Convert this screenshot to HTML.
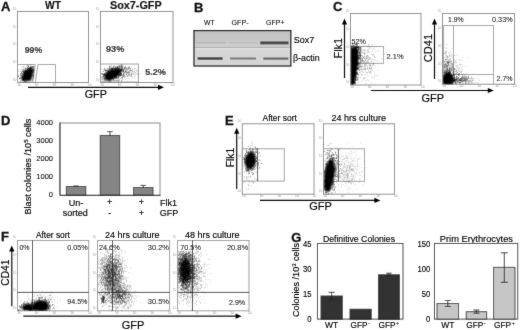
<!DOCTYPE html>
<html><head><meta charset="utf-8"><title>Figure</title>
<style>
html,body{margin:0;padding:0;background:#fff;}
svg{display:block;font-family:"Liberation Sans", sans-serif;}
</style></head><body>
<svg width="520" height="330" viewBox="0 0 520 330">
<defs>
<filter id="gb" x="0" y="0" width="520" height="330" filterUnits="userSpaceOnUse"><feConvolveMatrix order="3" kernelMatrix="0.015 0.06 0.015 0.06 0.70 0.06 0.015 0.06 0.015" divisor="1" edgeMode="duplicate" preserveAlpha="false"/></filter>
<filter id="b0_8" x="-50%" y="-50%" width="200%" height="200%"><feGaussianBlur stdDeviation="0.8"/></filter>
<filter id="b1_0" x="-50%" y="-50%" width="200%" height="200%"><feGaussianBlur stdDeviation="1.0"/></filter>
<filter id="b1_2" x="-50%" y="-50%" width="200%" height="200%"><feGaussianBlur stdDeviation="1.2"/></filter>
<filter id="b2_0" x="-50%" y="-50%" width="200%" height="200%"><feGaussianBlur stdDeviation="2.0"/></filter>
<filter id="b0_6" x="-20%" y="-200%" width="140%" height="500%"><feGaussianBlur stdDeviation="0.6"/></filter>
<linearGradient id="gel" x1="0" y1="0" x2="0" y2="1">
<stop offset="0" stop-color="#c2c2c2"/><stop offset="0.6" stop-color="#c8c8c8"/><stop offset="0.78" stop-color="#cecece"/><stop offset="1" stop-color="#cbcbcb"/>
</linearGradient>
</defs>
<rect width="520" height="330" fill="#fff"/>
<g filter="url(#gb)">
<text x="1" y="10.6" font-size="13" font-weight="bold" text-anchor="start" fill="#111"  stroke="#111" stroke-width="0.3">A</text>
<text x="45" y="8.75" font-size="10" font-weight="bold" text-anchor="start" fill="#111"  stroke="#111" stroke-width="0.12" textLength="15.9" lengthAdjust="spacingAndGlyphs">WT</text>
<text x="110" y="8.75" font-size="10" font-weight="bold" text-anchor="start" fill="#111"  stroke="#111" stroke-width="0.12" textLength="51.7" lengthAdjust="spacingAndGlyphs">Sox7-GFP</text>
<rect x="17.5" y="11.5" width="71.0" height="71.0" fill="#fff" stroke="#858585" stroke-width="0.9"/>
<text x="18.9" y="85.6" font-size="3.2" fill="#888" text-anchor="middle">10</text>
<text x="36.6" y="85.6" font-size="3.2" fill="#888" text-anchor="middle">10</text>
<text x="54.3" y="85.6" font-size="3.2" fill="#888" text-anchor="middle">10</text>
<text x="72.0" y="85.6" font-size="3.2" fill="#888" text-anchor="middle">10</text>
<text x="89.7" y="85.6" font-size="3.2" fill="#888" text-anchor="middle">10</text>
<text x="16.3" y="80.7" font-size="3.2" fill="#a2a2a2" text-anchor="end">10</text>
<text x="16.3" y="63.0" font-size="3.2" fill="#a2a2a2" text-anchor="end">10</text>
<text x="16.3" y="45.3" font-size="3.2" fill="#a2a2a2" text-anchor="end">10</text>
<text x="16.3" y="27.6" font-size="3.2" fill="#a2a2a2" text-anchor="end">10</text>
<text x="16.3" y="9.9" font-size="3.2" fill="#a2a2a2" text-anchor="end">10</text>
<polygon points="17.5,64.5 35.2,64.5 32.7,82.5 17.5,82.5" fill="none" stroke="#989898" stroke-width="0.9"/>
<polygon points="38.0,64.5 55.5,64.5 55.5,82.5 35.3,82.5" fill="none" stroke="#989898" stroke-width="0.9"/>
<path d="M21.6 80.2L22.8 75L27 69.2L33 67.2L33.4 71L31 80.8L24.5 81.2Z" fill="#000" filter="url(#b0_8)"/>
<path d="M28.3 74.5h0.7M24.8 73.4h0.7M24.0 73.9h0.7M30.8 76.2h0.7M24.8 74.7h0.7M29.8 72.9h0.7M25.8 72.0h0.7M29.1 75.3h0.7M22.7 78.1h0.7M19.3 78.6h0.7M21.8 80.3h0.7M24.6 79.1h0.7M27.6 73.1h0.7M27.7 74.4h0.7M22.2 78.7h0.7M23.0 76.1h0.7M28.8 68.7h0.7M29.5 75.7h0.7M25.7 75.9h0.7M28.1 73.7h0.7M24.3 78.6h0.7M27.9 66.3h0.7M30.3 71.1h0.7M30.4 79.9h0.7M27.0 69.1h0.7M29.1 74.8h0.7M28.6 75.9h0.7M28.9 75.4h0.7M30.1 67.6h0.7M27.1 72.4h0.7M25.2 71.4h0.7M25.5 75.7h0.7M32.8 72.8h0.7M22.0 77.4h0.7M24.9 68.1h0.7M26.1 75.5h0.7M32.7 70.7h0.7M25.8 74.5h0.7M30.4 77.6h0.7M25.7 75.0h0.7M28.3 72.5h0.7M24.5 72.7h0.7M26.6 73.2h0.7M32.4 70.9h0.7M29.1 75.3h0.7M29.0 77.1h0.7M28.9 75.1h0.7M24.7 79.3h0.7M18.2 76.5h0.7M24.7 73.5h0.7M33.2 77.4h0.7M23.8 75.9h0.7M29.3 74.1h0.7M26.6 74.3h0.7M30.8 72.4h0.7M24.5 77.6h0.7M25.3 72.0h0.7M26.4 71.5h0.7M30.8 70.8h0.7M26.5 72.6h0.7M22.7 70.9h0.7M25.2 78.7h0.7M27.0 78.5h0.7M24.5 70.8h0.7M26.8 73.7h0.7M24.9 72.8h0.7M29.5 69.0h0.7M25.6 72.8h0.7M22.9 74.0h0.7M30.8 69.2h0.7M30.4 70.5h0.7M24.9 75.9h0.7M26.0 76.0h0.7M25.9 74.8h0.7M21.9 77.6h0.7M30.8 66.8h0.7M25.4 78.4h0.7M28.3 66.3h0.7M25.6 73.6h0.7M27.7 74.2h0.7M26.5 77.5h0.7M25.7 75.7h0.7M21.7 75.8h0.7M30.2 68.3h0.7M28.3 72.9h0.7M25.2 74.7h0.7M28.7 71.2h0.7M27.2 74.6h0.7M32.5 71.0h0.7M27.4 71.6h0.7M25.9 80.7h0.7M30.0 70.2h0.7M30.9 73.4h0.7M32.1 72.6h0.7M29.8 78.4h0.7M26.0 80.1h0.7M31.0 73.8h0.7M20.5 75.1h0.7M27.6 69.2h0.7M29.5 75.5h0.7M18.1 76.2h0.7M28.4 73.1h0.7M27.0 75.0h0.7M21.7 74.4h0.7M24.9 72.9h0.7M24.1 80.9h0.7M28.4 74.9h0.7M23.3 76.4h0.7M22.7 76.0h0.7M26.4 71.9h0.7M29.4 73.3h0.7M29.9 70.6h0.7M24.2 71.5h0.7M28.0 77.0h0.7M27.6 74.4h0.7M29.4 77.1h0.7M22.5 70.1h0.7M21.1 73.0h0.7M31.5 69.3h0.7M22.1 76.6h0.7M31.2 70.2h0.7M27.6 73.7h0.7M29.5 75.3h0.7M29.7 72.4h0.7M25.8 78.7h0.7M28.2 78.4h0.7M23.7 78.4h0.7M24.6 71.7h0.7M28.1 77.1h0.7M22.7 68.0h0.7M28.2 73.0h0.7M25.4 71.8h0.7M26.4 74.7h0.7M31.7 70.3h0.7M31.1 76.7h0.7M25.1 75.3h0.7M32.4 72.1h0.7M29.7 71.8h0.7M27.6 72.8h0.7M27.1 74.8h0.7M33.2 69.5h0.7M26.1 73.2h0.7M29.5 79.2h0.7M29.2 72.3h0.7M24.1 73.3h0.7M29.4 75.8h0.7M26.0 75.0h0.7M27.2 75.0h0.7M22.6 79.4h0.7M27.2 78.7h0.7M26.7 77.8h0.7M31.2 67.9h0.7M26.3 76.5h0.7M25.3 72.2h0.7M33.5 75.9h0.7M26.4 74.6h0.7M25.4 78.4h0.7M21.5 76.5h0.7M29.2 67.7h0.7M29.6 74.0h0.7M32.7 66.6h0.7M22.8 73.7h0.7M31.1 76.5h0.7M28.2 68.8h0.7M24.0 76.2h0.7M28.0 72.6h0.7M28.9 73.8h0.7M26.7 75.0h0.7M28.0 73.1h0.7M33.3 75.5h0.7M29.4 72.0h0.7M23.7 80.8h0.7M18.9 78.5h0.7M31.6 72.2h0.7M23.3 71.5h0.7M25.0 74.1h0.7M26.4 71.8h0.7M24.2 78.1h0.7M24.5 72.6h0.7M25.3 71.5h0.7M33.2 71.9h0.7M29.6 69.2h0.7M28.8 71.9h0.7M25.7 74.8h0.7M20.6 76.1h0.7M29.4 70.8h0.7M30.5 75.0h0.7M20.9 78.9h0.7M29.0 74.1h0.7M28.9 77.2h0.7M25.4 71.1h0.7M26.8 78.8h0.7M24.6 68.9h0.7M32.8 70.2h0.7M30.5 68.4h0.7M24.2 73.1h0.7M30.6 67.1h0.7M24.2 70.4h0.7M28.8 77.1h0.7M26.5 80.5h0.7M26.2 70.9h0.7M25.1 75.0h0.7M26.2 73.2h0.7M24.6 76.5h0.7M21.7 75.4h0.7M29.5 75.8h0.7M23.3 79.6h0.7M23.5 74.6h0.7M28.8 70.0h0.7M30.1 67.2h0.7M28.2 72.2h0.7M26.8 77.8h0.7M28.5 75.6h0.7M25.0 72.2h0.7M27.4 74.5h0.7M28.2 68.9h0.7M23.6 71.1h0.7M27.0 69.7h0.7M22.3 80.4h0.7M27.2 67.3h0.7M22.8 76.6h0.7M25.3 78.8h0.7M23.7 75.6h0.7M27.5 70.5h0.7M26.6 70.7h0.7M20.0 75.1h0.7M32.1 66.7h0.7M28.2 73.1h0.7M28.2 73.5h0.7M30.6 65.2h0.7M20.9 77.8h0.7M25.5 80.2h0.7M27.7 69.3h0.7M22.9 78.4h0.7M26.6 70.2h0.7M28.1 68.3h0.7M23.3 72.3h0.7M28.0 80.0h0.7M29.0 70.3h0.7M20.8 73.8h0.7M26.4 75.4h0.7M27.1 74.1h0.7M24.3 77.9h0.7M30.4 76.4h0.7M32.6 67.0h0.7M25.3 76.7h0.7M24.2 74.9h0.7M25.0 72.3h0.7M29.1 71.6h0.7M27.9 72.8h0.7M23.4 74.9h0.7M25.7 73.9h0.7M28.3 73.1h0.7M23.9 79.1h0.7M22.4 77.8h0.7M22.0 71.4h0.7M28.2 73.9h0.7M26.2 73.8h0.7M24.3 73.6h0.7M25.6 74.0h0.7M25.1 71.5h0.7M28.6 73.4h0.7M26.2 73.7h0.7M25.4 69.0h0.7M29.5 72.8h0.7M29.3 73.7h0.7M25.2 75.9h0.7M30.4 72.5h0.7M24.7 70.5h0.7M31.8 74.1h0.7M31.0 70.8h0.7M25.3 81.3h0.7M21.4 70.0h0.7M25.3 70.0h0.7M22.5 77.6h0.7M30.4 68.7h0.7M32.4 76.1h0.7M31.9 68.0h0.7M24.0 72.6h0.7M26.6 77.3h0.7M29.0 72.8h0.7M28.7 69.0h0.7M29.1 75.5h0.7M31.7 73.8h0.7M28.0 72.0h0.7M26.3 70.9h0.7M24.3 81.0h0.7M28.1 74.8h0.7M22.0 79.5h0.7M23.9 74.6h0.7M20.4 81.6h0.7M31.0 71.4h0.7M25.9 76.2h0.7M23.4 66.3h0.7M28.5 75.4h0.7M33.4 74.6h0.7M31.5 70.4h0.7M30.3 74.3h0.7M26.0 75.9h0.7M27.0 74.5h0.7M31.2 75.7h0.7M30.9 76.7h0.7M24.4 77.2h0.7M28.8 76.1h0.7M27.1 67.5h0.7M25.8 77.9h0.7M22.3 73.7h0.7M31.7 71.1h0.7M27.9 71.4h0.7M30.0 69.8h0.7M28.6 68.4h0.7M25.6 77.5h0.7M27.2 77.8h0.7M26.2 71.4h0.7M27.0 73.1h0.7M28.7 69.6h0.7M29.1 77.8h0.7M28.3 74.2h0.7M31.7 68.2h0.7M25.1 77.7h0.7M27.0 70.9h0.7M19.7 77.4h0.7M27.8 70.2h0.7M27.7 74.9h0.7M28.6 71.2h0.7M27.0 70.6h0.7M24.2 73.5h0.7M30.7 69.8h0.7M24.7 76.1h0.7M28.6 76.1h0.7M20.7 77.9h0.7M32.3 79.9h0.7M30.1 70.3h0.7M26.1 74.2h0.7M32.2 70.5h0.7M28.3 70.7h0.7M30.8 73.2h0.7M28.0 75.5h0.7M28.8 70.9h0.7M23.7 80.8h0.7M24.7 76.1h0.7M25.1 75.6h0.7M30.9 75.1h0.7M33.3 66.9h0.7M20.5 78.9h0.7M23.0 77.5h0.7M23.3 70.1h0.7M25.1 70.1h0.7M28.2 72.7h0.7M26.5 75.0h0.7M24.7 74.9h0.7M22.8 80.0h0.7M33.0 70.5h0.7M29.0 79.0h0.7M27.3 74.1h0.7M27.0 75.2h0.7M26.2 75.4h0.7M23.7 77.3h0.7M28.1 75.8h0.7M27.1 69.4h0.7M29.1 76.4h0.7M28.6 73.2h0.7M30.5 67.2h0.7M26.6 72.8h0.7M27.4 65.1h0.7M24.5 75.5h0.7M30.9 72.7h0.7M28.0 66.1h0.7M29.1 70.8h0.7M26.9 77.4h0.7M20.2 73.6h0.7M23.1 72.7h0.7M26.6 77.0h0.7M32.1 75.7h0.7M23.5 72.0h0.7M23.4 75.1h0.7M25.1 79.2h0.7M21.3 72.8h0.7M29.3 71.3h0.7M28.9 72.9h0.7M29.5 71.8h0.7M32.1 70.3h0.7M29.6 73.3h0.7M23.1 79.0h0.7M27.3 75.3h0.7M25.1 71.5h0.7M22.1 79.7h0.7M25.7 73.0h0.7M26.4 72.5h0.7M27.5 70.7h0.7M29.7 75.9h0.7M24.4 74.2h0.7M27.2 69.1h0.7M26.2 75.7h0.7M22.6 75.8h0.7M21.5 72.0h0.7" stroke="#000" stroke-width="0.7" fill="none" opacity="0.8"/>
<path d="M20.3 80.3h0.6M26.9 73.3h0.6M31.8 72.2h0.6M23.8 72.6h0.6M27.4 70.0h0.6M20.0 78.0h0.6M33.1 68.2h0.6M29.7 67.8h0.6M28.5 68.5h0.6M28.2 69.6h0.6M27.8 75.7h0.6M29.9 67.5h0.6M27.4 74.7h0.6M32.9 69.1h0.6M26.4 67.8h0.6M30.7 71.5h0.6M33.5 78.4h0.6M23.2 78.6h0.6M31.2 74.2h0.6M26.4 77.4h0.6M26.4 76.1h0.6M22.7 72.2h0.6M29.8 76.9h0.6M22.6 78.4h0.6M25.9 68.6h0.6M24.2 70.9h0.6M30.1 71.3h0.6M32.5 78.0h0.6M31.5 78.4h0.6M25.5 71.9h0.6M30.5 75.1h0.6M28.7 75.6h0.6M18.0 71.4h0.6M32.6 72.1h0.6M27.8 74.0h0.6M29.3 68.4h0.6M23.8 77.4h0.6M26.8 65.3h0.6M29.3 67.2h0.6M22.3 71.6h0.6M28.8 78.6h0.6M30.0 67.8h0.6M30.9 74.4h0.6M25.8 78.5h0.6M25.1 73.3h0.6M25.4 77.0h0.6M25.2 72.9h0.6M29.1 79.4h0.6M30.7 75.8h0.6M33.4 70.3h0.6M28.9 69.9h0.6M32.1 73.4h0.6M29.5 70.8h0.6M30.8 74.0h0.6M30.1 77.5h0.6M23.2 73.3h0.6M25.4 70.4h0.6M18.4 74.8h0.6M28.5 75.9h0.6M30.3 69.3h0.6M30.9 69.6h0.6M28.6 76.4h0.6M29.8 68.6h0.6M25.6 75.2h0.6M24.3 71.8h0.6M29.5 68.6h0.6M26.0 70.2h0.6M29.6 73.8h0.6M28.4 68.3h0.6M27.0 77.4h0.6M27.4 74.3h0.6M20.0 71.2h0.6M18.8 69.8h0.6M26.0 70.9h0.6M23.6 77.3h0.6M23.3 69.5h0.6M24.9 67.9h0.6M27.0 72.3h0.6M28.7 76.3h0.6M24.2 71.4h0.6M28.3 71.1h0.6M29.9 70.5h0.6M28.8 78.2h0.6M23.1 74.1h0.6M21.5 72.2h0.6M27.6 66.2h0.6M22.4 77.6h0.6M28.0 67.6h0.6M27.4 80.1h0.6" stroke="#000" stroke-width="0.6" fill="none" opacity="0.5"/>
<text x="24.75" y="53.1" font-size="9.6" font-weight="bold" text-anchor="start" fill="#111"  stroke="#111" stroke-width="0.12" textLength="17.5" lengthAdjust="spacingAndGlyphs">99%</text>
<rect x="100.5" y="11.5" width="72.5" height="71.0" fill="#fff" stroke="#858585" stroke-width="0.9"/>
<text x="101.9" y="85.6" font-size="3.2" fill="#888" text-anchor="middle">10</text>
<text x="119.6" y="85.6" font-size="3.2" fill="#888" text-anchor="middle">10</text>
<text x="137.3" y="85.6" font-size="3.2" fill="#888" text-anchor="middle">10</text>
<text x="155.0" y="85.6" font-size="3.2" fill="#888" text-anchor="middle">10</text>
<text x="172.7" y="85.6" font-size="3.2" fill="#888" text-anchor="middle">10</text>
<text x="99.3" y="80.7" font-size="3.2" fill="#a2a2a2" text-anchor="end">10</text>
<text x="99.3" y="63.0" font-size="3.2" fill="#a2a2a2" text-anchor="end">10</text>
<text x="99.3" y="45.3" font-size="3.2" fill="#a2a2a2" text-anchor="end">10</text>
<text x="99.3" y="27.6" font-size="3.2" fill="#a2a2a2" text-anchor="end">10</text>
<text x="99.3" y="9.9" font-size="3.2" fill="#a2a2a2" text-anchor="end">10</text>
<rect x="100.5" y="64" width="38" height="18" fill="none" stroke="#989898" stroke-width="0.9"/>
<ellipse cx="112.5" cy="74.2" rx="9.00" ry="4.65" transform="rotate(-30 112.5 74.2)" fill="#000" opacity="1.0" filter="url(#b1_0)"/>
<path d="M116.6 70.4h0.7M103.9 73.4h0.7M105.1 70.1h0.7M115.6 70.1h0.7M118.2 78.0h0.7M117.0 67.3h0.7M119.1 74.7h0.7M106.9 73.9h0.7M109.3 70.0h0.7M106.0 76.9h0.7M111.5 75.4h0.7M113.6 72.7h0.7M111.3 72.2h0.7M113.6 74.4h0.7M106.5 75.3h0.7M117.4 72.7h0.7M118.2 80.3h0.7M117.1 72.4h0.7M110.5 73.3h0.7M110.4 73.3h0.7M115.9 70.7h0.7M108.1 72.2h0.7M110.8 71.8h0.7M113.2 77.7h0.7M115.3 74.5h0.7M114.5 73.2h0.7M111.3 73.7h0.7M114.9 68.8h0.7M119.9 70.1h0.7M107.6 75.2h0.7M109.1 76.8h0.7M110.4 79.7h0.7M104.5 70.3h0.7M105.2 70.8h0.7M114.0 77.3h0.7M113.9 68.4h0.7M114.2 73.2h0.7M122.3 77.8h0.7M119.8 70.5h0.7M115.4 74.8h0.7M107.4 73.1h0.7M111.2 71.4h0.7M112.3 74.7h0.7M111.6 74.1h0.7M116.6 75.8h0.7M108.5 73.4h0.7M102.0 76.8h0.7M115.5 72.6h0.7M106.4 76.3h0.7M113.5 75.5h0.7M108.9 75.4h0.7M111.0 75.9h0.7M109.1 73.1h0.7M112.2 74.4h0.7M109.0 69.2h0.7M110.3 72.3h0.7M109.9 76.6h0.7M117.5 74.7h0.7M111.3 78.4h0.7M120.8 73.7h0.7M119.8 69.4h0.7M112.9 77.1h0.7M105.4 79.1h0.7M109.0 74.8h0.7M101.5 77.2h0.7M113.8 76.8h0.7M117.8 70.9h0.7M110.1 72.5h0.7M114.3 72.2h0.7M118.7 77.2h0.7M109.9 70.1h0.7M105.4 72.8h0.7M111.3 69.2h0.7M118.1 75.7h0.7M109.4 73.4h0.7M111.1 76.1h0.7M117.9 75.5h0.7M121.0 73.7h0.7M121.0 71.8h0.7M103.9 78.7h0.7M113.6 72.1h0.7M116.9 70.3h0.7M109.8 81.2h0.7M116.5 72.7h0.7M119.3 74.3h0.7M110.4 66.2h0.7M108.1 75.0h0.7M107.5 77.9h0.7M118.2 69.1h0.7M108.0 72.1h0.7M114.5 74.7h0.7M109.9 78.6h0.7M108.3 73.1h0.7M114.7 75.8h0.7M109.6 77.1h0.7M110.9 80.3h0.7M112.0 74.0h0.7M117.9 74.4h0.7M119.9 71.1h0.7M108.3 74.6h0.7M116.2 74.2h0.7M120.8 71.0h0.7M120.8 75.1h0.7M111.0 69.5h0.7M103.7 73.9h0.7M119.8 66.8h0.7M120.2 72.0h0.7M123.5 71.6h0.7M111.6 74.0h0.7M113.2 74.4h0.7M109.6 75.8h0.7M112.4 70.8h0.7M114.9 76.0h0.7M113.4 76.6h0.7M110.2 77.9h0.7M109.3 66.3h0.7M108.7 77.2h0.7M121.4 70.1h0.7M111.6 69.4h0.7M123.2 74.8h0.7M112.3 73.5h0.7M128.4 67.7h0.7M120.3 71.7h0.7M109.3 81.1h0.7M105.4 77.5h0.7M115.5 75.8h0.7M115.4 74.0h0.7M106.2 73.0h0.7M111.7 72.0h0.7M103.3 74.8h0.7M106.8 70.5h0.7M102.5 73.8h0.7M114.2 74.8h0.7M110.3 78.9h0.7M110.8 74.0h0.7M121.3 67.9h0.7M104.0 74.1h0.7M114.8 74.0h0.7M103.4 75.7h0.7M116.4 74.1h0.7M110.0 78.0h0.7M112.7 67.4h0.7M111.5 76.4h0.7M105.9 70.0h0.7M112.2 77.2h0.7M119.7 74.7h0.7M118.1 71.5h0.7M107.2 79.6h0.7M104.5 69.3h0.7M129.1 67.3h0.7M120.9 65.9h0.7M123.1 74.1h0.7M120.9 69.2h0.7M105.7 77.5h0.7M111.4 71.1h0.7M111.4 74.4h0.7M125.1 71.8h0.7M114.2 77.7h0.7M107.7 75.7h0.7M115.4 67.8h0.7M108.8 71.4h0.7M115.8 78.4h0.7M108.8 77.2h0.7M105.7 73.8h0.7M126.2 68.1h0.7M109.7 78.4h0.7M112.0 77.5h0.7M114.5 74.1h0.7M114.9 70.7h0.7M107.5 70.6h0.7M107.8 71.6h0.7M110.2 72.0h0.7M113.8 75.2h0.7M103.4 76.4h0.7M108.6 79.3h0.7M123.2 71.2h0.7M113.0 79.4h0.7M104.4 68.4h0.7M129.5 70.3h0.7M107.1 77.9h0.7M111.5 75.2h0.7M103.3 77.0h0.7M115.4 73.4h0.7M119.2 70.6h0.7M110.8 68.0h0.7M108.2 78.7h0.7M110.5 71.5h0.7M109.8 73.8h0.7M111.1 77.9h0.7M115.1 70.5h0.7M108.0 77.9h0.7M113.6 77.4h0.7M128.4 68.2h0.7M112.0 73.8h0.7M106.4 74.3h0.7M106.4 76.2h0.7M111.4 77.6h0.7M110.0 74.9h0.7M118.2 77.6h0.7M119.3 75.9h0.7M112.3 77.0h0.7M121.7 75.3h0.7M116.0 75.0h0.7M118.4 68.3h0.7M113.3 70.4h0.7M107.7 74.6h0.7M111.9 75.1h0.7M112.7 68.7h0.7M125.5 71.2h0.7M116.0 70.8h0.7M112.9 76.1h0.7M112.0 68.0h0.7M121.5 80.2h0.7M114.4 72.7h0.7M118.2 66.3h0.7M115.9 77.9h0.7M110.7 73.6h0.7M112.4 72.5h0.7M119.7 66.6h0.7M115.3 67.7h0.7M116.1 71.7h0.7M105.8 76.4h0.7M119.3 66.0h0.7M115.7 78.3h0.7M112.8 70.6h0.7M114.2 78.0h0.7M117.8 71.2h0.7M112.6 73.7h0.7M110.6 70.9h0.7M111.0 77.9h0.7M115.9 71.7h0.7M108.8 76.4h0.7M116.2 70.2h0.7M116.6 76.5h0.7M116.2 72.2h0.7M125.6 69.2h0.7M111.7 77.5h0.7M113.4 70.4h0.7M112.6 73.5h0.7M110.2 73.8h0.7M102.7 78.5h0.7M112.4 74.6h0.7M107.2 79.7h0.7M105.3 77.5h0.7M118.7 68.0h0.7M111.4 79.0h0.7M109.8 74.6h0.7M115.5 76.5h0.7M105.0 74.3h0.7M106.3 74.5h0.7M112.7 70.7h0.7M113.9 75.0h0.7M108.6 76.9h0.7M122.2 69.8h0.7M108.8 76.1h0.7M107.8 77.9h0.7M116.0 69.1h0.7M113.2 78.1h0.7M110.0 76.3h0.7M105.4 75.1h0.7M109.4 74.0h0.7M109.2 75.5h0.7M116.4 72.7h0.7M124.1 68.3h0.7M120.8 70.4h0.7M113.5 68.2h0.7M111.7 74.4h0.7M107.7 68.9h0.7M116.7 70.3h0.7M109.7 74.9h0.7M111.9 76.1h0.7M104.1 75.6h0.7M114.3 73.7h0.7M109.5 73.8h0.7M107.9 76.7h0.7M117.2 67.5h0.7M122.2 71.8h0.7M111.3 77.8h0.7M101.7 73.9h0.7M104.8 77.1h0.7M109.9 73.8h0.7M109.6 67.9h0.7M112.9 68.6h0.7M108.2 75.1h0.7M104.0 74.0h0.7M107.0 77.3h0.7M116.6 73.9h0.7M105.8 75.1h0.7M108.2 78.4h0.7M108.6 73.5h0.7M116.0 76.0h0.7M116.1 76.1h0.7M115.2 77.2h0.7M119.1 70.0h0.7M120.6 70.1h0.7M111.5 71.3h0.7M112.2 77.3h0.7M106.4 80.2h0.7M114.9 73.9h0.7M114.8 70.0h0.7M109.1 67.2h0.7M115.1 70.2h0.7M114.3 66.3h0.7M115.9 71.4h0.7M115.4 69.0h0.7M106.8 74.8h0.7M109.3 72.2h0.7M121.8 75.3h0.7M105.8 71.6h0.7M120.7 73.6h0.7M118.9 74.9h0.7M107.5 76.5h0.7M102.6 74.6h0.7M116.8 69.2h0.7M125.1 67.2h0.7M110.3 78.5h0.7M123.1 69.9h0.7M106.5 79.1h0.7M119.2 68.5h0.7M109.9 79.5h0.7M111.5 70.7h0.7M109.2 73.3h0.7M114.3 73.6h0.7M119.9 72.6h0.7M104.6 80.3h0.7M118.1 72.7h0.7M117.2 69.4h0.7M108.8 79.8h0.7M103.2 71.5h0.7M116.9 68.9h0.7M108.6 71.2h0.7M103.4 75.1h0.7M111.1 76.4h0.7M104.3 74.9h0.7M116.1 71.9h0.7M108.2 77.6h0.7M115.9 77.5h0.7M111.7 78.5h0.7M110.3 79.7h0.7M107.7 75.6h0.7M123.4 69.1h0.7M116.7 80.2h0.7M113.1 70.8h0.7M114.6 68.6h0.7M120.6 74.0h0.7M108.4 74.2h0.7M113.5 73.7h0.7M108.1 78.9h0.7M109.9 74.7h0.7M112.2 69.8h0.7M115.4 71.8h0.7M106.7 72.4h0.7M106.6 78.9h0.7M107.3 77.4h0.7M120.0 73.8h0.7M120.5 68.4h0.7M108.2 80.5h0.7M116.0 76.4h0.7M114.5 77.5h0.7M118.3 73.6h0.7M115.9 73.7h0.7M114.1 74.1h0.7M117.1 69.6h0.7M121.8 68.4h0.7M117.7 70.8h0.7M114.5 80.7h0.7M108.7 71.6h0.7M108.1 75.6h0.7M124.6 68.0h0.7M116.0 68.4h0.7M115.5 75.0h0.7M121.2 66.6h0.7M116.3 73.2h0.7M106.9 77.4h0.7M107.3 68.5h0.7M116.6 73.8h0.7M107.9 71.8h0.7M121.0 70.3h0.7M120.3 75.0h0.7M111.0 78.1h0.7M111.1 74.8h0.7M112.0 74.5h0.7M118.8 71.0h0.7M111.2 73.9h0.7M112.9 70.6h0.7M109.7 75.6h0.7M109.2 75.6h0.7M120.5 71.3h0.7M115.8 80.5h0.7M114.1 72.9h0.7M114.7 74.1h0.7M120.2 69.7h0.7M122.5 65.1h0.7M114.7 69.2h0.7M121.9 67.5h0.7M113.7 77.0h0.7M117.5 67.1h0.7M108.3 71.4h0.7M113.1 73.5h0.7M109.5 73.4h0.7M109.2 73.3h0.7M117.9 76.8h0.7M101.8 80.0h0.7M111.0 76.9h0.7M107.1 76.8h0.7M108.0 79.4h0.7M112.8 73.4h0.7M114.1 72.3h0.7M105.0 80.8h0.7M113.8 72.9h0.7M119.9 74.5h0.7M105.3 75.4h0.7M123.3 73.3h0.7M106.5 73.2h0.7M108.2 74.8h0.7M103.9 79.3h0.7M103.5 74.8h0.7M116.4 69.4h0.7M113.1 76.2h0.7M116.4 70.7h0.7M111.4 71.7h0.7M123.1 70.5h0.7M106.5 77.7h0.7M117.2 73.3h0.7M124.7 72.3h0.7M109.4 75.6h0.7M105.9 78.9h0.7M117.7 81.3h0.7M109.6 68.0h0.7M109.0 76.6h0.7M104.2 75.7h0.7M111.1 76.3h0.7M110.2 72.2h0.7M115.9 70.2h0.7M107.5 71.9h0.7M109.3 78.5h0.7M103.6 79.1h0.7M115.8 70.9h0.7M112.0 70.3h0.7M121.4 73.2h0.7M110.9 68.5h0.7M108.4 80.2h0.7M122.3 69.6h0.7M118.3 68.6h0.7M111.5 74.8h0.7M112.3 68.6h0.7M119.8 75.0h0.7M104.0 74.0h0.7M113.3 71.3h0.7M112.6 72.4h0.7M124.3 67.9h0.7M108.6 76.9h0.7M105.6 75.3h0.7M113.7 71.4h0.7M112.8 80.3h0.7M118.5 73.8h0.7M116.2 73.9h0.7M120.4 69.6h0.7M121.1 65.7h0.7M108.9 71.1h0.7M111.5 76.7h0.7M119.3 67.8h0.7M111.9 73.2h0.7M106.5 73.2h0.7M110.0 69.1h0.7M113.1 73.9h0.7M107.3 73.4h0.7M115.2 71.3h0.7M107.9 80.8h0.7M120.4 66.1h0.7M112.6 78.1h0.7M117.6 78.8h0.7M110.3 77.5h0.7M104.9 70.3h0.7M111.6 74.2h0.7M122.4 67.2h0.7M113.4 75.9h0.7M121.1 69.0h0.7M119.0 72.4h0.7M111.0 75.4h0.7M111.2 71.5h0.7M116.9 66.5h0.7M120.4 73.2h0.7M110.7 72.3h0.7M112.0 76.2h0.7M117.0 72.7h0.7M117.0 69.5h0.7M111.2 69.0h0.7M116.9 72.2h0.7M112.1 78.8h0.7M110.3 70.0h0.7M122.4 77.9h0.7M109.8 76.0h0.7M111.7 76.0h0.7M118.1 75.8h0.7M107.9 77.9h0.7M120.0 72.6h0.7M106.2 75.2h0.7M109.9 75.5h0.7M116.7 66.9h0.7M116.0 74.4h0.7M116.3 73.8h0.7M121.6 70.8h0.7M118.1 73.1h0.7M119.1 69.4h0.7M109.4 72.4h0.7M101.7 79.0h0.7M109.6 77.8h0.7M113.6 72.6h0.7M107.3 74.2h0.7M105.4 76.2h0.7M112.2 73.7h0.7M104.3 77.9h0.7M107.9 77.5h0.7M123.7 70.1h0.7M108.1 70.6h0.7M102.0 73.9h0.7M115.2 69.8h0.7M111.8 72.2h0.7M115.3 77.9h0.7M108.2 75.4h0.7M109.5 79.2h0.7M105.1 74.2h0.7M102.6 74.6h0.7M119.3 80.0h0.7M108.6 80.0h0.7M112.1 70.3h0.7M110.6 74.4h0.7M102.7 81.3h0.7M113.4 71.5h0.7M114.7 76.2h0.7M114.0 74.9h0.7M113.0 66.3h0.7M124.3 76.0h0.7M119.5 74.0h0.7M104.6 78.3h0.7M107.1 75.1h0.7M116.5 68.9h0.7M108.7 69.2h0.7M111.8 75.0h0.7M107.5 74.4h0.7M120.8 64.8h0.7M105.5 75.2h0.7M122.5 76.3h0.7M113.1 71.1h0.7M111.9 78.5h0.7M109.9 81.2h0.7M120.3 69.9h0.7M117.2 74.3h0.7M119.3 66.3h0.7M118.3 69.4h0.7M108.5 76.9h0.7" stroke="#000" stroke-width="0.7" fill="none" opacity="0.85"/>
<path d="M108.9 71.5h0.6M126.8 75.4h0.6M119.5 75.9h0.6M108.7 76.0h0.6M112.2 69.1h0.6M105.8 78.6h0.6M108.0 71.6h0.6M114.7 71.7h0.6M119.7 70.0h0.6M110.7 75.9h0.6M109.9 72.5h0.6M111.2 78.5h0.6M119.7 76.2h0.6M110.0 76.5h0.6M108.3 74.2h0.6M118.4 71.7h0.6M118.3 68.1h0.6M116.8 68.2h0.6M119.9 68.9h0.6M106.1 76.1h0.6M107.5 78.0h0.6M113.8 73.6h0.6M109.2 67.0h0.6M116.6 77.3h0.6M113.6 71.7h0.6M111.0 74.4h0.6M107.4 74.3h0.6M114.4 77.7h0.6M110.9 75.5h0.6M112.3 76.6h0.6M118.8 71.7h0.6M106.1 74.1h0.6M123.6 66.5h0.6M113.5 80.7h0.6M121.2 71.7h0.6M116.4 74.6h0.6M108.3 69.8h0.6M104.0 81.1h0.6M114.7 71.7h0.6M101.3 73.7h0.6M107.2 70.3h0.6M121.2 74.7h0.6M134.2 65.9h0.6M106.5 73.4h0.6M113.3 78.4h0.6M118.0 73.9h0.6M115.4 75.7h0.6M106.4 71.0h0.6M126.6 72.3h0.6M115.3 66.8h0.6M113.2 72.6h0.6M112.7 73.2h0.6M115.3 70.7h0.6M119.0 71.6h0.6M110.2 75.0h0.6M111.1 78.9h0.6M111.2 76.4h0.6M106.6 70.4h0.6M116.6 66.7h0.6M118.1 73.0h0.6M107.2 73.3h0.6M111.6 76.6h0.6M110.1 77.1h0.6M107.2 77.1h0.6M116.7 72.0h0.6M107.0 72.1h0.6M114.4 74.8h0.6M109.1 72.5h0.6M121.5 81.0h0.6M111.1 76.6h0.6M111.9 71.1h0.6M121.7 67.7h0.6M106.6 76.6h0.6M112.5 71.5h0.6M109.3 69.5h0.6M112.5 77.9h0.6M127.8 68.8h0.6M116.9 77.4h0.6M123.1 76.1h0.6M119.8 69.4h0.6M114.7 73.8h0.6M115.0 73.7h0.6M102.6 69.7h0.6M103.5 69.6h0.6M113.0 73.9h0.6M118.8 71.0h0.6M128.1 74.2h0.6M116.5 73.9h0.6M117.6 67.8h0.6M106.6 73.6h0.6M107.0 76.9h0.6M116.4 71.6h0.6M111.2 65.8h0.6M105.8 75.4h0.6M111.5 71.9h0.6M118.9 70.2h0.6M112.6 74.2h0.6M116.5 69.6h0.6M121.3 71.3h0.6M113.7 73.7h0.6M118.3 75.8h0.6M119.9 71.7h0.6M118.9 71.1h0.6M121.2 69.0h0.6M110.8 69.5h0.6" stroke="#000" stroke-width="0.6" fill="none" opacity="0.55"/>
<path d="M123.8 69.8h0.6M137.6 74.5h0.6M115.6 74.7h0.6M122.6 79.3h0.6M118.7 65.2h0.6M125.4 71.6h0.6M122.5 65.5h0.6M127.6 78.5h0.6M113.5 76.8h0.6M121.6 80.8h0.6M127.6 72.2h0.6M131.6 74.6h0.6M121.4 75.2h0.6M121.9 66.7h0.6M137.2 71.6h0.6M121.3 74.0h0.6M115.6 68.2h0.6M122.0 71.0h0.6M125.4 76.6h0.6M122.2 74.5h0.6M128.6 69.1h0.6M126.4 69.6h0.6M131.4 74.3h0.6M125.1 68.2h0.6M125.7 70.2h0.6M129.2 72.4h0.6M120.1 75.9h0.6M129.3 70.8h0.6M132.0 71.8h0.6M123.1 73.2h0.6M120.5 71.3h0.6M124.0 78.0h0.6M134.0 71.9h0.6M134.7 72.7h0.6M127.3 75.8h0.6M126.8 81.0h0.6M126.5 68.7h0.6M132.8 71.4h0.6M131.0 75.6h0.6M129.8 76.1h0.6M135.1 72.6h0.6M130.6 70.3h0.6M122.9 76.4h0.6M127.3 68.3h0.6M127.2 72.2h0.6M120.1 74.3h0.6M122.6 67.5h0.6M118.3 78.8h0.6M115.9 73.6h0.6M128.7 75.0h0.6M117.6 71.7h0.6M125.8 75.5h0.6M121.1 68.8h0.6M131.0 76.6h0.6M127.2 70.7h0.6M127.4 73.2h0.6M130.0 68.6h0.6M125.7 72.3h0.6M118.3 73.5h0.6M125.2 71.4h0.6M127.4 68.0h0.6M124.7 74.3h0.6M126.7 76.5h0.6M117.8 67.7h0.6M126.4 74.3h0.6M137.7 74.9h0.6M119.8 75.5h0.6M119.9 67.7h0.6M140.7 73.9h0.6M129.3 74.7h0.6M135.9 73.8h0.6M132.3 69.3h0.6M116.6 77.7h0.6M133.8 74.5h0.6M126.4 73.4h0.6M120.9 78.0h0.6M129.0 74.5h0.6M127.3 76.4h0.6M128.0 75.3h0.6M118.0 74.5h0.6M138.1 71.0h0.6M124.2 75.8h0.6M130.7 74.9h0.6M115.3 74.5h0.6M117.9 70.0h0.6M128.3 71.8h0.6M129.7 75.3h0.6M119.6 70.6h0.6M118.6 71.0h0.6M118.4 70.6h0.6M123.7 69.4h0.6M116.5 68.2h0.6M127.7 73.0h0.6M131.2 76.4h0.6M123.0 75.1h0.6M116.4 80.6h0.6M132.2 72.1h0.6M118.0 74.1h0.6M113.8 70.2h0.6M129.5 73.1h0.6M122.1 76.0h0.6M118.8 73.8h0.6M122.0 69.9h0.6M127.8 69.4h0.6M136.4 70.8h0.6M136.9 69.1h0.6M128.6 68.7h0.6M117.0 73.3h0.6M129.1 68.5h0.6M132.1 70.1h0.6M125.8 74.1h0.6M128.6 66.7h0.6M134.7 74.7h0.6M122.4 69.3h0.6M114.8 68.2h0.6M128.3 71.6h0.6M118.2 71.0h0.6M134.4 71.7h0.6M121.5 77.4h0.6M127.8 73.0h0.6M121.4 67.5h0.6M118.0 71.2h0.6M123.7 74.0h0.6M128.3 73.6h0.6M126.3 69.4h0.6M112.1 71.0h0.6M119.3 70.6h0.6M123.4 68.6h0.6M118.3 72.5h0.6M125.7 70.6h0.6M128.0 72.1h0.6M118.9 72.9h0.6M136.3 70.5h0.6M132.0 77.5h0.6M134.0 70.0h0.6M137.1 73.2h0.6M123.5 72.0h0.6M128.6 73.0h0.6M123.9 77.2h0.6M120.7 69.3h0.6M129.8 75.2h0.6M131.6 69.2h0.6M131.5 74.4h0.6M135.6 68.6h0.6M126.3 71.9h0.6M115.5 70.4h0.6M131.8 71.2h0.6M120.7 75.8h0.6M130.9 76.2h0.6M120.3 72.6h0.6M131.2 70.6h0.6M120.5 75.6h0.6M134.4 68.9h0.6M109.4 67.9h0.6M118.9 72.3h0.6M128.7 72.3h0.6M120.8 73.3h0.6M119.2 72.6h0.6M121.2 81.9h0.6M129.9 70.0h0.6M119.0 71.3h0.6M115.1 70.3h0.6M120.6 75.8h0.6M122.4 70.1h0.6M117.0 68.8h0.6M124.6 72.1h0.6M131.8 70.7h0.6M131.4 73.7h0.6M125.0 66.0h0.6M117.3 75.3h0.6M133.4 73.5h0.6M129.6 71.4h0.6M122.8 70.5h0.6M130.8 74.0h0.6M123.6 71.7h0.6M128.3 73.9h0.6M120.0 78.6h0.6M126.5 72.8h0.6M133.9 76.3h0.6M124.5 74.6h0.6M118.6 70.6h0.6M111.4 76.9h0.6M113.6 75.1h0.6M120.0 69.5h0.6M123.8 73.7h0.6M128.7 78.8h0.6M127.2 75.8h0.6M121.4 75.2h0.6M125.9 71.2h0.6M124.4 72.6h0.6M126.1 74.2h0.6M121.9 70.3h0.6M129.5 67.0h0.6M121.3 78.1h0.6M108.8 70.4h0.6M129.1 67.2h0.6M133.6 78.1h0.6M130.5 72.0h0.6M127.1 69.7h0.6M129.9 69.0h0.6M123.4 76.2h0.6M118.3 71.6h0.6M126.0 68.2h0.6M132.0 74.0h0.6M115.9 72.6h0.6M120.3 70.6h0.6M125.5 70.4h0.6M130.8 70.4h0.6M130.9 72.7h0.6M130.1 71.0h0.6M122.0 68.9h0.6M128.5 76.0h0.6M137.7 77.2h0.6M126.5 72.1h0.6M127.3 72.7h0.6M133.8 76.0h0.6M120.0 70.5h0.6M133.2 73.8h0.6M123.6 76.8h0.6M122.7 71.8h0.6M122.2 66.1h0.6M130.2 68.7h0.6M121.6 70.3h0.6M129.4 72.6h0.6M125.1 67.1h0.6M124.5 67.8h0.6M126.8 74.0h0.6" stroke="#000" stroke-width="0.6" fill="none" opacity="0.5"/>
<text x="106" y="52.3" font-size="9.6" font-weight="bold" text-anchor="start" fill="#111"  stroke="#111" stroke-width="0.12" textLength="18.3" lengthAdjust="spacingAndGlyphs">93%</text>
<text x="145.2" y="75.2" font-size="9.6" font-weight="bold" text-anchor="start" fill="#111"  stroke="#111" stroke-width="0.12" textLength="20.8" lengthAdjust="spacingAndGlyphs">5.2%</text>
<line x1="28" y1="87.3" x2="160" y2="87.3" stroke="#111" stroke-width="1.2"/>
<polygon points="164.0,87.3 158.0,84.7 158.0,89.9" fill="#000" stroke="#000" stroke-width="0"/>
<text x="84.7" y="98.4" font-size="10.8" font-weight="normal" text-anchor="start" fill="#000"  stroke="#000" stroke-width="0.15" textLength="22.3" lengthAdjust="spacingAndGlyphs">GFP</text>
<text x="194" y="11.5" font-size="13" font-weight="bold" text-anchor="start" fill="#111"  stroke="#111" stroke-width="0.3">B</text>
<text x="204" y="24.6" font-size="7" font-weight="normal" text-anchor="start" fill="#000"  stroke="#000" stroke-width="0.07" textLength="10.6" lengthAdjust="spacingAndGlyphs">WT</text>
<text x="231.6" y="24.6" font-size="7" font-weight="normal" text-anchor="start" fill="#000"  stroke="#000" stroke-width="0.07" textLength="17" lengthAdjust="spacingAndGlyphs">GFP-</text>
<text x="266.1" y="24.6" font-size="7" font-weight="normal" text-anchor="start" fill="#000"  stroke="#000" stroke-width="0.07" textLength="18.4" lengthAdjust="spacingAndGlyphs">GFP+</text>
<rect x="194" y="30.6" width="96.8" height="35.4" fill="#d5d5d5"/>
<rect x="194" y="30.6" width="96.8" height="17.6" fill="url(#gel)"/>
<rect x="194.6" y="47.3" width="95.6" height="0.9" fill="#a6a6a6"/>
<rect x="194.6" y="48.3" width="95.6" height="1.1" fill="#e9e9e9"/>
<rect x="194" y="30.6" width="96.8" height="35.4" fill="none" stroke="#111" stroke-width="1.2"/>
<rect x="196" y="42.099999999999994" width="30" height="1.4" fill="#b4b4b4" opacity="1" filter="url(#b0_6)"/>
<rect x="229" y="42.199999999999996" width="29" height="1.2" fill="#bcbcbc" opacity="1" filter="url(#b0_6)"/>
<rect x="260.2" y="41.4" width="28.30000000000001" height="3.0" fill="#4a4a4a" opacity="1" filter="url(#b0_6)"/>
<rect x="197.6" y="57.3" width="25.0" height="2.4" fill="#3a3a3a" opacity="1" filter="url(#b0_6)"/>
<rect x="230" y="57.5" width="26" height="2.0" fill="#777" opacity="1" filter="url(#b0_6)"/>
<rect x="263.3" y="57.5" width="25.099999999999966" height="2.2" fill="#666" opacity="1" filter="url(#b0_6)"/>
<text x="293.8" y="43.3" font-size="9.2" font-weight="normal" text-anchor="start" fill="#000"  stroke="#000" stroke-width="0.15" textLength="20.4" lengthAdjust="spacingAndGlyphs">Sox7</text>
<text x="293" y="61.3" font-size="9.2" font-weight="normal" text-anchor="start" fill="#000"  stroke="#000" stroke-width="0.15" textLength="26.7" lengthAdjust="spacingAndGlyphs">&#946;-actin</text>
<text x="333" y="11" font-size="13" font-weight="bold" text-anchor="start" fill="#111"  stroke="#111" stroke-width="0.3">C</text>
<rect x="350.5" y="13.5" width="70.5" height="71.5" fill="#fff" stroke="#858585" stroke-width="0.9"/>
<text x="351.9" y="88.1" font-size="3.2" fill="#888" text-anchor="middle">10</text>
<text x="369.6" y="88.1" font-size="3.2" fill="#888" text-anchor="middle">10</text>
<text x="387.3" y="88.1" font-size="3.2" fill="#888" text-anchor="middle">10</text>
<text x="405.0" y="88.1" font-size="3.2" fill="#888" text-anchor="middle">10</text>
<text x="422.7" y="88.1" font-size="3.2" fill="#888" text-anchor="middle">10</text>
<text x="349.3" y="83.2" font-size="3.2" fill="#a2a2a2" text-anchor="end">10</text>
<text x="349.3" y="65.5" font-size="3.2" fill="#a2a2a2" text-anchor="end">10</text>
<text x="349.3" y="47.8" font-size="3.2" fill="#a2a2a2" text-anchor="end">10</text>
<text x="349.3" y="30.1" font-size="3.2" fill="#a2a2a2" text-anchor="end">10</text>
<text x="349.3" y="12.4" font-size="3.2" fill="#a2a2a2" text-anchor="end">10</text>
<rect x="351.2" y="46.5" width="32.4" height="16.8" fill="none" stroke="#989898" stroke-width="0.9"/>
<line x1="360.5" y1="46.5" x2="360.5" y2="63.3" stroke="#8c8c8c" stroke-width="0.9"/>
<clipPath id="cC1"><rect x="350.9" y="14" width="69.6" height="70.5"/></clipPath>
<g clip-path="url(#cC1)"><path d="M350 47.4H357.2L358.2 57L356.6 70L354.4 86H350Z" fill="#000" filter="url(#b0_8)"/></g>
<path d="M355.3 62.8h0.7M357.7 68.8h0.7M356.5 69.6h0.7M356.4 64.6h0.7M352.5 60.9h0.7M353.6 73.6h0.7M353.3 75.1h0.7M354.5 48.7h0.7M352.4 74.6h0.7M355.4 68.7h0.7M354.7 73.6h0.7M355.3 68.1h0.7M354.3 49.3h0.7M358.6 50.1h0.7M354.1 83.1h0.7M354.0 47.4h0.7M354.5 66.8h0.7M357.1 59.0h0.7M356.0 66.0h0.7M353.9 62.5h0.7M353.7 60.3h0.7M353.2 66.1h0.7M355.5 69.6h0.7M351.4 59.7h0.7M356.7 53.9h0.7M353.8 49.4h0.7M355.9 57.0h0.7M355.7 61.6h0.7M357.5 60.1h0.7M358.2 47.0h0.7M353.8 57.7h0.7M352.3 51.4h0.7M355.5 66.0h0.7M357.1 69.6h0.7M354.0 68.1h0.7M356.9 74.0h0.7M355.5 54.4h0.7M355.7 50.5h0.7M355.3 56.3h0.7M356.2 61.8h0.7M355.4 70.9h0.7M351.6 69.9h0.7M357.0 62.8h0.7M353.4 73.3h0.7M353.8 63.9h0.7M357.3 72.9h0.7M357.9 47.6h0.7M351.1 71.5h0.7M356.0 47.7h0.7M356.1 59.7h0.7M354.7 61.9h0.7M352.4 57.6h0.7M353.3 58.0h0.7M352.1 78.3h0.7M355.8 72.7h0.7M353.3 63.3h0.7M355.3 62.8h0.7M355.4 71.0h0.7M353.1 83.1h0.7M355.1 49.9h0.7M359.0 64.0h0.7M355.3 61.0h0.7M356.1 69.2h0.7M353.9 64.8h0.7M354.5 70.3h0.7M351.3 58.4h0.7M354.7 63.5h0.7M357.9 55.6h0.7M359.9 55.7h0.7M357.4 61.4h0.7M356.3 61.4h0.7M355.6 50.1h0.7M353.1 80.3h0.7M354.6 61.5h0.7M357.1 47.8h0.7M352.9 75.1h0.7M357.3 54.8h0.7M352.7 68.6h0.7M351.2 62.8h0.7M352.7 65.8h0.7M351.5 64.9h0.7M352.1 56.7h0.7M357.1 63.5h0.7M357.1 63.7h0.7M357.0 67.8h0.7M354.2 51.4h0.7M358.8 47.9h0.7M355.0 58.9h0.7M351.9 68.9h0.7M353.2 63.8h0.7M354.4 68.2h0.7M355.6 70.0h0.7M353.6 76.0h0.7M354.3 67.8h0.7M356.7 64.6h0.7M357.5 64.9h0.7M355.3 77.9h0.7M356.6 72.0h0.7M354.4 52.0h0.7M354.5 56.0h0.7M355.3 66.6h0.7M354.5 56.1h0.7M353.9 58.9h0.7M359.2 52.5h0.7M354.5 60.1h0.7M352.8 67.7h0.7M355.1 73.9h0.7M358.5 63.1h0.7M357.4 62.2h0.7M353.5 74.0h0.7M353.3 68.5h0.7M354.8 57.5h0.7M352.5 61.3h0.7M357.9 65.0h0.7M352.4 84.1h0.7M355.0 47.8h0.7M355.0 84.0h0.7M356.3 60.2h0.7M354.9 71.0h0.7M355.5 64.5h0.7M352.8 59.2h0.7M359.1 70.5h0.7M354.3 64.0h0.7M355.9 50.4h0.7M352.3 73.4h0.7M353.6 70.6h0.7M352.1 69.6h0.7M355.9 74.1h0.7M353.8 75.1h0.7M356.0 62.8h0.7M353.9 48.1h0.7M354.3 47.8h0.7M356.1 77.8h0.7M352.7 70.8h0.7M351.2 64.1h0.7M355.9 58.2h0.7M352.5 63.3h0.7M353.9 63.3h0.7M356.9 59.3h0.7M353.4 55.3h0.7M353.4 65.5h0.7M358.5 56.3h0.7M358.8 48.7h0.7M354.1 55.0h0.7M354.1 70.9h0.7M352.9 71.3h0.7M355.4 60.6h0.7M357.1 63.6h0.7M351.9 59.6h0.7M357.6 50.8h0.7M352.0 77.3h0.7M353.0 67.1h0.7M360.0 54.7h0.7M355.0 61.5h0.7M354.8 72.7h0.7M353.5 60.3h0.7M358.2 47.7h0.7M354.8 64.1h0.7M358.9 66.8h0.7M354.1 62.0h0.7M354.3 74.0h0.7M355.4 73.9h0.7M353.1 66.6h0.7M354.9 63.3h0.7M357.0 60.2h0.7M354.9 69.1h0.7M355.0 73.1h0.7M354.1 63.7h0.7M355.2 67.9h0.7M355.1 59.4h0.7M359.2 47.5h0.7M357.1 52.0h0.7M354.0 71.4h0.7M355.0 80.5h0.7M356.3 63.6h0.7M352.8 72.5h0.7M352.3 73.9h0.7M357.2 56.3h0.7M352.7 61.0h0.7M353.8 64.4h0.7M355.9 52.2h0.7M356.9 68.2h0.7M354.2 74.3h0.7M354.9 57.7h0.7M358.4 59.8h0.7M357.2 60.8h0.7M354.7 60.4h0.7M352.1 55.2h0.7M353.1 67.6h0.7M356.0 63.2h0.7M352.9 81.3h0.7M356.1 69.7h0.7M355.2 68.9h0.7M355.6 60.6h0.7M357.2 47.4h0.7M355.9 62.0h0.7M353.3 53.6h0.7M353.8 73.5h0.7M359.6 62.7h0.7M352.1 81.3h0.7M353.6 71.1h0.7M356.2 72.2h0.7M354.4 65.5h0.7M353.1 65.3h0.7M352.1 70.2h0.7M355.3 73.1h0.7M357.5 55.2h0.7M357.2 68.4h0.7M357.0 62.0h0.7M352.8 60.2h0.7M355.6 55.4h0.7M353.9 47.1h0.7M354.5 76.1h0.7M356.3 63.7h0.7M356.7 66.3h0.7M352.4 83.3h0.7M354.2 53.2h0.7M352.5 74.6h0.7M354.2 69.9h0.7M351.8 67.4h0.7M354.6 68.3h0.7M355.4 62.8h0.7M353.7 80.5h0.7M355.5 69.8h0.7M354.0 66.8h0.7M354.2 76.7h0.7M351.8 72.9h0.7M354.7 68.1h0.7M353.0 66.6h0.7M353.2 82.3h0.7M354.4 68.6h0.7M355.3 62.0h0.7M351.5 53.6h0.7M351.7 59.2h0.7M354.7 51.5h0.7M355.7 64.2h0.7M355.4 65.9h0.7M357.4 63.2h0.7M355.4 70.2h0.7M354.7 64.9h0.7M352.9 52.5h0.7M352.6 77.0h0.7M354.1 55.4h0.7M356.1 49.5h0.7M355.9 51.1h0.7M354.8 62.9h0.7M354.0 73.8h0.7M355.2 75.8h0.7M355.1 65.3h0.7M356.2 49.9h0.7M355.9 55.8h0.7M354.0 53.1h0.7M352.8 61.1h0.7M355.6 64.2h0.7M354.1 70.1h0.7M354.0 61.4h0.7M358.8 68.1h0.7M353.6 52.7h0.7M355.1 47.0h0.7M355.8 56.0h0.7M352.3 75.7h0.7M354.5 74.3h0.7M359.0 58.0h0.7M355.7 76.3h0.7M356.3 59.4h0.7M354.9 79.6h0.7M354.8 68.3h0.7M357.1 58.0h0.7M354.1 71.8h0.7M354.3 54.5h0.7M355.6 52.7h0.7M357.9 47.0h0.7M355.3 65.8h0.7M356.2 62.4h0.7M357.6 58.5h0.7M357.7 78.8h0.7M357.9 58.3h0.7M354.5 55.0h0.7M352.8 76.7h0.7M354.5 78.6h0.7M352.8 66.7h0.7M354.0 56.4h0.7M356.2 69.7h0.7M357.6 63.2h0.7M356.3 48.0h0.7M353.2 70.5h0.7M352.0 56.1h0.7M353.1 77.6h0.7M354.4 62.2h0.7M356.0 74.3h0.7M351.8 55.9h0.7M358.2 47.5h0.7M360.2 50.8h0.7M356.5 56.3h0.7M356.7 51.7h0.7M354.2 76.2h0.7M352.2 77.7h0.7M355.7 66.0h0.7M356.3 51.6h0.7M356.4 61.7h0.7M361.0 55.5h0.7M355.2 79.0h0.7M355.5 66.5h0.7M357.5 68.4h0.7M352.1 58.6h0.7M354.4 54.5h0.7M353.9 50.7h0.7M355.9 67.1h0.7M354.1 64.1h0.7M359.2 54.2h0.7M358.3 58.7h0.7M355.1 80.2h0.7M354.4 52.4h0.7M356.7 52.9h0.7M356.6 60.5h0.7M352.8 55.3h0.7M355.8 58.3h0.7M355.8 68.8h0.7M354.2 82.1h0.7M357.3 62.8h0.7M353.1 63.5h0.7M355.1 62.1h0.7M353.2 60.9h0.7M356.2 59.3h0.7M352.8 74.0h0.7M357.1 57.9h0.7M355.7 61.6h0.7M356.8 63.0h0.7M354.5 64.2h0.7M351.9 61.1h0.7M357.3 74.0h0.7M354.5 62.9h0.7M357.4 64.9h0.7M355.7 62.4h0.7M356.9 52.0h0.7M359.5 53.9h0.7M356.2 51.4h0.7M357.5 65.1h0.7M351.9 55.2h0.7M357.5 51.3h0.7M354.2 65.6h0.7M354.3 68.8h0.7M354.4 81.6h0.7M358.1 63.4h0.7M351.1 61.8h0.7M354.3 74.7h0.7M353.4 63.8h0.7M357.7 56.4h0.7M356.5 51.2h0.7M354.1 61.9h0.7M355.5 72.3h0.7M357.8 51.2h0.7M354.1 61.9h0.7M354.7 67.3h0.7M356.0 53.2h0.7M356.6 62.5h0.7M353.5 70.2h0.7M357.0 63.9h0.7M351.1 67.5h0.7M352.0 64.2h0.7M353.7 67.9h0.7M354.2 75.4h0.7M354.1 74.1h0.7M354.5 67.5h0.7M356.0 66.4h0.7M354.3 50.9h0.7M352.3 61.5h0.7M352.3 65.4h0.7M359.6 58.6h0.7M354.9 53.9h0.7M356.2 79.9h0.7M353.2 58.7h0.7M354.6 67.4h0.7M356.8 60.4h0.7M356.1 76.9h0.7M352.9 67.8h0.7M356.3 63.9h0.7M355.5 60.5h0.7M356.9 64.4h0.7M358.6 52.0h0.7M353.8 70.4h0.7M351.9 55.1h0.7M355.3 68.9h0.7M358.3 64.4h0.7M355.4 75.0h0.7M355.3 62.8h0.7M358.3 74.3h0.7M352.9 52.9h0.7M356.1 69.7h0.7M353.7 60.5h0.7M354.8 65.1h0.7M355.0 63.8h0.7M356.9 73.3h0.7M353.6 66.6h0.7M351.6 46.6h0.7M355.0 76.3h0.7M356.4 52.0h0.7M353.4 81.0h0.7M358.1 48.8h0.7M354.4 64.3h0.7M356.5 57.1h0.7M354.2 59.3h0.7M351.6 70.3h0.7M357.0 61.0h0.7M354.6 73.4h0.7M357.1 59.0h0.7M351.5 58.8h0.7M352.6 83.9h0.7M356.6 67.0h0.7M355.8 65.1h0.7M355.1 56.2h0.7M355.5 54.7h0.7M355.2 79.1h0.7M354.7 50.8h0.7M356.2 53.0h0.7M355.2 61.9h0.7M353.9 67.0h0.7M354.2 70.8h0.7M354.0 50.7h0.7M354.1 55.9h0.7M356.7 67.8h0.7M353.5 80.9h0.7M352.9 52.9h0.7M353.3 73.7h0.7M351.0 79.8h0.7M351.1 59.3h0.7M355.1 79.0h0.7M355.6 75.4h0.7M355.8 62.5h0.7M353.3 58.9h0.7M356.7 58.0h0.7M351.5 79.2h0.7M352.2 78.8h0.7M352.7 52.7h0.7M355.1 82.5h0.7M352.2 59.0h0.7M352.7 48.0h0.7M352.9 63.0h0.7M355.3 61.8h0.7M354.2 61.9h0.7M357.0 57.7h0.7M353.5 59.6h0.7M352.3 58.0h0.7M353.7 66.7h0.7M355.3 54.1h0.7M353.0 59.8h0.7M355.5 61.4h0.7M357.0 77.4h0.7M353.5 67.1h0.7M355.0 61.8h0.7M357.0 68.9h0.7M353.4 67.5h0.7M352.8 75.0h0.7M352.5 68.6h0.7M354.4 82.7h0.7M354.9 77.8h0.7M354.5 62.5h0.7M355.1 58.4h0.7M356.5 72.7h0.7M356.1 68.7h0.7M352.0 62.0h0.7M355.5 46.8h0.7M356.0 66.8h0.7M354.0 71.5h0.7M353.2 71.8h0.7M354.3 48.8h0.7M351.2 74.4h0.7M355.0 57.1h0.7M353.4 67.3h0.7M355.4 67.6h0.7M352.8 54.2h0.7M354.1 56.5h0.7M352.8 52.9h0.7M353.7 67.8h0.7M355.6 63.7h0.7M352.3 73.1h0.7M354.7 66.9h0.7M351.3 56.0h0.7M353.7 66.8h0.7M353.9 58.7h0.7M355.5 69.7h0.7M354.9 66.5h0.7M354.8 52.1h0.7M356.4 63.0h0.7M355.1 63.6h0.7M356.0 59.6h0.7M355.6 72.8h0.7M353.7 81.8h0.7M354.3 59.0h0.7M355.6 59.1h0.7M355.6 61.6h0.7M357.4 58.2h0.7M353.8 66.2h0.7M352.1 69.5h0.7M355.0 54.9h0.7M354.7 58.9h0.7M357.8 52.4h0.7M353.7 71.4h0.7M356.5 59.6h0.7M354.4 63.6h0.7M357.7 68.1h0.7M357.9 61.4h0.7M356.9 50.1h0.7M355.3 62.6h0.7M352.7 67.5h0.7M356.6 51.8h0.7M354.7 66.8h0.7M354.4 76.7h0.7M353.3 74.8h0.7M354.8 52.3h0.7M356.6 74.8h0.7M355.1 69.7h0.7M351.4 70.7h0.7M352.9 53.3h0.7M351.5 50.2h0.7M353.1 63.8h0.7M355.8 64.1h0.7M356.1 53.6h0.7M353.5 64.6h0.7M354.9 70.1h0.7M353.1 65.5h0.7M351.9 51.6h0.7M353.1 60.2h0.7M357.4 64.8h0.7M352.0 60.1h0.7M357.6 58.3h0.7M358.1 55.4h0.7M354.0 70.9h0.7M354.6 62.4h0.7M353.4 64.4h0.7M355.2 52.3h0.7M356.5 56.2h0.7M354.7 64.8h0.7M357.6 51.9h0.7M358.3 49.1h0.7M355.6 59.4h0.7M354.6 76.2h0.7M354.5 65.1h0.7M354.5 79.1h0.7M352.5 61.6h0.7M355.7 59.6h0.7M355.9 47.7h0.7M353.1 56.7h0.7M357.3 78.8h0.7M352.7 66.6h0.7M352.8 71.1h0.7M354.8 70.8h0.7M353.2 60.7h0.7M351.6 64.3h0.7M352.6 70.4h0.7M354.2 68.0h0.7M355.1 68.4h0.7M356.8 64.7h0.7M356.9 54.5h0.7M357.3 60.1h0.7M356.6 52.6h0.7M353.4 74.1h0.7M353.8 60.6h0.7M358.1 59.2h0.7M357.2 50.5h0.7M355.2 62.8h0.7M355.2 77.2h0.7M356.6 61.2h0.7M351.9 69.7h0.7M354.5 64.1h0.7M352.4 58.9h0.7M353.3 63.8h0.7M358.0 57.1h0.7M356.1 57.6h0.7M353.0 67.2h0.7M354.5 67.5h0.7M352.2 71.5h0.7M354.7 64.6h0.7M356.8 47.3h0.7M354.9 68.9h0.7M354.1 59.9h0.7M356.7 46.7h0.7M355.7 56.7h0.7M357.7 55.0h0.7M352.1 62.6h0.7M356.8 47.0h0.7M353.4 63.6h0.7M355.0 64.4h0.7M356.3 50.7h0.7M356.6 56.1h0.7M353.8 53.6h0.7M354.6 73.0h0.7M351.9 59.2h0.7M354.8 58.3h0.7M351.4 72.3h0.7M353.1 56.1h0.7M354.7 64.5h0.7M358.7 53.7h0.7M355.6 73.0h0.7M351.2 75.4h0.7M355.2 48.4h0.7M356.4 50.9h0.7M354.8 74.9h0.7M355.7 60.9h0.7M354.3 60.2h0.7M357.9 66.7h0.7M358.9 49.2h0.7M354.1 71.5h0.7M352.7 63.2h0.7M358.3 68.3h0.7M353.8 55.6h0.7M356.7 68.6h0.7M359.4 55.2h0.7M352.6 73.5h0.7M354.6 75.4h0.7M353.6 73.0h0.7M355.4 68.7h0.7M355.0 70.0h0.7M355.3 72.2h0.7M354.8 60.0h0.7M356.9 64.0h0.7M354.3 59.9h0.7M354.5 47.7h0.7M359.9 57.1h0.7M352.9 70.2h0.7M353.2 78.6h0.7M355.1 56.1h0.7M352.7 53.1h0.7M357.6 53.3h0.7M353.6 63.6h0.7M354.3 53.3h0.7M352.5 73.8h0.7M352.2 81.6h0.7M355.8 47.2h0.7M357.5 80.1h0.7M356.4 59.9h0.7M355.1 79.3h0.7M351.7 58.8h0.7M352.2 68.5h0.7M355.6 73.2h0.7M353.9 82.0h0.7M354.2 70.6h0.7M353.6 60.4h0.7M351.6 57.3h0.7M356.1 59.8h0.7M352.0 53.9h0.7M352.3 60.0h0.7M353.2 65.0h0.7M355.2 62.7h0.7M354.8 71.3h0.7M355.4 57.7h0.7M354.5 69.2h0.7M357.4 49.5h0.7M352.5 78.8h0.7M352.1 69.5h0.7M355.3 50.1h0.7M353.9 62.3h0.7M355.2 73.4h0.7M356.5 68.4h0.7M355.0 53.6h0.7M359.4 56.0h0.7M356.4 64.0h0.7M356.7 73.1h0.7M355.4 53.9h0.7M351.8 50.7h0.7M352.3 75.6h0.7M356.8 52.8h0.7M355.7 74.8h0.7M353.2 65.7h0.7M353.8 72.7h0.7M354.2 82.2h0.7M351.2 70.6h0.7M353.7 71.5h0.7M358.9 52.9h0.7M360.0 55.4h0.7M354.2 70.1h0.7M356.7 79.9h0.7M353.2 78.3h0.7M356.5 65.2h0.7M353.5 74.1h0.7M359.4 63.2h0.7M355.4 62.3h0.7M355.7 51.5h0.7M351.1 73.9h0.7M358.8 51.2h0.7M353.8 68.6h0.7M355.0 47.4h0.7M357.4 51.7h0.7M356.0 72.3h0.7M355.1 58.2h0.7M354.7 76.0h0.7M357.3 54.1h0.7M354.9 63.7h0.7M358.7 57.7h0.7M353.4 66.4h0.7M353.6 67.8h0.7M352.9 69.3h0.7M357.4 54.2h0.7M355.8 52.0h0.7M353.0 63.1h0.7M355.8 55.5h0.7M355.3 71.1h0.7M355.4 73.9h0.7M357.9 69.2h0.7M354.0 57.7h0.7M355.9 67.2h0.7M351.5 75.5h0.7M356.7 51.3h0.7M355.0 65.3h0.7M353.8 52.8h0.7M354.0 66.4h0.7" stroke="#000" stroke-width="0.7" fill="none" opacity="0.85"/>
<path d="M356.8 50.3h0.6M353.7 43.6h0.6M358.2 48.1h0.6M356.4 47.3h0.6M361.3 47.0h0.6M355.9 43.2h0.6M352.6 45.5h0.6M354.3 47.6h0.6M352.1 50.4h0.6M351.1 46.0h0.6M355.1 44.4h0.6M356.1 48.2h0.6M353.5 50.7h0.6M354.6 47.5h0.6M351.5 43.5h0.6M352.5 46.3h0.6M353.0 48.4h0.6M352.7 45.9h0.6M351.0 48.7h0.6M353.1 47.3h0.6M355.5 48.0h0.6M358.1 46.5h0.6M353.8 48.3h0.6M355.6 46.4h0.6M354.5 45.9h0.6M356.5 48.8h0.6M354.4 50.7h0.6M359.5 46.1h0.6M356.0 44.5h0.6M356.7 44.9h0.6M352.9 44.7h0.6M353.3 44.9h0.6M354.5 46.9h0.6M356.6 46.0h0.6M353.6 50.0h0.6M356.9 45.6h0.6M357.2 44.6h0.6M357.4 46.1h0.6M356.7 48.2h0.6M353.5 47.6h0.6M351.1 46.8h0.6M357.6 55.1h0.6M356.5 47.1h0.6M351.3 49.0h0.6M355.4 44.5h0.6M359.0 49.1h0.6M352.7 45.8h0.6M355.7 48.2h0.6M355.4 47.4h0.6M352.7 47.6h0.6M358.8 49.6h0.6M353.0 46.2h0.6M358.5 50.5h0.6M355.1 49.4h0.6M351.8 48.2h0.6M353.5 51.7h0.6M355.7 46.6h0.6M353.4 49.0h0.6M356.4 44.7h0.6M355.0 44.2h0.6M352.1 44.3h0.6M351.4 48.0h0.6M356.8 46.4h0.6M356.6 48.2h0.6M357.3 46.5h0.6M356.1 45.4h0.6M352.3 44.1h0.6M355.7 44.6h0.6M351.1 45.8h0.6M356.0 44.6h0.6M353.9 42.6h0.6M357.1 44.6h0.6M352.0 48.5h0.6M353.2 45.8h0.6M355.9 47.3h0.6M357.7 48.5h0.6M352.6 46.7h0.6M354.2 44.2h0.6M351.4 48.9h0.6M355.2 46.6h0.6M356.0 47.9h0.6M358.0 46.1h0.6M353.7 46.4h0.6M360.0 48.8h0.6M351.6 46.2h0.6M352.2 46.9h0.6M355.0 51.5h0.6M355.7 45.5h0.6M353.9 45.9h0.6M354.5 48.9h0.6M353.3 49.9h0.6M355.6 49.4h0.6M356.1 49.1h0.6M354.6 45.3h0.6M356.4 48.4h0.6M360.7 42.9h0.6M353.8 49.1h0.6M360.8 49.8h0.6M351.8 49.8h0.6" stroke="#000" stroke-width="0.6" fill="none" opacity="0.6"/>
<path d="M370.9 68.1h0.6M366.1 63.0h0.6M358.6 55.8h0.6M368.2 62.0h0.6M374.9 57.5h0.6M365.5 64.4h0.6M364.2 52.9h0.6M372.8 54.4h0.6M368.1 58.0h0.6M366.4 57.4h0.6M368.4 59.8h0.6M361.1 81.3h0.6M362.5 59.3h0.6M357.4 53.7h0.6M367.8 66.1h0.6M363.9 54.1h0.6M368.0 44.6h0.6M361.8 58.4h0.6M358.8 62.3h0.6M359.9 53.2h0.6M374.7 67.9h0.6M371.1 61.3h0.6M369.7 68.3h0.6M371.2 83.4h0.6M362.6 63.4h0.6M367.7 55.4h0.6M370.8 73.1h0.6M361.5 74.5h0.6M374.5 65.4h0.6M358.1 74.9h0.6M363.0 57.4h0.6M364.7 55.9h0.6M370.4 68.4h0.6M371.3 66.5h0.6M359.2 59.5h0.6M369.3 57.1h0.6M381.5 58.7h0.6M360.5 71.9h0.6M368.5 60.7h0.6M362.6 65.1h0.6M369.0 68.2h0.6M362.2 65.1h0.6M369.1 68.3h0.6M359.3 58.8h0.6M365.1 69.8h0.6M367.7 59.8h0.6M364.1 77.7h0.6M360.3 63.9h0.6M373.4 64.3h0.6M361.7 59.9h0.6M370.3 65.5h0.6M362.4 69.5h0.6M366.6 62.0h0.6M365.8 63.4h0.6M362.0 56.6h0.6M364.2 51.9h0.6M362.6 60.8h0.6M363.2 61.2h0.6M364.1 61.6h0.6M359.2 69.9h0.6M359.8 70.8h0.6M370.0 59.6h0.6M360.0 64.6h0.6M357.7 61.7h0.6M360.1 66.1h0.6M369.3 52.9h0.6M373.7 55.4h0.6M373.2 60.2h0.6M360.1 53.9h0.6M357.4 73.8h0.6M363.5 78.0h0.6M369.1 57.5h0.6M362.6 75.9h0.6M362.4 72.0h0.6M364.0 53.9h0.6M367.0 55.3h0.6M371.4 70.1h0.6M364.4 66.8h0.6M367.4 58.4h0.6M369.4 58.8h0.6M367.7 52.0h0.6M364.6 65.0h0.6M359.3 57.1h0.6M360.8 67.9h0.6M359.7 65.2h0.6M373.2 64.4h0.6M370.3 58.3h0.6M370.7 66.9h0.6M366.6 58.6h0.6M361.0 58.6h0.6M364.4 66.1h0.6M366.6 58.2h0.6M364.5 64.8h0.6M359.3 59.2h0.6M362.4 58.7h0.6M358.8 67.5h0.6M365.7 45.5h0.6M364.2 50.4h0.6M374.3 56.8h0.6M361.7 61.9h0.6M362.9 60.6h0.6M373.4 63.3h0.6M369.1 71.9h0.6M358.3 77.2h0.6M368.2 70.3h0.6M358.9 68.9h0.6M366.6 56.1h0.6M377.8 66.6h0.6M362.7 63.0h0.6M369.6 71.9h0.6M367.6 72.7h0.6M372.9 49.5h0.6M361.2 52.3h0.6M364.7 74.9h0.6M368.0 51.3h0.6M362.4 71.0h0.6M360.9 60.3h0.6M368.8 64.4h0.6M367.5 51.9h0.6M359.5 55.5h0.6M365.6 61.9h0.6M364.9 78.2h0.6M372.0 54.4h0.6M360.2 77.5h0.6M362.2 74.3h0.6M373.7 56.0h0.6M362.5 62.0h0.6M358.9 51.9h0.6M361.7 69.3h0.6M361.4 59.2h0.6M361.3 48.2h0.6M360.2 66.5h0.6M371.6 53.0h0.6M365.4 50.6h0.6M367.2 62.0h0.6M365.4 74.2h0.6M366.9 74.0h0.6M367.9 49.8h0.6M365.7 65.8h0.6M364.5 64.7h0.6M358.7 61.9h0.6M365.9 58.1h0.6M372.3 50.6h0.6M359.1 66.3h0.6M358.6 63.9h0.6M358.4 82.1h0.6M367.4 79.8h0.6M358.0 67.5h0.6M358.4 66.7h0.6M368.2 46.0h0.6M357.3 50.1h0.6M358.3 47.4h0.6M364.7 66.3h0.6M364.1 58.9h0.6M359.9 68.8h0.6M369.2 67.6h0.6M362.8 80.0h0.6M374.5 57.3h0.6M363.3 72.4h0.6M359.3 64.9h0.6M364.3 54.4h0.6M362.7 46.2h0.6M377.7 75.4h0.6M371.4 64.0h0.6M370.0 73.2h0.6M370.1 69.8h0.6M358.6 65.1h0.6M360.8 49.8h0.6M357.2 65.1h0.6M370.4 48.1h0.6M374.5 75.0h0.6M361.7 56.6h0.6M363.6 70.4h0.6M361.7 50.5h0.6M364.9 72.0h0.6M365.8 68.4h0.6M367.0 67.9h0.6M364.9 53.1h0.6M362.7 60.3h0.6M371.6 76.4h0.6M366.5 53.8h0.6M359.6 59.2h0.6M372.3 64.2h0.6M363.7 53.7h0.6M369.3 63.7h0.6M363.7 62.0h0.6M374.1 59.5h0.6M374.1 72.8h0.6M364.3 69.4h0.6M363.3 53.1h0.6M362.4 52.4h0.6M367.1 61.1h0.6M367.4 68.9h0.6M358.7 62.0h0.6M372.2 44.8h0.6M365.1 60.3h0.6M364.2 56.2h0.6M358.4 57.5h0.6M361.7 60.3h0.6M357.7 66.1h0.6M361.1 48.1h0.6M359.1 57.3h0.6M369.1 65.6h0.6M362.0 61.2h0.6M365.3 80.4h0.6M360.3 65.4h0.6M368.4 51.9h0.6M365.1 62.6h0.6M361.2 66.4h0.6M370.2 71.7h0.6M362.8 62.8h0.6M378.1 50.5h0.6M365.3 69.5h0.6M364.9 67.2h0.6M365.0 68.2h0.6M371.7 58.9h0.6M365.2 60.5h0.6M361.6 60.8h0.6M357.2 68.1h0.6M374.2 77.2h0.6M371.7 51.8h0.6M373.1 54.2h0.6M363.7 78.5h0.6M357.6 69.0h0.6M365.7 59.6h0.6M358.7 65.0h0.6M361.2 70.9h0.6M371.3 47.9h0.6M361.0 58.0h0.6M364.5 59.0h0.6M367.1 49.5h0.6M358.5 76.1h0.6M371.9 45.6h0.6M361.3 66.3h0.6M363.1 44.8h0.6M367.0 67.7h0.6M362.5 57.9h0.6M366.6 72.5h0.6M364.9 66.1h0.6M363.7 57.4h0.6M358.5 63.4h0.6M362.2 58.7h0.6M369.6 65.6h0.6M369.2 46.0h0.6M367.4 55.4h0.6M359.2 52.9h0.6M371.3 68.9h0.6M359.7 50.2h0.6M364.1 56.6h0.6M374.0 47.1h0.6M364.1 62.3h0.6M368.5 80.7h0.6M361.9 55.8h0.6M369.1 58.5h0.6M371.1 61.3h0.6M373.1 64.2h0.6M357.7 55.0h0.6M365.6 69.3h0.6M375.7 60.5h0.6M362.6 50.5h0.6M369.9 64.7h0.6M360.4 67.5h0.6M368.5 62.3h0.6M361.7 57.0h0.6M374.5 75.6h0.6M375.0 50.1h0.6M360.1 69.6h0.6M370.4 65.4h0.6M365.3 57.0h0.6M361.6 66.8h0.6M359.7 72.7h0.6M361.0 52.7h0.6M371.8 59.6h0.6M367.3 57.1h0.6M365.8 65.0h0.6M364.6 49.5h0.6M369.3 47.1h0.6M361.2 53.5h0.6M361.7 69.1h0.6M360.2 66.4h0.6M368.2 44.7h0.6M357.0 57.4h0.6M360.4 63.9h0.6M368.5 59.4h0.6M360.8 66.4h0.6M363.5 67.9h0.6M361.4 74.7h0.6M366.9 46.6h0.6M368.4 49.4h0.6M364.6 52.3h0.6M361.4 62.7h0.6M363.4 57.4h0.6M376.9 61.1h0.6M358.2 69.8h0.6M368.9 72.6h0.6M374.7 52.1h0.6M370.4 71.8h0.6M364.0 63.3h0.6M374.7 44.0h0.6M360.8 63.7h0.6M367.5 76.5h0.6M369.2 48.5h0.6M363.8 78.9h0.6M371.9 66.1h0.6M366.3 58.1h0.6M362.7 51.8h0.6M365.5 58.0h0.6M362.1 60.2h0.6M368.6 63.3h0.6M366.8 56.6h0.6M370.9 68.4h0.6M358.1 64.0h0.6M375.9 75.8h0.6M363.7 69.5h0.6M360.0 47.2h0.6M367.3 63.3h0.6M367.1 60.8h0.6M366.0 56.1h0.6M366.8 68.9h0.6M363.6 68.7h0.6M372.7 77.7h0.6M365.5 60.0h0.6M368.7 46.9h0.6M367.4 65.7h0.6M366.6 50.3h0.6M367.3 46.8h0.6M372.9 62.3h0.6M357.0 73.8h0.6M370.9 54.8h0.6M377.2 51.5h0.6M365.9 72.2h0.6M363.6 60.9h0.6M357.5 64.1h0.6M357.3 51.8h0.6M361.3 49.3h0.6M373.4 48.4h0.6M359.5 58.0h0.6M364.0 68.5h0.6M368.9 58.1h0.6M361.7 61.3h0.6M368.9 67.6h0.6M376.9 70.0h0.6M365.6 64.2h0.6M360.9 51.5h0.6M362.0 58.9h0.6M360.2 47.2h0.6M362.1 66.5h0.6M361.0 61.2h0.6M363.3 49.4h0.6M359.1 65.6h0.6M361.5 66.9h0.6M362.0 46.7h0.6M363.5 57.9h0.6M367.9 56.7h0.6M361.6 69.2h0.6M371.0 68.2h0.6M370.2 65.3h0.6M368.6 69.3h0.6M366.4 61.6h0.6M364.9 83.8h0.6M364.1 58.8h0.6M361.8 60.7h0.6" stroke="#000" stroke-width="0.55" fill="none" opacity="0.5"/>
<text x="351.5" y="43.7" font-size="7.4" font-weight="normal" text-anchor="start" fill="#000"  stroke="#000" stroke-width="0.07" textLength="14.2" lengthAdjust="spacingAndGlyphs">52%</text>
<text x="386.6" y="58.9" font-size="7.4" font-weight="normal" text-anchor="start" fill="#000"  stroke="#000" stroke-width="0.07" textLength="17" lengthAdjust="spacingAndGlyphs">2.1%</text>
<line x1="344.5" y1="78" x2="344.5" y2="22.4" stroke="#111" stroke-width="1.2"/>
<polygon points="344.5,18.4 341.9,24.4 347.1,24.4" fill="#000" stroke="#000" stroke-width="0"/>
<text transform="translate(341.8 48.2) rotate(-90)" font-size="10.8" text-anchor="middle" fill="#000" textLength="20.6" lengthAdjust="spacingAndGlyphs" stroke="#000" stroke-width="0.15">Flk1</text>
<rect x="442.5" y="13.5" width="72.0" height="70.7" fill="#fff" stroke="#858585" stroke-width="0.9"/>
<text x="443.9" y="87.3" font-size="3.2" fill="#888" text-anchor="middle">10</text>
<text x="461.6" y="87.3" font-size="3.2" fill="#888" text-anchor="middle">10</text>
<text x="479.3" y="87.3" font-size="3.2" fill="#888" text-anchor="middle">10</text>
<text x="497.0" y="87.3" font-size="3.2" fill="#888" text-anchor="middle">10</text>
<text x="514.7" y="87.3" font-size="3.2" fill="#888" text-anchor="middle">10</text>
<text x="441.3" y="82.4" font-size="3.2" fill="#a2a2a2" text-anchor="end">10</text>
<text x="441.3" y="64.7" font-size="3.2" fill="#a2a2a2" text-anchor="end">10</text>
<text x="441.3" y="47.0" font-size="3.2" fill="#a2a2a2" text-anchor="end">10</text>
<text x="441.3" y="29.3" font-size="3.2" fill="#a2a2a2" text-anchor="end">10</text>
<text x="441.3" y="11.6" font-size="3.2" fill="#a2a2a2" text-anchor="end">10</text>
<path d="M443.6 84.2V25.5H493.5V84.2M453.5 25.5V74.5H493.5" fill="none" stroke="#989898" stroke-width="0.9"/>
<clipPath id="cC2"><rect x="443" y="14" width="71" height="70.2"/></clipPath>
<g clip-path="url(#cC2)"><ellipse cx="447.6" cy="79.6" rx="5.6" ry="6" fill="#000" filter="url(#b1_0)"/></g>
<path d="M449.2 74.3h0.7M448.8 83.4h0.7M454.3 80.3h0.7M446.3 74.1h0.7M445.4 79.0h0.7M448.3 81.4h0.7M447.1 79.2h0.7M445.6 76.9h0.7M453.9 79.5h0.7M449.6 74.9h0.7M453.5 75.7h0.7M451.2 79.2h0.7M444.8 82.9h0.7M448.4 79.5h0.7M449.9 78.7h0.7M446.9 80.7h0.7M446.8 79.1h0.7M445.9 72.8h0.7M445.9 76.8h0.7M448.4 83.5h0.7M446.5 69.8h0.7M448.6 78.3h0.7M447.7 75.4h0.7M454.3 81.3h0.7M447.0 83.6h0.7M448.9 81.4h0.7M449.1 74.7h0.7M451.8 79.4h0.7M444.7 75.7h0.7M451.7 77.3h0.7M448.5 81.4h0.7M448.8 72.7h0.7M450.6 82.6h0.7M449.6 81.9h0.7M454.0 77.6h0.7M451.4 75.3h0.7M452.4 80.1h0.7M449.8 79.4h0.7M453.2 81.0h0.7M445.8 80.7h0.7M450.9 75.9h0.7M446.7 77.3h0.7M446.1 80.2h0.7M452.6 82.9h0.7M446.9 81.6h0.7M449.5 78.3h0.7M446.7 76.8h0.7M447.3 73.9h0.7M450.2 78.7h0.7M448.7 80.2h0.7M450.9 76.4h0.7M447.9 72.4h0.7M453.8 71.5h0.7M455.0 82.6h0.7M456.8 81.3h0.7M445.7 80.9h0.7M446.7 73.6h0.7M446.4 78.7h0.7M445.9 79.4h0.7M447.5 77.2h0.7M444.0 73.2h0.7M445.7 80.0h0.7M455.8 83.1h0.7M454.9 80.8h0.7M448.0 73.6h0.7M448.4 70.3h0.7M449.5 83.4h0.7M447.0 73.4h0.7M446.6 77.3h0.7M445.7 77.5h0.7M447.9 77.5h0.7M443.9 79.3h0.7M449.7 80.4h0.7M444.0 78.4h0.7M444.7 77.8h0.7M446.8 76.6h0.7M444.6 71.8h0.7M454.6 79.9h0.7M448.0 81.1h0.7M448.5 83.7h0.7M450.2 80.2h0.7M447.5 80.0h0.7M452.6 70.6h0.7M447.9 77.3h0.7M447.3 71.0h0.7M451.0 75.5h0.7M447.6 76.9h0.7M447.3 78.9h0.7M448.6 78.4h0.7M456.1 80.7h0.7M444.0 76.5h0.7M446.1 78.2h0.7M446.2 75.5h0.7M454.4 79.1h0.7M447.2 77.9h0.7M450.1 83.4h0.7M448.5 72.1h0.7M450.5 76.5h0.7M452.2 83.7h0.7M451.0 74.8h0.7M457.5 74.3h0.7M448.2 73.2h0.7M453.2 80.7h0.7M451.6 79.3h0.7M448.2 79.7h0.7M451.7 77.4h0.7M448.4 80.2h0.7M454.1 80.7h0.7M448.6 76.9h0.7M448.7 78.0h0.7M448.7 82.0h0.7M450.0 80.1h0.7M450.8 79.7h0.7M448.4 80.9h0.7M443.8 82.3h0.7M448.5 83.4h0.7M448.6 75.2h0.7M452.3 79.7h0.7M448.9 79.3h0.7M452.1 82.3h0.7M449.3 72.8h0.7M447.0 79.4h0.7M454.9 80.5h0.7M448.2 83.8h0.7M448.1 78.9h0.7M449.1 73.0h0.7M451.9 80.7h0.7M447.5 74.4h0.7M446.2 74.8h0.7M450.0 72.6h0.7M446.0 77.9h0.7M446.5 80.4h0.7M447.7 76.6h0.7M446.9 81.6h0.7M452.0 82.6h0.7M451.0 65.8h0.7M444.9 77.8h0.7M449.3 72.6h0.7M453.6 80.2h0.7M446.3 79.7h0.7M447.3 76.0h0.7M450.3 77.2h0.7M448.1 74.7h0.7M453.1 74.7h0.7M454.8 82.6h0.7M445.1 79.6h0.7M452.8 78.3h0.7M444.2 79.5h0.7M455.7 73.1h0.7M450.5 79.1h0.7M448.1 77.5h0.7M447.4 83.2h0.7M450.7 75.1h0.7M454.2 73.9h0.7M450.9 79.8h0.7M452.9 80.5h0.7M452.4 79.0h0.7M452.1 80.5h0.7M456.3 76.3h0.7M452.9 80.9h0.7M449.2 76.8h0.7M450.2 73.2h0.7M443.6 81.9h0.7M447.6 80.1h0.7M448.8 80.8h0.7M447.6 77.6h0.7M448.1 83.3h0.7M449.9 78.3h0.7M451.6 77.5h0.7M448.9 83.3h0.7M449.7 72.2h0.7M446.9 77.5h0.7M450.5 75.7h0.7M447.0 75.3h0.7M448.4 79.4h0.7M452.1 82.3h0.7M449.2 80.1h0.7M449.0 79.6h0.7M454.1 69.2h0.7M447.9 80.4h0.7M452.6 74.7h0.7M449.8 82.6h0.7M447.0 71.5h0.7M447.3 74.3h0.7M450.9 75.7h0.7M455.0 79.7h0.7M445.7 77.1h0.7M444.6 80.7h0.7M453.9 78.2h0.7M451.9 75.3h0.7M452.8 71.6h0.7M452.1 77.4h0.7M448.0 81.9h0.7M449.0 80.0h0.7M447.4 83.6h0.7M447.4 75.9h0.7M450.9 80.9h0.7M443.7 75.8h0.7M451.4 75.6h0.7M449.8 77.6h0.7M455.5 78.7h0.7M444.3 74.7h0.7M445.3 79.6h0.7M448.5 83.0h0.7M449.2 79.6h0.7M449.7 78.6h0.7M449.6 82.2h0.7M451.4 76.9h0.7M449.5 69.1h0.7M446.8 80.9h0.7M446.5 74.6h0.7M453.2 74.5h0.7M458.2 75.3h0.7M447.6 74.7h0.7M448.8 73.8h0.7M448.5 83.4h0.7M449.3 78.0h0.7M454.1 75.4h0.7M452.0 77.8h0.7M449.3 79.1h0.7M448.9 78.8h0.7M445.7 76.7h0.7M450.1 78.6h0.7M444.3 76.2h0.7M446.0 78.8h0.7M449.1 79.3h0.7M446.1 79.0h0.7M448.3 72.3h0.7M445.0 74.1h0.7M450.7 74.1h0.7M449.4 77.0h0.7M444.0 72.6h0.7M450.1 80.5h0.7M449.4 80.0h0.7M447.9 79.3h0.7M447.1 75.3h0.7M455.5 71.4h0.7M449.3 80.6h0.7M448.9 75.0h0.7M447.7 77.0h0.7M444.5 78.7h0.7M446.9 76.6h0.7M450.8 74.6h0.7M449.9 76.4h0.7M449.8 79.1h0.7M449.2 74.9h0.7M445.5 75.4h0.7M448.9 81.8h0.7M452.2 76.8h0.7M448.6 72.3h0.7M445.9 72.6h0.7M445.4 72.0h0.7M456.6 79.4h0.7M447.1 81.4h0.7M447.7 75.7h0.7M453.3 72.3h0.7M445.6 79.7h0.7M450.2 82.7h0.7M446.5 79.4h0.7M451.3 77.4h0.7M447.1 76.8h0.7M445.9 74.2h0.7M446.2 72.5h0.7M449.5 72.3h0.7M452.1 77.8h0.7M446.0 83.5h0.7M448.8 80.9h0.7M445.6 82.9h0.7M445.3 79.0h0.7M449.9 76.8h0.7M446.5 81.8h0.7M447.9 83.6h0.7M449.9 72.4h0.7M444.3 76.1h0.7M450.3 77.3h0.7M449.8 75.1h0.7M449.2 82.9h0.7M449.3 69.8h0.7M450.4 78.8h0.7M447.9 73.3h0.7M448.4 79.9h0.7M450.0 82.8h0.7M444.9 80.5h0.7M450.7 77.5h0.7M444.7 74.8h0.7M450.8 81.8h0.7M445.1 73.2h0.7M452.5 72.4h0.7M448.7 75.4h0.7M456.2 77.8h0.7M451.8 82.7h0.7M446.2 75.1h0.7M453.9 77.1h0.7M448.0 77.4h0.7M447.6 76.2h0.7M450.8 83.6h0.7M446.8 73.1h0.7M448.3 72.7h0.7M445.8 83.5h0.7M456.4 80.1h0.7M444.3 81.7h0.7M453.6 81.5h0.7M451.2 78.4h0.7M446.0 80.2h0.7M446.0 70.9h0.7M451.0 76.0h0.7M444.5 73.3h0.7M449.0 75.4h0.7M450.3 77.5h0.7M452.0 77.0h0.7M445.8 70.7h0.7M444.2 81.4h0.7M459.0 73.6h0.7M444.4 79.9h0.7M449.8 75.9h0.7M448.4 72.2h0.7M447.0 82.2h0.7M454.0 77.9h0.7M447.2 80.4h0.7M452.1 80.5h0.7M445.4 80.0h0.7M451.6 75.7h0.7M449.4 82.4h0.7M448.4 76.0h0.7M446.5 74.5h0.7M444.7 76.4h0.7M446.4 83.0h0.7M443.7 78.4h0.7M449.1 77.1h0.7M451.0 78.9h0.7M452.3 81.7h0.7M448.6 74.3h0.7M450.7 78.9h0.7M450.6 78.6h0.7M445.7 74.6h0.7M450.6 83.8h0.7M447.1 80.4h0.7M453.1 75.3h0.7M446.9 74.2h0.7M452.4 79.7h0.7M446.5 72.0h0.7M447.5 82.6h0.7M447.1 76.9h0.7M450.4 73.7h0.7M448.3 81.0h0.7M445.4 75.3h0.7M449.0 78.2h0.7M447.3 79.5h0.7M449.0 75.0h0.7M445.8 80.4h0.7M445.1 83.0h0.7M450.9 78.5h0.7M449.9 81.9h0.7M454.6 74.5h0.7M450.3 78.1h0.7M447.4 83.2h0.7M451.1 74.6h0.7M447.2 79.6h0.7M447.9 79.3h0.7M448.3 77.3h0.7M454.4 76.7h0.7M446.3 73.2h0.7M452.0 79.8h0.7M449.9 79.3h0.7M447.7 75.6h0.7M445.4 80.4h0.7M445.5 76.8h0.7M443.8 81.7h0.7M453.3 78.1h0.7M450.8 70.3h0.7M446.8 72.1h0.7M448.8 78.7h0.7M445.5 82.4h0.7M449.5 76.6h0.7M446.4 72.9h0.7M445.7 80.4h0.7M446.3 81.9h0.7M449.8 77.8h0.7M452.5 77.7h0.7M450.4 76.8h0.7M449.3 76.4h0.7M446.9 79.8h0.7M446.1 80.1h0.7M447.5 69.4h0.7M447.7 76.3h0.7M445.2 80.3h0.7M446.5 80.8h0.7M452.1 79.3h0.7M451.5 77.7h0.7M445.3 78.4h0.7M450.0 79.7h0.7M450.5 75.5h0.7M447.2 77.7h0.7M448.1 70.4h0.7M447.4 73.4h0.7M454.2 81.9h0.7M446.5 82.5h0.7M447.5 81.1h0.7M445.0 76.4h0.7M458.0 73.7h0.7M448.1 75.0h0.7M447.7 76.6h0.7M448.0 82.5h0.7M451.6 79.8h0.7M448.3 79.2h0.7M448.7 81.0h0.7M448.3 80.7h0.7M454.5 79.5h0.7M447.1 66.9h0.7M447.5 81.1h0.7M449.6 83.7h0.7M450.5 79.2h0.7M448.9 81.4h0.7M444.6 76.3h0.7M449.9 71.2h0.7M449.2 76.9h0.7M447.9 79.8h0.7M450.5 76.7h0.7M451.2 83.7h0.7M446.0 82.4h0.7M449.2 74.8h0.7M448.0 76.7h0.7M446.3 79.1h0.7M452.0 77.5h0.7M448.7 72.9h0.7M448.6 83.3h0.7M451.1 80.6h0.7M446.4 74.9h0.7M447.9 73.5h0.7M443.9 82.5h0.7M444.1 79.4h0.7M444.6 78.9h0.7M447.7 77.0h0.7M446.2 82.3h0.7M448.6 78.6h0.7M456.1 70.2h0.7M445.8 71.6h0.7M447.1 77.8h0.7M461.8 80.1h0.7M446.7 80.7h0.7M454.2 79.4h0.7M449.0 80.7h0.7M449.5 80.9h0.7M445.0 77.5h0.7M447.8 78.2h0.7M450.7 79.2h0.7M448.8 73.1h0.7M444.5 80.0h0.7M445.9 75.5h0.7M450.6 76.1h0.7M445.2 76.1h0.7M447.4 82.5h0.7M446.9 68.9h0.7M453.0 74.4h0.7M448.0 73.3h0.7M444.3 76.7h0.7M451.3 82.1h0.7M446.1 80.7h0.7M446.9 79.2h0.7M448.8 81.2h0.7M446.0 78.2h0.7M449.0 79.1h0.7M446.6 81.7h0.7M448.9 83.5h0.7M447.4 73.8h0.7M450.0 73.8h0.7M445.8 75.5h0.7M451.8 81.2h0.7M450.5 76.2h0.7M449.0 79.7h0.7M446.5 76.4h0.7M445.8 77.6h0.7M447.9 74.6h0.7M452.9 73.2h0.7M452.7 79.5h0.7M448.0 76.3h0.7M450.1 77.0h0.7M445.8 77.0h0.7M444.4 78.7h0.7M446.8 75.7h0.7M449.6 80.9h0.7M452.4 79.9h0.7M450.0 76.7h0.7M446.8 80.5h0.7M446.4 74.3h0.7M448.2 82.3h0.7M444.5 82.9h0.7M450.7 75.2h0.7M448.2 78.5h0.7M450.4 81.3h0.7M451.8 79.1h0.7M449.7 80.0h0.7M453.6 73.9h0.7M452.1 75.4h0.7M447.2 77.5h0.7M448.3 74.5h0.7M444.7 81.3h0.7M451.2 76.4h0.7M452.1 80.1h0.7M444.5 76.4h0.7M449.0 74.9h0.7M453.9 79.2h0.7M449.6 74.6h0.7M445.0 75.5h0.7M449.2 77.6h0.7M447.2 79.9h0.7M447.5 74.7h0.7M446.2 78.9h0.7M446.9 80.3h0.7M449.1 75.5h0.7M447.4 82.4h0.7M452.1 82.3h0.7M451.2 77.4h0.7M446.9 82.3h0.7M444.0 78.4h0.7M445.7 73.9h0.7M450.2 75.8h0.7M446.9 77.7h0.7M446.4 79.4h0.7M447.0 77.5h0.7M446.1 79.2h0.7M453.7 78.1h0.7M447.7 77.1h0.7M450.2 81.4h0.7M445.7 78.1h0.7M448.9 79.1h0.7M445.2 75.6h0.7M450.0 79.9h0.7M452.7 76.1h0.7M449.0 73.0h0.7M451.1 74.3h0.7M443.8 77.4h0.7M456.6 76.3h0.7M443.7 80.5h0.7M443.7 72.4h0.7M447.1 80.2h0.7M449.5 82.9h0.7M447.7 82.0h0.7M449.9 77.0h0.7M444.6 82.1h0.7M443.9 76.5h0.7M445.8 76.9h0.7M445.1 76.6h0.7M448.0 76.9h0.7M450.5 78.4h0.7M449.3 79.3h0.7M448.1 78.9h0.7M450.2 75.5h0.7M452.3 76.8h0.7M448.7 81.9h0.7M447.6 77.5h0.7M453.6 76.1h0.7M452.0 82.2h0.7M446.2 75.0h0.7M449.7 77.2h0.7M449.2 74.5h0.7M447.1 77.6h0.7M449.7 79.3h0.7M444.9 78.3h0.7M445.1 81.1h0.7M455.7 78.9h0.7M453.4 68.5h0.7M453.3 78.6h0.7M451.9 83.4h0.7M452.4 78.6h0.7M445.6 76.9h0.7M448.1 80.3h0.7M446.5 78.9h0.7M451.3 80.0h0.7" stroke="#000" stroke-width="0.7" fill="none" opacity="0.85"/>
<path d="M452.3 78.8h0.6M451.2 77.4h0.6M464.8 77.8h0.6M453.1 79.5h0.6M466.7 79.3h0.6M458.2 82.3h0.6M464.3 81.2h0.6M467.8 77.7h0.6M462.4 78.6h0.6M468.3 82.1h0.6M453.1 83.3h0.6M452.2 82.9h0.6M462.3 78.1h0.6M452.5 79.4h0.6M460.6 78.5h0.6M464.9 76.8h0.6M460.7 80.1h0.6M447.0 80.9h0.6M451.5 74.2h0.6M456.2 79.6h0.6M467.5 79.0h0.6M471.7 83.5h0.6M468.8 83.3h0.6M463.4 78.8h0.6M465.6 82.4h0.6M462.5 79.5h0.6M449.2 81.7h0.6M463.4 77.0h0.6M461.5 81.8h0.6M460.0 82.0h0.6M466.4 76.6h0.6M458.5 81.3h0.6M467.6 83.5h0.6M446.6 80.0h0.6M466.1 83.0h0.6M473.3 77.9h0.6M458.0 77.6h0.6M466.8 77.0h0.6M469.5 82.3h0.6M464.4 75.0h0.6M455.8 81.9h0.6M450.3 79.6h0.6M460.0 82.2h0.6M462.9 80.8h0.6M457.5 80.1h0.6M459.8 81.9h0.6M459.4 82.6h0.6M448.2 83.0h0.6M459.5 82.8h0.6M461.4 82.2h0.6M471.8 78.8h0.6M461.4 79.7h0.6M462.3 76.3h0.6M459.5 79.5h0.6M454.9 79.7h0.6M449.3 83.4h0.6M454.3 77.4h0.6M462.8 76.2h0.6M462.4 78.5h0.6M458.3 80.7h0.6M465.4 77.1h0.6M468.0 76.9h0.6M461.4 77.2h0.6M454.6 83.2h0.6M456.6 78.6h0.6M456.6 79.4h0.6M471.4 77.3h0.6M451.6 81.5h0.6M448.9 79.2h0.6M469.1 80.1h0.6M457.2 78.4h0.6M453.9 78.7h0.6M461.7 83.1h0.6M467.8 78.8h0.6M455.3 81.7h0.6M447.2 79.1h0.6M458.3 77.5h0.6M453.3 80.9h0.6M448.4 77.9h0.6M455.8 80.3h0.6M450.5 82.6h0.6M458.3 79.5h0.6M457.9 78.5h0.6M453.3 82.8h0.6M462.1 79.8h0.6M467.9 78.4h0.6M465.2 80.1h0.6M453.9 81.8h0.6M449.5 81.6h0.6M454.0 81.0h0.6M470.7 81.4h0.6M456.0 80.0h0.6M457.8 77.3h0.6M452.3 80.1h0.6M464.4 75.8h0.6M459.9 81.2h0.6M461.2 77.6h0.6M468.0 77.1h0.6M465.2 83.8h0.6M445.3 80.6h0.6M462.7 80.5h0.6M454.7 79.3h0.6M450.0 80.3h0.6M464.3 78.4h0.6M453.5 78.9h0.6M460.3 80.1h0.6M459.6 80.1h0.6M450.7 73.5h0.6M464.8 83.3h0.6M449.9 78.4h0.6M462.5 82.2h0.6M465.1 83.0h0.6M459.9 80.9h0.6M463.3 79.0h0.6M469.1 81.4h0.6M467.5 79.1h0.6M467.9 77.5h0.6M463.2 73.8h0.6M452.8 81.7h0.6M457.0 80.4h0.6M448.3 83.6h0.6M464.6 79.9h0.6M463.3 80.7h0.6M470.6 80.5h0.6M449.4 79.4h0.6M469.7 81.3h0.6M457.2 81.4h0.6M461.1 81.4h0.6M448.6 77.9h0.6M465.1 79.4h0.6M458.0 80.5h0.6M456.2 78.5h0.6M459.7 76.6h0.6M444.8 83.2h0.6M459.5 82.6h0.6M461.1 80.3h0.6M465.2 81.6h0.6M451.4 82.8h0.6M453.1 80.4h0.6M479.0 80.1h0.6M472.5 79.1h0.6M464.8 80.1h0.6M463.3 78.0h0.6M453.5 80.7h0.6M448.8 78.0h0.6M465.0 78.5h0.6M453.8 77.4h0.6M461.3 79.1h0.6M461.4 79.5h0.6M473.8 78.9h0.6M445.9 80.2h0.6M460.3 80.3h0.6M448.5 82.6h0.6M460.0 79.9h0.6M448.7 81.1h0.6M459.8 83.1h0.6M457.2 77.1h0.6M461.2 77.8h0.6M463.3 77.4h0.6M459.3 79.4h0.6M460.0 78.8h0.6M454.3 79.8h0.6M456.0 80.3h0.6M458.3 74.7h0.6M459.8 83.2h0.6M462.5 81.4h0.6M463.6 78.9h0.6M450.6 81.9h0.6M467.9 81.3h0.6M463.4 80.9h0.6M460.1 80.6h0.6M460.4 80.7h0.6M453.4 78.5h0.6M464.4 79.2h0.6M465.5 81.5h0.6M455.5 77.4h0.6M458.7 80.0h0.6M454.7 80.3h0.6M465.3 81.4h0.6M452.8 75.0h0.6M460.3 78.5h0.6M463.5 83.8h0.6M472.1 80.6h0.6M468.3 83.8h0.6M460.7 80.6h0.6M466.5 79.9h0.6M456.8 78.3h0.6M460.4 78.6h0.6M466.1 79.2h0.6M470.9 82.8h0.6M451.5 82.5h0.6M457.5 83.1h0.6M464.1 79.9h0.6M465.2 78.7h0.6M462.8 80.9h0.6M459.4 80.9h0.6M453.3 81.3h0.6M451.8 81.4h0.6M463.8 81.6h0.6M458.9 80.4h0.6M455.1 83.3h0.6M457.1 82.3h0.6M453.8 80.8h0.6M457.9 82.2h0.6M458.5 78.1h0.6M463.8 77.3h0.6M453.8 81.8h0.6M447.3 81.8h0.6M457.7 78.0h0.6M462.3 81.5h0.6M456.5 79.7h0.6M466.3 81.8h0.6M460.3 78.3h0.6M453.9 78.7h0.6M465.5 81.4h0.6M462.8 83.3h0.6M458.6 79.2h0.6M446.1 80.8h0.6M463.9 80.3h0.6M477.3 82.8h0.6M466.2 78.1h0.6M464.3 79.3h0.6M461.1 80.6h0.6M457.4 81.6h0.6M472.3 82.5h0.6M462.3 75.8h0.6M468.5 82.6h0.6M459.5 79.1h0.6M465.5 78.3h0.6M466.5 77.7h0.6M454.4 80.2h0.6M450.6 80.2h0.6M464.6 77.2h0.6M467.4 78.9h0.6M464.8 80.7h0.6M457.7 79.0h0.6M448.9 78.6h0.6M468.1 77.1h0.6M466.6 80.7h0.6M458.3 81.2h0.6M466.5 78.9h0.6M459.0 80.6h0.6M454.0 80.6h0.6M460.4 78.7h0.6M455.0 80.9h0.6M467.1 80.9h0.6M455.0 81.9h0.6M462.2 81.5h0.6M469.1 78.2h0.6M460.0 78.8h0.6M467.6 76.2h0.6M464.0 78.9h0.6M469.0 80.4h0.6M459.8 80.5h0.6M463.7 80.3h0.6M459.4 79.9h0.6M464.6 77.7h0.6M461.0 79.9h0.6M457.6 81.8h0.6M451.9 79.4h0.6M455.0 81.4h0.6M457.7 80.3h0.6M463.7 76.6h0.6M464.2 78.5h0.6M459.2 79.9h0.6M466.7 81.9h0.6M473.4 80.6h0.6M457.7 79.1h0.6M465.6 83.8h0.6M463.4 78.9h0.6M462.9 80.8h0.6M461.2 78.5h0.6M468.4 80.7h0.6M445.5 80.2h0.6M462.3 77.5h0.6M466.6 78.4h0.6M464.9 80.2h0.6M452.7 81.7h0.6M451.6 83.2h0.6M461.4 77.9h0.6M471.2 77.4h0.6M472.5 80.6h0.6M459.5 80.0h0.6M459.1 83.4h0.6M462.1 76.1h0.6M475.7 82.2h0.6M453.4 79.4h0.6M454.7 80.3h0.6M463.8 80.7h0.6M456.8 78.4h0.6M466.9 80.0h0.6M476.8 78.4h0.6M466.5 80.3h0.6M455.7 83.3h0.6M461.9 78.2h0.6M458.8 82.5h0.6M452.4 83.3h0.6M465.8 79.6h0.6M465.2 80.6h0.6M473.9 83.6h0.6M454.5 79.7h0.6M459.5 79.3h0.6M450.5 82.2h0.6M461.6 80.4h0.6M470.9 78.9h0.6M460.6 80.8h0.6M458.0 80.0h0.6M466.4 80.2h0.6M470.4 78.5h0.6M462.4 77.0h0.6M460.2 78.6h0.6M470.6 81.9h0.6M471.2 81.8h0.6M456.1 76.9h0.6M460.8 79.4h0.6" stroke="#000" stroke-width="0.6" fill="none" opacity="0.6"/>
<path d="M445.3 64.5h0.6M444.0 61.3h0.6M448.5 53.2h0.6M449.4 75.0h0.6M446.2 57.9h0.6M445.7 51.3h0.6M450.7 67.5h0.6M445.1 59.3h0.6M448.5 79.8h0.6M443.6 62.1h0.6M446.7 63.3h0.6M445.1 74.3h0.6M447.7 62.7h0.6M444.6 76.0h0.6M451.9 63.2h0.6M448.4 81.9h0.6M445.4 64.9h0.6M443.8 65.7h0.6M446.8 63.4h0.6M445.0 53.5h0.6M448.7 62.6h0.6M444.7 72.6h0.6M448.5 60.5h0.6M445.3 72.7h0.6M448.0 59.8h0.6M447.6 66.7h0.6M450.0 59.6h0.6M449.4 70.7h0.6M444.3 76.0h0.6M449.4 55.7h0.6M452.3 57.2h0.6M444.5 64.2h0.6M449.1 72.0h0.6M446.7 78.7h0.6M448.1 79.0h0.6M454.5 68.7h0.6M444.1 67.8h0.6M447.3 56.4h0.6M443.9 64.7h0.6M446.5 44.5h0.6M449.6 67.3h0.6M447.0 69.6h0.6M444.2 66.6h0.6M449.8 76.3h0.6M448.2 64.6h0.6M444.8 78.5h0.6M448.4 63.3h0.6M447.5 60.5h0.6M450.3 55.2h0.6M446.6 56.2h0.6M453.6 80.7h0.6M447.1 63.7h0.6M447.6 76.1h0.6M452.2 69.5h0.6M451.4 69.1h0.6M451.1 61.6h0.6M448.4 80.7h0.6M449.8 62.9h0.6M449.5 61.1h0.6M450.9 74.5h0.6M448.9 62.9h0.6M449.5 71.4h0.6M449.8 74.2h0.6M448.4 64.8h0.6M448.1 62.2h0.6M446.1 59.3h0.6M447.7 63.3h0.6M449.6 73.4h0.6M444.7 83.4h0.6M443.9 71.0h0.6M450.0 78.5h0.6M450.4 79.9h0.6M446.7 63.0h0.6M450.7 60.9h0.6M450.4 72.0h0.6M445.7 67.9h0.6M449.8 65.4h0.6M449.5 52.8h0.6M448.3 63.7h0.6M444.2 70.8h0.6M452.4 66.1h0.6M445.0 59.4h0.6M452.5 66.6h0.6M448.7 78.0h0.6M450.0 58.7h0.6M449.7 74.6h0.6M448.4 76.1h0.6M445.4 66.3h0.6M445.5 73.8h0.6M445.2 70.5h0.6M443.9 65.9h0.6M446.0 66.0h0.6M447.4 65.3h0.6M446.4 48.4h0.6M450.1 61.4h0.6M446.3 59.6h0.6M449.8 58.9h0.6M448.4 77.6h0.6M451.6 77.7h0.6M448.7 56.2h0.6M450.6 77.7h0.6M449.3 74.2h0.6M447.2 62.4h0.6M450.0 78.5h0.6M444.1 75.3h0.6M447.7 75.0h0.6M447.8 77.1h0.6M449.9 75.1h0.6M447.2 57.0h0.6M449.0 54.9h0.6M449.5 82.3h0.6M445.6 75.4h0.6M448.3 73.0h0.6M447.4 73.8h0.6M447.1 77.0h0.6M447.8 73.3h0.6M450.9 68.8h0.6M449.8 69.3h0.6M448.5 62.5h0.6M449.2 78.2h0.6M446.9 74.3h0.6M448.3 57.4h0.6M448.1 79.0h0.6M445.7 51.4h0.6M447.7 61.6h0.6M452.3 66.9h0.6M447.1 61.7h0.6M447.8 62.3h0.6M444.6 66.8h0.6M444.9 79.0h0.6M443.9 66.7h0.6M445.2 55.1h0.6M451.7 48.7h0.6M451.1 54.8h0.6M450.7 68.8h0.6M445.6 67.0h0.6M444.4 68.4h0.6M451.2 63.9h0.6M447.5 77.9h0.6M452.6 62.1h0.6M447.9 62.4h0.6M445.3 63.8h0.6M445.4 52.1h0.6M447.5 78.0h0.6M445.6 65.8h0.6M448.9 73.8h0.6M446.8 66.8h0.6M452.2 64.4h0.6M445.8 53.0h0.6M448.3 65.0h0.6M452.3 64.4h0.6M449.3 75.5h0.6M451.6 55.8h0.6M451.4 67.4h0.6M446.8 64.6h0.6M446.0 64.3h0.6M447.3 58.9h0.6M448.1 63.9h0.6M451.8 60.3h0.6M446.7 62.4h0.6M446.4 73.7h0.6M448.7 60.9h0.6M446.7 68.1h0.6M446.0 67.0h0.6M445.1 60.8h0.6M447.2 58.2h0.6M448.2 65.6h0.6M444.6 61.9h0.6M445.8 65.9h0.6M447.4 65.5h0.6M444.7 79.8h0.6M449.6 68.2h0.6M449.7 70.1h0.6M446.4 68.0h0.6M454.3 76.0h0.6M449.9 63.8h0.6M448.2 76.6h0.6M450.5 72.9h0.6M451.4 69.3h0.6M448.4 61.8h0.6M454.3 69.9h0.6M447.4 79.4h0.6M445.8 67.2h0.6M445.0 67.5h0.6M446.0 72.0h0.6M446.7 62.0h0.6M446.3 66.2h0.6M445.7 75.4h0.6M448.9 68.5h0.6M443.9 71.8h0.6M443.6 68.9h0.6M447.2 62.1h0.6M444.8 61.2h0.6M452.6 64.9h0.6M446.5 75.6h0.6M448.2 76.4h0.6M443.8 57.8h0.6M456.1 66.9h0.6M446.3 68.6h0.6M449.8 56.9h0.6M447.8 67.0h0.6M448.9 68.7h0.6M445.6 59.7h0.6M451.6 63.6h0.6M448.7 65.4h0.6M449.0 67.5h0.6M445.7 78.9h0.6M446.4 55.6h0.6M446.2 71.9h0.6M444.1 74.0h0.6M445.3 73.0h0.6M447.4 70.8h0.6M446.9 66.4h0.6M445.4 63.4h0.6M447.9 72.1h0.6M448.8 75.8h0.6M450.3 51.7h0.6M445.7 65.8h0.6M445.3 76.3h0.6M449.1 66.3h0.6M447.4 78.1h0.6M446.1 64.5h0.6M449.5 71.3h0.6M450.9 70.4h0.6M449.1 62.5h0.6M444.5 67.2h0.6M449.7 67.9h0.6M446.5 76.6h0.6M447.0 75.7h0.6M453.0 73.5h0.6M449.6 71.5h0.6M447.7 69.6h0.6M447.3 76.6h0.6M448.8 60.0h0.6M446.8 61.3h0.6M448.3 74.7h0.6M451.0 71.6h0.6M445.1 69.4h0.6M448.6 79.4h0.6M448.3 71.5h0.6M449.4 70.6h0.6M445.3 70.3h0.6M450.3 66.2h0.6M447.1 56.8h0.6M450.2 62.9h0.6M445.1 63.4h0.6M444.8 65.1h0.6M450.5 74.1h0.6M450.9 80.0h0.6M444.7 71.4h0.6M448.3 64.4h0.6M444.4 70.5h0.6M445.0 47.7h0.6M447.0 68.3h0.6M448.8 75.3h0.6M447.6 65.2h0.6M445.3 53.1h0.6M445.9 75.8h0.6M446.7 51.9h0.6M449.3 76.1h0.6M443.9 53.3h0.6M447.5 73.3h0.6M444.1 64.3h0.6M445.0 57.0h0.6M446.1 61.4h0.6M444.5 66.0h0.6M444.0 70.4h0.6M446.5 75.0h0.6M444.1 61.6h0.6M445.3 69.8h0.6M448.8 68.3h0.6M447.7 69.5h0.6M445.5 65.2h0.6M445.0 64.9h0.6M449.0 70.4h0.6M448.3 76.6h0.6M447.0 66.2h0.6M450.1 75.9h0.6M446.8 72.5h0.6M449.5 82.7h0.6M450.3 68.3h0.6M447.3 68.5h0.6M447.6 62.8h0.6M449.1 61.1h0.6" stroke="#000" stroke-width="0.6" fill="none" opacity="0.55"/>
<path d="M450.4 72.1h0.6M451.7 68.6h0.6M455.0 69.3h0.6M457.7 71.2h0.6M451.0 81.5h0.6M452.4 75.6h0.6M465.5 66.5h0.6M455.6 65.3h0.6M461.0 68.1h0.6M448.7 77.6h0.6M460.3 64.9h0.6M461.8 71.1h0.6M470.6 79.8h0.6M451.8 68.5h0.6M450.0 70.8h0.6M455.3 74.2h0.6M455.5 61.6h0.6M450.4 78.1h0.6M461.6 69.1h0.6M454.2 69.0h0.6M455.1 60.4h0.6M460.1 66.2h0.6M455.8 55.5h0.6M456.3 77.7h0.6M457.7 65.8h0.6M445.9 76.7h0.6M456.5 73.4h0.6M453.4 65.4h0.6M460.0 64.5h0.6M460.2 60.4h0.6M449.7 61.7h0.6M462.5 60.0h0.6M448.5 73.8h0.6M456.3 82.6h0.6M465.6 73.5h0.6M459.0 59.5h0.6M449.9 68.1h0.6M454.0 62.1h0.6M449.7 65.1h0.6M461.1 72.4h0.6M453.1 68.4h0.6M456.7 66.0h0.6M453.5 60.1h0.6M458.8 75.5h0.6M457.1 72.7h0.6M457.1 81.7h0.6M456.2 62.4h0.6M449.0 74.1h0.6M461.1 74.4h0.6M459.8 71.1h0.6M446.4 65.9h0.6M444.6 67.8h0.6M447.2 70.5h0.6M454.0 58.8h0.6M459.2 74.4h0.6M447.0 70.8h0.6M459.1 68.3h0.6M459.9 71.1h0.6M461.1 71.0h0.6M454.0 72.9h0.6M459.5 71.4h0.6M452.4 65.4h0.6M452.8 66.6h0.6M456.1 70.9h0.6M454.4 69.9h0.6M455.9 79.0h0.6M461.9 66.6h0.6M457.4 68.0h0.6M454.4 68.5h0.6M451.3 62.1h0.6M461.7 64.7h0.6M457.8 67.7h0.6M456.5 65.2h0.6M453.6 69.3h0.6M454.1 55.5h0.6M458.6 69.7h0.6M456.1 72.0h0.6M452.5 63.6h0.6M452.3 67.4h0.6M467.7 80.6h0.6M452.0 67.5h0.6M456.7 73.1h0.6M450.8 64.0h0.6M466.1 76.0h0.6M445.8 59.6h0.6M450.0 71.1h0.6M458.0 67.9h0.6M445.4 71.1h0.6M458.3 69.8h0.6M452.0 73.2h0.6M454.5 63.3h0.6M455.4 62.3h0.6M460.4 72.6h0.6M449.0 71.1h0.6M462.1 57.3h0.6M454.0 79.4h0.6M445.8 68.8h0.6M446.5 69.4h0.6M451.7 70.6h0.6M457.0 72.3h0.6M461.5 73.9h0.6M459.1 64.1h0.6M468.1 74.7h0.6M459.2 75.6h0.6M452.5 81.3h0.6M452.6 69.3h0.6M467.6 57.6h0.6M456.9 59.7h0.6M451.0 69.3h0.6M452.7 70.8h0.6M450.3 69.2h0.6M447.8 67.5h0.6M446.6 73.7h0.6M447.2 73.9h0.6" stroke="#000" stroke-width="0.6" fill="none" opacity="0.5"/>
<text x="448.1" y="22" font-size="7.4" font-weight="normal" text-anchor="start" fill="#000"  stroke="#000" stroke-width="0.07" textLength="15.6" lengthAdjust="spacingAndGlyphs">1.9%</text>
<text x="492.1" y="22" font-size="7.4" font-weight="normal" text-anchor="start" fill="#000"  stroke="#000" stroke-width="0.07" textLength="20.5" lengthAdjust="spacingAndGlyphs">0.33%</text>
<text x="496.6" y="81.2" font-size="7.4" font-weight="normal" text-anchor="start" fill="#000"  stroke="#000" stroke-width="0.07" textLength="16" lengthAdjust="spacingAndGlyphs">2.7%</text>
<line x1="434.5" y1="79" x2="434.5" y2="22.4" stroke="#111" stroke-width="1.2"/>
<polygon points="434.5,18.4 431.9,24.4 437.1,24.4" fill="#000" stroke="#000" stroke-width="0"/>
<text transform="translate(431.9 48) rotate(-90)" font-size="10.6" text-anchor="middle" fill="#000" textLength="28.3" lengthAdjust="spacingAndGlyphs" stroke="#000" stroke-width="0.15">CD41</text>
<line x1="371" y1="90.5" x2="489.8" y2="90.5" stroke="#111" stroke-width="1.2"/>
<polygon points="493.8,90.5 487.8,87.9 487.8,93.1" fill="#000" stroke="#000" stroke-width="0"/>
<text x="421.5" y="101.7" font-size="11" font-weight="normal" text-anchor="start" fill="#000"  stroke="#000" stroke-width="0.15">GFP</text>
<text x="1" y="125.3" font-size="13" font-weight="bold" text-anchor="start" fill="#111"  stroke="#111" stroke-width="0.3">D</text>
<rect x="60" y="123" width="100" height="72.3" fill="#fff" stroke="#8a8a8a" stroke-width="1"/>
<path d="M60 122.5V195.3H160.5" fill="none" stroke="#333" stroke-width="1"/>
<text x="53" y="197.2" font-size="7.5" font-weight="normal" text-anchor="end" fill="#000"  stroke="#000" stroke-width="0.07">0</text>
<text x="53" y="179.14999999999998" font-size="7.5" font-weight="normal" text-anchor="end" fill="#000"  stroke="#000" stroke-width="0.07">1000</text>
<text x="53" y="161.1" font-size="7.5" font-weight="normal" text-anchor="end" fill="#000"  stroke="#000" stroke-width="0.07">2000</text>
<text x="53" y="143.04999999999998" font-size="7.5" font-weight="normal" text-anchor="end" fill="#000"  stroke="#000" stroke-width="0.07">3000</text>
<text x="53" y="125.0" font-size="7.5" font-weight="normal" text-anchor="end" fill="#000"  stroke="#000" stroke-width="0.07">4000</text>
<rect x="66.3" y="186.5" width="19.5" height="8.5" fill="#858585" stroke="#333" stroke-width="0.9"/>
<line x1="76.05" y1="186.0" x2="76.05" y2="186.5" stroke="#222" stroke-width="0.9"/>
<line x1="73.3" y1="186.0" x2="78.8" y2="186.0" stroke="#222" stroke-width="0.9"/>
<rect x="100.2" y="135.4" width="19.5" height="59.599999999999994" fill="#858585" stroke="#333" stroke-width="0.9"/>
<line x1="109.95" y1="131.6" x2="109.95" y2="135.4" stroke="#222" stroke-width="0.9"/>
<line x1="107.2" y1="131.6" x2="112.7" y2="131.6" stroke="#222" stroke-width="0.9"/>
<rect x="133.5" y="187.5" width="19.5" height="7.5" fill="#858585" stroke="#333" stroke-width="0.9"/>
<line x1="143.25" y1="185.4" x2="143.25" y2="187.5" stroke="#222" stroke-width="0.9"/>
<line x1="140.5" y1="185.4" x2="146.0" y2="185.4" stroke="#222" stroke-width="0.9"/>
<text transform="translate(31.2 166.6) rotate(-90)" font-size="9" text-anchor="middle" fill="#000" textLength="96" lengthAdjust="spacingAndGlyphs" stroke="#000" stroke-width="0.15">Blast colonies /10<tspan font-size="6" dy="-3">5</tspan><tspan dy="3"> cells</tspan></text>
<text x="75.9" y="205.5" font-size="9" font-weight="normal" text-anchor="middle" fill="#000"  stroke="#000" stroke-width="0.15">Un-</text>
<text x="75.2" y="216" font-size="9" font-weight="normal" text-anchor="middle" fill="#000"  stroke="#000" stroke-width="0.15">sorted</text>
<text x="109.7" y="205" font-size="9" font-weight="normal" text-anchor="middle" fill="#000"  stroke="#000" stroke-width="0.15">+</text>
<text x="109.7" y="215.6" font-size="9" font-weight="normal" text-anchor="middle" fill="#000"  stroke="#000" stroke-width="0.15">-</text>
<text x="141.5" y="205" font-size="9" font-weight="normal" text-anchor="middle" fill="#000"  stroke="#000" stroke-width="0.15">+</text>
<text x="141.5" y="216" font-size="9" font-weight="normal" text-anchor="middle" fill="#000"  stroke="#000" stroke-width="0.15">+</text>
<text x="159.9" y="205.5" font-size="9" font-weight="normal" text-anchor="start" fill="#000"  stroke="#000" stroke-width="0.15">Flk1</text>
<text x="159.7" y="216.1" font-size="9" font-weight="normal" text-anchor="start" fill="#000"  stroke="#000" stroke-width="0.15">GFP</text>
<text x="225" y="124.9" font-size="13" font-weight="bold" text-anchor="start" fill="#111"  stroke="#111" stroke-width="0.3">E</text>
<text x="262.5" y="121.2" font-size="8.8" font-weight="normal" text-anchor="start" fill="#000"  stroke="#000" stroke-width="0.15" textLength="34.3" lengthAdjust="spacingAndGlyphs">After sort</text>
<text x="331.4" y="121.2" font-size="8.9" font-weight="normal" text-anchor="start" fill="#000"  stroke="#000" stroke-width="0.15" textLength="54.5" lengthAdjust="spacingAndGlyphs">24 hrs culture</text>
<rect x="242.3" y="123.8" width="71.69999999999999" height="70.39999999999999" fill="#fff" stroke="#858585" stroke-width="0.9"/>
<text x="243.7" y="197.3" font-size="3.2" fill="#888" text-anchor="middle">10</text>
<text x="261.4" y="197.3" font-size="3.2" fill="#888" text-anchor="middle">10</text>
<text x="279.1" y="197.3" font-size="3.2" fill="#888" text-anchor="middle">10</text>
<text x="296.8" y="197.3" font-size="3.2" fill="#888" text-anchor="middle">10</text>
<text x="314.5" y="197.3" font-size="3.2" fill="#888" text-anchor="middle">10</text>
<text x="241.1" y="192.4" font-size="3.2" fill="#a2a2a2" text-anchor="end">10</text>
<text x="241.1" y="174.7" font-size="3.2" fill="#a2a2a2" text-anchor="end">10</text>
<text x="241.1" y="157.0" font-size="3.2" fill="#a2a2a2" text-anchor="end">10</text>
<text x="241.1" y="139.3" font-size="3.2" fill="#a2a2a2" text-anchor="end">10</text>
<text x="241.1" y="121.6" font-size="3.2" fill="#a2a2a2" text-anchor="end">10</text>
<rect x="242.3" y="148.8" width="42" height="32.3" fill="none" stroke="#989898" stroke-width="0.9"/>
<line x1="257.6" y1="148.8" x2="257.6" y2="181.1" stroke="#444" stroke-width="0.9"/>
<ellipse cx="250.2" cy="160.6" rx="5.0" ry="8.4" transform="rotate(6 250.2 160.6)" fill="#000" opacity="1.0" filter="url(#b1_0)"/>
<path d="M249.0 158.7h0.7M253.8 161.4h0.7M243.9 162.4h0.7M249.6 153.0h0.7M250.5 158.9h0.7M256.7 158.8h0.7M255.5 168.3h0.7M248.6 156.0h0.7M254.4 160.1h0.7M250.8 159.2h0.7M246.5 158.1h0.7M247.9 152.1h0.7M248.3 169.7h0.7M255.3 160.6h0.7M250.3 163.2h0.7M254.3 162.5h0.7M248.8 158.2h0.7M252.3 174.4h0.7M249.2 149.5h0.7M252.7 160.3h0.7M249.9 167.0h0.7M251.0 153.5h0.7M243.9 159.6h0.7M246.3 161.6h0.7M246.3 158.2h0.7M245.7 158.1h0.7M248.4 163.4h0.7M254.5 159.9h0.7M246.4 170.4h0.7M251.0 163.8h0.7M251.3 168.3h0.7M253.0 164.3h0.7M253.0 156.2h0.7M248.3 159.7h0.7M250.4 160.6h0.7M251.1 160.7h0.7M249.6 151.8h0.7M252.5 163.8h0.7M247.1 162.8h0.7M251.3 161.0h0.7M244.9 153.5h0.7M247.4 168.8h0.7M247.6 158.4h0.7M246.9 157.5h0.7M252.3 149.7h0.7M250.6 157.3h0.7M252.7 165.9h0.7M243.6 158.9h0.7M254.0 157.3h0.7M248.6 165.4h0.7M249.9 154.1h0.7M248.6 153.3h0.7M252.8 151.5h0.7M254.2 152.1h0.7M251.0 152.7h0.7M248.6 165.7h0.7M253.0 167.7h0.7M249.8 161.0h0.7M250.5 163.8h0.7M248.3 166.1h0.7M250.6 166.6h0.7M251.3 164.2h0.7M248.0 158.0h0.7M246.2 158.5h0.7M249.1 164.8h0.7M244.4 177.1h0.7M249.1 167.0h0.7M254.8 147.5h0.7M248.5 168.1h0.7M247.5 157.7h0.7M251.8 150.7h0.7M251.1 157.1h0.7M247.4 163.9h0.7M261.1 163.4h0.7M251.9 160.4h0.7M247.7 161.6h0.7M254.9 161.9h0.7M253.1 159.5h0.7M259.0 152.5h0.7M251.7 163.5h0.7M251.6 154.6h0.7M246.6 158.8h0.7M251.1 154.1h0.7M246.4 163.0h0.7M253.7 157.8h0.7M248.3 156.4h0.7M257.7 163.8h0.7M249.4 165.7h0.7M256.8 167.3h0.7M245.6 159.5h0.7M249.0 158.5h0.7M246.4 157.9h0.7M246.5 161.8h0.7M251.0 152.9h0.7M244.9 157.3h0.7M251.9 163.2h0.7M251.6 142.9h0.7M248.9 156.3h0.7M249.7 153.8h0.7M249.1 156.7h0.7M258.4 165.0h0.7M249.5 160.1h0.7M249.6 161.3h0.7M248.8 160.2h0.7M252.9 165.1h0.7M250.4 167.5h0.7M251.3 155.3h0.7M244.9 156.1h0.7M249.7 162.5h0.7M253.8 157.7h0.7M247.1 164.2h0.7M254.1 158.2h0.7M250.4 167.8h0.7M251.1 160.2h0.7M252.1 161.2h0.7M249.3 153.6h0.7M249.8 159.8h0.7M254.2 154.3h0.7M254.7 161.0h0.7M254.4 155.6h0.7M250.6 166.9h0.7M251.2 152.6h0.7M248.8 163.1h0.7M246.4 152.3h0.7M251.3 155.4h0.7M252.9 154.4h0.7M244.6 155.7h0.7M255.3 156.3h0.7M249.9 161.7h0.7M246.5 165.8h0.7M250.4 162.8h0.7M245.7 150.6h0.7M249.0 164.1h0.7M255.0 159.5h0.7M249.0 162.7h0.7M255.4 156.5h0.7M252.2 159.3h0.7M248.6 164.6h0.7M248.1 154.5h0.7M252.2 160.5h0.7M249.3 159.6h0.7M251.9 158.6h0.7M252.3 162.8h0.7M254.2 167.6h0.7M252.9 159.6h0.7M250.8 157.3h0.7M259.3 160.1h0.7M251.2 167.8h0.7M246.2 155.6h0.7M249.4 155.0h0.7M246.3 157.3h0.7M253.8 164.6h0.7M250.2 160.6h0.7M244.5 163.6h0.7M252.0 154.8h0.7M250.9 159.5h0.7M249.0 155.0h0.7M248.5 155.2h0.7M251.4 162.5h0.7M251.2 159.6h0.7M247.7 171.1h0.7M243.6 166.1h0.7M251.2 160.9h0.7M248.6 159.1h0.7M247.1 152.7h0.7M250.6 151.7h0.7M252.2 166.6h0.7M250.9 161.6h0.7M250.3 162.7h0.7M252.0 165.2h0.7M255.8 161.2h0.7M253.7 152.2h0.7M250.4 154.0h0.7M253.3 173.2h0.7M252.5 153.8h0.7M249.8 160.6h0.7M250.2 166.3h0.7M254.6 146.8h0.7M254.7 158.3h0.7M247.6 167.8h0.7M250.0 153.2h0.7M245.9 160.3h0.7M252.2 168.7h0.7M249.8 157.9h0.7M255.5 158.6h0.7M254.7 162.2h0.7M251.0 159.3h0.7M251.3 158.1h0.7M248.0 159.5h0.7M247.9 161.9h0.7M250.5 159.1h0.7M249.6 159.2h0.7M255.7 161.0h0.7M248.4 158.7h0.7M252.4 159.6h0.7M249.8 159.1h0.7M250.5 162.6h0.7M252.4 152.0h0.7M248.1 146.3h0.7M252.1 166.6h0.7M254.2 161.6h0.7M253.8 160.6h0.7M250.6 152.3h0.7M248.0 157.1h0.7M252.2 169.5h0.7M248.4 162.3h0.7M251.4 156.5h0.7M245.1 155.9h0.7M245.7 158.3h0.7M249.8 159.5h0.7M249.3 163.0h0.7M246.7 164.8h0.7M244.8 160.3h0.7M251.8 156.4h0.7M244.7 163.3h0.7M247.6 164.4h0.7M252.6 160.7h0.7M249.6 165.6h0.7M251.8 155.7h0.7M250.4 163.4h0.7M250.7 161.5h0.7M249.7 159.8h0.7M247.9 152.6h0.7M254.0 157.5h0.7M251.6 152.6h0.7M251.1 156.2h0.7M260.1 156.0h0.7M246.6 165.1h0.7M254.8 149.7h0.7M250.5 165.1h0.7M245.9 163.6h0.7M249.0 155.0h0.7M249.3 157.9h0.7M244.5 171.7h0.7M249.1 156.4h0.7M252.9 160.3h0.7M254.5 159.5h0.7M251.2 161.0h0.7M250.8 159.4h0.7M248.9 169.2h0.7M248.3 157.4h0.7M248.7 163.3h0.7M250.9 165.5h0.7M245.8 161.4h0.7M249.7 158.9h0.7M251.7 150.2h0.7M250.9 161.3h0.7M245.7 159.5h0.7M255.2 158.9h0.7M252.1 159.4h0.7M248.0 155.4h0.7M248.2 167.1h0.7M253.1 157.0h0.7M253.3 160.1h0.7M247.7 162.5h0.7M248.1 152.0h0.7M255.2 151.3h0.7M252.6 152.7h0.7M250.1 159.4h0.7M249.9 148.9h0.7M249.8 160.2h0.7M247.3 159.8h0.7M253.6 157.0h0.7M251.5 154.5h0.7M251.0 163.9h0.7M257.5 166.0h0.7M250.8 167.9h0.7M246.4 165.7h0.7M248.7 157.1h0.7M253.5 162.0h0.7M255.1 153.3h0.7M251.3 157.8h0.7M250.3 150.5h0.7M253.0 161.9h0.7M247.7 153.2h0.7M246.7 167.5h0.7M250.0 158.7h0.7M251.7 160.7h0.7M250.5 164.4h0.7M250.7 165.2h0.7M246.4 160.5h0.7M249.0 161.0h0.7M250.4 157.2h0.7M248.6 165.3h0.7M249.1 153.9h0.7M251.5 165.8h0.7M249.3 161.1h0.7M247.7 159.2h0.7M253.2 165.1h0.7M250.8 159.2h0.7M244.9 161.7h0.7M251.1 166.2h0.7M256.3 163.2h0.7M253.8 155.1h0.7M253.5 165.4h0.7M254.1 164.5h0.7M250.8 168.4h0.7M247.8 163.7h0.7M254.0 156.9h0.7M246.4 162.5h0.7M250.3 163.8h0.7M252.6 156.9h0.7M250.7 166.5h0.7M249.3 159.1h0.7M246.3 164.5h0.7M257.0 154.2h0.7M252.1 165.5h0.7M248.7 158.6h0.7M247.4 156.3h0.7M250.4 164.1h0.7M250.2 165.1h0.7M251.5 154.7h0.7M254.1 167.2h0.7M247.1 169.6h0.7M251.6 161.5h0.7M257.5 148.5h0.7M244.9 163.9h0.7M250.0 155.8h0.7M254.7 163.7h0.7M246.6 156.9h0.7M252.0 170.2h0.7M243.9 161.4h0.7M250.0 151.6h0.7M250.6 152.5h0.7M247.8 168.9h0.7M251.5 164.9h0.7M252.0 162.8h0.7M253.9 155.1h0.7M248.7 165.0h0.7M248.2 158.3h0.7M253.2 169.1h0.7M248.8 156.4h0.7M252.0 162.4h0.7M247.9 163.7h0.7M252.0 161.4h0.7M258.7 168.7h0.7M252.3 166.3h0.7M258.9 167.4h0.7M247.9 162.2h0.7M250.8 157.9h0.7M251.0 162.2h0.7M250.4 158.3h0.7M253.7 152.9h0.7M252.9 161.1h0.7M252.4 148.7h0.7M256.4 152.4h0.7M247.3 163.9h0.7M248.6 158.5h0.7M243.6 157.9h0.7M250.6 164.4h0.7M249.3 161.9h0.7M252.0 157.5h0.7M247.0 170.7h0.7M247.0 166.9h0.7M249.8 168.5h0.7M248.1 163.3h0.7M251.5 159.8h0.7M251.7 157.0h0.7M250.3 158.8h0.7M252.7 160.6h0.7M246.2 158.5h0.7M250.5 156.2h0.7M254.3 163.4h0.7M253.3 157.2h0.7M248.6 165.9h0.7M245.7 162.3h0.7M250.9 158.3h0.7M251.2 155.3h0.7M251.7 154.6h0.7M245.6 167.7h0.7M249.2 149.7h0.7M253.8 157.2h0.7M253.0 163.0h0.7M255.8 160.7h0.7M252.7 155.8h0.7M250.0 168.8h0.7M251.8 161.9h0.7M244.3 158.3h0.7M245.9 164.5h0.7M247.8 162.5h0.7M246.2 170.3h0.7M246.6 161.2h0.7M258.4 162.8h0.7M247.3 163.8h0.7M253.0 165.7h0.7M244.0 161.4h0.7M250.8 158.5h0.7M252.2 163.6h0.7M245.8 168.9h0.7M250.5 151.6h0.7M253.9 169.3h0.7M254.0 164.1h0.7M247.0 165.5h0.7M255.7 165.7h0.7M255.8 157.3h0.7M253.0 166.1h0.7M246.5 151.9h0.7M248.0 161.1h0.7M251.9 159.9h0.7M250.2 160.3h0.7M250.3 164.0h0.7M251.9 160.8h0.7M251.4 158.6h0.7M253.1 158.5h0.7M255.5 161.3h0.7M251.6 157.0h0.7M249.2 161.6h0.7M250.7 157.7h0.7M246.7 160.7h0.7M250.5 163.8h0.7M254.4 159.7h0.7M244.1 159.5h0.7M245.2 153.6h0.7M253.3 164.2h0.7M248.6 157.4h0.7M251.0 151.7h0.7M252.0 159.2h0.7M256.7 155.9h0.7M253.9 157.7h0.7M254.1 156.1h0.7M252.9 158.8h0.7M247.8 159.9h0.7M251.6 163.2h0.7M254.9 165.7h0.7M244.2 158.3h0.7M253.0 154.1h0.7M246.5 161.3h0.7M248.6 169.1h0.7M251.1 163.8h0.7M256.2 158.8h0.7M250.9 155.7h0.7M250.6 166.4h0.7M254.7 161.2h0.7M248.5 156.7h0.7M245.9 161.1h0.7M255.9 148.9h0.7M245.1 162.2h0.7M245.9 164.7h0.7M252.8 162.1h0.7M253.0 161.5h0.7M251.2 170.7h0.7M254.2 157.8h0.7M247.9 159.4h0.7M249.6 161.3h0.7M248.1 164.2h0.7M250.3 162.9h0.7M250.1 164.2h0.7M245.7 168.9h0.7M251.2 163.5h0.7M251.8 166.9h0.7M252.6 162.5h0.7M250.7 152.3h0.7M251.2 159.4h0.7M248.1 173.6h0.7M244.4 160.7h0.7M253.7 166.5h0.7M255.0 154.7h0.7M247.0 164.0h0.7M248.6 170.0h0.7M251.0 162.1h0.7M252.0 159.7h0.7M251.1 157.5h0.7M250.6 158.5h0.7M252.0 153.7h0.7M245.4 163.0h0.7M251.7 156.1h0.7M250.3 155.5h0.7M257.7 153.5h0.7M256.3 157.3h0.7M251.9 159.8h0.7M248.7 165.9h0.7M253.2 159.8h0.7M246.4 171.7h0.7M254.8 162.3h0.7M249.3 162.5h0.7M250.1 167.4h0.7M247.4 160.9h0.7M247.2 167.7h0.7M256.2 161.2h0.7M251.4 168.7h0.7M250.0 156.1h0.7M253.5 164.1h0.7M249.0 168.7h0.7M252.1 151.8h0.7M251.6 160.9h0.7M256.4 161.6h0.7M249.6 163.3h0.7M252.0 153.8h0.7M251.0 159.4h0.7M253.6 174.2h0.7M247.4 155.7h0.7M248.1 157.4h0.7M248.2 161.2h0.7M254.6 154.6h0.7M246.5 150.9h0.7M253.3 168.5h0.7M246.4 152.0h0.7M250.3 166.9h0.7M253.6 162.5h0.7M252.4 163.1h0.7M247.7 171.0h0.7M251.0 155.3h0.7M249.8 152.8h0.7M249.9 166.9h0.7M245.8 166.7h0.7M256.9 163.8h0.7M247.2 156.3h0.7M250.1 154.3h0.7M246.6 159.4h0.7M249.6 164.3h0.7M245.6 170.6h0.7M253.4 166.2h0.7M247.5 170.1h0.7M248.4 170.6h0.7M254.3 156.7h0.7M248.0 170.9h0.7M253.7 160.6h0.7M251.0 162.2h0.7M248.1 159.8h0.7M248.6 158.7h0.7M252.4 156.2h0.7M252.7 161.9h0.7M252.4 166.1h0.7M254.1 164.8h0.7M252.8 160.4h0.7M252.7 156.6h0.7M249.3 165.0h0.7M250.1 163.5h0.7M246.4 168.0h0.7M248.4 163.0h0.7M249.9 166.1h0.7M249.8 155.7h0.7M244.6 158.9h0.7M246.4 163.6h0.7M256.2 149.8h0.7M246.2 162.4h0.7M254.2 163.1h0.7M251.2 163.9h0.7M251.4 170.0h0.7M253.1 154.8h0.7M248.8 162.1h0.7M248.0 159.5h0.7M249.1 157.3h0.7M252.9 159.3h0.7M247.3 157.0h0.7M249.4 172.3h0.7M250.5 169.1h0.7M253.2 149.9h0.7M252.1 156.7h0.7M246.7 155.0h0.7M257.0 153.3h0.7M247.8 167.1h0.7M253.5 152.3h0.7M250.4 158.3h0.7M249.4 165.0h0.7M248.8 159.2h0.7M256.1 151.8h0.7M249.0 163.5h0.7M246.8 157.4h0.7M246.1 161.5h0.7M248.0 165.1h0.7M253.7 161.7h0.7M249.1 162.4h0.7M251.3 154.7h0.7M253.8 162.7h0.7M253.7 154.1h0.7M252.1 172.6h0.7M253.2 153.6h0.7M250.6 160.8h0.7M251.3 159.9h0.7M252.3 158.8h0.7M251.5 157.5h0.7M250.2 166.4h0.7M248.5 164.5h0.7M247.8 158.8h0.7M249.0 167.6h0.7M247.3 167.3h0.7M245.8 159.8h0.7M253.0 165.1h0.7M247.8 154.2h0.7M253.9 154.6h0.7M252.6 158.5h0.7M249.2 173.4h0.7M255.0 166.1h0.7M245.8 162.3h0.7M250.7 160.6h0.7M255.6 152.3h0.7M251.4 161.8h0.7M247.1 170.0h0.7M246.3 160.8h0.7" stroke="#000" stroke-width="0.7" fill="none" opacity="0.8"/>
<path d="M250.7 146.0h0.6M244.3 155.3h0.6M253.7 169.8h0.6M252.9 164.4h0.6M248.2 171.5h0.6M256.1 179.6h0.6M253.4 168.8h0.6M246.0 163.2h0.6M245.1 169.4h0.6M245.3 161.0h0.6M246.8 159.0h0.6M252.3 158.3h0.6M251.3 155.0h0.6M256.3 157.7h0.6M254.6 178.8h0.6M249.4 171.5h0.6M248.3 165.5h0.6M247.2 166.8h0.6M245.1 168.9h0.6M258.1 163.9h0.6M246.5 179.3h0.6M254.8 171.2h0.6M248.5 167.3h0.6M252.5 149.9h0.6M252.8 161.1h0.6M255.8 172.5h0.6M247.6 157.9h0.6M251.1 167.5h0.6M248.5 161.7h0.6M252.9 165.8h0.6M255.3 164.4h0.6M246.5 149.0h0.6M253.8 160.0h0.6M248.8 160.3h0.6M243.5 159.5h0.6M246.4 176.6h0.6M252.2 160.9h0.6M251.0 168.1h0.6M247.0 160.7h0.6M248.8 181.6h0.6M250.6 147.4h0.6M253.7 182.4h0.6M246.2 189.2h0.6M250.0 170.2h0.6M247.8 160.4h0.6M245.0 154.4h0.6M245.3 165.3h0.6M251.7 157.5h0.6M250.5 161.7h0.6M248.1 162.9h0.6M250.5 154.6h0.6M244.7 155.9h0.6M250.8 173.1h0.6M256.6 164.9h0.6M254.4 163.4h0.6M255.0 163.4h0.6M252.0 160.3h0.6M250.2 177.1h0.6M245.1 162.5h0.6M247.7 169.9h0.6M258.1 160.0h0.6M252.9 149.4h0.6M249.2 161.9h0.6M252.1 164.3h0.6M245.6 156.9h0.6M247.5 166.1h0.6M246.0 173.8h0.6M251.9 145.5h0.6M257.6 163.6h0.6M247.8 163.2h0.6M256.1 172.2h0.6M248.7 154.8h0.6M254.3 162.0h0.6M251.1 167.2h0.6M245.5 168.5h0.6M243.3 157.5h0.6M247.3 168.0h0.6M253.4 165.1h0.6M252.6 166.0h0.6M249.9 147.4h0.6M250.0 160.5h0.6M249.6 164.1h0.6M249.1 154.5h0.6M243.6 147.5h0.6M255.5 169.4h0.6M244.2 160.1h0.6M252.1 174.8h0.6M247.5 163.6h0.6M255.2 148.7h0.6M246.9 162.0h0.6M247.0 178.8h0.6M253.9 163.8h0.6M245.9 169.0h0.6M252.9 158.2h0.6M248.2 150.8h0.6M249.8 169.0h0.6M254.5 166.8h0.6M253.7 157.6h0.6M248.1 171.7h0.6M252.1 156.0h0.6M252.3 168.7h0.6M253.2 163.1h0.6M247.9 165.3h0.6M257.5 163.4h0.6M247.2 164.9h0.6M244.7 164.0h0.6M248.8 169.7h0.6M250.6 170.4h0.6M260.2 160.5h0.6M246.5 165.8h0.6M249.7 163.3h0.6M247.5 166.5h0.6M250.4 145.3h0.6M249.1 164.8h0.6M255.3 157.7h0.6M246.6 171.1h0.6M247.4 163.0h0.6M252.2 167.9h0.6M250.1 153.5h0.6" stroke="#000" stroke-width="0.6" fill="none" opacity="0.5"/>
<path d="M253.8 176.9h0.6M248.2 189.5h0.6M253.3 173.6h0.6M248.3 177.8h0.6M247.3 169.1h0.6M253.0 183.1h0.6M251.0 177.0h0.6M250.8 182.4h0.6M246.3 177.4h0.6M248.0 182.7h0.6M251.0 172.4h0.6M247.8 188.3h0.6M246.5 179.9h0.6M247.8 185.6h0.6M249.8 176.8h0.6M245.8 177.8h0.6M253.1 182.6h0.6M245.3 187.2h0.6M249.2 173.6h0.6M250.5 175.9h0.6M248.0 175.8h0.6M249.7 176.5h0.6M243.9 181.8h0.6M248.2 185.3h0.6M252.0 182.3h0.6M250.7 185.8h0.6M248.9 173.9h0.6M251.3 165.0h0.6M248.7 180.2h0.6M248.5 185.6h0.6M252.6 179.6h0.6M248.6 184.7h0.6M247.6 176.9h0.6M252.7 182.1h0.6M257.4 177.9h0.6M243.2 182.5h0.6M254.6 178.2h0.6M255.7 188.2h0.6M247.6 176.6h0.6M245.5 181.8h0.6" stroke="#000" stroke-width="0.6" fill="none" opacity="0.4"/>
<line x1="236.7" y1="189" x2="236.7" y2="131.8" stroke="#111" stroke-width="1.2"/>
<polygon points="236.7,127.8 234.1,133.8 239.3,133.8" fill="#000" stroke="#000" stroke-width="0"/>
<text transform="translate(233.7 157.6) rotate(-90)" font-size="10.4" text-anchor="middle" fill="#000" textLength="19.4" lengthAdjust="spacingAndGlyphs" stroke="#000" stroke-width="0.15">Flk1</text>
<rect x="323.5" y="123.8" width="71.0" height="70.39999999999999" fill="#fff" stroke="#858585" stroke-width="0.9"/>
<text x="324.9" y="197.3" font-size="3.2" fill="#888" text-anchor="middle">10</text>
<text x="342.6" y="197.3" font-size="3.2" fill="#888" text-anchor="middle">10</text>
<text x="360.3" y="197.3" font-size="3.2" fill="#888" text-anchor="middle">10</text>
<text x="378.0" y="197.3" font-size="3.2" fill="#888" text-anchor="middle">10</text>
<text x="395.7" y="197.3" font-size="3.2" fill="#888" text-anchor="middle">10</text>
<text x="322.3" y="192.4" font-size="3.2" fill="#a2a2a2" text-anchor="end">10</text>
<text x="322.3" y="174.7" font-size="3.2" fill="#a2a2a2" text-anchor="end">10</text>
<text x="322.3" y="157.0" font-size="3.2" fill="#a2a2a2" text-anchor="end">10</text>
<text x="322.3" y="139.3" font-size="3.2" fill="#a2a2a2" text-anchor="end">10</text>
<text x="322.3" y="121.6" font-size="3.2" fill="#a2a2a2" text-anchor="end">10</text>
<rect x="323.5" y="148.8" width="41" height="32.5" fill="none" stroke="#989898" stroke-width="0.9"/>
<line x1="338.4" y1="148.8" x2="338.4" y2="181.3" stroke="#444" stroke-width="0.9"/>
<clipPath id="cE2"><rect x="324" y="124.3" width="70" height="69.5"/></clipPath>
<g clip-path="url(#cE2)"><ellipse cx="329.2" cy="175.5" rx="4.9" ry="16.5" transform="rotate(8 329.2 175.5)" fill="#000" filter="url(#b1_0)"/></g>
<path d="M330.5 181.9h0.7M326.6 166.3h0.7M327.3 157.1h0.7M327.5 157.5h0.7M328.0 179.5h0.7M331.2 175.1h0.7M327.2 174.6h0.7M331.4 172.1h0.7M329.8 171.8h0.7M327.5 175.2h0.7M324.2 185.8h0.7M333.1 166.7h0.7M329.5 162.7h0.7M328.4 179.4h0.7M339.1 161.5h0.7M333.9 169.3h0.7M328.7 184.5h0.7M330.2 179.8h0.7M328.6 174.8h0.7M327.9 187.9h0.7M325.5 169.1h0.7M326.8 164.2h0.7M325.1 186.4h0.7M333.7 190.4h0.7M325.5 175.3h0.7M325.1 179.3h0.7M332.2 181.8h0.7M332.1 173.8h0.7M326.2 153.0h0.7M328.0 181.1h0.7M333.6 171.8h0.7M329.0 177.8h0.7M332.6 174.7h0.7M324.2 186.1h0.7M329.9 179.3h0.7M325.3 174.4h0.7M327.0 152.8h0.7M329.1 170.2h0.7M328.8 190.6h0.7M326.3 182.9h0.7M325.1 175.8h0.7M328.5 172.6h0.7M333.8 155.1h0.7M330.8 166.4h0.7M329.0 179.2h0.7M328.6 170.9h0.7M324.9 180.4h0.7M326.5 179.4h0.7M324.3 186.9h0.7M327.0 180.6h0.7M327.7 182.2h0.7M327.3 188.5h0.7M330.2 182.6h0.7M335.3 168.3h0.7M333.1 176.3h0.7M326.0 192.9h0.7M327.6 175.3h0.7M332.8 154.8h0.7M332.2 164.6h0.7M331.0 193.4h0.7M331.6 158.1h0.7M329.5 177.0h0.7M331.8 172.1h0.7M325.8 173.0h0.7M328.0 167.7h0.7M330.9 161.8h0.7M328.0 173.4h0.7M328.1 172.1h0.7M332.3 180.2h0.7M325.8 169.8h0.7M332.4 168.4h0.7M329.5 174.7h0.7M331.1 173.3h0.7M330.1 165.8h0.7M331.7 165.3h0.7M334.5 175.5h0.7M327.3 183.3h0.7M328.8 175.9h0.7M330.1 167.2h0.7M327.4 167.2h0.7M333.6 168.8h0.7M328.6 170.0h0.7M325.6 180.4h0.7M330.0 171.8h0.7M332.6 161.7h0.7M331.4 177.7h0.7M330.0 187.7h0.7M325.2 171.5h0.7M326.7 181.4h0.7M336.2 155.3h0.7M329.5 173.7h0.7M332.3 175.0h0.7M325.6 172.4h0.7M327.2 166.3h0.7M330.0 169.9h0.7M332.3 159.0h0.7M334.4 189.4h0.7M333.3 161.6h0.7M334.0 170.0h0.7M331.0 188.5h0.7M327.4 187.9h0.7M331.2 168.2h0.7M325.8 173.2h0.7M334.3 161.0h0.7M326.8 182.6h0.7M337.0 160.4h0.7M328.5 173.5h0.7M328.3 186.3h0.7M333.1 176.7h0.7M328.2 174.5h0.7M328.2 189.1h0.7M325.8 180.3h0.7M332.6 189.4h0.7M331.5 165.8h0.7M327.3 173.0h0.7M330.5 172.5h0.7M325.9 166.5h0.7M329.5 184.1h0.7M325.5 170.5h0.7M325.0 168.3h0.7M339.9 177.2h0.7M329.0 168.6h0.7M328.3 154.7h0.7M329.5 172.0h0.7M336.1 158.2h0.7M328.5 189.4h0.7M333.7 175.6h0.7M331.1 167.7h0.7M328.4 187.2h0.7M328.9 173.4h0.7M329.2 183.9h0.7M326.4 180.0h0.7M331.9 178.8h0.7M334.6 165.0h0.7M329.4 164.3h0.7M329.2 176.1h0.7M330.4 162.0h0.7M329.6 170.3h0.7M331.4 172.4h0.7M332.4 178.0h0.7M333.6 175.3h0.7M332.7 159.8h0.7M330.7 158.8h0.7M329.0 178.4h0.7M328.8 191.8h0.7M332.2 171.5h0.7M328.6 181.5h0.7M332.3 173.0h0.7M330.4 185.4h0.7M333.2 186.2h0.7M328.8 182.6h0.7M325.4 182.3h0.7M333.2 158.7h0.7M336.8 163.6h0.7M333.2 169.9h0.7M331.1 168.2h0.7M335.2 187.1h0.7M333.5 184.2h0.7M331.1 177.0h0.7M327.6 181.5h0.7M329.9 173.6h0.7M325.5 171.3h0.7M331.8 170.4h0.7M330.5 173.9h0.7M327.4 165.2h0.7M327.4 171.8h0.7M326.8 187.0h0.7M329.0 153.0h0.7M332.0 170.7h0.7M332.8 182.2h0.7M331.9 177.0h0.7M333.1 169.2h0.7M327.8 170.0h0.7M331.7 192.6h0.7M325.7 187.4h0.7M327.1 186.7h0.7M326.8 185.4h0.7M329.3 172.2h0.7M328.9 177.0h0.7M329.5 160.5h0.7M335.0 171.9h0.7M327.1 150.4h0.7M335.8 158.5h0.7M331.0 155.6h0.7M332.1 179.8h0.7M328.2 190.0h0.7M332.7 187.1h0.7M329.5 161.0h0.7M328.7 156.2h0.7M335.1 174.2h0.7M329.4 177.6h0.7M336.3 170.3h0.7M332.4 179.2h0.7M331.7 154.9h0.7M333.2 167.9h0.7M327.5 177.7h0.7M327.9 187.5h0.7M327.0 176.9h0.7M330.1 175.9h0.7M331.7 173.0h0.7M334.0 168.4h0.7M324.9 174.4h0.7M333.7 170.4h0.7M327.9 171.5h0.7M330.0 173.7h0.7M332.8 157.2h0.7M333.0 182.3h0.7M324.6 189.8h0.7M328.4 191.4h0.7M332.5 153.5h0.7M332.0 172.6h0.7M326.5 172.7h0.7M329.0 172.5h0.7M333.5 176.4h0.7M328.7 165.0h0.7M327.5 186.8h0.7M329.0 164.1h0.7M332.0 176.5h0.7M325.3 177.1h0.7M324.3 171.5h0.7M329.4 187.8h0.7M331.8 174.5h0.7M336.8 176.5h0.7M325.9 179.6h0.7M332.9 171.6h0.7M330.3 181.5h0.7M336.1 169.7h0.7M328.4 153.1h0.7M330.7 158.5h0.7M328.1 179.8h0.7M329.3 165.1h0.7M333.2 173.8h0.7M328.5 185.7h0.7M326.7 165.0h0.7M337.1 174.8h0.7M326.5 172.3h0.7M329.4 162.0h0.7M328.0 175.1h0.7M328.4 181.2h0.7M326.2 158.7h0.7M332.3 171.0h0.7M332.5 179.2h0.7M325.8 177.8h0.7M328.0 182.9h0.7M329.0 184.0h0.7M329.4 180.6h0.7M325.7 183.9h0.7M332.5 176.7h0.7M329.1 171.5h0.7M327.9 188.1h0.7M334.5 171.1h0.7M327.6 166.6h0.7M331.9 178.2h0.7M329.5 180.7h0.7M330.6 174.3h0.7M327.0 168.4h0.7M329.0 179.7h0.7M328.8 170.9h0.7M334.1 171.1h0.7M330.4 172.2h0.7M328.9 158.9h0.7M328.9 166.5h0.7M333.6 163.6h0.7M327.0 182.3h0.7M328.2 180.7h0.7M334.3 158.1h0.7M329.4 165.0h0.7M333.5 174.8h0.7M328.2 193.7h0.7M328.1 176.1h0.7M330.9 172.8h0.7M331.9 184.7h0.7M332.2 176.4h0.7M328.8 171.5h0.7M330.6 157.9h0.7M329.1 184.2h0.7M330.0 170.2h0.7M329.0 177.8h0.7M326.1 178.9h0.7M331.2 176.6h0.7M330.1 164.5h0.7M326.4 182.6h0.7M334.6 169.1h0.7M329.9 181.1h0.7M331.9 178.4h0.7M329.3 185.0h0.7M325.7 175.4h0.7M326.9 153.9h0.7M329.1 158.8h0.7M329.3 186.1h0.7M328.5 173.8h0.7M328.9 172.6h0.7M329.1 179.2h0.7M329.0 166.9h0.7M326.5 183.6h0.7M325.9 190.5h0.7M326.5 189.6h0.7M326.7 167.6h0.7M330.0 180.7h0.7M329.0 178.4h0.7M325.1 192.5h0.7M331.2 180.1h0.7M327.3 179.3h0.7M333.1 167.9h0.7M328.6 184.7h0.7M330.2 172.0h0.7M327.1 167.9h0.7M331.3 162.7h0.7M331.1 161.9h0.7M334.9 160.4h0.7M326.8 177.2h0.7M329.4 166.3h0.7M328.1 172.6h0.7M327.3 177.3h0.7M329.7 167.3h0.7M331.8 158.0h0.7M336.1 157.8h0.7M328.5 178.8h0.7M330.1 178.2h0.7M334.7 164.1h0.7M328.8 176.8h0.7M328.6 168.9h0.7M334.1 168.4h0.7M328.2 172.2h0.7M328.4 176.9h0.7M328.1 179.1h0.7M328.9 180.3h0.7M334.5 167.1h0.7M334.8 171.3h0.7M331.0 177.2h0.7M331.2 154.8h0.7M335.1 168.1h0.7M325.3 186.0h0.7M333.2 183.3h0.7M328.9 183.3h0.7M325.1 176.5h0.7M330.4 170.4h0.7M332.1 160.2h0.7M330.0 189.0h0.7M325.2 176.2h0.7M333.2 180.2h0.7M327.6 164.6h0.7M326.0 175.2h0.7M327.4 172.0h0.7M330.2 174.9h0.7M329.0 173.3h0.7M332.5 175.8h0.7M327.3 184.9h0.7M325.1 182.5h0.7M331.3 182.5h0.7M328.7 175.1h0.7M324.4 173.2h0.7M328.8 184.3h0.7M330.2 171.3h0.7M326.8 174.4h0.7M327.9 187.7h0.7M330.0 170.1h0.7M329.6 170.2h0.7M331.7 152.4h0.7M326.3 162.2h0.7M330.7 174.6h0.7M328.0 187.2h0.7M324.5 186.5h0.7M331.4 168.0h0.7M335.7 161.1h0.7M326.2 172.6h0.7M330.7 173.4h0.7M333.1 177.0h0.7M325.5 178.2h0.7M325.5 176.8h0.7M330.9 171.2h0.7M330.4 171.9h0.7M325.3 190.7h0.7M331.4 172.3h0.7M326.7 176.7h0.7M329.7 184.2h0.7M332.9 180.5h0.7M331.4 184.2h0.7M335.3 160.4h0.7M328.9 169.8h0.7M334.4 163.5h0.7M326.1 190.6h0.7M331.7 171.5h0.7M336.7 162.3h0.7M330.9 173.0h0.7M331.1 172.5h0.7M326.5 177.0h0.7M324.6 180.0h0.7M327.0 184.5h0.7M328.9 168.1h0.7M328.6 188.0h0.7M333.1 160.8h0.7M325.7 181.4h0.7M327.7 168.2h0.7M335.6 166.2h0.7M330.0 151.0h0.7M327.8 162.1h0.7M332.5 188.3h0.7M331.7 173.6h0.7M331.0 179.3h0.7M329.5 156.8h0.7M326.6 174.7h0.7M329.2 167.4h0.7M333.6 164.6h0.7M332.5 170.5h0.7M331.1 163.7h0.7M330.3 167.1h0.7M327.9 183.6h0.7M331.5 164.8h0.7M331.0 149.4h0.7M332.5 183.5h0.7M329.3 181.2h0.7M333.1 157.5h0.7M324.9 186.9h0.7M332.3 178.0h0.7M328.9 171.0h0.7M329.0 165.3h0.7M328.2 172.7h0.7M333.4 181.8h0.7M326.3 180.7h0.7M330.3 173.2h0.7M328.8 190.2h0.7M329.3 164.7h0.7M335.4 176.1h0.7M334.6 168.7h0.7M331.2 168.6h0.7M331.5 172.5h0.7M325.0 190.7h0.7M333.1 154.3h0.7M329.8 165.5h0.7M326.5 168.5h0.7M327.8 175.2h0.7M329.6 155.5h0.7M326.4 183.9h0.7M324.3 180.8h0.7M331.2 170.6h0.7M331.2 167.4h0.7M329.5 164.3h0.7M328.6 189.4h0.7M325.5 187.1h0.7M326.3 182.8h0.7M330.9 174.9h0.7M329.7 189.0h0.7M332.8 157.7h0.7M327.3 184.3h0.7M326.0 180.5h0.7M327.7 175.8h0.7M332.5 168.0h0.7M337.5 177.8h0.7M331.3 167.5h0.7M329.8 172.3h0.7M327.1 158.5h0.7M330.2 174.2h0.7M324.5 151.6h0.7M328.4 174.2h0.7M332.8 162.4h0.7M331.4 172.1h0.7M327.9 173.3h0.7M331.3 181.2h0.7M332.8 168.2h0.7M330.1 162.8h0.7M328.1 170.6h0.7M326.8 182.2h0.7M329.4 183.1h0.7M328.0 186.2h0.7M328.1 185.1h0.7M329.6 182.9h0.7M330.8 162.1h0.7M329.7 179.8h0.7M329.4 170.2h0.7M339.4 164.6h0.7M329.1 174.4h0.7M327.7 161.3h0.7M327.6 171.1h0.7M326.6 183.3h0.7M325.1 178.7h0.7M332.3 184.9h0.7M330.1 143.8h0.7M331.0 180.5h0.7M325.6 188.1h0.7M327.8 176.0h0.7M325.6 177.9h0.7M328.7 169.6h0.7M332.1 177.7h0.7M332.9 166.7h0.7M328.0 175.4h0.7M328.3 176.2h0.7M331.8 170.2h0.7M336.4 168.5h0.7M336.2 176.4h0.7M330.2 163.8h0.7M332.3 177.3h0.7M326.1 178.9h0.7M332.3 182.7h0.7M334.1 188.0h0.7M330.6 174.8h0.7M329.1 187.9h0.7M330.2 186.3h0.7M328.7 183.1h0.7M333.1 173.8h0.7M331.6 170.7h0.7M330.3 172.5h0.7M324.4 172.4h0.7M324.7 176.5h0.7M327.2 186.7h0.7M328.3 178.8h0.7M328.9 170.9h0.7M330.6 169.0h0.7M330.4 170.8h0.7M326.7 177.3h0.7M333.2 172.7h0.7M325.9 168.0h0.7M335.7 167.3h0.7M333.1 173.0h0.7M331.6 174.2h0.7M325.1 170.1h0.7M335.7 174.5h0.7M331.4 171.7h0.7M328.3 178.3h0.7M329.4 173.1h0.7M329.2 161.1h0.7M332.2 172.3h0.7M325.7 174.8h0.7M327.6 186.8h0.7M327.6 170.8h0.7M329.5 172.1h0.7M329.9 156.9h0.7M325.3 167.3h0.7M327.1 185.3h0.7M329.6 169.5h0.7M337.6 164.9h0.7M328.4 172.1h0.7M334.4 169.5h0.7M332.1 171.1h0.7M325.2 177.0h0.7M331.4 163.1h0.7M327.8 166.4h0.7M331.4 180.2h0.7M329.2 180.2h0.7M327.1 179.8h0.7M329.4 161.0h0.7M326.8 177.0h0.7M327.9 186.1h0.7M324.5 172.1h0.7M331.8 165.2h0.7M330.5 170.9h0.7M324.2 186.3h0.7M329.4 165.1h0.7M327.7 167.0h0.7M326.3 177.5h0.7M329.7 189.9h0.7M329.7 150.6h0.7M327.6 173.1h0.7M330.9 169.8h0.7M328.7 176.6h0.7M325.5 177.4h0.7M333.6 167.4h0.7M326.8 192.1h0.7M326.9 185.9h0.7M329.7 177.6h0.7M331.7 173.0h0.7M327.2 185.0h0.7M329.3 180.4h0.7M325.6 174.8h0.7M331.5 185.0h0.7M331.0 169.9h0.7M326.8 179.5h0.7M333.4 176.2h0.7M333.5 172.6h0.7M334.2 165.3h0.7M331.3 164.2h0.7M330.3 181.4h0.7M327.5 167.0h0.7M330.1 159.5h0.7M327.7 165.8h0.7M329.5 189.9h0.7M328.3 172.0h0.7M330.6 169.8h0.7M327.2 183.7h0.7M330.0 174.4h0.7M325.4 190.2h0.7M327.2 176.2h0.7M327.0 168.6h0.7M330.1 171.1h0.7M330.7 176.1h0.7M328.5 150.6h0.7M333.0 169.5h0.7M333.6 175.9h0.7M326.1 180.6h0.7M328.4 175.2h0.7M325.5 181.4h0.7M333.2 170.2h0.7M335.3 170.0h0.7M332.3 158.3h0.7M331.8 187.7h0.7M330.3 176.1h0.7M331.4 165.7h0.7M330.4 163.2h0.7M327.6 178.9h0.7M327.3 171.9h0.7M327.9 175.1h0.7M331.6 178.0h0.7M332.5 160.3h0.7M326.9 183.5h0.7M327.3 170.3h0.7M324.4 188.6h0.7M328.9 167.4h0.7M329.4 186.8h0.7M329.2 185.5h0.7M330.0 173.9h0.7M328.6 169.6h0.7M326.9 178.7h0.7M328.8 176.0h0.7M331.1 174.8h0.7M326.3 166.3h0.7M328.7 154.8h0.7M331.3 162.7h0.7M327.0 163.4h0.7M332.3 172.2h0.7M332.3 174.6h0.7M327.1 180.8h0.7M330.8 176.5h0.7M326.8 169.9h0.7M326.1 171.9h0.7M327.3 190.5h0.7M332.4 182.7h0.7M331.7 177.8h0.7M335.2 192.1h0.7M336.5 180.1h0.7M328.9 186.1h0.7M329.3 178.3h0.7M324.9 184.4h0.7M328.4 183.5h0.7M331.1 156.5h0.7M329.0 187.3h0.7M326.8 164.4h0.7M328.7 172.3h0.7M333.1 169.0h0.7M333.9 184.4h0.7M334.0 165.7h0.7M332.1 159.5h0.7M334.2 181.7h0.7M325.6 154.9h0.7M330.4 176.6h0.7M327.4 181.3h0.7M334.6 179.6h0.7M326.5 166.1h0.7M330.4 173.3h0.7M326.1 174.2h0.7M326.0 180.1h0.7M327.9 178.9h0.7M327.3 182.6h0.7M328.8 174.7h0.7M327.3 176.2h0.7M327.0 175.6h0.7M328.5 169.6h0.7M331.1 169.7h0.7M329.9 160.4h0.7M328.1 162.3h0.7M336.5 161.7h0.7M325.7 176.4h0.7M335.9 157.8h0.7M324.4 175.5h0.7M332.2 160.3h0.7M325.2 164.1h0.7M331.5 174.7h0.7M331.5 174.0h0.7M328.2 181.2h0.7M328.5 177.2h0.7M327.3 168.2h0.7M330.9 172.5h0.7M326.0 181.3h0.7M330.8 174.9h0.7M325.6 183.8h0.7M337.8 167.3h0.7M325.7 166.0h0.7M328.2 161.2h0.7M324.4 183.1h0.7M329.6 190.5h0.7M332.1 170.1h0.7M333.3 168.8h0.7M329.8 162.4h0.7M331.3 185.8h0.7M328.2 171.3h0.7M329.0 176.8h0.7M331.6 175.8h0.7M332.5 159.3h0.7M330.9 155.9h0.7M332.4 190.0h0.7M329.7 186.6h0.7M333.7 185.3h0.7M324.7 171.9h0.7M325.5 174.1h0.7M331.7 165.2h0.7M327.9 177.4h0.7M328.9 172.7h0.7M331.1 177.7h0.7M325.1 171.2h0.7M331.4 164.6h0.7M332.3 166.6h0.7M328.3 173.3h0.7M336.2 172.2h0.7M326.4 181.8h0.7M327.5 176.4h0.7M331.0 161.2h0.7M333.5 172.7h0.7M330.5 160.9h0.7M325.1 168.0h0.7M332.7 168.4h0.7M324.9 169.8h0.7M325.7 175.9h0.7M330.3 170.2h0.7M327.8 185.4h0.7M335.0 169.9h0.7M331.6 172.4h0.7M330.1 176.2h0.7M330.4 173.0h0.7M331.4 177.7h0.7M330.1 188.3h0.7M327.7 180.6h0.7M327.2 181.1h0.7M327.3 179.8h0.7M331.0 171.3h0.7M332.0 174.1h0.7M327.9 174.4h0.7M325.2 186.7h0.7M329.6 185.0h0.7M324.7 176.8h0.7M326.7 175.1h0.7M332.5 177.8h0.7M327.0 186.1h0.7M329.2 165.3h0.7M331.2 162.5h0.7M328.7 162.1h0.7M328.2 176.0h0.7M326.0 166.0h0.7M328.5 145.3h0.7M331.8 180.3h0.7M329.7 178.3h0.7M324.5 185.3h0.7M332.5 155.5h0.7M326.8 185.5h0.7M329.4 167.9h0.7M327.3 178.3h0.7M327.1 164.6h0.7M333.0 171.0h0.7M329.8 161.3h0.7M328.6 182.8h0.7M328.0 172.4h0.7M327.5 172.7h0.7M334.5 172.9h0.7M325.9 164.3h0.7M325.5 193.0h0.7M330.1 172.4h0.7M329.7 188.6h0.7M324.8 189.3h0.7M331.0 179.7h0.7M333.7 172.4h0.7M335.9 176.4h0.7M325.2 180.4h0.7M328.8 183.5h0.7M326.6 188.2h0.7M327.3 175.8h0.7M326.6 165.8h0.7M330.7 167.9h0.7M328.1 172.4h0.7M328.8 182.9h0.7M330.0 185.8h0.7M330.6 169.1h0.7M324.9 170.4h0.7M329.5 155.4h0.7M336.8 156.1h0.7M329.4 180.7h0.7M330.4 166.7h0.7M335.6 167.1h0.7M326.3 163.6h0.7M327.2 175.0h0.7M332.4 158.9h0.7M327.2 173.1h0.7M329.5 187.7h0.7M328.6 164.3h0.7M324.5 185.9h0.7M335.1 152.3h0.7M324.6 160.8h0.7M331.4 176.4h0.7M334.0 165.8h0.7M324.9 174.5h0.7M334.4 158.1h0.7M330.6 184.2h0.7M327.4 176.3h0.7M328.2 175.5h0.7M332.8 166.6h0.7M331.0 184.4h0.7M334.8 154.3h0.7M328.4 167.2h0.7M328.9 160.3h0.7M329.4 167.0h0.7M326.5 179.5h0.7M331.9 175.1h0.7M331.6 173.9h0.7" stroke="#000" stroke-width="0.7" fill="none" opacity="0.8"/>
<path d="M335.7 165.7h0.6M330.8 175.6h0.6M333.7 179.1h0.6M335.5 147.8h0.6M339.3 173.6h0.6M334.2 168.0h0.6M329.2 172.4h0.6M334.0 191.0h0.6M327.4 177.8h0.6M325.8 187.2h0.6M328.4 183.6h0.6M340.8 147.7h0.6M338.6 177.0h0.6M331.9 148.4h0.6M332.6 143.7h0.6M330.6 169.8h0.6M338.3 168.9h0.6M332.5 186.6h0.6M339.2 170.1h0.6M335.8 153.8h0.6M325.7 167.9h0.6M331.9 157.1h0.6M327.0 180.1h0.6M328.3 169.7h0.6M337.2 175.5h0.6M326.6 192.1h0.6M333.2 164.0h0.6M325.2 163.9h0.6M340.4 166.0h0.6M342.3 173.6h0.6M326.8 187.9h0.6M328.3 176.4h0.6M327.7 156.1h0.6M326.5 174.2h0.6M330.5 147.6h0.6M332.3 170.2h0.6M329.8 164.3h0.6M327.0 178.1h0.6M334.0 186.6h0.6M330.8 172.2h0.6M329.7 183.2h0.6M333.2 166.9h0.6M331.3 176.8h0.6M332.6 174.9h0.6M335.5 175.3h0.6M333.7 173.0h0.6M329.2 160.1h0.6M328.4 178.4h0.6M335.6 171.6h0.6M328.6 165.5h0.6M335.3 174.1h0.6M326.6 180.7h0.6M330.0 170.3h0.6M339.4 156.9h0.6M329.4 179.9h0.6M340.3 168.3h0.6M326.0 171.4h0.6M338.5 174.0h0.6M328.1 193.8h0.6M324.6 144.3h0.6M332.5 182.0h0.6M329.8 174.7h0.6M327.3 166.0h0.6M326.2 172.1h0.6M326.1 192.4h0.6M335.4 153.2h0.6M329.3 189.7h0.6M329.3 185.4h0.6M328.6 180.6h0.6M324.7 181.0h0.6M327.2 145.3h0.6M332.6 170.2h0.6M329.8 177.3h0.6M331.4 161.2h0.6M330.3 176.4h0.6M326.8 172.4h0.6M333.2 166.9h0.6M325.9 164.4h0.6M335.0 169.4h0.6M333.9 163.4h0.6M333.1 164.0h0.6M326.2 172.9h0.6M327.7 190.0h0.6M334.5 189.6h0.6M329.5 163.5h0.6M327.4 175.4h0.6M330.2 176.4h0.6M334.4 159.3h0.6M327.3 156.4h0.6M324.4 170.0h0.6M332.2 172.5h0.6M337.3 163.9h0.6M329.8 184.1h0.6M332.7 177.4h0.6M330.6 156.7h0.6M330.4 164.7h0.6M333.2 170.8h0.6M335.2 152.7h0.6M335.6 162.2h0.6M325.7 154.3h0.6M325.4 185.3h0.6M335.1 158.1h0.6M330.5 170.8h0.6M325.0 159.0h0.6M327.4 161.7h0.6M324.5 185.6h0.6M328.1 174.7h0.6M331.7 183.4h0.6M333.8 165.7h0.6M326.7 161.9h0.6M328.0 171.8h0.6M327.8 185.3h0.6M326.5 193.8h0.6M335.2 166.8h0.6M335.2 177.8h0.6M334.6 151.8h0.6M341.2 170.4h0.6M327.5 185.6h0.6M330.6 161.5h0.6M334.5 160.1h0.6M332.9 174.1h0.6M336.9 157.9h0.6M334.8 176.3h0.6M339.5 165.3h0.6M336.7 181.7h0.6M334.6 163.6h0.6M331.2 180.5h0.6M328.4 157.4h0.6M324.2 189.3h0.6M329.1 183.5h0.6M331.0 173.6h0.6M331.6 167.1h0.6M334.9 174.8h0.6M333.3 155.3h0.6M332.5 164.0h0.6M326.1 184.3h0.6M325.7 168.9h0.6M330.7 186.4h0.6M327.2 175.6h0.6M333.1 158.5h0.6M332.4 173.6h0.6M325.4 163.4h0.6M328.9 167.4h0.6M326.4 173.3h0.6M327.8 163.9h0.6M326.6 168.7h0.6M327.1 175.9h0.6M332.4 161.3h0.6M340.1 158.9h0.6M324.7 187.7h0.6M335.5 176.9h0.6M331.3 165.4h0.6M336.7 164.0h0.6M335.5 166.0h0.6M334.1 159.2h0.6M329.9 160.6h0.6M326.7 173.8h0.6M329.0 174.2h0.6M335.6 171.4h0.6M328.6 184.4h0.6M332.8 184.1h0.6M327.9 179.7h0.6M331.0 178.4h0.6M328.3 172.4h0.6M326.2 178.5h0.6M330.0 170.8h0.6M330.8 172.6h0.6M331.4 158.5h0.6M326.3 164.5h0.6M330.8 157.4h0.6M325.6 167.9h0.6M333.5 170.1h0.6M331.2 184.2h0.6M334.0 167.3h0.6M331.5 149.1h0.6M326.3 177.3h0.6M336.7 168.4h0.6M336.3 155.3h0.6M326.2 166.9h0.6M330.4 169.7h0.6M330.7 175.6h0.6M332.6 174.5h0.6M330.0 165.1h0.6M328.9 151.3h0.6M329.3 152.1h0.6M337.8 177.6h0.6M333.5 190.5h0.6M331.4 179.3h0.6M327.1 170.5h0.6M327.4 172.2h0.6M324.9 186.9h0.6M333.4 171.2h0.6M333.9 171.7h0.6" stroke="#000" stroke-width="0.6" fill="none" opacity="0.5"/>
<path d="M354.5 152.4h0.6M351.0 153.4h0.6M347.6 187.9h0.6M347.7 175.7h0.6M344.7 170.9h0.6M363.8 183.9h0.6M344.8 167.3h0.6M347.1 192.3h0.6M348.5 181.8h0.6M344.4 158.7h0.6M356.4 170.3h0.6M341.4 164.3h0.6M342.2 165.1h0.6M336.0 182.6h0.6M349.7 180.4h0.6M344.5 174.4h0.6M348.2 182.4h0.6M352.8 174.5h0.6M342.4 159.4h0.6M341.3 164.9h0.6M343.2 159.0h0.6M358.8 173.6h0.6M337.5 173.3h0.6M354.6 161.5h0.6M351.4 168.3h0.6M355.2 184.2h0.6M349.2 177.9h0.6M347.0 167.4h0.6M338.7 174.2h0.6M346.5 167.3h0.6M346.5 169.2h0.6M339.6 165.9h0.6M355.1 168.8h0.6M356.9 159.9h0.6M337.4 172.2h0.6M352.5 164.7h0.6M351.4 180.0h0.6M354.6 169.9h0.6M346.6 155.1h0.6M347.2 173.7h0.6M357.0 158.8h0.6M341.0 161.4h0.6M353.4 146.7h0.6M339.3 190.8h0.6M351.7 158.2h0.6M346.6 179.1h0.6M350.9 168.9h0.6M341.4 179.0h0.6M347.0 178.8h0.6M349.8 166.5h0.6M357.2 166.2h0.6M350.0 164.9h0.6M345.4 168.6h0.6M342.3 173.3h0.6M356.3 188.8h0.6M357.2 169.3h0.6M357.3 175.0h0.6M359.7 158.9h0.6M357.5 165.3h0.6M355.2 166.5h0.6M353.4 168.3h0.6M345.3 171.2h0.6M341.8 169.0h0.6M348.6 163.1h0.6M336.3 173.9h0.6M344.7 179.5h0.6M343.3 177.2h0.6M340.7 173.6h0.6M347.6 175.3h0.6M340.4 169.8h0.6M341.0 169.5h0.6M347.2 177.8h0.6M347.8 181.9h0.6M350.3 181.0h0.6M356.7 154.7h0.6M349.1 171.8h0.6M343.8 164.0h0.6M347.9 153.9h0.6M352.3 178.4h0.6M349.5 167.9h0.6M347.1 166.6h0.6M355.1 175.9h0.6M361.1 167.5h0.6M357.2 165.5h0.6M345.8 161.1h0.6M350.7 170.5h0.6M351.4 185.3h0.6M346.6 174.7h0.6M353.4 170.5h0.6M343.2 174.5h0.6M350.6 178.5h0.6M352.9 164.7h0.6M350.2 182.8h0.6M343.8 174.5h0.6M342.7 172.7h0.6M359.2 172.7h0.6M340.3 174.4h0.6M348.6 181.7h0.6M337.4 162.3h0.6M346.5 156.3h0.6M355.0 151.8h0.6M341.2 157.0h0.6M342.4 178.7h0.6M351.3 179.9h0.6M351.3 151.7h0.6M349.2 153.5h0.6M343.5 167.3h0.6M343.2 175.8h0.6M341.4 187.6h0.6M351.3 182.3h0.6M352.4 179.6h0.6M346.8 189.8h0.6M339.7 175.5h0.6M347.1 168.9h0.6M349.3 163.9h0.6M353.2 178.6h0.6M347.7 178.1h0.6M339.8 153.9h0.6M343.0 168.8h0.6M364.5 168.9h0.6M354.3 179.1h0.6M361.9 172.2h0.6M351.6 169.2h0.6M341.0 161.5h0.6M341.6 184.7h0.6M349.1 169.6h0.6M347.2 165.7h0.6M346.8 170.7h0.6M351.6 179.8h0.6M335.6 173.3h0.6M356.7 161.4h0.6M345.3 172.7h0.6M354.8 176.8h0.6M345.5 175.9h0.6M354.3 174.8h0.6M360.1 175.1h0.6M339.7 163.6h0.6M346.1 169.1h0.6M351.4 174.5h0.6M359.1 178.8h0.6M357.5 163.9h0.6M344.1 177.6h0.6M347.7 177.1h0.6M348.8 165.2h0.6M359.0 182.0h0.6M336.2 165.3h0.6M347.3 177.6h0.6M346.6 158.2h0.6M352.9 169.2h0.6M355.5 174.0h0.6M354.1 179.1h0.6M353.3 166.3h0.6M354.3 173.1h0.6M338.4 167.4h0.6M344.8 175.6h0.6M351.9 160.6h0.6M352.2 170.6h0.6M339.8 179.1h0.6M341.8 159.9h0.6M352.4 179.7h0.6M342.5 181.2h0.6M354.2 166.3h0.6M361.1 170.7h0.6M348.7 148.6h0.6M351.6 165.4h0.6M350.3 155.0h0.6M355.3 185.1h0.6M360.4 143.2h0.6M351.3 174.5h0.6M346.6 184.8h0.6M341.4 173.3h0.6M346.8 174.8h0.6M344.5 179.8h0.6M354.0 158.4h0.6M355.1 164.3h0.6M345.3 182.0h0.6M348.0 176.8h0.6M352.8 177.1h0.6M343.5 162.4h0.6M352.1 178.6h0.6M349.8 169.6h0.6M353.3 171.2h0.6M337.8 174.1h0.6M350.9 178.8h0.6M341.1 164.4h0.6M349.7 167.2h0.6M346.9 180.4h0.6M350.1 188.8h0.6M349.4 187.7h0.6M347.5 170.8h0.6M356.6 166.8h0.6M344.2 174.0h0.6M350.1 158.4h0.6M349.3 168.8h0.6M347.3 173.4h0.6M346.2 181.9h0.6M351.0 170.0h0.6M348.1 181.6h0.6M353.1 183.8h0.6M346.7 173.2h0.6M361.6 171.5h0.6M359.4 179.9h0.6M344.7 158.7h0.6M352.1 165.3h0.6M342.8 155.6h0.6M356.0 172.9h0.6M347.9 175.7h0.6M349.4 172.9h0.6M351.3 169.4h0.6M350.7 172.2h0.6M358.8 158.8h0.6M350.6 156.5h0.6M344.9 177.8h0.6M339.3 177.2h0.6M362.5 185.1h0.6M347.5 175.0h0.6M341.1 173.2h0.6M345.4 162.6h0.6M338.4 190.2h0.6M348.3 162.4h0.6M344.8 186.0h0.6M359.0 166.2h0.6M349.1 180.4h0.6M345.3 160.9h0.6M341.0 172.1h0.6M342.4 159.8h0.6M346.1 180.8h0.6M352.5 169.8h0.6M361.0 164.6h0.6M347.2 159.1h0.6M353.1 170.8h0.6M336.0 164.2h0.6M360.2 178.8h0.6M348.5 180.1h0.6M336.6 164.1h0.6M338.5 164.1h0.6M345.0 176.9h0.6M354.7 181.2h0.6M366.3 167.3h0.6M347.5 176.7h0.6M341.9 169.2h0.6M350.5 163.6h0.6M350.9 183.5h0.6M339.9 150.4h0.6M348.2 162.1h0.6M348.9 167.6h0.6M349.8 182.5h0.6M353.3 168.5h0.6M339.5 148.4h0.6M348.3 165.4h0.6M343.4 156.7h0.6M336.1 155.4h0.6M351.8 153.0h0.6M352.1 163.0h0.6M351.1 173.8h0.6M352.6 182.6h0.6M341.9 162.2h0.6M344.2 164.0h0.6M351.8 170.2h0.6M347.2 175.1h0.6M343.8 181.5h0.6M350.6 163.9h0.6M342.3 179.6h0.6M344.8 152.9h0.6M337.7 180.6h0.6M340.9 183.4h0.6M356.6 169.1h0.6M350.8 163.2h0.6M344.2 164.4h0.6M351.1 158.9h0.6M346.1 171.5h0.6M350.6 150.9h0.6M345.4 172.3h0.6M348.3 190.0h0.6M351.5 176.5h0.6M343.5 178.3h0.6M351.7 177.2h0.6M346.1 176.8h0.6M357.5 163.4h0.6M352.0 168.7h0.6M343.7 159.4h0.6M343.6 175.6h0.6M342.7 167.2h0.6M349.0 166.8h0.6M347.8 170.5h0.6M339.5 171.5h0.6M338.8 179.6h0.6M340.4 168.6h0.6M338.2 184.9h0.6M346.0 175.7h0.6M345.7 158.0h0.6M354.8 167.0h0.6M347.9 173.7h0.6M345.8 178.1h0.6M342.2 174.2h0.6M355.1 172.8h0.6M347.7 167.7h0.6M347.2 177.1h0.6M345.1 155.0h0.6M348.0 169.4h0.6M350.1 171.1h0.6M357.7 159.5h0.6M340.1 176.9h0.6M339.7 173.8h0.6M346.7 152.4h0.6M351.4 183.6h0.6M348.2 157.6h0.6M352.2 161.0h0.6M346.0 174.6h0.6M341.4 154.9h0.6M345.8 170.3h0.6M340.9 163.4h0.6M351.9 169.9h0.6M343.6 165.2h0.6M347.9 171.6h0.6M345.6 157.8h0.6M344.2 164.9h0.6M347.2 181.4h0.6M353.3 176.7h0.6M347.5 167.7h0.6M349.1 166.3h0.6M344.4 162.9h0.6M346.4 170.0h0.6M359.3 175.8h0.6M344.2 177.8h0.6M343.5 180.0h0.6M339.4 170.0h0.6M346.0 173.4h0.6M351.6 161.7h0.6M341.8 173.5h0.6M353.3 160.3h0.6M336.2 181.2h0.6M352.5 180.7h0.6M340.2 168.8h0.6M348.3 174.7h0.6M346.0 170.2h0.6M353.6 166.7h0.6M343.1 166.7h0.6M343.3 171.9h0.6M345.3 166.7h0.6M356.4 173.4h0.6M344.5 182.2h0.6M343.0 170.7h0.6M346.1 165.4h0.6M344.2 171.4h0.6M337.1 167.1h0.6M348.4 173.2h0.6M348.8 192.0h0.6M351.2 169.4h0.6M345.9 170.7h0.6M349.7 168.0h0.6M356.9 160.6h0.6M351.0 175.2h0.6M339.1 176.4h0.6M350.5 164.9h0.6M362.2 177.1h0.6M344.6 166.3h0.6M341.8 173.0h0.6M347.2 157.9h0.6M339.8 164.2h0.6M344.1 167.4h0.6M342.3 176.4h0.6M353.1 171.3h0.6M350.5 169.9h0.6M348.6 171.6h0.6M336.8 147.8h0.6M350.9 165.9h0.6M349.5 167.9h0.6M345.6 183.0h0.6M338.8 170.5h0.6M339.5 171.3h0.6M349.9 176.5h0.6M347.7 158.2h0.6M348.4 178.7h0.6M353.3 190.0h0.6M350.5 161.4h0.6M343.3 171.4h0.6M353.7 160.3h0.6M352.8 176.5h0.6M341.0 176.1h0.6M341.7 170.6h0.6M344.7 172.8h0.6M338.9 175.4h0.6M343.0 184.8h0.6M350.3 166.2h0.6M340.8 170.9h0.6M342.5 190.8h0.6M341.4 185.1h0.6M343.1 180.4h0.6M348.1 181.3h0.6M346.9 143.8h0.6M341.9 156.6h0.6M353.0 175.5h0.6M346.8 174.7h0.6M348.0 165.5h0.6M359.7 172.8h0.6M345.5 157.4h0.6M342.6 170.8h0.6M345.6 166.3h0.6M346.4 160.5h0.6M346.8 156.7h0.6M341.0 164.0h0.6M352.5 175.1h0.6M347.2 160.3h0.6M344.1 177.9h0.6M355.1 157.3h0.6M343.9 171.6h0.6M349.1 170.7h0.6" stroke="#000" stroke-width="0.55" fill="none" opacity="0.4"/>
<line x1="260" y1="200.4" x2="376.4" y2="200.4" stroke="#111" stroke-width="1.2"/>
<polygon points="380.4,200.4 374.4,197.8 374.4,203.0" fill="#000" stroke="#000" stroke-width="0"/>
<text x="309.3" y="210.1" font-size="11" font-weight="normal" text-anchor="start" fill="#000"  stroke="#000" stroke-width="0.15">GFP</text>
<text x="1" y="240.9" font-size="13" font-weight="bold" text-anchor="start" fill="#111"  stroke="#111" stroke-width="0.3">F</text>
<text x="35.9" y="238.2" font-size="8.8" font-weight="normal" text-anchor="start" fill="#000"  stroke="#000" stroke-width="0.15" textLength="34" lengthAdjust="spacingAndGlyphs">After sort</text>
<text x="105" y="238.2" font-size="8.9" font-weight="normal" text-anchor="start" fill="#000"  stroke="#000" stroke-width="0.15" textLength="54.6" lengthAdjust="spacingAndGlyphs">24 hrs culture</text>
<text x="185" y="238.2" font-size="8.9" font-weight="normal" text-anchor="start" fill="#000"  stroke="#000" stroke-width="0.15" textLength="54.6" lengthAdjust="spacingAndGlyphs">48 hrs culture</text>
<rect x="17.5" y="240.5" width="71.2" height="70.30000000000001" fill="#fff" stroke="#959595" stroke-width="0.9"/>
<text x="18.9" y="313.9" font-size="3.2" fill="#888" text-anchor="middle">10</text>
<text x="36.6" y="313.9" font-size="3.2" fill="#888" text-anchor="middle">10</text>
<text x="54.3" y="313.9" font-size="3.2" fill="#888" text-anchor="middle">10</text>
<text x="72.0" y="313.9" font-size="3.2" fill="#888" text-anchor="middle">10</text>
<text x="89.7" y="313.9" font-size="3.2" fill="#888" text-anchor="middle">10</text>
<text x="16.3" y="309.0" font-size="3.2" fill="#a2a2a2" text-anchor="end">10</text>
<text x="16.3" y="291.3" font-size="3.2" fill="#a2a2a2" text-anchor="end">10</text>
<text x="16.3" y="273.6" font-size="3.2" fill="#a2a2a2" text-anchor="end">10</text>
<text x="16.3" y="255.9" font-size="3.2" fill="#a2a2a2" text-anchor="end">10</text>
<text x="16.3" y="238.2" font-size="3.2" fill="#a2a2a2" text-anchor="end">10</text>
<clipPath id="cF1"><rect x="18" y="241" width="70.4" height="69.6"/></clipPath>
<g clip-path="url(#cF1)"><ellipse cx="41" cy="306.3" rx="7.6" ry="5.4" fill="#000" filter="url(#b1_0)"/><ellipse cx="28.5" cy="307.8" rx="6" ry="3.4" fill="#000" filter="url(#b1_0)"/></g>
<path d="M43.8 301.2h0.7M47.6 302.2h0.7M41.1 307.6h0.7M45.9 308.8h0.7M44.7 310.0h0.7M40.2 308.3h0.7M47.6 303.4h0.7M34.7 302.6h0.7M47.0 309.9h0.7M39.3 306.7h0.7M42.9 309.3h0.7M32.6 304.1h0.7M39.7 306.9h0.7M41.2 304.9h0.7M42.2 297.6h0.7M54.4 308.6h0.7M44.8 303.8h0.7M48.9 306.2h0.7M35.5 306.5h0.7M39.6 308.7h0.7M35.3 305.3h0.7M42.1 304.4h0.7M45.6 302.2h0.7M35.5 304.8h0.7M44.6 305.0h0.7M38.3 308.6h0.7M41.9 304.2h0.7M41.5 305.2h0.7M43.6 306.4h0.7M37.4 304.4h0.7M39.1 307.1h0.7M42.6 303.2h0.7M40.1 306.9h0.7M45.8 306.8h0.7M49.5 306.0h0.7M44.2 304.9h0.7M36.5 306.3h0.7M43.0 307.0h0.7M41.6 304.9h0.7M37.3 305.0h0.7M43.0 309.0h0.7M26.4 307.9h0.7M45.7 310.1h0.7M42.6 308.1h0.7M39.0 305.7h0.7M43.2 302.4h0.7M37.4 306.6h0.7M35.0 306.1h0.7M34.4 306.6h0.7M41.0 304.1h0.7M36.8 304.3h0.7M31.0 304.6h0.7M41.4 309.9h0.7M38.7 305.4h0.7M38.8 309.4h0.7M46.1 307.6h0.7M36.6 302.9h0.7M49.3 301.9h0.7M45.2 307.7h0.7M40.9 308.0h0.7M35.8 300.1h0.7M38.7 305.8h0.7M36.4 305.7h0.7M36.4 302.7h0.7M34.4 304.1h0.7M49.1 305.7h0.7M38.1 302.7h0.7M43.2 301.9h0.7M42.4 309.7h0.7M36.1 304.2h0.7M48.4 302.5h0.7M37.9 306.7h0.7M39.5 303.1h0.7M48.0 304.0h0.7M42.4 304.6h0.7M39.9 301.4h0.7M45.0 304.5h0.7M46.6 302.1h0.7M38.8 307.5h0.7M41.4 303.8h0.7M40.3 301.7h0.7M41.2 297.3h0.7M41.7 310.4h0.7M44.9 308.7h0.7M39.1 307.5h0.7M39.1 305.6h0.7M40.5 294.9h0.7M45.0 307.4h0.7M44.6 302.8h0.7M44.0 307.5h0.7M31.0 300.2h0.7M41.1 303.8h0.7M40.8 303.8h0.7M47.5 299.7h0.7M34.9 302.7h0.7M34.9 304.0h0.7M40.8 301.5h0.7M42.5 310.2h0.7M45.9 305.8h0.7M48.8 308.3h0.7M49.2 305.3h0.7M31.6 302.1h0.7M41.7 307.7h0.7M40.0 309.2h0.7M35.8 303.7h0.7M45.3 306.1h0.7M45.8 303.4h0.7M41.9 300.4h0.7M40.9 307.3h0.7M49.8 307.6h0.7M40.2 309.4h0.7M42.7 301.0h0.7M37.0 304.1h0.7M45.7 306.3h0.7M45.4 304.5h0.7M53.1 307.3h0.7M40.1 309.9h0.7M36.1 305.3h0.7M34.7 307.6h0.7M42.1 304.7h0.7M38.1 301.0h0.7M37.3 310.0h0.7M39.4 310.1h0.7M37.2 305.7h0.7M39.0 305.2h0.7M44.4 299.3h0.7M44.3 308.3h0.7M41.0 306.3h0.7M40.0 308.3h0.7M41.3 303.2h0.7M41.7 309.1h0.7M42.7 306.1h0.7M41.9 304.4h0.7M39.0 299.8h0.7M40.2 309.2h0.7M39.3 303.0h0.7M45.0 306.5h0.7M41.6 307.5h0.7M44.1 305.9h0.7M41.3 303.5h0.7M41.8 309.9h0.7M34.8 310.3h0.7M44.0 305.7h0.7M46.5 310.2h0.7M39.5 306.8h0.7M38.7 309.0h0.7M34.8 305.4h0.7M31.6 307.9h0.7M31.2 302.6h0.7M42.2 304.9h0.7M39.1 302.9h0.7M39.0 300.3h0.7M42.4 308.6h0.7M44.4 305.9h0.7M46.4 307.5h0.7M45.2 307.3h0.7M41.2 303.6h0.7M29.5 308.1h0.7M32.3 308.7h0.7M36.9 306.0h0.7M37.1 307.1h0.7M40.9 308.9h0.7M41.7 307.6h0.7M46.6 307.7h0.7M40.4 310.0h0.7M40.5 307.3h0.7M39.6 303.9h0.7M27.9 308.3h0.7M36.0 308.4h0.7M48.9 301.8h0.7M44.9 305.7h0.7M43.0 302.2h0.7M41.2 306.5h0.7M42.4 304.8h0.7M50.7 305.7h0.7M40.8 306.4h0.7M43.1 308.3h0.7M38.5 305.7h0.7M43.0 306.9h0.7M40.0 309.4h0.7M38.8 306.4h0.7M39.1 304.0h0.7M41.2 306.1h0.7M38.5 305.8h0.7M41.4 304.5h0.7M38.2 305.6h0.7M44.1 309.6h0.7M41.9 305.2h0.7M45.1 303.0h0.7M40.8 304.3h0.7M39.5 300.6h0.7M41.2 301.7h0.7M45.4 303.2h0.7M36.6 303.1h0.7M32.8 302.9h0.7M39.9 302.7h0.7M44.4 305.9h0.7M44.2 306.3h0.7M49.2 310.3h0.7M38.0 307.1h0.7M39.2 301.4h0.7M35.5 307.7h0.7M33.9 309.5h0.7M40.9 305.1h0.7M46.6 306.1h0.7M39.9 309.0h0.7M39.8 308.9h0.7M41.1 308.7h0.7M43.8 308.6h0.7M38.5 305.2h0.7M39.9 309.8h0.7M39.2 307.4h0.7M34.2 304.5h0.7M42.1 305.7h0.7M32.8 307.7h0.7M44.0 307.6h0.7M39.0 305.7h0.7M43.1 299.7h0.7M45.5 302.2h0.7M39.9 297.1h0.7M43.1 308.5h0.7M42.3 307.1h0.7M39.4 306.6h0.7M46.4 304.7h0.7M43.3 308.4h0.7M40.0 306.8h0.7M42.1 304.4h0.7M51.9 304.6h0.7M48.7 309.6h0.7M32.0 306.9h0.7M45.7 308.7h0.7M37.1 306.9h0.7M35.8 302.6h0.7M40.0 306.7h0.7M48.2 307.2h0.7M45.8 302.1h0.7M35.9 304.5h0.7M48.9 301.6h0.7M34.0 305.8h0.7M46.4 300.7h0.7M39.9 301.6h0.7M47.5 308.3h0.7M42.3 305.9h0.7M40.0 306.5h0.7M38.2 303.1h0.7M36.1 306.1h0.7M37.5 308.9h0.7M31.7 307.9h0.7M43.4 310.1h0.7M39.9 301.1h0.7M36.9 309.8h0.7M39.7 304.7h0.7M38.4 305.8h0.7M40.0 300.9h0.7M38.4 309.4h0.7M47.5 305.6h0.7M40.3 302.1h0.7M40.5 308.3h0.7M48.0 304.4h0.7M43.5 304.9h0.7M46.2 306.9h0.7M42.2 302.8h0.7M39.6 305.0h0.7M24.9 308.9h0.7M41.0 305.3h0.7M39.4 306.1h0.7M42.1 301.7h0.7M41.6 306.4h0.7M41.2 301.1h0.7M40.4 301.8h0.7M42.6 310.4h0.7M44.9 304.9h0.7M38.6 304.2h0.7M42.6 303.8h0.7M38.6 297.7h0.7M37.2 303.4h0.7M38.6 310.0h0.7M35.0 301.6h0.7M43.7 302.8h0.7M40.3 306.6h0.7M41.1 303.5h0.7M36.5 305.1h0.7M45.2 305.3h0.7M36.6 304.6h0.7M44.7 302.7h0.7M42.2 307.3h0.7M38.1 307.9h0.7M44.0 309.3h0.7M45.2 301.1h0.7M45.0 307.9h0.7M45.4 303.2h0.7M45.1 307.2h0.7M35.9 310.2h0.7M37.5 302.7h0.7M42.8 304.0h0.7M42.6 305.2h0.7M42.3 308.7h0.7M40.9 308.9h0.7M44.8 303.3h0.7M44.9 308.1h0.7M41.6 309.7h0.7M48.4 308.5h0.7M34.5 307.5h0.7M40.5 305.1h0.7M42.6 305.0h0.7M48.3 306.9h0.7M41.1 308.6h0.7M44.6 309.9h0.7M43.9 305.9h0.7M41.7 298.9h0.7M34.5 309.5h0.7M49.1 301.9h0.7M37.6 307.4h0.7M40.0 305.3h0.7M39.8 306.0h0.7M44.5 303.4h0.7M43.3 303.7h0.7M43.4 307.1h0.7M37.6 306.5h0.7M37.8 303.3h0.7M46.3 300.1h0.7M43.6 308.4h0.7M38.4 309.6h0.7M45.1 301.8h0.7M43.4 307.6h0.7M37.8 308.0h0.7M44.4 303.7h0.7M32.2 307.4h0.7M37.8 300.4h0.7M39.4 298.2h0.7M28.4 307.6h0.7M37.0 304.7h0.7M37.0 308.2h0.7M41.0 303.5h0.7M35.2 304.6h0.7M46.2 302.0h0.7M42.9 307.2h0.7M32.1 309.7h0.7M48.9 305.2h0.7M40.4 302.7h0.7M34.9 308.7h0.7M40.0 304.7h0.7M40.3 308.3h0.7M45.3 306.1h0.7M40.2 306.4h0.7M50.4 299.2h0.7M35.9 307.6h0.7M41.7 310.1h0.7M37.5 308.1h0.7M40.0 309.3h0.7M41.9 309.0h0.7M37.8 306.6h0.7M38.8 305.2h0.7M39.1 302.6h0.7M46.1 307.1h0.7M46.0 302.8h0.7M32.3 303.9h0.7M40.4 308.7h0.7M45.9 310.1h0.7M48.0 308.5h0.7M41.6 303.5h0.7M44.2 304.4h0.7M37.5 308.0h0.7M42.1 308.9h0.7M37.9 310.0h0.7M42.7 305.5h0.7M37.7 302.5h0.7M34.7 308.2h0.7M40.0 304.2h0.7M39.0 305.8h0.7M45.2 308.0h0.7M41.1 301.5h0.7M36.6 300.8h0.7M46.2 301.1h0.7M44.5 309.2h0.7M42.2 309.3h0.7M34.8 302.0h0.7M40.2 306.1h0.7M40.7 307.6h0.7M37.8 299.0h0.7M42.9 305.3h0.7M41.5 308.0h0.7M37.1 309.1h0.7M42.6 306.9h0.7M45.2 302.3h0.7M43.6 307.6h0.7M48.3 300.0h0.7M39.3 304.6h0.7M41.6 303.7h0.7M38.4 304.8h0.7M37.3 303.4h0.7M41.9 306.2h0.7M43.3 306.2h0.7M35.6 308.5h0.7M42.2 304.1h0.7M39.9 307.1h0.7M41.4 305.6h0.7M44.5 309.6h0.7M39.7 306.0h0.7M36.1 305.5h0.7M43.2 309.0h0.7M41.8 305.8h0.7M37.9 306.8h0.7M36.2 306.5h0.7M41.2 303.0h0.7M42.6 305.4h0.7M43.8 304.4h0.7M41.9 308.7h0.7M38.2 304.9h0.7M32.6 305.6h0.7M36.0 306.4h0.7M31.8 303.2h0.7M41.5 307.4h0.7M33.6 304.7h0.7M52.6 308.7h0.7M41.8 296.9h0.7M36.9 307.8h0.7M42.1 307.6h0.7M45.4 306.4h0.7M44.9 300.1h0.7M52.3 305.1h0.7M43.8 309.3h0.7M38.3 307.0h0.7M44.3 302.3h0.7M40.1 305.2h0.7M39.7 303.7h0.7M35.4 307.5h0.7M42.2 309.9h0.7M40.7 303.8h0.7M34.5 306.3h0.7M37.0 301.4h0.7M40.0 303.1h0.7M47.4 306.4h0.7M39.2 306.0h0.7M46.7 302.9h0.7M43.2 301.6h0.7M40.1 303.8h0.7M42.5 306.5h0.7M46.4 308.3h0.7M38.3 301.6h0.7M37.4 304.6h0.7M40.0 303.5h0.7M45.9 309.1h0.7M39.8 304.4h0.7M40.0 305.9h0.7M40.9 300.6h0.7M39.1 299.8h0.7M41.2 308.3h0.7M36.2 306.6h0.7M38.3 303.7h0.7M49.9 309.0h0.7M43.2 304.6h0.7M42.9 305.4h0.7M43.1 303.0h0.7M40.7 304.7h0.7M44.7 303.4h0.7M34.4 303.6h0.7M37.2 304.0h0.7M34.2 303.3h0.7M41.3 307.4h0.7M32.1 306.0h0.7M36.6 302.5h0.7M39.6 303.7h0.7M44.2 308.3h0.7M39.6 303.9h0.7M42.8 305.5h0.7M40.3 309.7h0.7M38.7 306.2h0.7M39.0 306.1h0.7M45.6 303.0h0.7M39.7 307.8h0.7M38.0 309.3h0.7M48.3 307.8h0.7M34.6 304.9h0.7M41.3 307.9h0.7M45.5 309.8h0.7M47.7 302.8h0.7M45.5 300.1h0.7M41.7 302.4h0.7M32.9 309.1h0.7M40.9 309.3h0.7M33.8 301.9h0.7M40.6 303.8h0.7M41.3 303.9h0.7M39.5 302.2h0.7M46.9 304.9h0.7M35.6 308.3h0.7M43.2 306.7h0.7M42.0 304.7h0.7M40.4 298.5h0.7M33.9 301.9h0.7M42.3 310.1h0.7M40.3 305.1h0.7M46.2 304.8h0.7M44.0 307.5h0.7M34.9 307.1h0.7M41.9 302.1h0.7M36.3 301.7h0.7M36.7 309.7h0.7M40.5 309.6h0.7M38.1 306.1h0.7M38.4 307.6h0.7M40.5 309.8h0.7M44.8 307.4h0.7M40.8 305.0h0.7M41.0 308.5h0.7M41.6 307.0h0.7M40.8 305.8h0.7M38.0 299.7h0.7M43.6 307.9h0.7M35.7 309.4h0.7M42.2 307.1h0.7M46.2 309.1h0.7M41.1 302.4h0.7M35.4 306.7h0.7M48.3 309.0h0.7M40.9 307.1h0.7M37.5 308.5h0.7M42.3 303.4h0.7M36.4 310.3h0.7M42.5 305.3h0.7M41.5 309.3h0.7M39.8 303.4h0.7M40.5 302.8h0.7M39.4 310.2h0.7M48.9 308.2h0.7M41.9 302.9h0.7M36.4 307.3h0.7M41.8 304.0h0.7M45.6 306.2h0.7M42.1 310.4h0.7M42.7 306.8h0.7M33.8 300.3h0.7M32.3 298.4h0.7M41.0 307.1h0.7M37.0 307.5h0.7M43.1 305.8h0.7M47.3 304.1h0.7M49.9 306.2h0.7M37.4 304.6h0.7M32.5 304.8h0.7M33.7 309.9h0.7M42.5 301.3h0.7M43.7 300.2h0.7M41.7 307.6h0.7M41.3 302.2h0.7M40.5 305.4h0.7M38.1 303.5h0.7M41.1 307.5h0.7M31.6 303.9h0.7M49.3 301.8h0.7M37.6 303.6h0.7M43.3 305.8h0.7M39.5 300.8h0.7M43.8 306.0h0.7M37.9 306.1h0.7M44.6 301.0h0.7M33.9 302.5h0.7M37.0 295.6h0.7M38.2 309.8h0.7M39.5 309.5h0.7M27.8 305.6h0.7M38.7 303.2h0.7M42.8 301.9h0.7M39.3 300.3h0.7M41.4 306.0h0.7M48.5 307.2h0.7M38.0 305.7h0.7M35.1 306.1h0.7M40.0 307.4h0.7M45.3 299.2h0.7M42.5 308.5h0.7M44.6 309.3h0.7M42.2 309.4h0.7M36.2 303.3h0.7M32.0 307.8h0.7M37.7 308.6h0.7M43.8 301.4h0.7M44.2 306.9h0.7M41.9 307.6h0.7M40.9 306.0h0.7M45.9 302.6h0.7M35.5 303.4h0.7M45.8 304.9h0.7M49.8 295.5h0.7M37.7 304.5h0.7M40.1 302.5h0.7M29.2 308.0h0.7M42.4 303.2h0.7M38.8 307.0h0.7M41.1 305.2h0.7M35.6 307.0h0.7M37.9 306.3h0.7M38.3 306.7h0.7M44.4 306.8h0.7M44.0 301.3h0.7M43.1 307.0h0.7M38.1 305.4h0.7M28.1 306.3h0.7M39.1 298.3h0.7M43.3 303.8h0.7M42.3 305.2h0.7M43.2 306.3h0.7M39.7 307.7h0.7M44.8 298.3h0.7M41.1 304.0h0.7M45.4 302.5h0.7M35.8 308.8h0.7M38.1 304.9h0.7M31.9 305.5h0.7M46.2 304.4h0.7M43.9 310.1h0.7M33.3 303.2h0.7M41.8 305.6h0.7M37.5 302.5h0.7M40.6 306.2h0.7M34.5 305.8h0.7M42.7 305.7h0.7M43.8 303.1h0.7M42.5 309.0h0.7M43.5 307.3h0.7M40.5 302.6h0.7M43.5 304.6h0.7M36.6 308.6h0.7M33.6 304.1h0.7M44.5 309.2h0.7M39.2 306.2h0.7M43.5 305.7h0.7M37.4 307.4h0.7M41.7 306.3h0.7M46.1 307.0h0.7" stroke="#000" stroke-width="0.7" fill="none" opacity="0.8"/>
<path d="M26.5 307.8h0.7M36.6 305.9h0.7M27.4 305.7h0.7M30.0 304.7h0.7M30.3 309.2h0.7M25.2 305.6h0.7M22.2 307.6h0.7M23.8 306.1h0.7M26.7 306.0h0.7M19.5 305.7h0.7M29.5 305.2h0.7M26.2 307.9h0.7M34.3 310.1h0.7M27.2 307.8h0.7M26.9 307.1h0.7M23.5 303.6h0.7M26.9 309.6h0.7M31.7 303.4h0.7M27.7 306.1h0.7M29.7 305.1h0.7M32.3 307.0h0.7M30.9 309.4h0.7M20.3 307.0h0.7M34.8 307.5h0.7M32.9 308.4h0.7M26.4 308.1h0.7M32.9 310.3h0.7M34.6 305.1h0.7M32.0 304.5h0.7M27.9 307.0h0.7M31.1 308.2h0.7M33.7 306.1h0.7M32.0 308.3h0.7M28.5 304.9h0.7M30.9 308.2h0.7M31.8 307.4h0.7M27.4 308.3h0.7M30.4 309.0h0.7M36.4 306.1h0.7M36.9 301.0h0.7M32.5 305.7h0.7M36.9 305.5h0.7M32.9 305.3h0.7M23.7 309.3h0.7M32.1 306.0h0.7M38.6 306.8h0.7M35.0 305.3h0.7M24.5 307.7h0.7M24.2 308.5h0.7M19.5 307.9h0.7M26.1 305.4h0.7M29.4 307.0h0.7M26.6 309.3h0.7M29.7 308.3h0.7M34.1 307.3h0.7M32.0 306.6h0.7M31.0 308.7h0.7M26.2 304.2h0.7M23.1 305.4h0.7M30.8 307.2h0.7M27.2 308.5h0.7M26.0 308.7h0.7M31.4 305.4h0.7M29.0 305.5h0.7M27.5 308.4h0.7M21.4 305.6h0.7M25.1 307.7h0.7M25.4 308.3h0.7M24.9 306.4h0.7M31.0 308.2h0.7M29.1 307.4h0.7M26.9 305.9h0.7M24.8 304.6h0.7M29.6 309.8h0.7M23.3 307.2h0.7M22.5 306.0h0.7M35.3 307.9h0.7M27.4 307.7h0.7M29.7 307.3h0.7M23.5 304.9h0.7M36.9 305.8h0.7M33.5 305.9h0.7M33.9 309.0h0.7M24.6 307.0h0.7M24.9 305.8h0.7M27.0 305.4h0.7M21.2 304.8h0.7M24.5 306.5h0.7M32.7 309.1h0.7M30.5 307.9h0.7M38.5 305.0h0.7M23.7 307.4h0.7M29.4 307.0h0.7M25.0 304.6h0.7M27.3 305.9h0.7M26.5 305.1h0.7M34.1 308.5h0.7M36.2 306.4h0.7M28.7 307.0h0.7M28.6 306.9h0.7M27.8 303.2h0.7M27.4 309.0h0.7M20.4 306.7h0.7M30.9 310.3h0.7M28.1 308.5h0.7M35.8 310.3h0.7M26.6 306.2h0.7M32.7 308.0h0.7M26.2 307.0h0.7M29.8 307.1h0.7M27.4 307.0h0.7M27.9 307.8h0.7M30.9 309.3h0.7M20.9 308.3h0.7M24.3 307.3h0.7M30.7 307.4h0.7M34.3 307.3h0.7M25.5 307.1h0.7M27.0 307.6h0.7M32.0 307.2h0.7M28.2 309.7h0.7M29.7 309.6h0.7M29.1 304.7h0.7M23.8 303.9h0.7M33.2 308.4h0.7M26.5 305.3h0.7M30.0 307.2h0.7M29.8 305.7h0.7M24.5 307.4h0.7M34.1 303.5h0.7M31.4 307.6h0.7M27.9 308.1h0.7M23.6 302.7h0.7M36.4 306.9h0.7M32.2 309.9h0.7M29.7 308.5h0.7M30.5 310.2h0.7M27.3 306.6h0.7M28.9 308.4h0.7M32.0 307.6h0.7M36.8 308.2h0.7M30.0 308.6h0.7M27.1 305.1h0.7M29.1 306.8h0.7M24.9 307.8h0.7M27.7 306.2h0.7M21.1 307.1h0.7M35.8 309.4h0.7M33.0 307.5h0.7M32.9 306.0h0.7M26.6 308.6h0.7M22.6 307.6h0.7M25.6 308.4h0.7M25.8 306.3h0.7M33.3 308.6h0.7M30.8 304.8h0.7M27.7 307.4h0.7M35.2 305.6h0.7M30.3 309.6h0.7M25.2 307.7h0.7M20.2 307.7h0.7M19.4 306.7h0.7M35.7 308.4h0.7M28.7 307.8h0.7M37.5 308.7h0.7M32.8 306.6h0.7M26.7 305.2h0.7M27.8 306.0h0.7M32.6 308.9h0.7M28.0 306.3h0.7M29.8 308.9h0.7M29.2 305.3h0.7M27.6 306.5h0.7M31.0 303.5h0.7M26.2 309.6h0.7M29.4 305.7h0.7M30.4 308.1h0.7M24.8 309.0h0.7M31.3 307.2h0.7M32.4 305.0h0.7M31.7 307.1h0.7M24.6 306.2h0.7M33.4 306.3h0.7M27.1 306.1h0.7M25.2 309.6h0.7M30.6 309.2h0.7M27.1 306.4h0.7M27.1 306.0h0.7M25.9 307.9h0.7M26.2 307.6h0.7M23.4 308.2h0.7M25.6 306.6h0.7M35.3 308.9h0.7M26.9 308.6h0.7M28.4 309.9h0.7M26.5 308.6h0.7M27.7 307.5h0.7M27.9 306.2h0.7M29.0 309.6h0.7M26.0 306.7h0.7M30.1 305.9h0.7M32.1 309.1h0.7M19.0 306.1h0.7M24.1 309.3h0.7M32.4 304.9h0.7M25.7 307.3h0.7M27.0 309.1h0.7M32.6 308.8h0.7M33.1 309.6h0.7M28.2 306.6h0.7M25.5 309.3h0.7M32.2 309.7h0.7M27.2 306.7h0.7M29.6 310.2h0.7M30.0 308.0h0.7M25.1 308.5h0.7M30.8 305.5h0.7M35.8 305.5h0.7M32.4 307.1h0.7M29.2 305.8h0.7M26.2 309.0h0.7M27.7 306.8h0.7M32.2 309.1h0.7M29.2 308.0h0.7M35.7 307.2h0.7M30.2 308.5h0.7M22.8 303.3h0.7M29.1 309.4h0.7M29.4 306.4h0.7M25.9 309.3h0.7M27.3 304.0h0.7M31.4 308.0h0.7M30.1 309.8h0.7M34.0 308.7h0.7M27.8 302.9h0.7M29.8 307.2h0.7M34.0 310.3h0.7M28.3 307.4h0.7M25.1 306.9h0.7M29.4 309.8h0.7M25.5 309.3h0.7M38.2 304.6h0.7M27.5 307.6h0.7M33.7 307.5h0.7M25.0 307.4h0.7M28.4 308.1h0.7M25.6 309.0h0.7M29.4 305.2h0.7M28.8 307.6h0.7M27.8 309.3h0.7M33.2 305.5h0.7M18.2 310.2h0.7M29.6 307.7h0.7M24.5 304.4h0.7M35.2 306.3h0.7M36.3 303.5h0.7M31.4 309.1h0.7M25.0 306.5h0.7M24.2 307.6h0.7M34.0 309.7h0.7M30.3 309.9h0.7M28.3 304.6h0.7M26.9 306.1h0.7M28.9 308.2h0.7M18.8 310.3h0.7M35.7 305.3h0.7M34.7 310.3h0.7M22.7 309.1h0.7M24.5 304.8h0.7M33.2 308.9h0.7M28.6 307.8h0.7M25.5 306.3h0.7M26.1 307.3h0.7M28.6 304.7h0.7M29.8 304.7h0.7M27.2 307.0h0.7M35.4 309.9h0.7M35.1 306.9h0.7M34.4 307.4h0.7M29.5 308.1h0.7M22.9 306.2h0.7M27.8 308.3h0.7M28.0 305.6h0.7M23.7 307.5h0.7M23.5 304.9h0.7M28.1 307.9h0.7M25.0 303.6h0.7M29.7 309.3h0.7M26.8 306.7h0.7M18.7 309.5h0.7M23.9 309.1h0.7M26.0 307.2h0.7M27.7 303.5h0.7M40.0 304.1h0.7M29.0 305.7h0.7M20.7 307.2h0.7M30.6 307.8h0.7M30.2 305.9h0.7M21.6 304.6h0.7M26.8 309.1h0.7M28.9 307.9h0.7M29.3 303.7h0.7M30.9 305.1h0.7M23.3 307.8h0.7M29.7 307.8h0.7M28.5 306.3h0.7M36.9 303.1h0.7M30.8 305.8h0.7M24.7 307.0h0.7M39.6 308.6h0.7M24.2 308.0h0.7M29.7 310.3h0.7M30.2 308.1h0.7M24.2 306.6h0.7M30.1 306.4h0.7M38.9 307.5h0.7M25.3 309.7h0.7M26.3 308.4h0.7M28.1 305.9h0.7M34.3 307.7h0.7M33.1 306.8h0.7M22.5 304.8h0.7M26.3 307.1h0.7M28.7 308.6h0.7M23.3 308.0h0.7M23.4 306.0h0.7M39.3 310.3h0.7M34.5 309.5h0.7M34.7 307.0h0.7M28.0 305.6h0.7M31.0 304.7h0.7M26.4 308.5h0.7M26.4 308.3h0.7M36.2 305.3h0.7M34.4 306.0h0.7M24.6 308.0h0.7M32.8 305.9h0.7M25.4 306.5h0.7M25.5 307.9h0.7M25.5 306.9h0.7M30.0 306.6h0.7M33.3 306.0h0.7M34.8 307.7h0.7M32.0 308.2h0.7M26.4 309.0h0.7M29.8 310.3h0.7M20.8 309.3h0.7M29.2 306.0h0.7M26.7 306.6h0.7M22.9 306.2h0.7M31.8 304.2h0.7M26.9 302.3h0.7M26.1 308.4h0.7M28.3 307.6h0.7M23.8 308.8h0.7M24.7 309.5h0.7M29.4 306.7h0.7M34.7 306.6h0.7M32.8 307.7h0.7M28.5 309.7h0.7M30.3 307.5h0.7M28.0 308.0h0.7M28.9 306.8h0.7M24.1 301.8h0.7M28.0 307.0h0.7M33.6 308.5h0.7M28.1 305.7h0.7M31.9 306.2h0.7M30.8 309.9h0.7M22.8 307.6h0.7M33.2 304.7h0.7M29.3 308.4h0.7M25.5 307.2h0.7M35.6 303.6h0.7M30.5 306.5h0.7M28.7 305.7h0.7M34.2 305.0h0.7M30.0 308.7h0.7M28.1 306.9h0.7M27.4 309.8h0.7M30.4 307.3h0.7M23.9 307.9h0.7M30.8 307.4h0.7M34.6 303.3h0.7M39.0 307.1h0.7M23.7 303.7h0.7M32.2 308.8h0.7M27.6 307.4h0.7M29.2 306.6h0.7M33.4 308.9h0.7M28.0 303.9h0.7M34.3 306.5h0.7M24.2 310.3h0.7M30.6 303.1h0.7M21.5 306.6h0.7M23.2 307.2h0.7M28.4 309.3h0.7M32.3 307.3h0.7M22.3 309.9h0.7M27.8 308.5h0.7M31.5 305.7h0.7M35.6 307.7h0.7M29.5 306.6h0.7M31.5 309.7h0.7M26.2 308.8h0.7M26.7 304.8h0.7M27.2 308.9h0.7M30.9 309.9h0.7" stroke="#000" stroke-width="0.7" fill="none" opacity="0.8"/>
<path d="M34.7 300.7h0.6M40.7 304.8h0.6M39.1 297.8h0.6M27.7 307.4h0.6M48.7 299.1h0.6M52.0 301.8h0.6M43.7 307.7h0.6M36.2 298.6h0.6M26.2 303.4h0.6M43.7 306.0h0.6M45.0 302.5h0.6M49.3 297.4h0.6M43.2 304.4h0.6M39.1 309.9h0.6M43.6 308.2h0.6M47.3 301.3h0.6M55.7 307.1h0.6M40.3 301.5h0.6M31.8 301.4h0.6M38.2 303.0h0.6M36.7 304.7h0.6M39.5 294.9h0.6M36.1 298.0h0.6M29.9 300.9h0.6M47.5 297.0h0.6M24.0 301.3h0.6M42.3 300.2h0.6M47.0 308.6h0.6M38.9 307.4h0.6M31.4 303.0h0.6M30.0 302.9h0.6M35.2 303.2h0.6M31.2 303.1h0.6M41.1 299.5h0.6M33.7 296.7h0.6M37.0 303.9h0.6M39.1 302.8h0.6M50.4 300.6h0.6M42.5 305.8h0.6M44.3 303.9h0.6M39.6 300.4h0.6M44.9 309.5h0.6M51.6 302.3h0.6M46.9 304.4h0.6M40.8 305.1h0.6M45.2 302.8h0.6M54.0 300.4h0.6M57.2 303.4h0.6M38.7 294.9h0.6M27.6 295.1h0.6M46.9 304.9h0.6M25.6 301.9h0.6M42.9 295.3h0.6M47.9 296.1h0.6M49.3 303.0h0.6M34.6 294.9h0.6M37.5 301.7h0.6M39.2 299.4h0.6M38.5 306.0h0.6M32.9 301.2h0.6M43.9 302.0h0.6M47.1 309.1h0.6M37.4 303.1h0.6M45.6 297.0h0.6M50.9 293.6h0.6M51.0 299.8h0.6M32.0 299.9h0.6M38.0 297.5h0.6M29.1 299.7h0.6M47.8 303.9h0.6M50.9 299.3h0.6M37.3 300.6h0.6M41.3 304.2h0.6M54.2 305.3h0.6M41.5 308.2h0.6M33.9 296.1h0.6M45.5 302.8h0.6M41.1 306.3h0.6M37.4 301.6h0.6M43.2 305.0h0.6M48.0 302.6h0.6M42.2 291.1h0.6M49.9 295.0h0.6M37.5 294.9h0.6M53.0 299.6h0.6M38.8 301.3h0.6M46.0 305.6h0.6M39.1 307.1h0.6M32.9 305.1h0.6M35.1 305.2h0.6M34.7 300.1h0.6M51.9 297.0h0.6M30.7 304.6h0.6M37.9 300.1h0.6M31.8 300.8h0.6M41.4 297.8h0.6M39.8 304.2h0.6M32.8 307.1h0.6M30.9 301.4h0.6M26.0 303.3h0.6M60.2 299.3h0.6M48.8 303.0h0.6M28.6 303.8h0.6M32.9 302.4h0.6M28.0 305.3h0.6M20.7 301.2h0.6M50.3 304.3h0.6M37.2 301.0h0.6M39.6 301.9h0.6M34.1 299.9h0.6M44.9 299.3h0.6M33.6 299.5h0.6M37.2 302.8h0.6M36.1 301.1h0.6M34.0 307.6h0.6M40.7 300.6h0.6M42.3 301.8h0.6M27.5 301.2h0.6M53.2 304.3h0.6M49.4 299.0h0.6M28.1 298.9h0.6M50.8 297.5h0.6M33.6 307.0h0.6M38.0 301.1h0.6M43.0 302.4h0.6M37.6 303.1h0.6M34.3 301.8h0.6M45.2 297.2h0.6M38.3 296.9h0.6M46.0 304.8h0.6M47.5 306.6h0.6M48.2 305.2h0.6M33.8 306.2h0.6M42.3 304.7h0.6M30.1 306.8h0.6M49.4 294.9h0.6M35.5 299.9h0.6M34.8 308.2h0.6M57.3 297.2h0.6M48.4 300.8h0.6M51.0 291.0h0.6M36.5 307.5h0.6M33.9 307.4h0.6M35.9 307.1h0.6M44.7 300.1h0.6M33.9 301.2h0.6M49.3 302.0h0.6M27.4 301.0h0.6M44.3 297.3h0.6" stroke="#000" stroke-width="0.6" fill="none" opacity="0.5"/>
<line x1="32.5" y1="240.5" x2="32.5" y2="310.8" stroke="#222" stroke-width="0.9"/>
<line x1="17.5" y1="292.4" x2="88.7" y2="292.4" stroke="#222" stroke-width="0.9"/>
<text x="19.4" y="250.3" font-size="7.4" font-weight="normal" text-anchor="start" fill="#000"  stroke="#000" stroke-width="0.07" textLength="10.1" lengthAdjust="spacingAndGlyphs">0%</text>
<text x="67.2" y="250.3" font-size="7.4" font-weight="normal" text-anchor="start" fill="#000"  stroke="#000" stroke-width="0.07" textLength="20.4" lengthAdjust="spacingAndGlyphs">0.05%</text>
<text x="67.2" y="304" font-size="7.4" font-weight="normal" text-anchor="start" fill="#000"  stroke="#000" stroke-width="0.07" textLength="20.3" lengthAdjust="spacingAndGlyphs">94.5%</text>
<rect x="97.6" y="240.5" width="72.0" height="70.30000000000001" fill="#fff" stroke="#959595" stroke-width="0.9"/>
<text x="99.0" y="313.9" font-size="3.2" fill="#888" text-anchor="middle">10</text>
<text x="116.7" y="313.9" font-size="3.2" fill="#888" text-anchor="middle">10</text>
<text x="134.4" y="313.9" font-size="3.2" fill="#888" text-anchor="middle">10</text>
<text x="152.1" y="313.9" font-size="3.2" fill="#888" text-anchor="middle">10</text>
<text x="169.8" y="313.9" font-size="3.2" fill="#888" text-anchor="middle">10</text>
<text x="96.4" y="309.0" font-size="3.2" fill="#a2a2a2" text-anchor="end">10</text>
<text x="96.4" y="291.3" font-size="3.2" fill="#a2a2a2" text-anchor="end">10</text>
<text x="96.4" y="273.6" font-size="3.2" fill="#a2a2a2" text-anchor="end">10</text>
<text x="96.4" y="255.9" font-size="3.2" fill="#a2a2a2" text-anchor="end">10</text>
<text x="96.4" y="238.2" font-size="3.2" fill="#a2a2a2" text-anchor="end">10</text>
<path d="M111.2 270.1h0.6M102.4 280.2h0.6M104.4 266.3h0.6M118.7 262.1h0.6M114.9 288.6h0.6M117.2 280.3h0.6M109.9 258.8h0.6M112.1 280.1h0.6M108.2 263.6h0.6M116.5 262.8h0.6M113.9 269.4h0.6M101.1 293.5h0.6M114.9 281.1h0.6M102.7 273.4h0.6M112.9 266.3h0.6M121.1 251.6h0.6M115.4 253.0h0.6M101.8 260.0h0.6M114.6 266.5h0.6M107.1 264.2h0.6M102.2 264.3h0.6M105.2 270.9h0.6M107.2 288.5h0.6M108.2 273.6h0.6M106.6 266.4h0.6M110.5 258.7h0.6M109.9 255.0h0.6M112.9 256.0h0.6M114.8 285.8h0.6M101.1 281.8h0.6M108.4 287.4h0.6M107.6 270.7h0.6M109.0 288.4h0.6M99.1 282.7h0.6M111.3 268.3h0.6M109.3 284.6h0.6M115.7 293.4h0.6M106.9 252.1h0.6M107.4 271.6h0.6M108.1 287.9h0.6M124.4 278.2h0.6M100.0 285.8h0.6M106.8 274.3h0.6M115.7 278.0h0.6M110.3 277.1h0.6M115.2 281.0h0.6M106.0 267.0h0.6M115.6 276.3h0.6M115.8 257.4h0.6M109.3 281.2h0.6M110.3 269.2h0.6M112.3 292.7h0.6M98.0 292.0h0.6M112.3 263.9h0.6M114.6 274.2h0.6M117.9 264.5h0.6M116.5 263.3h0.6M112.6 281.8h0.6M110.2 281.1h0.6M107.1 286.0h0.6M107.6 265.7h0.6M110.0 273.2h0.6M105.6 282.9h0.6M109.9 280.7h0.6M101.7 258.6h0.6M109.1 262.4h0.6M109.9 280.2h0.6M117.3 290.7h0.6M115.4 265.6h0.6M114.0 267.8h0.6M113.9 261.7h0.6M118.7 278.5h0.6M109.0 258.1h0.6M112.4 267.7h0.6M112.2 265.6h0.6M107.4 280.9h0.6M119.5 259.3h0.6M109.5 278.3h0.6M109.8 268.8h0.6M123.7 264.2h0.6M112.8 268.2h0.6M116.0 271.4h0.6M104.9 293.0h0.6M109.0 266.8h0.6M105.6 286.1h0.6M110.9 270.3h0.6M102.7 263.5h0.6M112.8 273.6h0.6M98.6 263.8h0.6M112.1 304.7h0.6M115.3 268.3h0.6M102.8 280.3h0.6M109.3 262.8h0.6M102.8 272.4h0.6M111.2 253.4h0.6M116.6 259.2h0.6M119.1 277.7h0.6M109.6 277.7h0.6M107.1 273.1h0.6M120.6 267.3h0.6M115.6 263.5h0.6M110.6 284.9h0.6M103.5 277.7h0.6M108.2 284.0h0.6M115.0 263.3h0.6M109.9 276.0h0.6M101.3 278.7h0.6M118.8 288.1h0.6M107.1 269.1h0.6M105.1 268.1h0.6M109.2 281.7h0.6M111.2 263.2h0.6M115.6 284.0h0.6M107.0 271.0h0.6M110.1 254.9h0.6M111.5 281.6h0.6M122.4 276.1h0.6M109.0 272.2h0.6M114.4 283.0h0.6M105.6 276.1h0.6M114.6 250.8h0.6M118.9 271.4h0.6M115.9 273.4h0.6M109.2 273.0h0.6M112.4 283.9h0.6M109.1 261.0h0.6M106.5 262.7h0.6M115.3 262.9h0.6M119.9 275.4h0.6M110.2 289.0h0.6M108.5 270.5h0.6M115.4 282.5h0.6M104.8 302.2h0.6M114.2 259.5h0.6M109.7 284.6h0.6M112.1 283.9h0.6M125.0 284.7h0.6M122.8 281.9h0.6M106.8 291.4h0.6M106.6 285.1h0.6M114.8 264.4h0.6M106.6 272.1h0.6M113.3 289.5h0.6M111.3 296.1h0.6M116.2 266.9h0.6M107.2 275.3h0.6M107.8 273.3h0.6M115.6 277.4h0.6M116.9 266.5h0.6M105.8 258.4h0.6M100.3 269.4h0.6M111.5 272.2h0.6M111.1 298.1h0.6M104.5 271.5h0.6M108.2 264.1h0.6M119.2 274.2h0.6M118.6 261.7h0.6M122.4 300.7h0.6M105.9 274.5h0.6M110.3 281.1h0.6M103.3 280.1h0.6M115.5 267.8h0.6M108.8 283.5h0.6M107.4 261.5h0.6M114.9 279.0h0.6M115.6 275.3h0.6M117.5 280.6h0.6M100.5 277.0h0.6M115.8 275.2h0.6M119.9 269.5h0.6M115.4 260.6h0.6M111.2 268.5h0.6M105.2 259.8h0.6M112.5 279.7h0.6M107.4 260.6h0.6M105.9 283.5h0.6M104.0 287.9h0.6M101.2 278.0h0.6M115.2 288.9h0.6M108.6 266.0h0.6M102.7 285.3h0.6M110.4 269.5h0.6M108.7 277.7h0.6M111.4 288.4h0.6M98.3 284.6h0.6M108.0 273.9h0.6M109.3 273.9h0.6M115.8 277.4h0.6M102.6 274.1h0.6M110.6 279.1h0.6M111.5 274.0h0.6M117.4 262.4h0.6M124.3 268.4h0.6M105.0 283.9h0.6M117.7 289.3h0.6M120.0 280.4h0.6M111.6 279.3h0.6M111.2 268.7h0.6M120.9 295.8h0.6M111.3 272.3h0.6M108.3 255.6h0.6M107.2 269.0h0.6M111.2 263.5h0.6M99.9 282.5h0.6M121.6 250.5h0.6M110.5 284.8h0.6M104.3 258.5h0.6M111.5 272.3h0.6M107.5 293.9h0.6M120.3 282.6h0.6M110.9 271.3h0.6M116.7 272.4h0.6M120.3 289.5h0.6M107.8 283.9h0.6M120.8 282.7h0.6M105.7 272.2h0.6M109.4 276.7h0.6M111.6 271.3h0.6M116.6 290.9h0.6M108.1 258.4h0.6M113.8 275.5h0.6M114.1 267.6h0.6M113.3 265.1h0.6M118.1 294.9h0.6M108.7 269.6h0.6M112.8 275.9h0.6M114.6 306.9h0.6M108.3 271.4h0.6M114.3 254.5h0.6M116.4 268.6h0.6M103.1 266.1h0.6M114.7 285.5h0.6M119.2 280.9h0.6M107.4 282.3h0.6M111.3 302.8h0.6M99.4 294.5h0.6M116.4 280.6h0.6M111.2 269.5h0.6M106.0 258.1h0.6M124.1 286.8h0.6M115.9 280.2h0.6M100.3 272.9h0.6M112.6 289.4h0.6M105.9 279.2h0.6M110.5 276.5h0.6M107.2 280.3h0.6M112.4 254.7h0.6M119.2 301.5h0.6M106.7 289.4h0.6M106.1 270.1h0.6M122.5 278.6h0.6M121.1 279.6h0.6M118.0 274.4h0.6M120.6 296.9h0.6M116.1 269.9h0.6M109.8 265.5h0.6M115.7 282.4h0.6M107.8 287.0h0.6M108.6 297.4h0.6M117.0 294.8h0.6M107.8 265.0h0.6M101.1 283.9h0.6M105.3 292.0h0.6M113.0 285.3h0.6M104.4 269.7h0.6M113.2 285.0h0.6M104.4 280.5h0.6M107.2 285.9h0.6M110.8 273.2h0.6M114.8 289.9h0.6M110.7 290.7h0.6M106.2 279.9h0.6M105.4 279.1h0.6M106.7 277.0h0.6M115.9 265.5h0.6M101.6 274.6h0.6M115.3 279.2h0.6M106.7 286.2h0.6M110.4 285.3h0.6M106.8 281.6h0.6M119.1 269.0h0.6M110.4 283.7h0.6M115.2 280.6h0.6M111.4 258.6h0.6M112.1 261.7h0.6M112.6 249.7h0.6M120.6 298.2h0.6M114.7 266.8h0.6M110.2 286.6h0.6M116.0 268.5h0.6M119.2 284.7h0.6M115.2 272.4h0.6M112.0 268.3h0.6M113.2 268.9h0.6M119.0 276.9h0.6M113.3 280.2h0.6M113.9 260.1h0.6M119.6 277.5h0.6M108.8 265.3h0.6M108.0 269.4h0.6M112.1 266.6h0.6M112.7 278.0h0.6M107.9 301.5h0.6M111.3 280.2h0.6M112.6 274.5h0.6M116.0 292.0h0.6M111.5 266.5h0.6M115.2 251.7h0.6M112.9 274.1h0.6M113.9 259.0h0.6M109.3 264.5h0.6M108.7 282.8h0.6M110.7 269.3h0.6M118.9 276.2h0.6M99.8 264.1h0.6M114.2 280.9h0.6M113.1 278.9h0.6M106.4 274.8h0.6M104.7 266.3h0.6M106.3 266.2h0.6M109.6 273.1h0.6M106.9 287.9h0.6M108.9 293.0h0.6M117.5 261.8h0.6M116.8 259.6h0.6M120.1 279.1h0.6M105.6 250.5h0.6M109.1 260.0h0.6M117.9 261.1h0.6M110.1 280.8h0.6M111.5 278.1h0.6M109.9 283.3h0.6M105.8 281.5h0.6M104.2 277.1h0.6M104.6 272.7h0.6M114.8 289.0h0.6M100.7 266.3h0.6M105.5 288.7h0.6M106.2 282.9h0.6M108.2 258.6h0.6M111.9 262.0h0.6M115.6 284.3h0.6M119.1 263.4h0.6M120.6 285.9h0.6M100.6 300.0h0.6M121.2 263.1h0.6M113.2 259.7h0.6M110.4 277.0h0.6M114.9 265.5h0.6M111.1 264.3h0.6M113.5 282.4h0.6M111.7 287.9h0.6M115.7 279.1h0.6M118.1 260.8h0.6M111.0 254.7h0.6M111.1 269.5h0.6M116.1 269.8h0.6M107.4 273.8h0.6M110.4 280.7h0.6M106.0 257.8h0.6M101.8 287.9h0.6M103.7 269.6h0.6M104.7 284.9h0.6M107.9 288.8h0.6M107.1 278.2h0.6M115.7 285.9h0.6M104.2 270.7h0.6M110.8 254.1h0.6M115.5 279.3h0.6M114.3 259.0h0.6M112.3 279.9h0.6M117.4 269.0h0.6M115.3 297.3h0.6M108.7 270.2h0.6M109.3 258.0h0.6M109.1 293.4h0.6M105.8 272.7h0.6M118.4 281.4h0.6M112.6 271.1h0.6M110.6 275.1h0.6M115.4 275.9h0.6M116.9 253.8h0.6M116.1 269.0h0.6M111.4 270.2h0.6M115.1 273.6h0.6M115.0 265.8h0.6M112.4 288.9h0.6M117.9 270.9h0.6M112.1 270.8h0.6M110.6 275.2h0.6M118.5 281.6h0.6M120.0 292.5h0.6M103.8 278.5h0.6M108.7 256.7h0.6M104.9 269.3h0.6M121.2 276.0h0.6M110.2 274.7h0.6M106.9 277.0h0.6M110.8 256.6h0.6M115.1 274.0h0.6M115.3 264.0h0.6M111.9 285.0h0.6M101.9 266.8h0.6M109.0 271.9h0.6M108.3 278.1h0.6M117.3 279.0h0.6M117.4 286.9h0.6M107.8 278.1h0.6M109.1 282.5h0.6M109.3 273.0h0.6M121.3 273.1h0.6M102.2 276.4h0.6M113.1 269.4h0.6M111.8 286.6h0.6M108.3 273.0h0.6M107.2 278.8h0.6M110.6 264.7h0.6M110.5 295.7h0.6M101.4 259.6h0.6M113.3 259.5h0.6M122.8 258.4h0.6M103.7 269.4h0.6M117.7 284.2h0.6M114.7 278.5h0.6M119.0 254.7h0.6M113.0 291.2h0.6M105.1 278.7h0.6M118.5 289.2h0.6M110.6 296.1h0.6M114.3 287.2h0.6M105.1 266.7h0.6M106.9 295.0h0.6M116.1 276.8h0.6M109.6 288.7h0.6M100.2 269.2h0.6M117.6 283.7h0.6M106.0 272.0h0.6M102.8 290.5h0.6M108.9 289.4h0.6M116.1 265.3h0.6M110.6 282.5h0.6M114.0 292.3h0.6M117.9 278.9h0.6M115.4 267.3h0.6M108.0 282.0h0.6M113.4 262.9h0.6M111.0 266.3h0.6M108.2 289.7h0.6M105.9 268.0h0.6M114.7 276.1h0.6M112.4 259.2h0.6M111.3 271.2h0.6M106.8 269.1h0.6M109.8 284.7h0.6M122.4 276.6h0.6M120.1 276.6h0.6M102.9 276.0h0.6M118.9 291.0h0.6M106.4 300.3h0.6M107.2 267.3h0.6M108.5 291.5h0.6M113.8 285.5h0.6M98.6 274.8h0.6M110.9 283.2h0.6M108.8 288.7h0.6M107.5 259.9h0.6M102.0 289.5h0.6M115.9 266.8h0.6M118.0 273.6h0.6M110.8 259.2h0.6M108.4 276.7h0.6M112.7 269.2h0.6M117.3 291.5h0.6M106.9 280.0h0.6M102.7 280.1h0.6M106.0 273.8h0.6M112.6 272.8h0.6M117.6 266.9h0.6M108.9 279.2h0.6M111.4 278.4h0.6M110.4 266.6h0.6M115.4 276.4h0.6M116.8 290.4h0.6M109.6 267.4h0.6M109.0 268.4h0.6M100.1 293.8h0.6M114.0 301.5h0.6M108.4 282.2h0.6M113.2 274.8h0.6M117.3 275.7h0.6M111.2 277.4h0.6M98.7 267.7h0.6M107.4 293.9h0.6M115.0 284.3h0.6M115.3 273.5h0.6M121.2 273.4h0.6M103.5 282.6h0.6M118.5 276.8h0.6M113.8 286.3h0.6M120.5 282.1h0.6M121.4 278.9h0.6M123.8 260.4h0.6M117.1 278.9h0.6M112.4 261.5h0.6M117.9 273.5h0.6M105.9 268.7h0.6M110.3 276.8h0.6M106.4 265.5h0.6M114.1 274.9h0.6M123.0 271.0h0.6M116.0 295.0h0.6M110.5 286.6h0.6M113.4 276.3h0.6M120.9 264.7h0.6M108.2 256.1h0.6M111.0 286.6h0.6M110.2 284.8h0.6M107.3 288.3h0.6M111.0 270.4h0.6M121.1 275.6h0.6M115.0 277.0h0.6M115.7 277.0h0.6M104.7 278.8h0.6M114.4 280.0h0.6M110.3 295.7h0.6M107.5 277.0h0.6M112.9 263.7h0.6M104.8 283.0h0.6M115.5 277.2h0.6M102.4 272.5h0.6M113.0 282.5h0.6M118.5 280.7h0.6M117.2 294.0h0.6M98.2 286.6h0.6M109.1 281.0h0.6M112.9 264.4h0.6M106.4 280.5h0.6M110.6 283.7h0.6M109.4 299.3h0.6M110.2 298.5h0.6M107.3 281.8h0.6M118.1 261.2h0.6M106.1 280.1h0.6M118.2 290.7h0.6M114.8 287.2h0.6M104.9 271.0h0.6M119.9 269.5h0.6M110.2 256.5h0.6M110.5 258.1h0.6M113.7 291.8h0.6M113.4 277.4h0.6M109.3 281.7h0.6M105.2 270.5h0.6M124.0 261.2h0.6M108.3 260.2h0.6M118.7 273.0h0.6M104.3 261.7h0.6M117.9 282.9h0.6M116.2 274.8h0.6M116.7 290.0h0.6M115.4 257.8h0.6M100.2 259.3h0.6M113.1 258.9h0.6M105.3 275.8h0.6M106.5 261.3h0.6M117.0 280.8h0.6M116.0 285.5h0.6M119.8 274.8h0.6M110.4 255.9h0.6M110.0 268.6h0.6M117.4 282.6h0.6M119.9 287.2h0.6M118.2 281.0h0.6M112.2 270.9h0.6M111.3 264.6h0.6M113.6 274.2h0.6M107.1 269.9h0.6M109.6 289.3h0.6M107.7 261.0h0.6M113.5 286.1h0.6M120.8 263.8h0.6M109.8 270.3h0.6M120.0 282.7h0.6M111.4 283.0h0.6M109.2 272.7h0.6M111.1 269.4h0.6M109.8 278.8h0.6M112.7 291.3h0.6M116.2 274.1h0.6M98.6 258.6h0.6M108.4 270.6h0.6M103.7 270.7h0.6M111.9 267.9h0.6M110.4 273.8h0.6M107.2 265.3h0.6M110.4 277.7h0.6M105.2 252.3h0.6M105.7 280.3h0.6M101.9 284.9h0.6M107.8 276.1h0.6M106.7 281.1h0.6M111.4 278.7h0.6M100.0 282.6h0.6M101.5 271.0h0.6M114.1 272.5h0.6M114.0 276.5h0.6M111.6 265.8h0.6M116.8 286.9h0.6M108.0 264.8h0.6M112.3 266.4h0.6M111.9 283.5h0.6M114.9 290.8h0.6M113.7 263.2h0.6M106.2 280.4h0.6M122.0 270.7h0.6M105.9 289.8h0.6M110.4 282.2h0.6M117.2 263.9h0.6M109.1 268.5h0.6M114.1 281.7h0.6M108.3 280.7h0.6M101.0 278.4h0.6M113.0 274.6h0.6M102.9 273.5h0.6M105.0 290.3h0.6M109.4 272.3h0.6M110.4 280.4h0.6M111.5 280.4h0.6M105.8 286.5h0.6M108.3 282.8h0.6M112.4 286.2h0.6M110.7 258.6h0.6M104.6 272.1h0.6M118.9 270.0h0.6M111.4 288.1h0.6M107.9 277.9h0.6M112.7 268.1h0.6M112.4 285.9h0.6M117.0 270.9h0.6M127.5 278.3h0.6M109.5 266.8h0.6M105.5 283.4h0.6M103.3 272.7h0.6M110.9 260.4h0.6M105.5 288.3h0.6M108.0 274.5h0.6M109.3 283.5h0.6M117.9 284.5h0.6M114.2 280.6h0.6M104.4 288.7h0.6M107.9 265.0h0.6M109.0 266.0h0.6M113.4 282.4h0.6M118.3 273.5h0.6M107.7 271.5h0.6M104.5 266.6h0.6M122.3 266.2h0.6M108.5 281.4h0.6M112.5 282.8h0.6M106.2 263.0h0.6M118.5 267.2h0.6M110.5 276.9h0.6M100.7 272.5h0.6M107.4 280.2h0.6M109.3 250.3h0.6M108.8 267.1h0.6M107.6 274.4h0.6M116.4 265.1h0.6M107.6 282.6h0.6M113.9 282.3h0.6M112.9 271.9h0.6M108.3 269.4h0.6M116.2 290.7h0.6M122.2 263.3h0.6M109.7 274.6h0.6M110.1 262.4h0.6M123.4 290.9h0.6M110.1 269.7h0.6M111.0 261.5h0.6M109.2 282.9h0.6M120.4 284.2h0.6M118.4 263.1h0.6M112.1 273.7h0.6M120.5 264.1h0.6M105.7 266.5h0.6M120.2 284.9h0.6M101.0 292.6h0.6M111.2 279.2h0.6M106.7 295.0h0.6M113.6 288.9h0.6M105.4 282.2h0.6M111.6 272.1h0.6M106.5 267.0h0.6M104.4 267.3h0.6M110.9 280.9h0.6M102.2 263.3h0.6M107.6 256.7h0.6M109.4 271.7h0.6M110.0 279.1h0.6M116.4 283.3h0.6M112.7 281.0h0.6M106.5 264.3h0.6M114.8 280.7h0.6M123.6 272.1h0.6M105.4 277.8h0.6M108.5 264.8h0.6M118.9 295.6h0.6M113.2 267.4h0.6M112.5 274.0h0.6M103.1 283.7h0.6M113.1 288.3h0.6M107.9 274.4h0.6M110.4 255.7h0.6M125.4 251.7h0.6M104.6 270.7h0.6M102.2 279.2h0.6M108.5 275.5h0.6M112.5 275.5h0.6M111.7 273.0h0.6M113.6 283.6h0.6M109.7 269.8h0.6M108.9 278.1h0.6M109.0 270.5h0.6M102.5 295.9h0.6M104.1 293.2h0.6M115.8 286.1h0.6M112.7 280.2h0.6M112.9 281.3h0.6M116.0 291.6h0.6M105.5 280.3h0.6M120.5 290.3h0.6M105.4 278.4h0.6M112.9 277.7h0.6M98.3 284.5h0.6M102.0 299.2h0.6M115.1 273.9h0.6M115.0 276.6h0.6M108.2 274.0h0.6M113.3 266.2h0.6M115.5 287.5h0.6M117.6 288.2h0.6M118.9 282.9h0.6M118.9 275.8h0.6M113.7 290.9h0.6M122.6 271.3h0.6M103.0 299.0h0.6M118.1 295.5h0.6M116.6 277.9h0.6M107.7 264.5h0.6M119.8 286.2h0.6M113.3 262.8h0.6M108.4 268.3h0.6M112.7 292.7h0.6M108.2 275.5h0.6M113.0 264.1h0.6M113.9 266.1h0.6M108.9 278.1h0.6M111.1 276.3h0.6M106.1 283.4h0.6M105.1 284.7h0.6M108.6 262.0h0.6M110.9 263.4h0.6M108.3 273.6h0.6M116.0 284.2h0.6M114.2 272.1h0.6M102.5 272.7h0.6M109.5 273.8h0.6M108.3 269.4h0.6M116.1 260.3h0.6M111.5 289.4h0.6M106.9 264.2h0.6M110.1 271.4h0.6M113.0 290.4h0.6M110.7 281.5h0.6M108.0 269.8h0.6M113.1 267.7h0.6M118.5 270.7h0.6M110.5 263.5h0.6M108.9 264.0h0.6M108.6 255.3h0.6M111.4 294.8h0.6M100.4 294.8h0.6M110.7 285.2h0.6M105.5 298.0h0.6M105.1 274.3h0.6M120.6 260.8h0.6M106.9 264.2h0.6M106.0 258.6h0.6M119.7 289.0h0.6M103.3 274.0h0.6M108.7 287.6h0.6M106.4 293.5h0.6M111.4 266.2h0.6M110.9 268.5h0.6M124.7 276.8h0.6M108.5 276.2h0.6M120.1 264.2h0.6M101.4 290.0h0.6M115.0 270.0h0.6M110.9 287.7h0.6M110.3 282.8h0.6M111.0 310.4h0.6M107.7 287.7h0.6M116.0 257.4h0.6M99.2 276.2h0.6M117.4 288.6h0.6M107.3 279.0h0.6M102.9 295.1h0.6M107.9 289.7h0.6M109.7 271.3h0.6M121.0 265.1h0.6M119.1 271.0h0.6M106.1 265.4h0.6M118.1 274.1h0.6M109.2 257.7h0.6M118.3 287.1h0.6M113.2 284.0h0.6M112.3 276.2h0.6M107.9 277.7h0.6M106.9 267.5h0.6M103.8 276.6h0.6M107.0 269.2h0.6M119.6 274.5h0.6M111.1 257.3h0.6M108.2 286.3h0.6M114.6 275.6h0.6M110.2 275.8h0.6M113.7 271.3h0.6M118.1 273.2h0.6M119.8 260.0h0.6M119.0 277.2h0.6M116.6 271.0h0.6M112.2 281.7h0.6M117.6 280.9h0.6M114.0 268.2h0.6M121.6 277.4h0.6M109.9 271.3h0.6M104.1 266.5h0.6M102.2 277.3h0.6M110.8 277.5h0.6M103.8 270.1h0.6M107.4 286.4h0.6M102.3 257.5h0.6M119.0 279.1h0.6M101.9 290.5h0.6M120.2 288.1h0.6M98.9 276.4h0.6M106.1 271.9h0.6M101.8 294.9h0.6M107.1 278.2h0.6M116.1 282.0h0.6M113.8 270.5h0.6M112.6 272.4h0.6M107.5 269.0h0.6M108.8 259.0h0.6M104.0 254.2h0.6M114.1 288.6h0.6M111.7 261.8h0.6M119.1 271.3h0.6M101.7 253.3h0.6M112.4 291.6h0.6M109.0 267.6h0.6M109.6 265.2h0.6M108.0 277.8h0.6M106.9 285.7h0.6M105.4 283.1h0.6M113.3 270.5h0.6M109.5 271.2h0.6M121.3 265.6h0.6M118.4 286.5h0.6M109.2 293.5h0.6M112.0 275.2h0.6M116.3 270.3h0.6M110.1 288.2h0.6M110.6 263.0h0.6M114.7 274.0h0.6M107.9 281.3h0.6M106.6 263.6h0.6M109.7 272.7h0.6M111.6 261.1h0.6M121.6 282.7h0.6M112.1 277.6h0.6M105.1 280.7h0.6M104.1 286.3h0.6M108.0 272.5h0.6M120.4 286.3h0.6M103.0 266.9h0.6M112.4 272.2h0.6M116.1 267.0h0.6M100.0 264.4h0.6M110.1 281.2h0.6M115.7 289.3h0.6M112.7 272.6h0.6M115.6 273.8h0.6M108.4 269.5h0.6M116.8 292.0h0.6M119.2 256.5h0.6M117.8 262.0h0.6M109.2 281.7h0.6M103.3 260.8h0.6M106.8 294.3h0.6M117.7 264.6h0.6M112.1 276.5h0.6M113.1 266.8h0.6M119.9 270.6h0.6M116.2 255.6h0.6M113.6 276.6h0.6M114.6 284.3h0.6M109.7 290.1h0.6M123.9 285.1h0.6M116.1 290.5h0.6M113.9 289.1h0.6M114.9 267.1h0.6M105.0 288.5h0.6M114.9 267.2h0.6M111.4 291.8h0.6M101.0 264.6h0.6M115.5 284.4h0.6M104.2 263.5h0.6M112.3 291.1h0.6M117.5 274.7h0.6M108.5 261.6h0.6M118.4 278.0h0.6M113.7 279.0h0.6M113.9 284.6h0.6M121.6 262.7h0.6M110.8 269.7h0.6M121.4 271.6h0.6M101.6 274.6h0.6M106.9 266.4h0.6M108.6 259.9h0.6M99.7 297.4h0.6M110.5 264.2h0.6M115.0 290.3h0.6M100.8 269.8h0.6M113.0 265.2h0.6M114.0 260.7h0.6M107.3 273.5h0.6M113.8 275.4h0.6M107.2 270.7h0.6M98.6 299.5h0.6M108.8 271.5h0.6M112.9 281.5h0.6M113.3 267.1h0.6M101.3 272.9h0.6M106.5 268.6h0.6M111.2 277.7h0.6M119.0 273.2h0.6M100.9 281.6h0.6M116.8 256.0h0.6M114.9 277.1h0.6M108.0 276.9h0.6M113.6 281.7h0.6M118.1 274.8h0.6M111.2 302.7h0.6M104.8 271.7h0.6M109.1 283.7h0.6M117.9 259.7h0.6M118.6 261.2h0.6M126.9 267.2h0.6M117.9 271.8h0.6M115.5 266.3h0.6M112.0 275.2h0.6M111.8 284.1h0.6M108.6 271.2h0.6M103.3 273.3h0.6M108.3 285.1h0.6M115.3 266.6h0.6M113.9 290.1h0.6M110.0 261.4h0.6M126.0 281.3h0.6M115.5 303.8h0.6M106.5 278.4h0.6M99.9 280.6h0.6M113.6 265.9h0.6M106.1 272.9h0.6M109.9 293.2h0.6M109.8 273.1h0.6M110.2 256.5h0.6M108.3 259.4h0.6M112.0 249.7h0.6M104.5 277.8h0.6M98.6 257.0h0.6M117.2 259.6h0.6M111.2 278.4h0.6M104.9 255.5h0.6M120.4 268.5h0.6M114.4 266.2h0.6M113.4 259.8h0.6M103.0 262.9h0.6M107.5 267.7h0.6M109.3 279.9h0.6M108.0 285.7h0.6M107.3 282.5h0.6M119.1 294.9h0.6M99.3 294.8h0.6M100.6 291.2h0.6M111.2 279.0h0.6M105.6 285.7h0.6M115.4 268.5h0.6M107.5 284.8h0.6M117.5 283.8h0.6M109.0 275.0h0.6M116.9 284.6h0.6M118.0 276.6h0.6M107.0 278.3h0.6M114.0 268.8h0.6M114.0 265.3h0.6M112.8 268.0h0.6M124.0 288.6h0.6M112.8 259.8h0.6M103.9 283.0h0.6M110.4 278.5h0.6M101.8 257.6h0.6M112.0 272.5h0.6M103.3 265.7h0.6M116.0 269.9h0.6M114.7 293.9h0.6M113.3 276.4h0.6M107.7 288.9h0.6M102.6 262.3h0.6M111.2 258.0h0.6M117.1 267.7h0.6M114.4 271.4h0.6M109.7 275.1h0.6M99.5 262.4h0.6M108.4 300.5h0.6M116.1 283.2h0.6M105.0 285.2h0.6M118.7 283.6h0.6M127.0 259.4h0.6M104.8 271.9h0.6M105.4 275.5h0.6M114.4 274.8h0.6M111.9 279.6h0.6M115.9 267.3h0.6M107.2 288.6h0.6M109.2 265.3h0.6M112.9 270.8h0.6M112.0 274.2h0.6M115.0 285.4h0.6M106.3 260.9h0.6M120.8 267.0h0.6M101.9 253.1h0.6M111.0 267.5h0.6M100.2 264.0h0.6M104.9 286.3h0.6M112.6 274.7h0.6M103.6 272.8h0.6M115.2 276.7h0.6M117.6 275.7h0.6M115.4 280.1h0.6M107.8 290.2h0.6M113.4 284.3h0.6M104.8 262.3h0.6M110.1 265.6h0.6M114.9 279.5h0.6M118.6 281.6h0.6M104.4 285.7h0.6M107.3 266.4h0.6M111.6 274.7h0.6M117.4 307.3h0.6M113.7 291.5h0.6M109.9 278.7h0.6M108.1 270.0h0.6M119.3 280.0h0.6M113.9 265.6h0.6M121.5 272.8h0.6M107.3 274.6h0.6M115.2 283.4h0.6M120.0 262.6h0.6M108.6 292.7h0.6M124.8 267.6h0.6M110.6 257.1h0.6M106.3 264.7h0.6M110.6 261.2h0.6M116.8 274.2h0.6M109.7 285.4h0.6M109.6 260.6h0.6M111.4 299.8h0.6M111.8 280.9h0.6M110.0 272.3h0.6M103.8 268.0h0.6M109.6 291.5h0.6M125.9 282.1h0.6M113.6 282.7h0.6M120.2 263.6h0.6M108.3 276.6h0.6M113.0 253.1h0.6M113.8 256.6h0.6M115.8 284.6h0.6M112.4 267.8h0.6M116.9 297.8h0.6M114.2 262.3h0.6M102.6 261.4h0.6M105.1 287.7h0.6M112.9 274.5h0.6M116.4 275.0h0.6M111.4 265.2h0.6M107.5 275.2h0.6M104.2 293.9h0.6M111.9 268.5h0.6M117.0 262.7h0.6M117.5 275.8h0.6M122.5 268.5h0.6M108.8 265.1h0.6M103.7 277.7h0.6M104.9 278.5h0.6M107.4 286.9h0.6M111.5 274.8h0.6M107.4 294.8h0.6M108.7 279.7h0.6M109.6 270.7h0.6M111.7 282.5h0.6M104.5 269.4h0.6M102.8 279.4h0.6M106.1 266.2h0.6M115.1 274.6h0.6M113.6 273.2h0.6M113.6 275.8h0.6M104.5 277.2h0.6M109.1 272.0h0.6M112.9 268.5h0.6M104.8 288.3h0.6M122.2 270.8h0.6M118.0 279.2h0.6M107.3 265.2h0.6M109.5 269.8h0.6M109.2 273.3h0.6M104.4 284.7h0.6M104.4 262.5h0.6M116.7 283.5h0.6M119.9 276.3h0.6M107.3 287.9h0.6M110.6 273.3h0.6M106.1 279.4h0.6M99.2 284.8h0.6M101.9 282.6h0.6M126.0 271.6h0.6M104.2 297.1h0.6M108.5 262.0h0.6M102.3 259.7h0.6M107.0 251.5h0.6M116.1 286.5h0.6M110.8 270.0h0.6M101.8 280.1h0.6M107.0 281.8h0.6M117.3 275.3h0.6M98.5 264.0h0.6M119.4 277.9h0.6M119.7 249.1h0.6M110.5 272.8h0.6M101.4 267.4h0.6M117.1 281.0h0.6M108.0 278.5h0.6M118.3 262.4h0.6M112.9 286.8h0.6M107.1 289.8h0.6M110.7 287.6h0.6M116.7 277.8h0.6M109.4 267.3h0.6M112.2 277.2h0.6M119.6 273.8h0.6M113.3 294.2h0.6M113.1 280.1h0.6M120.9 275.9h0.6M113.6 283.5h0.6M110.5 262.0h0.6M102.4 272.5h0.6M118.0 286.3h0.6M121.0 285.3h0.6M107.3 258.1h0.6M108.1 271.8h0.6M106.8 285.4h0.6M106.5 281.5h0.6M115.9 254.8h0.6M108.7 289.3h0.6M116.3 276.2h0.6M104.6 266.7h0.6M111.7 289.3h0.6M114.2 273.8h0.6M112.6 283.8h0.6M100.7 263.4h0.6M111.4 288.7h0.6M117.7 265.8h0.6M111.3 266.3h0.6M108.9 276.5h0.6M109.0 268.4h0.6M104.2 256.6h0.6M110.0 277.0h0.6M114.9 265.4h0.6M106.9 289.3h0.6M113.7 284.9h0.6M107.8 266.6h0.6M104.3 286.2h0.6M104.4 254.9h0.6M106.7 289.3h0.6M111.3 277.5h0.6M111.9 274.2h0.6M110.2 258.7h0.6M121.1 273.0h0.6M118.4 256.8h0.6M114.4 261.2h0.6M103.4 277.8h0.6M117.3 290.5h0.6M119.1 271.7h0.6M115.9 267.9h0.6M107.9 277.6h0.6M110.5 284.5h0.6M100.2 287.8h0.6M107.7 291.7h0.6M118.0 261.6h0.6M110.9 282.6h0.6M106.4 266.3h0.6M109.4 283.3h0.6M116.6 270.0h0.6M116.1 291.7h0.6M116.7 266.4h0.6M106.2 278.1h0.6M116.1 279.7h0.6M108.9 264.2h0.6M118.8 273.1h0.6M122.4 261.7h0.6M109.2 267.5h0.6M122.2 289.0h0.6M108.3 252.8h0.6M118.1 276.4h0.6M104.5 257.7h0.6M113.6 272.5h0.6M112.1 279.4h0.6M109.0 271.8h0.6M115.2 273.6h0.6M109.6 282.2h0.6M99.5 289.1h0.6M113.9 266.2h0.6M110.2 289.0h0.6M114.6 254.6h0.6M105.2 277.0h0.6M121.9 283.7h0.6M110.1 281.6h0.6M111.4 271.5h0.6M113.6 250.6h0.6M117.3 281.1h0.6M108.7 265.2h0.6M104.1 278.1h0.6M112.2 277.0h0.6M121.5 249.9h0.6M107.0 266.2h0.6M116.9 272.1h0.6M105.7 277.4h0.6M113.7 293.4h0.6M112.8 270.0h0.6M108.3 265.7h0.6M114.2 284.3h0.6M110.0 273.5h0.6M119.5 276.2h0.6M114.3 262.6h0.6M107.7 250.6h0.6M103.2 279.2h0.6M118.7 272.0h0.6M104.2 276.1h0.6M118.1 273.1h0.6M116.8 274.3h0.6M104.0 264.7h0.6M109.8 301.0h0.6M114.8 272.3h0.6M113.0 277.4h0.6M108.7 273.8h0.6M109.8 283.5h0.6M120.6 290.2h0.6M109.4 281.3h0.6M107.0 262.6h0.6M111.8 282.0h0.6M110.9 284.5h0.6M116.2 283.7h0.6M110.4 259.5h0.6M122.0 269.6h0.6M115.7 280.6h0.6M109.3 295.9h0.6M115.3 274.9h0.6M108.8 264.0h0.6M103.8 281.5h0.6M108.7 269.9h0.6M114.3 271.1h0.6M115.2 267.7h0.6M108.2 285.5h0.6M107.3 282.0h0.6M114.3 275.1h0.6M101.5 260.1h0.6M104.8 260.4h0.6M116.4 265.1h0.6M103.9 269.3h0.6M110.7 256.0h0.6M114.9 283.2h0.6M107.8 284.2h0.6M102.1 268.7h0.6M110.3 275.8h0.6M118.1 271.3h0.6M105.3 277.4h0.6M112.2 280.1h0.6M109.3 277.0h0.6M107.9 281.4h0.6M107.4 268.0h0.6M118.2 266.4h0.6M111.3 281.4h0.6M109.4 285.2h0.6M107.9 286.5h0.6M102.1 259.7h0.6M111.7 291.2h0.6M120.8 265.3h0.6M111.1 269.4h0.6M98.6 283.2h0.6M109.1 290.5h0.6M112.9 269.0h0.6M107.2 272.8h0.6M114.0 269.4h0.6M127.8 277.3h0.6M104.6 275.9h0.6M118.0 279.8h0.6M109.3 267.5h0.6M106.6 261.6h0.6M108.2 277.9h0.6M107.9 293.4h0.6M113.5 270.0h0.6M111.1 291.6h0.6M101.2 277.7h0.6M127.1 286.3h0.6M105.9 276.4h0.6M109.9 306.5h0.6M107.3 271.9h0.6M109.3 258.9h0.6M114.3 270.1h0.6M114.2 283.5h0.6M115.4 255.8h0.6M120.2 284.7h0.6M116.0 275.1h0.6M111.3 268.8h0.6M113.8 285.4h0.6M107.9 284.2h0.6M108.5 281.7h0.6M110.4 284.7h0.6M122.7 277.5h0.6M108.4 270.1h0.6M115.0 269.4h0.6M117.1 278.4h0.6M116.6 268.7h0.6M105.6 266.6h0.6M113.6 266.1h0.6M115.4 251.7h0.6M107.4 273.1h0.6M100.5 268.1h0.6M102.5 274.2h0.6M109.9 283.4h0.6M106.3 256.6h0.6M108.1 276.5h0.6M111.9 276.9h0.6M118.5 271.0h0.6M110.1 265.5h0.6M107.8 286.9h0.6M118.5 252.5h0.6M108.9 286.1h0.6M112.1 281.4h0.6M116.5 278.4h0.6M103.9 279.2h0.6M109.6 281.3h0.6M112.0 275.2h0.6M121.6 278.2h0.6M116.7 278.8h0.6M121.1 270.9h0.6M118.3 295.7h0.6M109.1 287.0h0.6M103.3 278.7h0.6M115.7 265.7h0.6M100.8 275.7h0.6M109.4 277.3h0.6M113.1 284.6h0.6M120.6 280.1h0.6M102.3 282.8h0.6M113.7 276.9h0.6M120.8 278.2h0.6M109.3 280.5h0.6M102.0 286.1h0.6M111.8 294.4h0.6M115.5 279.5h0.6M112.6 261.9h0.6M111.0 278.7h0.6M117.3 280.2h0.6M115.6 283.1h0.6M108.4 278.8h0.6M110.2 261.2h0.6M102.6 284.7h0.6M120.0 291.5h0.6M106.5 292.4h0.6M120.7 266.8h0.6M114.4 294.8h0.6M112.1 288.8h0.6M107.9 271.6h0.6M116.7 273.6h0.6M112.3 276.5h0.6M105.5 292.3h0.6M110.7 271.7h0.6M108.9 276.2h0.6M106.0 285.3h0.6M109.5 284.4h0.6M106.4 263.9h0.6M106.1 278.0h0.6M103.7 284.9h0.6M109.6 285.6h0.6M109.3 284.6h0.6M105.4 263.0h0.6M115.0 269.1h0.6M117.8 267.5h0.6M114.5 266.1h0.6M101.2 291.6h0.6M110.3 286.4h0.6M112.5 255.9h0.6M113.8 287.6h0.6M119.1 293.9h0.6M113.8 274.2h0.6M111.9 262.1h0.6M115.8 283.5h0.6M113.5 266.5h0.6M115.3 269.1h0.6M118.8 268.4h0.6M108.3 271.7h0.6M105.3 265.1h0.6M123.3 279.5h0.6M113.2 265.2h0.6M112.6 275.1h0.6M112.0 258.4h0.6M110.7 253.8h0.6M110.2 265.1h0.6M107.8 271.5h0.6M116.4 289.1h0.6M111.6 262.9h0.6M120.2 259.2h0.6M108.1 272.7h0.6M107.0 290.3h0.6M113.8 287.4h0.6M109.6 285.0h0.6M110.5 273.5h0.6M113.1 279.6h0.6M114.8 272.7h0.6M102.4 271.5h0.6M106.5 284.4h0.6M109.3 256.9h0.6M113.8 280.6h0.6M113.8 299.9h0.6M106.4 278.4h0.6M112.2 267.3h0.6M113.0 289.4h0.6M106.2 280.1h0.6M117.3 282.5h0.6M101.8 278.2h0.6M109.0 289.0h0.6M110.6 297.4h0.6M104.0 280.7h0.6M106.1 295.2h0.6M120.7 264.5h0.6M115.8 274.5h0.6M101.6 263.1h0.6M111.9 280.9h0.6M109.1 278.4h0.6M113.2 278.3h0.6M104.3 276.6h0.6M114.5 258.0h0.6M120.5 291.6h0.6M112.3 298.8h0.6M106.5 264.2h0.6M107.6 266.9h0.6M122.3 275.6h0.6M111.0 279.2h0.6M120.8 276.9h0.6M109.1 278.1h0.6M118.8 272.7h0.6M119.7 278.5h0.6M110.3 280.7h0.6M123.1 272.3h0.6M119.5 281.5h0.6M112.3 275.6h0.6M116.2 282.1h0.6M113.5 282.6h0.6M106.2 267.6h0.6M105.4 271.1h0.6M110.1 270.9h0.6M114.5 264.3h0.6M109.9 284.9h0.6M121.3 275.7h0.6M118.4 290.6h0.6M105.3 277.8h0.6M105.1 270.7h0.6M113.7 260.7h0.6M114.5 273.5h0.6M109.9 281.1h0.6M106.5 255.8h0.6M111.5 266.9h0.6M110.1 262.6h0.6M105.8 263.4h0.6M103.7 265.8h0.6M106.7 275.3h0.6M130.0 268.0h0.6M101.9 281.5h0.6M104.0 264.9h0.6M109.2 275.4h0.6M111.7 277.7h0.6M110.6 287.4h0.6M116.2 268.8h0.6M110.0 259.6h0.6M115.1 272.5h0.6M122.5 267.2h0.6M120.2 264.5h0.6M101.3 265.2h0.6M113.2 286.3h0.6M106.1 285.8h0.6M108.1 269.1h0.6M109.4 293.4h0.6M112.3 278.3h0.6M102.3 276.7h0.6M112.8 293.2h0.6M106.1 266.9h0.6M105.8 267.5h0.6M115.1 265.8h0.6M118.7 275.2h0.6M105.8 267.4h0.6M103.1 258.4h0.6M117.9 284.7h0.6M105.4 269.7h0.6M120.6 266.6h0.6M112.5 280.4h0.6M110.0 272.6h0.6M109.2 276.0h0.6M102.0 275.2h0.6M112.2 259.7h0.6M113.8 264.2h0.6M111.7 280.9h0.6M108.6 258.2h0.6M110.1 284.9h0.6M110.8 258.0h0.6M113.8 272.3h0.6M110.1 275.3h0.6M114.4 273.3h0.6M105.4 273.3h0.6M111.9 287.8h0.6M103.9 273.0h0.6M105.9 277.6h0.6M116.7 267.1h0.6M104.6 257.6h0.6M104.8 259.9h0.6M110.2 276.1h0.6M110.6 278.5h0.6M106.2 281.3h0.6M110.4 279.5h0.6M114.7 270.4h0.6M118.3 283.5h0.6M108.6 294.3h0.6M120.8 257.3h0.6M97.9 267.6h0.6M113.8 285.1h0.6M115.0 274.4h0.6M116.8 282.6h0.6M108.5 276.7h0.6M117.3 267.4h0.6M107.4 265.2h0.6M119.7 282.2h0.6M116.1 270.5h0.6M111.0 288.3h0.6M109.5 287.9h0.6M111.0 274.4h0.6M114.4 284.3h0.6M121.4 270.8h0.6M121.0 266.2h0.6M106.1 249.6h0.6M116.1 291.3h0.6M104.1 271.1h0.6M109.7 257.3h0.6M111.6 278.1h0.6M108.2 263.3h0.6M112.0 281.4h0.6M102.9 273.6h0.6M113.1 294.0h0.6M103.7 289.4h0.6M109.5 281.6h0.6M110.3 262.0h0.6M101.2 301.6h0.6M103.4 271.8h0.6M119.5 278.2h0.6M112.2 252.2h0.6M107.6 259.9h0.6M100.7 278.9h0.6M116.1 266.2h0.6M107.4 279.7h0.6M116.4 263.0h0.6M118.1 285.4h0.6M111.2 262.3h0.6M114.5 282.6h0.6M121.5 268.1h0.6M120.5 270.9h0.6M114.3 273.6h0.6M111.7 291.4h0.6M107.2 284.2h0.6M109.6 274.4h0.6M107.0 277.1h0.6M99.5 271.9h0.6M117.2 284.3h0.6M101.7 262.2h0.6M108.8 296.0h0.6M108.7 274.8h0.6M109.8 278.3h0.6M105.9 277.8h0.6M114.0 286.7h0.6M106.0 285.1h0.6M122.6 283.8h0.6M119.1 296.6h0.6M118.5 280.6h0.6M116.2 308.9h0.6M107.1 270.4h0.6M117.8 277.8h0.6M98.5 277.5h0.6M113.3 264.3h0.6M113.5 277.7h0.6M100.6 280.8h0.6M124.0 294.8h0.6M104.6 259.9h0.6M111.6 278.1h0.6M103.3 266.5h0.6M119.3 277.7h0.6M117.4 274.6h0.6M117.4 268.9h0.6M108.2 264.1h0.6M99.9 270.4h0.6M103.2 269.6h0.6M112.1 276.9h0.6M113.6 270.4h0.6M110.9 288.1h0.6M110.3 275.2h0.6M117.8 265.0h0.6M104.8 285.9h0.6M103.9 286.2h0.6M110.6 267.7h0.6M99.0 290.0h0.6M100.4 260.7h0.6M115.9 260.6h0.6M114.2 274.4h0.6M109.6 262.7h0.6M107.2 277.9h0.6M105.3 282.0h0.6M112.6 281.0h0.6M112.6 281.2h0.6M113.4 284.2h0.6M113.4 278.5h0.6M105.7 255.0h0.6M111.5 285.7h0.6M105.6 256.6h0.6M107.9 278.9h0.6M116.3 271.1h0.6M104.1 274.0h0.6M115.2 274.1h0.6M117.2 269.0h0.6M116.4 293.5h0.6M105.2 264.8h0.6M115.0 310.4h0.6M114.2 274.4h0.6M119.0 273.5h0.6M101.5 263.8h0.6M119.2 255.5h0.6M102.7 284.1h0.6M112.1 288.6h0.6M104.8 266.3h0.6M109.1 260.6h0.6M109.8 272.8h0.6M116.3 273.8h0.6M108.8 280.4h0.6M117.8 286.7h0.6M112.8 270.4h0.6M108.3 259.8h0.6M111.6 274.5h0.6M121.0 277.2h0.6M115.6 289.7h0.6M100.0 267.4h0.6M109.8 276.1h0.6M104.4 284.6h0.6M116.6 280.5h0.6M115.2 262.2h0.6M118.0 267.8h0.6M99.9 276.2h0.6M113.7 266.9h0.6M101.3 261.6h0.6M117.3 286.2h0.6M110.1 286.9h0.6M110.2 261.7h0.6M115.0 281.2h0.6M105.6 258.6h0.6M105.3 288.1h0.6M109.3 307.0h0.6M107.2 281.7h0.6M113.1 272.2h0.6M116.2 264.9h0.6M110.8 261.3h0.6M98.1 275.5h0.6M104.3 259.8h0.6M114.6 272.9h0.6M113.5 294.6h0.6M112.2 279.9h0.6M104.0 284.4h0.6M116.3 262.7h0.6M115.1 278.4h0.6M109.9 275.7h0.6M125.7 267.4h0.6M109.2 275.9h0.6M110.1 253.8h0.6M115.1 285.4h0.6M121.6 268.3h0.6M103.6 282.3h0.6M105.0 274.8h0.6M108.8 277.0h0.6M108.5 282.8h0.6M105.7 302.2h0.6M115.9 267.6h0.6M105.4 272.6h0.6M108.4 265.3h0.6M119.6 286.0h0.6M104.7 281.2h0.6M111.3 283.7h0.6M107.2 299.3h0.6M111.7 297.8h0.6M108.4 290.3h0.6M110.6 294.0h0.6M110.1 262.6h0.6M104.8 267.6h0.6M114.9 279.2h0.6M111.9 287.1h0.6M121.1 263.3h0.6M117.3 301.5h0.6M107.5 268.4h0.6M113.7 277.5h0.6M108.0 274.1h0.6M120.9 285.4h0.6M106.4 255.3h0.6M104.6 277.0h0.6M106.5 265.2h0.6M115.6 271.7h0.6M109.0 277.4h0.6M120.0 278.5h0.6M115.4 275.9h0.6M120.6 260.8h0.6M104.5 269.1h0.6M123.4 292.7h0.6M104.7 269.7h0.6M114.6 275.8h0.6M116.6 269.3h0.6M101.3 282.1h0.6M118.8 257.3h0.6M100.0 269.8h0.6M100.1 279.9h0.6M104.3 283.5h0.6M109.2 276.5h0.6M115.3 272.7h0.6M105.2 285.5h0.6M102.5 291.2h0.6M107.6 268.9h0.6M113.7 279.8h0.6M114.3 258.1h0.6M106.0 278.9h0.6M113.5 273.9h0.6M119.1 273.0h0.6M116.9 287.5h0.6M113.4 272.8h0.6M115.7 280.2h0.6M115.0 265.1h0.6M114.1 293.3h0.6M109.6 276.6h0.6M109.9 285.2h0.6M99.0 293.4h0.6M114.4 272.5h0.6M113.0 288.0h0.6M113.6 282.8h0.6M118.5 277.0h0.6M115.8 292.0h0.6M114.7 268.0h0.6M116.0 298.5h0.6M109.5 280.3h0.6M113.9 285.3h0.6M108.9 274.9h0.6M123.1 283.1h0.6M107.7 284.2h0.6M111.8 292.8h0.6M101.8 276.3h0.6M117.3 260.7h0.6M107.0 280.6h0.6M111.6 271.7h0.6M113.2 259.3h0.6M106.4 295.0h0.6M107.6 280.2h0.6M111.1 285.0h0.6M113.4 279.8h0.6M118.3 278.9h0.6M101.3 267.7h0.6M119.9 287.3h0.6M110.0 257.1h0.6M107.2 298.9h0.6M118.5 289.1h0.6M101.8 259.8h0.6M107.9 259.8h0.6M112.1 262.8h0.6M114.2 272.7h0.6M108.1 282.6h0.6M114.1 276.7h0.6M109.2 274.6h0.6M100.0 252.9h0.6M107.4 276.7h0.6M121.8 279.7h0.6M105.5 269.6h0.6M103.9 274.7h0.6M110.8 274.7h0.6M113.0 287.0h0.6M115.4 262.0h0.6M116.4 263.7h0.6M113.6 276.2h0.6M121.3 274.0h0.6M110.8 272.1h0.6M116.5 278.7h0.6M109.8 284.6h0.6M123.9 293.6h0.6M120.3 269.1h0.6M110.9 277.1h0.6M101.3 294.7h0.6M102.9 279.8h0.6M104.1 276.7h0.6M116.3 281.2h0.6M106.4 267.9h0.6M116.9 274.5h0.6M112.1 285.9h0.6M118.9 295.5h0.6M115.5 267.0h0.6M117.2 296.5h0.6M107.7 267.1h0.6M110.6 270.6h0.6M103.7 268.2h0.6M114.0 269.3h0.6M112.5 290.7h0.6M129.1 285.2h0.6M105.7 286.5h0.6M111.4 279.2h0.6M117.1 284.0h0.6M103.7 262.4h0.6M113.0 283.2h0.6M123.9 282.1h0.6M109.3 269.8h0.6M107.2 260.6h0.6M103.7 269.0h0.6M112.0 266.5h0.6M111.5 272.0h0.6M110.1 270.3h0.6M113.1 275.4h0.6M112.0 268.3h0.6M112.4 267.4h0.6M112.1 265.3h0.6M115.4 279.1h0.6M102.9 267.3h0.6M115.5 279.8h0.6M112.2 262.4h0.6M107.4 277.0h0.6M113.1 275.0h0.6M106.5 272.6h0.6M108.5 262.1h0.6M104.9 266.0h0.6M102.5 280.4h0.6M115.9 285.1h0.6M106.8 266.6h0.6M112.8 269.8h0.6M109.5 271.6h0.6M101.9 289.4h0.6M102.9 257.4h0.6M116.1 262.7h0.6M117.6 278.9h0.6M113.4 270.8h0.6M103.0 261.7h0.6M111.9 273.8h0.6M104.2 262.2h0.6M106.2 274.3h0.6M113.9 285.1h0.6M109.1 291.1h0.6M115.5 291.6h0.6M106.2 281.5h0.6M117.7 255.2h0.6M116.7 279.6h0.6M116.7 276.9h0.6M118.0 270.3h0.6M108.3 283.1h0.6M115.5 260.0h0.6M118.3 288.1h0.6M117.3 266.9h0.6M118.7 280.8h0.6M116.7 274.4h0.6M108.8 267.2h0.6M107.7 285.0h0.6M106.8 268.1h0.6M113.2 272.1h0.6M99.4 267.7h0.6M109.2 293.0h0.6M115.2 263.9h0.6M104.9 269.9h0.6M112.6 266.3h0.6M113.8 259.4h0.6M113.2 288.3h0.6M112.8 280.0h0.6M111.9 274.3h0.6M112.9 276.2h0.6M111.8 292.5h0.6M117.3 285.3h0.6M107.6 269.6h0.6M117.4 263.3h0.6M117.2 260.0h0.6M123.6 288.8h0.6M108.1 269.9h0.6M99.5 274.5h0.6M118.2 281.8h0.6M109.8 297.8h0.6M114.5 279.6h0.6M109.6 281.5h0.6M126.5 280.0h0.6M101.6 277.4h0.6M122.4 288.2h0.6M108.3 278.9h0.6M102.7 282.1h0.6M106.2 269.1h0.6M108.0 267.0h0.6M121.1 291.4h0.6M109.6 276.1h0.6M121.1 271.8h0.6M108.7 265.6h0.6M120.4 276.8h0.6M111.4 270.3h0.6M106.0 285.6h0.6M106.8 269.2h0.6M101.5 262.7h0.6M108.3 269.5h0.6M102.5 268.1h0.6M114.6 271.8h0.6M103.5 271.9h0.6M113.8 274.8h0.6M111.5 275.0h0.6M115.0 259.7h0.6M107.8 279.1h0.6M111.4 263.0h0.6M109.6 267.1h0.6M111.3 256.4h0.6M101.8 258.8h0.6M110.4 302.3h0.6M116.9 288.4h0.6M111.3 292.5h0.6M113.3 275.5h0.6M117.5 261.3h0.6M98.5 261.5h0.6M119.4 284.8h0.6M112.3 272.1h0.6M110.2 279.1h0.6M106.2 283.4h0.6M105.5 289.7h0.6M109.2 264.5h0.6M109.5 264.4h0.6M110.4 254.6h0.6M108.3 275.6h0.6M113.4 270.4h0.6M118.2 255.9h0.6M109.9 269.3h0.6M111.1 271.8h0.6M119.2 274.7h0.6M105.8 302.5h0.6M111.4 272.9h0.6M116.3 268.0h0.6M109.8 284.3h0.6M104.2 269.6h0.6M116.6 294.8h0.6M110.7 273.5h0.6M117.5 258.2h0.6M107.1 265.8h0.6M108.8 284.9h0.6M115.0 288.8h0.6M118.9 265.0h0.6M103.5 278.6h0.6M111.2 281.8h0.6M111.1 288.6h0.6M115.2 277.6h0.6M108.9 282.6h0.6M107.3 285.5h0.6M117.9 285.3h0.6M103.7 279.7h0.6M113.3 284.5h0.6M102.1 268.0h0.6M110.7 290.4h0.6M107.7 284.8h0.6M112.0 296.5h0.6M113.1 256.7h0.6M109.6 277.7h0.6M118.6 282.2h0.6M109.5 260.6h0.6M111.4 273.4h0.6M119.0 285.2h0.6M108.8 277.9h0.6M105.5 269.0h0.6M118.2 283.1h0.6M101.1 278.7h0.6M112.1 272.5h0.6M114.5 281.4h0.6M125.8 277.4h0.6M106.9 269.2h0.6M115.4 296.6h0.6M114.8 280.9h0.6M112.8 269.8h0.6M111.7 261.2h0.6M115.6 280.2h0.6M112.3 265.2h0.6M109.7 268.4h0.6M113.0 271.7h0.6M113.4 285.4h0.6M118.7 263.4h0.6M109.3 262.6h0.6M118.6 265.3h0.6M119.2 269.3h0.6M117.3 268.8h0.6M109.9 276.3h0.6M111.8 273.3h0.6M115.2 288.4h0.6M116.3 269.5h0.6M100.4 276.2h0.6M114.9 261.3h0.6M114.7 267.5h0.6M118.7 266.3h0.6M106.4 267.6h0.6M112.7 263.3h0.6M124.5 270.8h0.6M121.6 271.8h0.6M109.4 267.0h0.6M106.8 279.9h0.6M118.3 276.2h0.6M106.0 277.4h0.6M112.0 255.3h0.6M107.6 275.6h0.6M108.9 272.0h0.6M120.4 285.7h0.6M120.2 277.4h0.6M112.6 294.9h0.6M107.6 278.7h0.6M112.1 278.3h0.6M114.8 276.3h0.6M116.0 265.5h0.6M114.2 263.2h0.6M117.6 286.0h0.6M110.1 269.2h0.6M111.1 281.1h0.6M102.4 263.6h0.6M116.7 272.5h0.6M103.7 249.9h0.6M108.6 255.2h0.6M112.0 273.9h0.6M121.9 260.8h0.6M114.9 261.3h0.6M105.1 272.4h0.6M106.2 295.1h0.6M110.8 266.3h0.6M124.6 265.8h0.6M108.9 272.3h0.6M106.6 281.4h0.6M118.1 260.2h0.6M108.2 270.4h0.6M102.9 259.8h0.6M108.9 264.4h0.6M112.9 283.6h0.6M112.1 277.7h0.6M105.7 267.7h0.6M113.3 280.8h0.6M110.5 280.5h0.6M109.5 261.4h0.6M112.8 269.7h0.6M101.1 283.8h0.6M113.2 282.5h0.6M108.2 290.9h0.6M113.8 285.3h0.6M107.2 270.9h0.6M118.4 274.1h0.6M111.1 290.9h0.6M117.7 277.0h0.6M122.0 257.9h0.6M110.6 268.3h0.6M119.5 291.9h0.6M108.2 276.1h0.6M116.4 280.3h0.6M112.6 285.5h0.6M122.3 275.9h0.6M104.7 273.3h0.6M110.8 270.4h0.6M115.1 282.6h0.6M116.3 279.8h0.6M112.6 263.3h0.6M109.1 265.1h0.6M112.9 273.3h0.6M110.9 280.4h0.6M109.4 286.3h0.6M117.1 264.2h0.6M118.6 270.9h0.6M106.9 271.1h0.6M103.8 278.3h0.6M118.0 258.0h0.6M113.5 281.0h0.6M114.9 281.6h0.6M113.6 269.5h0.6M116.2 278.2h0.6M115.6 278.0h0.6M109.6 274.1h0.6M114.6 286.0h0.6M100.2 260.6h0.6M101.8 268.8h0.6M107.3 276.7h0.6M109.3 289.1h0.6M107.6 266.8h0.6M106.4 271.3h0.6M112.0 269.2h0.6M105.8 259.6h0.6M112.1 268.5h0.6M105.4 271.6h0.6M112.9 296.9h0.6M120.3 264.8h0.6M108.5 253.1h0.6M99.8 254.3h0.6M116.2 272.8h0.6M102.6 267.1h0.6M108.1 267.2h0.6M119.4 253.3h0.6M108.4 277.1h0.6M113.7 250.6h0.6M112.1 260.6h0.6M107.7 257.0h0.6M115.4 308.5h0.6M116.8 271.2h0.6M101.0 284.0h0.6M117.8 262.4h0.6M116.4 254.8h0.6M103.7 276.0h0.6M103.1 282.7h0.6M119.2 275.2h0.6M113.9 292.0h0.6M114.0 288.9h0.6M119.3 263.1h0.6M123.6 287.6h0.6M112.0 283.8h0.6M113.0 277.3h0.6M105.5 270.4h0.6M109.3 286.7h0.6M113.9 279.3h0.6M110.6 288.7h0.6M116.7 270.4h0.6M114.9 292.2h0.6M115.8 258.8h0.6M109.9 262.3h0.6M113.9 286.2h0.6M109.9 280.5h0.6M110.1 295.9h0.6M112.0 277.4h0.6M114.5 286.5h0.6M115.2 274.6h0.6M111.6 280.5h0.6M114.6 270.9h0.6M108.0 272.4h0.6M113.9 270.1h0.6M105.1 271.3h0.6M108.5 281.6h0.6M108.4 270.5h0.6M122.0 279.9h0.6M106.0 288.1h0.6M109.2 266.1h0.6M115.0 259.6h0.6M110.9 281.2h0.6M115.6 269.3h0.6M108.5 274.1h0.6M118.2 255.4h0.6M116.0 278.3h0.6M119.1 262.8h0.6M117.9 265.6h0.6M113.0 270.8h0.6M113.6 284.5h0.6M107.7 262.3h0.6M115.4 271.2h0.6M117.3 290.6h0.6M110.0 273.2h0.6M107.2 253.0h0.6M111.3 283.0h0.6M117.4 274.9h0.6M121.9 269.4h0.6M111.2 269.2h0.6M108.8 272.1h0.6M107.4 270.5h0.6M113.0 276.3h0.6M105.4 280.7h0.6M106.7 280.1h0.6M111.8 254.2h0.6M105.5 285.5h0.6M107.7 268.0h0.6M108.9 276.4h0.6M114.7 271.9h0.6M121.0 268.9h0.6M108.7 273.2h0.6M112.3 291.2h0.6M124.8 271.5h0.6M110.4 282.1h0.6M110.7 284.6h0.6M105.3 284.5h0.6M98.9 281.0h0.6M115.2 302.5h0.6M106.2 282.8h0.6M115.1 264.8h0.6M112.9 265.9h0.6M104.7 258.6h0.6M110.1 263.6h0.6M99.5 278.3h0.6M101.5 282.7h0.6M112.8 266.0h0.6M102.2 265.1h0.6M103.6 270.9h0.6M109.2 302.4h0.6M99.3 268.5h0.6M114.5 286.4h0.6M119.1 264.2h0.6M110.0 284.5h0.6M115.4 259.4h0.6M106.5 251.0h0.6M107.0 259.7h0.6M112.9 266.5h0.6M114.8 273.7h0.6M109.3 294.6h0.6M118.1 260.2h0.6M119.3 283.5h0.6M119.0 280.0h0.6M100.8 270.8h0.6M107.2 289.2h0.6M111.5 277.4h0.6M115.6 264.8h0.6M117.7 277.4h0.6M105.7 268.5h0.6M109.8 281.7h0.6M119.6 271.5h0.6M110.0 295.1h0.6M129.9 295.1h0.6M112.4 270.9h0.6M115.3 278.3h0.6M106.6 290.2h0.6M126.1 265.5h0.6M106.6 269.2h0.6M103.9 284.1h0.6M102.8 282.4h0.6M113.6 283.3h0.6M102.6 276.6h0.6M112.9 284.9h0.6M113.5 268.4h0.6M118.0 290.5h0.6M119.2 266.5h0.6M114.4 264.6h0.6M110.3 283.4h0.6M102.8 306.3h0.6M118.5 266.3h0.6M107.9 274.1h0.6M110.4 261.3h0.6M110.5 257.5h0.6M107.6 295.2h0.6M110.9 270.6h0.6M120.6 278.5h0.6M115.0 268.5h0.6M117.8 271.2h0.6M116.5 282.2h0.6M121.5 286.2h0.6M111.2 262.9h0.6M109.5 267.1h0.6M120.3 269.9h0.6M116.1 264.5h0.6M115.5 259.9h0.6M112.7 273.1h0.6M113.1 279.8h0.6M107.3 284.1h0.6M108.3 276.3h0.6M119.7 264.5h0.6M111.7 293.2h0.6M118.8 267.2h0.6M107.6 281.2h0.6M107.4 275.8h0.6M103.1 282.2h0.6M101.7 276.5h0.6M115.4 267.3h0.6M101.9 260.4h0.6M99.9 295.4h0.6M99.8 260.2h0.6M113.2 275.5h0.6M117.4 290.0h0.6M113.9 274.2h0.6M107.9 272.8h0.6M116.9 281.9h0.6M115.0 255.7h0.6M106.7 267.1h0.6M108.0 262.8h0.6M115.3 287.1h0.6M122.1 268.9h0.6M110.7 276.0h0.6M111.2 265.3h0.6M116.0 251.7h0.6M108.4 253.1h0.6M115.0 259.0h0.6M104.3 274.8h0.6M105.0 277.8h0.6M108.9 297.5h0.6M104.0 265.6h0.6M114.7 276.3h0.6M114.0 271.6h0.6M117.0 278.9h0.6M119.2 259.4h0.6M112.8 272.4h0.6M113.7 264.1h0.6M116.1 259.6h0.6M116.6 281.3h0.6M100.5 279.6h0.6M99.6 281.5h0.6M101.7 274.2h0.6M109.7 256.3h0.6M100.1 280.7h0.6M108.4 287.5h0.6M111.0 306.7h0.6M112.4 295.3h0.6M113.4 276.0h0.6M114.6 266.3h0.6M107.4 294.1h0.6M110.2 261.8h0.6M114.4 265.5h0.6M111.8 288.2h0.6M119.2 296.2h0.6M118.5 282.8h0.6M114.7 278.7h0.6M111.2 301.5h0.6M111.0 294.6h0.6M110.8 289.4h0.6M107.8 293.6h0.6M120.6 268.2h0.6M111.1 286.2h0.6M113.4 276.7h0.6M117.5 260.5h0.6M121.4 280.9h0.6M111.2 302.0h0.6M111.7 258.5h0.6M120.0 280.5h0.6M111.8 288.1h0.6M109.5 274.7h0.6M117.9 281.2h0.6M117.7 271.9h0.6M122.1 259.8h0.6M103.7 282.1h0.6M110.1 278.6h0.6M112.2 274.5h0.6M105.6 279.9h0.6M119.9 266.7h0.6M123.4 294.5h0.6M107.0 285.7h0.6M105.5 275.0h0.6M105.5 270.3h0.6M100.9 274.6h0.6M105.8 266.1h0.6M100.2 276.9h0.6M123.5 272.2h0.6M111.1 263.3h0.6M109.2 266.6h0.6M102.7 266.1h0.6M108.9 280.0h0.6M110.0 279.6h0.6M119.8 287.0h0.6M109.5 255.9h0.6M110.8 277.2h0.6M117.9 277.9h0.6M128.7 272.5h0.6M115.9 265.7h0.6M105.9 272.8h0.6M113.1 284.1h0.6M120.9 291.7h0.6M117.0 274.7h0.6M115.2 290.9h0.6M106.0 283.8h0.6M114.9 274.4h0.6M122.6 268.0h0.6M105.9 275.5h0.6M108.0 291.4h0.6M101.8 260.9h0.6M113.7 284.5h0.6M104.7 290.9h0.6M100.3 287.7h0.6M106.4 270.4h0.6M122.5 275.1h0.6M107.9 278.6h0.6M123.0 276.6h0.6M107.1 278.1h0.6M104.3 267.8h0.6M108.3 283.1h0.6M108.7 281.2h0.6M118.6 293.8h0.6M101.5 275.0h0.6M104.7 283.0h0.6M113.1 275.5h0.6M108.4 264.5h0.6M101.5 286.7h0.6M110.4 276.0h0.6M113.5 284.7h0.6M122.9 273.6h0.6M115.5 256.8h0.6M109.3 267.5h0.6M107.9 288.9h0.6M112.3 276.3h0.6M112.1 273.0h0.6M110.3 268.2h0.6M108.4 270.7h0.6M110.5 254.1h0.6M112.0 275.2h0.6M114.1 262.8h0.6M106.0 284.7h0.6M107.3 281.0h0.6M107.6 261.8h0.6M102.9 268.6h0.6M108.8 261.6h0.6M120.0 275.8h0.6M106.3 292.6h0.6M116.5 266.9h0.6M105.5 273.4h0.6M115.9 259.6h0.6M118.4 271.2h0.6M116.6 274.0h0.6M114.5 282.9h0.6M119.3 267.5h0.6M122.9 261.1h0.6M113.5 283.3h0.6M111.8 285.7h0.6M102.0 275.1h0.6M117.6 275.8h0.6M105.1 277.5h0.6M112.8 264.4h0.6M119.5 269.6h0.6M105.6 276.9h0.6M107.8 273.5h0.6M113.1 271.0h0.6M115.2 279.1h0.6M118.9 264.4h0.6M112.1 278.7h0.6M113.4 251.9h0.6M105.4 279.5h0.6M115.1 276.1h0.6M112.8 289.7h0.6M109.6 267.1h0.6M120.6 282.7h0.6M110.7 267.7h0.6M121.2 272.7h0.6M106.9 290.2h0.6M103.0 274.1h0.6M115.4 272.6h0.6M108.7 280.8h0.6M104.5 273.4h0.6M116.0 263.4h0.6M119.9 273.4h0.6M111.3 270.4h0.6M115.1 270.4h0.6M113.1 290.1h0.6M119.1 258.6h0.6M119.7 270.2h0.6M113.5 277.0h0.6M113.4 269.0h0.6M115.2 287.3h0.6M108.3 275.6h0.6M116.5 288.0h0.6M113.7 278.8h0.6M114.6 272.0h0.6M113.7 272.7h0.6M109.7 249.2h0.6M101.1 279.9h0.6M116.1 280.8h0.6M112.3 272.3h0.6M115.0 271.2h0.6M111.6 292.7h0.6M103.5 268.9h0.6M110.2 254.0h0.6M104.6 287.7h0.6M114.7 274.1h0.6M119.3 264.5h0.6M122.9 274.9h0.6M108.1 287.9h0.6M114.7 277.9h0.6M110.9 255.1h0.6M99.3 275.5h0.6M117.3 266.6h0.6M112.1 257.8h0.6M102.7 274.8h0.6M115.7 283.9h0.6M118.6 266.5h0.6M110.6 284.3h0.6M105.5 272.0h0.6M111.5 275.2h0.6M116.7 280.2h0.6M108.9 249.1h0.6M116.2 286.7h0.6M114.5 279.4h0.6M114.1 289.1h0.6M108.5 274.6h0.6M105.6 272.9h0.6M106.6 266.0h0.6M99.7 274.2h0.6M119.0 274.8h0.6M107.4 278.7h0.6M109.9 274.3h0.6M119.8 277.1h0.6M113.6 272.2h0.6M110.4 264.9h0.6M110.7 266.3h0.6M118.1 272.5h0.6M115.7 289.8h0.6M117.4 267.4h0.6M121.2 253.7h0.6M106.0 274.2h0.6M107.1 251.2h0.6M102.5 277.9h0.6M101.2 282.2h0.6M118.1 290.3h0.6M112.8 274.5h0.6M109.0 306.2h0.6M118.4 282.2h0.6M113.3 287.4h0.6M100.0 284.8h0.6M117.8 266.4h0.6M113.9 266.7h0.6M109.0 293.3h0.6M113.3 279.5h0.6M102.0 285.3h0.6M107.5 280.4h0.6M105.3 279.2h0.6M114.6 258.5h0.6M113.2 265.0h0.6M118.7 279.2h0.6M111.6 309.6h0.6" stroke="#000" stroke-width="0.55" fill="none" opacity="0.55"/>
<path d="M125.4 293.8h0.6M125.7 297.7h0.6M128.7 290.1h0.6M132.6 293.1h0.6M117.6 291.7h0.6M118.1 307.4h0.6M121.2 289.7h0.6M119.1 297.5h0.6M126.2 294.2h0.6M119.2 296.8h0.6M112.4 301.7h0.6M117.1 307.0h0.6M127.9 300.9h0.6M116.9 294.1h0.6M117.6 296.6h0.6M117.9 292.9h0.6M120.7 295.9h0.6M117.7 301.5h0.6M126.8 292.8h0.6M133.9 298.3h0.6M128.0 307.2h0.6M111.0 299.1h0.6M126.0 303.2h0.6M125.2 302.1h0.6M110.4 290.4h0.6M123.8 284.0h0.6M116.6 295.0h0.6M122.5 301.5h0.6M121.7 291.2h0.6M113.9 298.5h0.6M123.9 298.3h0.6M121.0 296.8h0.6M111.2 295.9h0.6M125.0 289.4h0.6M122.9 300.2h0.6M135.1 295.7h0.6M118.5 288.9h0.6M113.1 286.5h0.6M108.6 300.3h0.6M120.1 297.9h0.6M109.9 284.1h0.6M108.7 305.7h0.6M127.4 288.1h0.6M120.8 297.1h0.6M113.8 292.3h0.6M126.3 300.4h0.6M125.9 298.1h0.6M120.9 299.1h0.6M119.2 306.2h0.6M121.6 299.4h0.6M119.6 292.2h0.6M119.9 294.2h0.6M115.1 301.0h0.6M133.1 297.9h0.6M119.6 292.0h0.6M110.8 299.8h0.6M123.9 291.5h0.6M120.8 291.2h0.6M129.4 296.9h0.6M123.1 306.4h0.6M106.0 298.7h0.6M122.0 294.6h0.6M120.4 303.7h0.6M116.1 292.5h0.6M131.4 302.4h0.6M123.5 301.1h0.6M121.0 294.6h0.6M119.5 298.2h0.6M117.4 286.9h0.6M119.4 298.1h0.6M119.6 300.4h0.6M122.3 302.1h0.6M121.3 295.4h0.6M124.1 301.6h0.6M117.6 291.4h0.6M129.0 293.3h0.6M122.9 293.7h0.6M121.9 304.6h0.6M131.2 288.7h0.6M111.2 276.7h0.6M124.2 305.6h0.6M122.1 294.7h0.6M125.7 290.9h0.6M124.7 304.4h0.6M128.4 300.6h0.6M117.2 294.5h0.6M114.6 307.4h0.6M128.4 296.1h0.6M120.0 297.8h0.6M116.2 299.5h0.6M123.6 298.9h0.6M120.8 281.6h0.6M119.2 288.1h0.6M109.7 309.6h0.6M117.2 295.2h0.6M118.4 291.3h0.6M130.7 285.5h0.6M123.4 292.9h0.6M128.4 301.3h0.6M120.8 287.5h0.6M125.3 302.0h0.6M124.5 294.6h0.6M124.3 291.7h0.6M121.9 298.4h0.6M118.8 290.4h0.6M118.9 291.1h0.6M112.6 302.4h0.6M119.3 293.2h0.6M116.9 298.8h0.6M118.2 292.1h0.6M122.0 297.1h0.6M114.5 289.9h0.6M128.6 294.6h0.6M127.9 299.7h0.6M119.8 294.8h0.6M130.6 292.4h0.6M117.7 291.3h0.6M119.2 290.7h0.6M121.0 288.8h0.6M123.5 298.2h0.6M121.6 292.6h0.6M128.4 308.0h0.6M119.4 291.6h0.6M124.3 294.9h0.6M121.1 300.0h0.6M111.5 300.5h0.6M113.5 288.8h0.6M117.7 304.8h0.6M116.1 298.9h0.6M114.2 299.9h0.6M122.2 303.0h0.6M121.3 296.2h0.6M108.2 298.0h0.6M125.2 297.3h0.6M121.3 299.5h0.6M125.7 290.9h0.6M119.7 298.7h0.6M121.8 290.5h0.6M107.5 298.0h0.6M124.8 306.0h0.6M122.9 291.0h0.6M123.0 295.5h0.6M115.8 287.6h0.6M108.5 292.0h0.6M117.5 296.5h0.6M120.3 297.5h0.6M132.4 295.7h0.6M128.9 291.5h0.6M115.5 293.0h0.6M108.6 305.9h0.6M121.7 300.4h0.6M131.2 298.8h0.6M130.6 282.1h0.6M128.3 297.9h0.6M116.6 302.5h0.6M120.3 292.0h0.6M107.6 306.7h0.6M103.3 296.5h0.6M130.4 300.0h0.6M116.1 294.5h0.6M116.2 297.6h0.6M119.6 288.4h0.6M110.6 302.9h0.6M111.9 289.3h0.6M135.1 291.1h0.6M111.5 290.3h0.6M125.0 291.6h0.6M119.1 282.2h0.6M116.0 296.2h0.6M120.3 304.7h0.6M123.2 278.7h0.6M109.4 290.6h0.6M118.0 296.2h0.6M124.0 285.8h0.6M105.5 300.6h0.6M113.4 281.8h0.6M113.7 293.2h0.6M112.0 288.8h0.6M126.4 289.2h0.6M121.8 297.1h0.6M117.5 310.0h0.6M113.6 294.2h0.6M121.8 302.5h0.6M124.4 293.7h0.6M117.6 302.9h0.6M129.8 292.7h0.6M127.8 299.3h0.6M121.5 289.3h0.6M111.7 298.5h0.6M101.8 292.9h0.6M122.7 285.9h0.6M130.5 305.9h0.6M113.0 295.2h0.6M119.1 292.7h0.6M116.7 298.8h0.6M130.7 296.4h0.6M120.6 296.7h0.6M115.5 299.7h0.6M116.7 290.0h0.6M124.2 284.8h0.6M116.7 293.6h0.6M119.1 286.7h0.6M113.8 295.1h0.6M123.9 295.3h0.6M118.6 291.0h0.6M120.1 279.3h0.6M124.2 301.8h0.6M119.9 290.2h0.6M128.6 291.9h0.6M128.7 294.4h0.6M115.0 294.7h0.6M115.5 295.0h0.6M123.2 294.4h0.6M117.0 295.9h0.6M122.5 296.0h0.6M123.5 299.5h0.6M121.9 300.3h0.6M120.1 302.8h0.6M122.6 301.0h0.6M118.8 287.6h0.6M117.1 296.2h0.6M122.4 295.8h0.6M129.5 288.3h0.6M108.6 294.9h0.6M115.6 296.2h0.6M111.6 289.7h0.6M119.6 287.3h0.6M115.1 303.6h0.6M119.6 295.8h0.6M127.1 285.9h0.6M120.8 295.7h0.6M121.7 290.1h0.6M117.3 295.4h0.6M124.7 291.7h0.6M123.9 283.5h0.6M122.7 300.6h0.6M114.2 294.3h0.6M120.0 297.7h0.6M127.7 297.1h0.6M118.6 294.8h0.6M121.7 300.6h0.6M121.6 292.8h0.6M117.9 291.4h0.6M114.5 293.1h0.6M116.4 300.5h0.6M112.4 296.4h0.6M112.6 300.6h0.6M121.9 303.4h0.6M123.5 290.0h0.6M120.2 292.3h0.6M116.7 290.0h0.6M118.1 296.5h0.6M121.3 310.5h0.6M119.0 296.5h0.6M119.4 294.5h0.6M118.1 296.3h0.6M118.8 300.3h0.6M122.7 290.9h0.6M120.0 297.8h0.6M118.3 294.7h0.6M119.4 299.6h0.6M121.1 292.9h0.6M119.7 303.2h0.6M114.0 299.8h0.6M124.0 296.3h0.6M119.3 287.3h0.6M116.8 307.6h0.6M122.3 294.4h0.6M120.0 296.3h0.6M114.1 296.6h0.6M123.2 287.5h0.6M118.5 280.3h0.6M109.5 300.8h0.6M127.7 306.7h0.6M112.0 295.5h0.6M117.9 302.1h0.6M122.0 296.5h0.6M123.8 293.4h0.6M126.1 294.1h0.6M126.9 297.1h0.6M121.5 289.5h0.6M110.5 287.1h0.6M123.1 283.7h0.6M128.5 294.2h0.6M111.7 298.0h0.6M112.4 296.3h0.6M118.4 302.9h0.6M125.6 301.4h0.6M117.2 303.2h0.6M119.6 296.7h0.6M122.8 297.6h0.6M111.8 299.7h0.6M110.2 298.7h0.6M119.6 296.5h0.6M113.3 301.7h0.6M119.1 300.9h0.6M115.5 291.9h0.6M120.5 301.9h0.6M111.9 292.7h0.6M116.9 294.5h0.6M117.2 302.2h0.6M124.4 296.2h0.6M125.2 301.9h0.6M116.2 291.9h0.6M124.3 308.1h0.6M105.4 292.5h0.6M124.9 291.4h0.6M125.4 297.3h0.6M112.3 293.4h0.6M122.3 290.9h0.6M123.7 297.8h0.6M118.1 298.3h0.6M117.8 297.3h0.6M113.9 304.1h0.6M118.4 302.7h0.6M133.3 305.0h0.6M119.9 296.9h0.6M119.8 297.8h0.6M114.9 285.7h0.6M122.0 296.3h0.6M129.5 306.4h0.6M111.6 290.7h0.6M124.8 302.8h0.6M120.8 296.4h0.6M108.6 309.1h0.6M115.7 299.3h0.6M122.2 290.9h0.6M125.3 304.4h0.6M119.7 296.9h0.6M124.1 301.7h0.6M125.4 290.9h0.6M114.2 292.9h0.6M103.3 288.5h0.6M118.8 292.2h0.6M114.8 301.1h0.6M122.1 300.7h0.6M119.0 293.6h0.6M114.7 297.4h0.6M108.8 291.0h0.6M123.7 300.9h0.6M119.6 289.4h0.6M123.6 291.8h0.6M119.3 290.5h0.6M131.3 304.6h0.6M114.8 289.3h0.6M119.7 299.6h0.6M127.8 295.7h0.6M112.3 297.7h0.6M121.7 286.9h0.6M118.4 294.3h0.6M113.9 297.3h0.6M126.6 301.8h0.6M114.5 292.7h0.6M124.3 294.1h0.6M117.8 308.6h0.6M104.1 292.3h0.6M114.8 295.7h0.6M130.6 295.2h0.6M118.2 296.9h0.6M118.1 298.2h0.6M135.8 292.1h0.6M118.7 295.6h0.6M107.0 299.5h0.6M119.6 284.8h0.6M118.3 296.9h0.6M114.5 302.2h0.6M116.3 287.4h0.6M125.0 295.2h0.6M120.9 286.8h0.6M111.4 290.2h0.6M119.0 295.2h0.6M128.6 304.8h0.6M120.8 295.5h0.6M131.8 296.3h0.6M126.3 293.2h0.6M119.4 294.4h0.6M115.7 298.1h0.6M114.9 295.4h0.6M122.6 308.1h0.6M108.2 296.4h0.6M124.1 294.0h0.6M125.4 299.0h0.6M123.0 293.6h0.6M118.7 294.7h0.6M113.9 297.0h0.6M113.4 290.7h0.6M111.4 302.3h0.6M116.5 290.9h0.6M124.9 293.6h0.6M122.1 295.0h0.6M122.2 297.1h0.6M106.6 304.4h0.6M126.2 287.7h0.6M125.5 294.7h0.6M120.7 303.3h0.6M126.2 301.6h0.6M132.4 302.2h0.6M116.3 288.7h0.6M125.2 286.2h0.6M117.8 293.9h0.6M115.6 303.7h0.6M122.0 294.7h0.6M125.5 293.7h0.6M127.4 307.7h0.6M119.2 295.1h0.6M127.1 284.8h0.6M112.2 290.1h0.6M110.0 296.0h0.6M121.8 295.8h0.6M119.8 301.2h0.6M126.6 303.1h0.6M119.1 296.1h0.6M129.1 298.3h0.6M128.1 293.3h0.6M119.7 292.3h0.6M119.9 298.4h0.6M117.2 307.2h0.6M110.8 300.9h0.6M113.3 297.7h0.6M115.2 296.4h0.6M120.4 291.4h0.6M112.4 291.9h0.6M120.1 300.6h0.6M129.9 286.2h0.6M122.8 293.3h0.6M120.0 297.8h0.6M124.9 298.3h0.6M119.8 304.9h0.6M121.7 295.9h0.6M127.0 289.5h0.6M114.2 304.3h0.6M118.7 285.8h0.6M124.9 302.8h0.6M115.2 288.5h0.6M119.6 298.0h0.6M116.3 290.7h0.6M123.2 299.0h0.6M110.1 289.6h0.6M117.9 292.3h0.6M121.2 298.8h0.6M131.3 298.0h0.6M125.6 287.1h0.6M115.6 301.9h0.6M110.9 303.5h0.6M123.3 296.7h0.6M119.2 289.3h0.6M113.2 292.9h0.6M117.2 302.9h0.6M113.6 292.3h0.6M109.2 296.8h0.6M119.9 302.1h0.6M131.7 298.9h0.6M114.6 297.2h0.6M121.6 295.5h0.6M113.2 297.8h0.6M112.4 295.4h0.6M118.0 281.2h0.6M123.6 308.0h0.6M117.6 292.4h0.6M125.6 288.4h0.6M120.0 297.2h0.6M116.4 295.5h0.6M114.7 292.6h0.6M123.9 290.9h0.6M116.3 291.9h0.6M123.0 293.7h0.6M114.6 297.7h0.6M107.5 285.1h0.6M121.6 306.4h0.6M116.8 297.8h0.6M111.3 296.6h0.6M121.1 299.1h0.6M115.3 306.8h0.6M114.0 304.5h0.6M113.3 300.4h0.6M128.1 308.2h0.6M119.2 286.5h0.6M125.1 291.9h0.6M113.3 292.6h0.6M114.3 300.2h0.6M121.1 299.8h0.6M125.2 293.7h0.6M124.2 302.8h0.6M131.3 296.9h0.6M118.3 290.6h0.6M117.5 296.0h0.6M121.5 288.3h0.6M117.4 294.8h0.6M116.3 292.5h0.6M122.1 290.4h0.6M122.8 289.8h0.6M121.3 289.6h0.6M127.2 300.1h0.6M128.2 291.2h0.6M111.8 288.4h0.6M118.6 302.0h0.6M124.3 299.8h0.6M112.4 302.1h0.6M124.4 292.8h0.6M104.2 291.4h0.6M119.1 304.9h0.6M121.3 295.6h0.6M129.7 304.8h0.6M122.3 299.5h0.6M127.7 291.8h0.6M122.4 293.5h0.6M114.0 298.8h0.6M126.8 306.6h0.6M124.7 302.5h0.6M118.9 287.4h0.6M116.0 298.3h0.6M116.3 306.9h0.6M127.5 294.9h0.6M130.7 299.7h0.6M130.2 295.0h0.6M124.9 294.7h0.6M120.1 302.6h0.6M131.9 296.7h0.6M121.9 291.0h0.6M118.7 298.9h0.6M112.3 293.5h0.6M113.1 297.2h0.6M125.6 298.0h0.6M118.3 290.3h0.6M110.0 296.1h0.6M129.5 294.5h0.6M119.6 293.5h0.6M113.0 302.1h0.6M124.4 287.6h0.6M112.3 303.7h0.6M114.6 295.8h0.6M113.7 297.9h0.6M115.2 292.6h0.6M113.1 306.9h0.6M136.2 297.3h0.6M124.2 299.3h0.6M120.1 295.5h0.6M117.8 300.6h0.6M112.4 291.3h0.6M124.4 288.0h0.6M130.1 294.5h0.6M121.2 303.7h0.6M119.8 296.8h0.6M116.4 299.0h0.6M124.4 291.0h0.6M124.2 301.6h0.6M123.0 291.7h0.6M125.9 303.9h0.6M117.0 285.5h0.6M115.7 296.2h0.6M128.2 302.9h0.6M124.3 292.4h0.6M124.8 296.0h0.6M113.7 285.8h0.6M126.3 286.7h0.6M127.9 309.0h0.6M120.3 291.2h0.6M116.1 292.1h0.6M122.4 301.8h0.6M115.3 294.1h0.6M116.0 302.7h0.6M126.2 291.2h0.6M118.1 297.0h0.6M108.9 292.9h0.6M120.9 288.0h0.6M121.4 296.3h0.6M116.6 302.0h0.6M114.2 298.5h0.6M118.5 302.4h0.6M115.2 299.5h0.6M123.9 302.6h0.6M130.1 287.3h0.6M119.6 289.8h0.6M126.1 303.9h0.6M118.2 297.4h0.6M128.2 297.2h0.6M119.2 286.6h0.6M115.6 301.8h0.6M110.9 297.7h0.6M121.4 296.0h0.6M125.0 291.7h0.6M128.7 293.5h0.6M126.4 292.7h0.6M121.7 294.1h0.6M130.6 290.0h0.6M116.1 304.5h0.6M125.1 295.8h0.6M118.4 288.6h0.6M118.3 298.1h0.6M127.6 301.4h0.6M129.1 298.3h0.6M115.6 294.0h0.6M129.7 296.7h0.6M128.9 286.9h0.6M117.0 291.4h0.6M121.7 291.5h0.6M111.7 295.6h0.6M105.7 292.6h0.6M122.7 289.4h0.6M119.7 290.9h0.6M117.9 297.4h0.6M123.0 298.6h0.6M115.3 304.9h0.6M122.1 292.3h0.6M128.5 293.8h0.6M132.4 301.0h0.6M119.4 293.3h0.6M114.8 291.5h0.6M118.3 304.0h0.6M121.3 295.6h0.6M122.8 294.3h0.6M112.2 287.4h0.6M129.1 294.5h0.6M130.3 307.3h0.6M121.9 300.7h0.6M117.9 295.4h0.6M120.7 296.1h0.6M129.7 295.6h0.6M125.9 296.9h0.6M124.2 307.0h0.6M110.3 303.0h0.6M116.2 297.4h0.6M118.0 293.4h0.6M111.5 280.4h0.6M133.9 301.3h0.6M118.7 285.2h0.6M124.5 305.5h0.6M123.0 286.0h0.6M116.9 297.8h0.6M119.7 302.8h0.6M114.0 292.4h0.6M104.2 302.9h0.6M124.3 293.6h0.6M108.6 301.3h0.6M111.0 288.5h0.6M107.7 287.6h0.6M114.0 289.6h0.6M127.2 300.3h0.6M120.6 292.7h0.6M119.8 288.1h0.6M122.6 290.4h0.6M116.7 298.1h0.6M114.3 287.7h0.6M126.7 285.7h0.6M111.7 289.0h0.6M115.3 295.2h0.6M99.0 293.0h0.6M129.2 303.2h0.6M125.8 295.5h0.6M121.4 292.7h0.6M109.1 298.2h0.6M127.0 297.8h0.6M119.8 301.2h0.6M122.1 302.8h0.6M117.2 285.1h0.6M123.2 301.4h0.6M114.9 297.4h0.6M124.7 279.5h0.6M136.1 300.7h0.6M118.7 289.0h0.6M117.8 300.2h0.6M115.7 294.0h0.6M124.3 290.3h0.6M119.5 294.8h0.6M123.2 301.2h0.6M118.8 304.5h0.6M116.8 293.6h0.6M120.6 294.4h0.6M125.1 278.6h0.6M108.3 282.7h0.6M129.3 301.0h0.6M115.4 298.4h0.6M108.3 294.1h0.6M129.8 300.0h0.6M134.1 293.0h0.6M127.6 296.7h0.6M122.1 297.6h0.6M125.1 304.1h0.6M120.5 298.4h0.6M119.4 297.8h0.6M114.7 302.2h0.6M124.7 298.1h0.6M120.0 292.0h0.6M113.8 289.3h0.6M114.9 301.7h0.6M122.9 287.4h0.6M113.7 304.3h0.6M131.2 301.3h0.6M134.1 291.9h0.6M123.1 292.3h0.6M134.9 298.8h0.6M123.0 298.5h0.6M115.7 295.9h0.6M105.2 293.6h0.6M113.7 301.1h0.6M129.2 298.0h0.6M113.6 289.7h0.6M125.3 294.7h0.6M118.7 289.8h0.6M122.0 297.6h0.6M125.7 290.7h0.6M120.2 287.8h0.6M122.0 296.5h0.6M118.0 301.9h0.6M112.1 305.9h0.6M123.2 300.0h0.6M122.3 292.2h0.6M116.8 302.3h0.6M120.4 298.4h0.6M118.2 301.6h0.6M124.8 288.6h0.6M133.5 302.9h0.6M126.0 298.5h0.6M120.2 301.7h0.6M137.6 296.0h0.6M113.3 296.3h0.6M121.0 302.4h0.6M112.5 293.8h0.6M118.5 302.4h0.6M127.9 297.7h0.6M127.6 297.1h0.6M121.2 282.6h0.6M114.6 289.6h0.6M123.4 296.9h0.6M113.3 296.6h0.6M119.6 298.7h0.6M116.7 292.0h0.6M128.4 294.7h0.6M127.0 290.9h0.6M118.8 294.3h0.6M113.9 300.6h0.6M111.4 297.7h0.6M106.2 300.4h0.6M120.5 303.1h0.6M133.5 292.1h0.6M120.3 288.4h0.6M117.2 296.6h0.6M120.5 301.0h0.6M123.5 302.1h0.6M115.7 297.1h0.6M113.4 295.1h0.6M102.3 295.5h0.6M120.5 293.4h0.6M117.5 285.9h0.6M115.9 292.5h0.6M121.6 298.9h0.6M117.2 295.3h0.6M122.4 290.7h0.6M126.7 308.4h0.6M122.6 293.2h0.6M121.5 303.1h0.6M128.4 288.0h0.6M122.2 291.7h0.6M117.2 297.7h0.6M123.6 294.4h0.6M114.6 294.9h0.6M113.4 306.6h0.6M110.0 299.7h0.6M120.8 296.1h0.6M113.3 293.1h0.6M117.9 292.8h0.6M118.5 296.7h0.6M117.2 298.7h0.6M124.8 292.8h0.6M124.8 296.4h0.6M116.4 298.8h0.6M127.2 294.1h0.6M108.2 300.7h0.6M126.5 289.4h0.6M119.1 298.8h0.6M104.6 300.7h0.6M124.7 300.8h0.6M129.7 289.7h0.6M126.1 309.6h0.6M105.3 293.7h0.6M124.5 291.6h0.6M108.1 297.8h0.6M121.0 291.6h0.6M121.5 301.4h0.6M126.4 298.4h0.6M111.8 294.0h0.6M105.1 289.5h0.6M120.9 299.1h0.6M119.7 295.8h0.6M107.1 288.1h0.6M112.3 292.3h0.6M115.9 308.9h0.6M126.3 289.6h0.6M115.4 292.5h0.6M115.9 292.6h0.6M106.4 302.8h0.6M124.1 299.6h0.6M120.4 298.5h0.6M117.4 283.9h0.6M120.5 295.9h0.6M111.1 282.2h0.6M127.1 289.6h0.6M118.3 291.5h0.6M130.6 286.7h0.6M126.5 280.5h0.6M125.7 292.7h0.6M105.0 296.0h0.6M119.2 286.0h0.6M122.0 295.5h0.6M122.8 287.2h0.6M114.7 289.8h0.6M120.4 292.5h0.6M113.1 304.0h0.6M116.2 302.3h0.6M125.1 291.3h0.6M107.6 296.9h0.6M124.1 302.7h0.6M122.2 298.3h0.6M115.5 291.3h0.6M140.7 302.6h0.6M111.0 297.5h0.6M122.6 284.9h0.6M117.8 299.1h0.6M130.5 305.5h0.6M117.4 293.8h0.6M116.6 297.1h0.6M125.3 289.4h0.6M118.5 292.2h0.6M114.6 292.6h0.6M131.7 306.3h0.6M129.3 285.7h0.6M121.7 310.3h0.6M122.4 291.4h0.6M123.6 294.2h0.6M117.1 297.3h0.6M122.9 294.7h0.6M119.6 289.6h0.6M119.4 300.1h0.6M120.3 294.7h0.6M110.3 302.6h0.6M112.1 299.9h0.6M117.4 300.6h0.6M126.6 293.9h0.6M99.8 283.4h0.6M113.3 290.2h0.6M121.7 307.8h0.6M124.1 294.9h0.6M128.6 294.6h0.6M125.4 298.0h0.6M107.1 301.7h0.6M131.3 293.7h0.6M124.8 298.9h0.6M118.0 293.5h0.6M126.3 291.9h0.6M116.3 300.9h0.6M125.9 305.3h0.6M116.0 287.7h0.6M127.0 286.5h0.6M117.1 294.5h0.6M131.1 296.0h0.6M111.9 295.7h0.6M128.6 284.9h0.6M111.2 302.1h0.6M120.6 289.7h0.6M118.5 296.3h0.6M112.3 292.4h0.6M129.4 297.8h0.6M127.2 295.6h0.6M116.2 297.7h0.6M113.8 298.1h0.6M117.8 294.1h0.6M118.1 290.1h0.6M128.8 286.7h0.6M121.3 288.2h0.6M125.8 294.5h0.6M121.1 298.7h0.6M122.2 297.0h0.6M122.2 298.0h0.6M116.8 294.1h0.6M118.3 291.5h0.6M116.3 303.8h0.6M110.5 306.0h0.6M116.4 299.6h0.6M119.9 294.8h0.6M123.5 306.1h0.6M119.1 295.7h0.6M116.3 308.1h0.6M127.5 302.6h0.6M120.1 284.5h0.6M123.0 285.1h0.6M115.8 301.7h0.6M116.1 291.8h0.6M106.0 300.2h0.6M122.6 292.9h0.6M122.2 286.2h0.6M113.8 297.0h0.6M125.6 295.7h0.6M111.8 292.9h0.6M127.1 292.3h0.6M121.5 298.5h0.6" stroke="#000" stroke-width="0.55" fill="none" opacity="0.55"/>
<path d="M102.4 299.5h0.6M100.9 298.1h0.6M103.1 301.0h0.6M104.6 298.3h0.6M103.6 299.1h0.6M102.1 297.6h0.6M103.0 299.5h0.6M102.2 306.0h0.6M103.0 301.0h0.6M102.7 306.1h0.6M100.4 298.6h0.6M103.3 302.3h0.6M103.0 297.0h0.6M104.9 301.0h0.6M102.8 298.8h0.6M102.8 299.8h0.6M101.0 299.7h0.6M102.3 300.6h0.6M103.5 296.9h0.6M104.7 301.2h0.6M102.0 296.9h0.6M102.2 300.2h0.6M104.6 297.3h0.6M102.1 300.6h0.6M103.0 299.3h0.6M102.9 298.6h0.6M105.1 301.7h0.6M102.7 302.4h0.6M105.3 300.5h0.6M103.4 298.2h0.6M103.2 299.9h0.6M104.6 297.1h0.6M101.1 298.2h0.6M103.5 294.6h0.6M102.8 297.5h0.6M101.7 299.7h0.6M104.4 296.1h0.6M103.3 299.0h0.6M103.8 299.4h0.6M102.3 301.5h0.6M103.6 296.9h0.6M100.7 297.7h0.6M103.3 301.2h0.6M102.4 298.5h0.6M100.9 298.3h0.6M103.2 298.0h0.6M102.9 297.0h0.6M102.0 300.0h0.6M101.2 299.4h0.6M104.4 298.0h0.6M102.4 297.4h0.6M101.5 298.0h0.6M101.5 298.8h0.6M102.4 296.6h0.6M103.0 301.7h0.6M103.9 298.6h0.6M103.0 296.8h0.6M102.7 300.9h0.6M103.9 302.5h0.6M101.2 303.0h0.6M103.4 303.0h0.6M103.0 302.2h0.6M103.0 296.8h0.6M103.4 298.1h0.6M102.9 300.5h0.6M103.9 300.8h0.6M104.1 295.6h0.6M104.4 297.3h0.6M103.1 298.3h0.6M101.6 301.4h0.6M101.8 297.9h0.6M104.7 293.9h0.6M101.0 301.5h0.6M102.5 301.1h0.6M103.0 298.1h0.6M103.8 297.6h0.6M102.3 299.8h0.6M101.7 295.8h0.6M101.0 301.5h0.6M105.3 302.1h0.6M102.2 298.0h0.6M101.8 299.3h0.6M104.2 299.1h0.6M103.0 291.6h0.6M103.4 296.4h0.6M102.7 300.1h0.6M103.1 301.1h0.6M104.8 293.9h0.6M101.1 303.2h0.6M103.6 297.6h0.6M102.7 299.3h0.6M104.3 298.5h0.6M103.0 296.1h0.6M104.8 300.4h0.6M102.5 296.1h0.6M103.0 301.4h0.6M105.8 303.9h0.6M102.6 298.4h0.6M101.9 300.5h0.6M102.1 300.8h0.6M103.4 300.4h0.6M101.9 302.1h0.6M102.8 296.5h0.6M103.0 299.8h0.6M103.1 301.7h0.6M104.5 304.9h0.6M102.9 302.3h0.6M99.9 303.9h0.6M103.0 302.5h0.6M102.8 300.7h0.6M103.8 298.0h0.6M102.4 292.5h0.6M103.7 299.0h0.6M102.8 302.4h0.6M103.5 300.0h0.6M100.8 299.8h0.6M102.7 301.8h0.6M102.5 296.5h0.6M102.8 303.9h0.6M102.0 302.5h0.6" stroke="#000" stroke-width="0.6" fill="none" opacity="0.65"/>
<line x1="112.5" y1="240.5" x2="112.5" y2="310.8" stroke="#222" stroke-width="0.9"/>
<line x1="97.6" y1="292.4" x2="169.6" y2="292.4" stroke="#222" stroke-width="0.9"/>
<text x="98.9" y="250.3" font-size="7.4" font-weight="normal" text-anchor="start" fill="#000"  stroke="#000" stroke-width="0.07" textLength="20.8" lengthAdjust="spacingAndGlyphs">24.6%</text>
<text x="147.8" y="250.3" font-size="7.4" font-weight="normal" text-anchor="start" fill="#000"  stroke="#000" stroke-width="0.07" textLength="21.2" lengthAdjust="spacingAndGlyphs">30.2%</text>
<text x="147.8" y="304" font-size="7.4" font-weight="normal" text-anchor="start" fill="#000"  stroke="#000" stroke-width="0.07" textLength="21.2" lengthAdjust="spacingAndGlyphs">30.5%</text>
<rect x="177.6" y="240.5" width="71.4" height="70.30000000000001" fill="#fff" stroke="#959595" stroke-width="0.9"/>
<text x="179.0" y="313.9" font-size="3.2" fill="#888" text-anchor="middle">10</text>
<text x="196.7" y="313.9" font-size="3.2" fill="#888" text-anchor="middle">10</text>
<text x="214.4" y="313.9" font-size="3.2" fill="#888" text-anchor="middle">10</text>
<text x="232.1" y="313.9" font-size="3.2" fill="#888" text-anchor="middle">10</text>
<text x="249.8" y="313.9" font-size="3.2" fill="#888" text-anchor="middle">10</text>
<text x="176.4" y="309.0" font-size="3.2" fill="#a2a2a2" text-anchor="end">10</text>
<text x="176.4" y="291.3" font-size="3.2" fill="#a2a2a2" text-anchor="end">10</text>
<text x="176.4" y="273.6" font-size="3.2" fill="#a2a2a2" text-anchor="end">10</text>
<text x="176.4" y="255.9" font-size="3.2" fill="#a2a2a2" text-anchor="end">10</text>
<text x="176.4" y="238.2" font-size="3.2" fill="#a2a2a2" text-anchor="end">10</text>
<ellipse cx="184.8" cy="270" rx="4.8" ry="12.5" transform="rotate(0 184.8 270)" fill="#000" opacity="0.65" filter="url(#b2_0)"/>
<path d="M187.6 292.2h0.6M186.8 259.6h0.6M183.9 261.3h0.6M197.3 275.0h0.6M186.8 260.0h0.6M182.2 269.1h0.6M192.3 264.7h0.6M181.6 278.9h0.6M182.1 259.8h0.6M184.3 277.6h0.6M185.5 266.2h0.6M191.1 283.0h0.6M178.0 258.7h0.6M180.9 267.7h0.6M185.6 269.0h0.6M185.2 274.0h0.6M186.2 281.6h0.6M185.7 265.8h0.6M187.3 266.7h0.6M179.3 266.1h0.6M188.2 272.9h0.6M187.9 265.0h0.6M187.3 283.4h0.6M183.5 265.1h0.6M190.2 270.8h0.6M179.9 265.9h0.6M190.6 273.3h0.6M193.0 275.9h0.6M186.1 279.9h0.6M182.3 280.1h0.6M184.6 267.5h0.6M186.7 265.5h0.6M180.1 261.4h0.6M187.2 272.8h0.6M185.3 276.8h0.6M181.1 266.1h0.6M192.0 260.9h0.6M190.5 267.4h0.6M187.3 272.2h0.6M183.9 271.1h0.6M189.1 263.4h0.6M180.9 278.2h0.6M183.3 268.4h0.6M184.2 266.0h0.6M183.0 257.2h0.6M182.6 272.3h0.6M192.4 264.9h0.6M190.7 265.7h0.6M187.0 267.6h0.6M188.2 271.3h0.6M183.3 255.4h0.6M189.2 255.8h0.6M182.4 286.8h0.6M186.0 270.8h0.6M185.6 272.4h0.6M183.6 273.3h0.6M184.3 266.9h0.6M187.0 276.1h0.6M186.5 279.1h0.6M193.0 286.3h0.6M185.5 259.8h0.6M189.9 271.2h0.6M188.4 266.8h0.6M188.7 259.7h0.6M185.8 257.5h0.6M193.7 267.8h0.6M189.3 283.2h0.6M180.3 273.8h0.6M190.7 268.6h0.6M186.8 268.3h0.6M183.8 283.3h0.6M181.9 270.7h0.6M187.6 270.8h0.6M188.8 251.8h0.6M190.0 259.3h0.6M184.3 267.2h0.6M187.2 268.7h0.6M183.4 276.9h0.6M193.9 264.7h0.6M182.4 264.9h0.6M180.0 259.0h0.6M183.2 277.0h0.6M183.0 262.6h0.6M184.7 262.9h0.6M196.6 284.7h0.6M185.3 254.5h0.6M182.8 261.8h0.6M182.9 264.7h0.6M182.3 258.2h0.6M186.6 262.2h0.6M188.5 281.3h0.6M180.3 268.6h0.6M187.4 278.7h0.6M183.1 272.8h0.6M183.2 253.2h0.6M188.9 269.5h0.6M186.8 268.1h0.6M181.3 265.5h0.6M186.4 258.2h0.6M191.5 291.3h0.6M183.2 275.8h0.6M185.8 268.3h0.6M188.8 271.0h0.6M191.3 273.1h0.6M179.0 268.6h0.6M185.1 264.8h0.6M179.9 288.4h0.6M184.8 269.9h0.6M178.2 275.4h0.6M184.6 280.4h0.6M192.2 264.2h0.6M182.0 281.0h0.6M189.6 273.1h0.6M188.2 267.3h0.6M185.0 270.2h0.6M188.4 261.7h0.6M182.8 273.0h0.6M188.1 270.4h0.6M183.2 274.1h0.6M185.6 261.0h0.6M183.8 266.8h0.6M187.9 258.0h0.6M181.7 266.6h0.6M185.2 292.2h0.6M184.4 280.0h0.6M188.4 282.2h0.6M192.4 275.6h0.6M181.0 266.9h0.6M191.4 290.2h0.6M190.5 292.5h0.6M188.0 262.5h0.6M185.5 273.0h0.6M189.0 278.2h0.6M181.4 281.2h0.6M182.7 272.8h0.6M187.9 276.8h0.6M187.3 265.2h0.6M184.6 278.9h0.6M183.2 259.3h0.6M181.3 270.2h0.6M180.6 266.1h0.6M183.5 279.0h0.6M181.4 259.1h0.6M185.5 277.8h0.6M181.2 274.9h0.6M185.1 274.8h0.6M184.0 272.0h0.6M182.2 269.0h0.6M190.8 271.9h0.6M185.3 273.3h0.6M191.0 263.7h0.6M178.8 259.7h0.6M182.2 270.9h0.6M188.5 263.2h0.6M180.7 278.4h0.6M189.6 262.8h0.6M188.2 268.3h0.6M182.9 268.8h0.6M181.4 254.1h0.6M179.0 262.9h0.6M186.2 273.7h0.6M188.6 262.5h0.6M184.8 256.4h0.6M180.8 279.6h0.6M184.4 287.6h0.6M187.9 265.5h0.6M190.5 279.2h0.6M200.3 289.4h0.6M186.4 260.1h0.6M184.8 256.1h0.6M187.9 279.1h0.6M180.8 267.5h0.6M178.9 279.5h0.6M181.1 259.2h0.6M187.7 258.2h0.6M181.1 269.1h0.6M185.4 259.8h0.6M190.7 275.9h0.6M178.1 276.7h0.6M185.9 267.2h0.6M180.0 274.6h0.6M182.7 282.8h0.6M189.7 278.6h0.6M192.5 287.4h0.6M190.3 280.8h0.6M181.7 283.9h0.6M193.1 274.0h0.6M187.2 268.6h0.6M185.8 267.0h0.6M187.0 268.3h0.6M178.4 264.0h0.6M186.7 271.9h0.6M191.3 279.1h0.6M190.6 269.5h0.6M189.6 263.2h0.6M182.1 278.5h0.6M186.0 262.4h0.6M189.1 283.9h0.6M188.3 282.5h0.6M189.0 278.8h0.6M181.5 252.1h0.6M182.6 259.2h0.6M185.5 263.1h0.6M185.0 261.3h0.6M183.8 284.2h0.6M180.5 253.2h0.6M191.0 277.3h0.6M184.8 266.0h0.6M186.3 266.4h0.6M189.1 267.0h0.6M182.2 275.1h0.6M181.5 275.1h0.6M179.8 264.7h0.6M185.7 263.1h0.6M189.2 269.0h0.6M185.8 251.1h0.6M187.4 270.7h0.6M186.4 263.0h0.6M180.2 256.4h0.6M185.0 270.1h0.6M184.0 289.1h0.6M184.8 271.3h0.6M178.1 272.7h0.6M188.9 261.3h0.6M194.0 264.4h0.6M185.5 266.2h0.6M190.3 259.2h0.6M182.6 293.7h0.6M180.7 267.7h0.6M179.5 268.0h0.6M186.7 284.7h0.6M187.5 278.3h0.6M181.6 270.6h0.6M193.0 273.3h0.6M194.0 258.3h0.6M181.8 270.1h0.6M180.5 276.0h0.6M180.1 273.0h0.6M178.4 261.7h0.6M186.0 275.5h0.6M180.7 255.4h0.6M187.3 260.2h0.6M186.6 282.2h0.6M187.7 255.3h0.6M190.3 280.5h0.6M182.4 265.8h0.6M191.1 272.9h0.6M186.8 280.3h0.6M187.3 296.8h0.6M191.0 271.4h0.6M185.5 267.1h0.6M190.3 258.6h0.6M188.8 264.4h0.6M186.9 272.8h0.6M183.7 269.8h0.6M182.3 282.9h0.6M191.0 269.7h0.6M185.1 272.9h0.6M189.0 272.3h0.6M183.1 267.9h0.6M186.3 268.8h0.6M183.4 282.0h0.6M186.9 279.0h0.6M181.3 278.2h0.6M185.2 267.8h0.6M182.2 264.2h0.6M183.1 271.4h0.6M184.8 289.5h0.6M187.2 272.6h0.6M184.7 262.7h0.6M181.6 273.7h0.6M178.6 285.8h0.6M191.9 256.2h0.6M190.4 280.9h0.6M190.0 276.8h0.6M192.3 262.6h0.6M183.2 276.2h0.6M185.4 256.7h0.6M188.7 280.2h0.6M184.2 274.0h0.6M182.8 262.0h0.6M184.5 258.5h0.6M179.7 272.4h0.6M193.1 258.6h0.6M192.1 279.5h0.6M189.5 283.0h0.6M183.4 281.1h0.6M178.7 262.8h0.6M186.6 277.8h0.6M179.2 252.2h0.6M187.0 273.2h0.6M188.2 269.7h0.6M179.5 281.2h0.6M188.5 272.0h0.6M194.6 272.7h0.6M191.7 269.1h0.6M190.3 254.1h0.6M188.3 267.8h0.6M189.1 274.0h0.6M180.9 276.0h0.6M185.0 279.0h0.6M193.6 268.6h0.6M192.3 269.6h0.6M187.9 272.3h0.6M182.3 271.7h0.6M183.3 275.9h0.6M180.7 261.3h0.6M189.0 275.6h0.6M187.7 275.9h0.6M189.7 275.1h0.6M189.2 263.1h0.6M187.5 263.5h0.6M179.9 268.4h0.6M188.1 270.8h0.6M193.0 277.0h0.6M187.1 271.7h0.6M179.5 271.1h0.6M185.4 287.3h0.6M181.9 269.4h0.6M182.1 272.0h0.6M177.8 273.4h0.6M185.3 272.3h0.6M196.6 269.8h0.6M187.4 270.4h0.6M190.0 292.0h0.6M192.6 273.8h0.6M179.8 274.7h0.6M178.1 262.2h0.6M182.7 260.0h0.6M185.3 267.1h0.6M182.1 274.1h0.6M182.1 282.9h0.6M188.0 266.4h0.6M187.2 264.0h0.6M182.5 280.3h0.6M178.3 274.9h0.6M195.6 252.0h0.6M180.1 264.7h0.6M188.7 262.9h0.6M185.7 276.3h0.6M192.7 269.5h0.6M188.3 275.3h0.6M185.4 267.1h0.6M186.8 277.1h0.6M179.4 266.8h0.6M186.6 273.2h0.6M186.6 286.2h0.6M189.8 258.2h0.6M192.1 263.5h0.6M181.5 280.8h0.6M183.7 254.0h0.6M187.9 274.7h0.6M187.5 256.7h0.6M188.7 264.3h0.6M189.1 258.2h0.6M180.9 251.2h0.6M181.7 280.6h0.6M186.2 264.8h0.6M191.1 272.3h0.6M188.5 273.5h0.6M184.7 271.6h0.6M187.0 281.2h0.6M187.8 278.8h0.6M180.2 252.0h0.6M186.5 271.7h0.6M187.0 260.5h0.6M185.7 259.9h0.6M185.5 269.5h0.6M184.3 273.2h0.6M182.9 270.0h0.6M188.2 284.8h0.6M186.9 278.1h0.6M187.6 286.4h0.6M194.3 264.0h0.6M188.1 273.1h0.6M182.3 253.3h0.6M191.1 272.9h0.6M188.0 274.2h0.6M186.3 274.2h0.6M186.5 269.6h0.6M182.6 264.3h0.6M190.8 263.0h0.6M180.4 276.6h0.6M191.5 257.6h0.6M180.7 260.0h0.6M186.8 275.6h0.6M191.3 269.6h0.6M184.0 264.3h0.6M190.0 264.4h0.6M181.4 267.9h0.6M184.9 274.0h0.6M182.3 287.1h0.6M193.5 259.2h0.6M185.7 260.3h0.6M183.8 258.2h0.6M183.8 272.7h0.6M185.8 257.1h0.6M190.4 268.3h0.6M185.4 284.2h0.6M180.6 274.1h0.6M182.1 271.9h0.6M184.7 271.1h0.6M178.7 267.7h0.6M188.9 269.2h0.6M188.8 276.5h0.6M186.1 266.5h0.6M185.4 261.0h0.6M188.0 273.2h0.6M190.3 291.9h0.6M188.8 275.6h0.6M185.9 278.3h0.6M191.1 267.3h0.6M179.5 256.8h0.6M189.4 274.6h0.6M187.4 253.8h0.6M182.6 254.9h0.6M180.0 264.5h0.6M182.0 285.5h0.6M179.4 264.0h0.6M181.7 270.8h0.6M188.2 262.3h0.6M186.8 259.5h0.6M189.3 260.1h0.6M182.2 265.7h0.6M193.4 277.7h0.6M186.6 260.2h0.6M180.1 263.2h0.6M192.1 282.7h0.6M185.7 263.2h0.6M187.3 275.5h0.6M186.7 263.2h0.6M187.3 268.5h0.6M188.9 272.5h0.6M188.4 273.3h0.6M182.9 281.5h0.6M180.5 276.6h0.6M183.1 266.5h0.6M186.2 265.0h0.6M180.5 261.1h0.6M180.1 270.3h0.6M186.4 269.2h0.6M178.2 271.3h0.6M189.2 259.0h0.6M181.1 278.9h0.6M184.3 280.5h0.6M183.6 256.2h0.6M184.9 269.5h0.6M186.3 261.8h0.6M183.0 289.8h0.6M182.6 285.4h0.6M180.1 272.3h0.6M186.7 278.5h0.6M185.0 263.8h0.6M185.5 255.7h0.6M191.9 278.1h0.6M193.1 274.8h0.6M178.6 260.5h0.6M186.4 262.0h0.6M180.9 259.6h0.6M181.7 251.7h0.6M186.9 263.1h0.6M190.5 286.0h0.6M184.7 280.1h0.6M189.8 272.1h0.6M184.2 282.4h0.6M187.9 268.3h0.6M182.8 270.1h0.6M189.1 276.7h0.6M182.5 268.6h0.6M185.7 266.1h0.6M184.6 260.7h0.6M181.5 272.8h0.6M186.1 267.1h0.6M194.4 268.4h0.6M188.1 272.8h0.6M183.0 276.6h0.6M189.8 270.2h0.6M187.2 297.3h0.6M181.2 268.2h0.6M187.5 270.1h0.6M181.5 265.5h0.6M184.1 267.5h0.6M185.3 285.3h0.6M186.0 266.6h0.6M188.1 276.3h0.6M180.5 264.3h0.6M180.3 273.3h0.6M188.8 268.1h0.6M190.4 264.7h0.6M183.7 269.5h0.6M185.9 286.0h0.6M180.3 275.5h0.6M185.4 281.4h0.6M179.3 259.2h0.6M192.4 282.2h0.6M189.7 269.0h0.6M189.7 270.3h0.6M180.4 268.9h0.6M183.9 260.3h0.6M182.6 263.6h0.6M187.3 279.4h0.6M189.9 280.6h0.6M180.5 275.6h0.6M188.6 274.1h0.6M185.8 262.3h0.6M188.9 256.2h0.6M187.4 266.0h0.6M179.4 265.9h0.6M184.4 278.1h0.6M188.5 281.9h0.6M188.3 265.8h0.6M183.2 271.7h0.6M183.6 254.4h0.6M185.6 288.9h0.6M182.9 280.0h0.6M185.7 274.8h0.6M185.4 280.6h0.6M187.3 265.6h0.6M184.6 267.9h0.6M185.4 272.3h0.6M183.2 264.6h0.6M185.0 253.2h0.6M186.8 273.7h0.6M186.9 279.5h0.6M187.1 279.1h0.6M184.6 278.2h0.6M188.1 268.9h0.6M185.4 254.2h0.6M179.2 279.7h0.6M189.5 262.3h0.6M178.4 251.2h0.6M190.0 273.3h0.6M193.3 282.1h0.6M193.8 278.0h0.6M182.6 266.8h0.6M189.8 256.5h0.6M187.5 266.1h0.6M190.6 264.7h0.6M181.8 279.1h0.6M186.3 264.3h0.6M187.9 265.4h0.6M187.7 270.9h0.6M188.3 260.9h0.6M182.1 287.6h0.6M186.3 268.3h0.6M181.1 265.0h0.6M186.0 258.4h0.6M184.8 267.5h0.6M190.3 265.8h0.6M184.1 272.4h0.6M182.4 253.3h0.6M185.1 265.7h0.6M182.2 283.2h0.6M185.5 262.8h0.6M182.0 285.1h0.6M188.5 253.0h0.6M187.6 265.2h0.6M182.5 280.6h0.6M188.1 261.9h0.6M184.9 276.0h0.6M184.5 273.9h0.6M182.0 282.3h0.6M191.2 263.7h0.6M178.9 265.5h0.6M188.7 271.9h0.6M184.7 271.7h0.6M178.6 269.5h0.6M184.5 263.9h0.6M188.4 263.7h0.6M182.2 276.6h0.6M187.7 270.7h0.6M186.0 273.7h0.6M186.4 260.6h0.6M188.6 289.2h0.6M186.7 267.5h0.6M190.1 276.0h0.6M181.8 269.1h0.6M182.5 279.8h0.6M179.3 282.0h0.6M182.1 272.8h0.6M183.1 273.6h0.6M190.0 276.0h0.6M179.7 267.5h0.6M185.6 287.9h0.6M182.8 266.2h0.6M181.7 269.5h0.6M187.9 260.5h0.6M191.1 282.0h0.6M188.5 276.0h0.6M195.6 259.9h0.6M182.6 290.6h0.6M179.7 273.0h0.6M184.3 261.1h0.6M180.9 268.0h0.6M186.2 274.7h0.6M187.6 270.7h0.6M185.1 275.8h0.6M182.3 257.3h0.6M187.4 282.2h0.6M181.3 272.9h0.6M180.8 279.9h0.6M187.8 260.5h0.6M188.3 256.2h0.6M183.0 272.2h0.6M190.7 277.5h0.6M191.5 256.1h0.6M198.9 261.5h0.6M186.2 285.0h0.6M187.2 281.5h0.6M179.7 259.2h0.6M183.1 264.6h0.6M185.5 266.8h0.6M179.9 272.1h0.6M178.9 263.3h0.6M186.4 261.3h0.6M184.9 276.2h0.6M191.4 281.5h0.6M188.8 274.7h0.6M179.5 261.7h0.6M181.2 264.7h0.6M184.4 260.8h0.6M183.1 280.6h0.6M183.0 251.3h0.6M183.7 268.5h0.6M183.4 290.4h0.6M189.0 286.2h0.6M182.3 277.2h0.6M186.0 269.0h0.6M181.3 271.9h0.6M197.0 284.1h0.6M181.7 263.9h0.6M183.7 281.1h0.6M188.1 261.8h0.6M187.3 271.3h0.6M193.7 255.7h0.6M184.4 260.7h0.6M180.9 268.7h0.6M182.3 261.3h0.6M184.3 264.3h0.6M180.9 267.4h0.6M185.0 272.8h0.6M190.0 255.9h0.6M185.4 265.0h0.6M189.5 281.4h0.6M186.0 264.9h0.6M178.0 264.6h0.6M181.2 270.0h0.6M191.5 287.8h0.6M186.2 270.9h0.6M184.3 272.6h0.6M184.0 286.4h0.6M181.6 270.8h0.6M182.2 278.7h0.6M192.6 276.1h0.6M185.7 270.3h0.6M187.4 265.4h0.6M192.0 286.6h0.6M189.3 277.6h0.6M183.2 287.2h0.6M179.0 263.1h0.6M194.1 266.1h0.6M181.5 254.4h0.6M189.4 281.3h0.6M185.9 254.7h0.6M184.7 262.7h0.6M188.9 284.0h0.6M186.9 274.2h0.6M191.7 286.2h0.6M180.0 274.4h0.6M180.1 263.0h0.6M190.0 259.7h0.6M184.4 282.0h0.6M187.1 254.8h0.6M184.7 268.1h0.6M181.3 289.6h0.6M185.4 270.8h0.6M189.6 271.9h0.6M179.5 270.5h0.6M187.0 272.0h0.6M189.7 278.7h0.6M187.4 269.0h0.6M185.4 288.7h0.6M178.2 281.2h0.6M187.2 264.1h0.6M185.2 276.3h0.6M179.3 272.2h0.6M187.8 262.3h0.6M185.9 283.8h0.6M186.1 262.6h0.6M178.6 254.1h0.6M189.5 268.8h0.6M184.9 268.7h0.6M182.2 287.1h0.6M188.3 284.6h0.6M180.2 276.3h0.6M188.1 260.1h0.6M181.6 263.0h0.6M189.6 272.8h0.6M182.3 277.2h0.6M182.5 271.9h0.6M185.0 262.7h0.6M189.3 271.2h0.6M189.2 272.9h0.6M180.1 270.5h0.6M180.5 256.4h0.6M186.9 273.3h0.6M185.4 255.9h0.6M189.9 263.8h0.6M187.0 276.7h0.6M181.3 273.9h0.6M185.8 274.4h0.6M183.5 279.7h0.6M188.3 285.1h0.6M189.8 258.0h0.6M182.9 274.7h0.6M189.5 264.2h0.6M185.4 273.6h0.6M184.9 280.1h0.6M181.1 275.4h0.6M182.0 274.7h0.6M181.4 268.0h0.6M189.2 261.7h0.6M185.6 276.7h0.6M184.8 268.2h0.6M185.3 262.4h0.6M188.5 277.4h0.6M192.6 273.3h0.6M189.9 266.0h0.6M187.3 262.1h0.6M186.3 267.7h0.6M189.3 251.8h0.6M184.6 267.9h0.6M188.1 264.0h0.6M183.5 282.4h0.6M182.7 267.1h0.6M190.1 251.2h0.6M187.0 273.9h0.6M186.4 254.1h0.6M179.3 263.0h0.6M181.7 276.9h0.6M183.5 283.9h0.6M185.2 276.4h0.6M182.5 265.2h0.6M187.1 278.8h0.6M182.5 282.6h0.6M184.3 285.2h0.6M180.2 267.5h0.6M188.0 270.0h0.6M182.9 276.7h0.6M189.3 267.0h0.6M188.5 266.7h0.6M182.0 282.6h0.6M183.0 266.2h0.6M188.5 261.6h0.6M181.4 268.3h0.6M185.7 279.3h0.6M184.5 264.7h0.6M179.9 267.7h0.6M183.4 280.9h0.6M178.6 254.2h0.6M187.1 285.6h0.6M178.5 272.1h0.6M182.7 285.6h0.6M186.7 284.7h0.6M185.2 280.5h0.6M186.8 264.7h0.6M189.2 267.7h0.6M180.1 275.5h0.6M191.7 273.3h0.6M187.6 259.1h0.6M181.9 265.1h0.6M193.5 266.6h0.6M186.4 253.5h0.6M183.1 271.7h0.6M184.7 267.8h0.6M187.1 275.0h0.6M180.1 258.1h0.6M187.6 278.0h0.6M179.5 276.8h0.6M179.3 268.9h0.6M190.6 255.2h0.6M185.2 268.4h0.6M180.4 277.5h0.6M181.2 264.2h0.6M180.5 274.5h0.6M187.5 283.1h0.6M184.1 262.6h0.6M191.5 264.6h0.6M188.0 285.5h0.6M188.5 253.3h0.6M180.7 263.0h0.6M188.7 263.0h0.6M188.4 272.3h0.6M185.8 270.1h0.6M181.9 283.1h0.6M185.6 284.4h0.6M181.2 254.3h0.6M191.0 259.2h0.6M185.6 266.6h0.6M184.4 267.0h0.6M180.4 258.8h0.6M185.9 263.4h0.6M192.3 270.8h0.6M191.0 265.6h0.6M188.4 264.4h0.6M181.0 267.7h0.6M184.1 294.4h0.6M179.3 263.8h0.6M188.0 268.4h0.6M185.6 277.2h0.6M184.4 263.2h0.6M179.2 269.3h0.6M187.3 271.9h0.6M189.9 266.0h0.6M186.1 262.0h0.6M183.0 275.9h0.6M182.3 255.3h0.6M181.1 267.0h0.6M182.0 267.2h0.6M187.3 269.7h0.6M186.9 268.4h0.6M182.0 260.5h0.6M189.6 260.4h0.6M180.8 261.7h0.6M186.3 270.6h0.6M183.9 269.2h0.6M184.1 274.3h0.6M181.8 264.7h0.6M185.8 294.9h0.6M182.3 288.9h0.6M180.9 270.3h0.6M180.9 282.6h0.6M185.5 271.6h0.6M189.3 282.1h0.6M182.1 272.2h0.6M182.8 280.7h0.6M186.1 261.9h0.6M185.1 271.0h0.6M189.5 252.6h0.6M186.6 280.7h0.6M179.4 276.9h0.6M188.4 264.8h0.6M182.9 284.6h0.6M183.9 276.5h0.6M186.4 271.7h0.6M179.7 263.0h0.6M185.4 269.1h0.6M184.5 277.1h0.6M185.2 276.6h0.6M185.3 273.4h0.6M182.7 255.8h0.6M188.6 278.0h0.6M187.7 262.3h0.6M189.6 270.8h0.6M185.7 263.6h0.6M182.9 263.9h0.6M186.5 263.4h0.6M184.8 264.7h0.6M179.5 270.4h0.6M185.5 270.6h0.6M184.9 260.9h0.6M193.1 270.1h0.6M188.1 271.1h0.6M180.1 280.1h0.6M184.4 261.8h0.6M180.7 270.2h0.6M180.3 276.6h0.6M182.7 265.6h0.6M193.4 277.2h0.6M182.2 273.3h0.6M178.1 262.8h0.6M184.2 262.9h0.6M180.7 275.9h0.6M182.4 262.2h0.6M182.4 263.7h0.6M188.3 272.6h0.6M178.6 282.3h0.6M189.5 267.1h0.6M180.7 270.0h0.6M182.5 274.6h0.6M184.7 281.7h0.6M178.0 264.0h0.6M186.1 265.2h0.6M183.1 259.0h0.6M193.0 268.1h0.6M187.8 262.5h0.6M182.9 269.1h0.6M191.8 282.6h0.6M193.7 283.9h0.6M191.2 267.8h0.6M182.0 282.0h0.6M181.9 274.8h0.6M182.3 260.0h0.6M185.2 261.5h0.6M183.6 277.9h0.6M184.1 279.1h0.6M183.0 273.0h0.6M180.6 282.0h0.6M178.0 255.6h0.6M184.5 267.3h0.6M183.5 275.4h0.6M194.5 260.3h0.6M186.4 270.2h0.6M178.1 259.7h0.6M180.3 272.0h0.6M182.9 251.0h0.6M181.7 254.7h0.6M181.7 267.9h0.6M181.5 281.0h0.6M194.3 274.3h0.6M178.4 283.0h0.6M193.7 267.9h0.6M186.4 279.9h0.6M185.7 281.4h0.6M187.2 264.0h0.6M182.8 267.3h0.6M182.0 281.9h0.6M186.2 267.8h0.6M188.3 270.4h0.6M189.2 284.7h0.6M185.6 264.2h0.6M179.9 286.1h0.6M186.5 264.1h0.6M184.4 259.2h0.6M190.5 272.5h0.6M183.3 256.0h0.6M193.7 270.8h0.6M184.7 271.1h0.6M180.3 280.4h0.6M187.3 270.1h0.6M182.1 253.1h0.6M182.9 267.7h0.6M179.8 272.4h0.6M188.2 265.2h0.6M183.1 269.4h0.6M191.8 282.9h0.6M177.8 265.0h0.6M195.6 266.6h0.6M192.2 274.3h0.6M190.1 266.3h0.6M185.2 274.7h0.6M184.8 269.2h0.6M190.9 268.2h0.6M190.4 264.1h0.6M183.5 276.4h0.6M187.0 278.7h0.6M185.0 269.4h0.6M182.9 255.1h0.6M183.1 279.3h0.6M184.6 271.6h0.6M190.1 261.2h0.6M186.3 264.5h0.6M189.6 256.1h0.6M183.4 265.0h0.6M183.5 264.6h0.6M192.7 267.7h0.6M184.3 256.4h0.6M179.3 262.7h0.6M179.8 274.5h0.6M182.4 265.5h0.6M184.3 261.3h0.6M179.6 263.5h0.6M185.7 268.7h0.6M181.3 284.4h0.6M186.4 275.9h0.6M191.3 261.2h0.6M188.9 272.1h0.6M186.1 255.7h0.6M181.5 269.8h0.6M184.7 284.0h0.6M183.3 272.0h0.6M183.6 257.8h0.6M183.4 270.7h0.6M192.1 281.2h0.6M182.7 261.5h0.6M184.8 264.6h0.6M195.2 277.6h0.6M184.7 264.9h0.6M180.5 269.0h0.6M183.0 283.9h0.6M183.5 277.0h0.6M181.9 273.6h0.6M188.4 293.3h0.6M181.6 268.7h0.6M184.5 264.5h0.6M184.6 270.1h0.6M183.5 254.1h0.6M186.1 256.6h0.6M184.6 279.2h0.6M179.6 268.7h0.6M185.8 269.5h0.6M183.0 270.1h0.6M187.8 260.6h0.6M184.3 276.5h0.6M182.5 258.9h0.6M188.1 276.3h0.6M188.9 269.8h0.6M182.3 283.9h0.6M190.1 277.3h0.6M182.9 271.0h0.6M181.3 260.4h0.6M185.4 272.9h0.6M187.3 270.9h0.6M193.5 261.0h0.6M190.4 266.3h0.6M188.9 261.6h0.6M194.1 283.2h0.6M178.4 282.0h0.6M185.8 278.4h0.6M185.0 268.9h0.6M179.3 265.8h0.6M185.0 254.8h0.6M181.0 270.2h0.6M186.9 266.0h0.6M190.9 265.5h0.6M187.7 282.2h0.6M181.8 280.8h0.6M184.5 262.5h0.6M191.8 285.3h0.6M183.9 280.1h0.6M189.2 270.1h0.6M194.3 269.3h0.6M182.4 270.7h0.6M184.7 266.4h0.6M184.0 258.1h0.6M187.7 257.9h0.6M189.8 276.8h0.6M183.6 266.9h0.6M182.5 270.5h0.6M192.5 273.5h0.6M183.4 286.6h0.6M183.6 267.3h0.6M194.2 276.7h0.6M190.2 276.2h0.6M187.5 276.8h0.6M188.4 290.9h0.6M184.1 256.9h0.6M185.9 259.6h0.6M185.4 280.7h0.6M183.1 263.7h0.6M188.5 263.6h0.6M184.9 269.2h0.6M179.9 279.2h0.6M180.7 278.8h0.6M186.8 260.7h0.6M183.8 278.4h0.6M184.0 290.8h0.6M181.1 281.5h0.6M178.3 268.1h0.6M189.4 252.9h0.6M186.3 260.3h0.6M179.7 263.7h0.6M182.9 265.9h0.6M182.7 262.5h0.6M194.0 274.6h0.6M184.0 261.2h0.6M186.3 273.0h0.6M181.4 268.7h0.6M188.3 273.1h0.6M184.9 271.5h0.6M182.1 269.8h0.6M185.5 263.5h0.6M184.7 278.8h0.6M179.1 279.6h0.6M186.9 274.4h0.6M179.3 271.0h0.6M187.6 274.3h0.6M182.1 265.0h0.6M186.4 272.0h0.6M182.7 281.8h0.6M180.3 271.3h0.6M191.2 260.9h0.6M186.5 288.1h0.6M179.8 251.9h0.6M189.6 265.8h0.6M184.9 271.0h0.6M190.3 267.6h0.6M189.3 277.4h0.6M185.1 280.1h0.6M186.4 269.4h0.6M197.8 251.7h0.6M180.3 260.8h0.6M183.3 271.9h0.6M184.2 291.4h0.6M182.9 260.2h0.6M185.2 266.2h0.6M183.0 278.8h0.6M186.4 280.7h0.6M180.6 275.9h0.6M185.2 264.4h0.6M178.5 269.4h0.6M180.2 276.9h0.6M187.0 274.6h0.6M196.8 282.0h0.6M186.0 272.1h0.6M183.0 278.7h0.6M187.7 271.9h0.6M188.9 266.6h0.6M182.8 277.4h0.6M185.7 253.9h0.6M189.0 259.9h0.6M188.8 271.9h0.6M187.5 279.7h0.6M180.8 276.2h0.6M184.8 267.7h0.6M185.1 265.4h0.6M185.2 272.4h0.6M182.3 280.3h0.6M185.5 259.8h0.6M187.0 275.0h0.6M179.0 272.8h0.6M183.4 272.5h0.6M184.3 273.7h0.6M185.4 275.2h0.6M188.1 281.7h0.6M186.5 282.4h0.6M188.7 265.7h0.6M182.1 282.0h0.6M188.0 253.7h0.6M180.6 281.0h0.6M185.7 253.9h0.6M186.9 279.4h0.6M187.8 269.7h0.6M184.2 265.1h0.6M182.9 272.6h0.6M195.7 294.3h0.6M184.3 256.2h0.6M184.6 267.5h0.6M184.0 254.4h0.6M184.7 264.0h0.6M185.2 255.6h0.6M185.2 258.7h0.6M181.5 264.0h0.6M182.7 264.9h0.6M182.6 264.3h0.6M182.0 264.7h0.6M183.5 287.7h0.6M188.9 264.5h0.6M179.2 280.7h0.6M185.0 273.4h0.6M190.0 252.2h0.6M182.4 271.8h0.6M191.0 269.3h0.6M185.4 269.7h0.6M184.9 271.5h0.6M182.6 263.4h0.6M183.4 275.9h0.6M190.0 271.3h0.6M183.9 281.6h0.6M187.4 277.0h0.6M184.5 266.2h0.6M187.1 268.6h0.6M190.0 261.8h0.6M186.4 270.3h0.6M180.7 266.8h0.6M180.6 266.8h0.6M183.9 294.9h0.6M180.6 276.2h0.6M183.1 273.5h0.6M183.6 262.6h0.6M191.1 280.6h0.6M183.5 255.2h0.6M185.8 274.8h0.6M185.3 274.4h0.6M192.5 265.9h0.6M190.4 290.5h0.6M190.8 273.3h0.6M182.5 283.5h0.6M188.8 255.1h0.6M188.6 268.5h0.6M185.9 259.2h0.6M187.4 271.7h0.6M181.1 267.0h0.6M191.1 284.6h0.6M178.8 274.9h0.6M183.8 265.4h0.6M186.1 284.4h0.6M187.4 261.2h0.6M185.3 274.4h0.6M189.8 269.6h0.6M185.7 272.5h0.6M187.9 252.6h0.6M191.0 273.3h0.6M185.2 260.1h0.6M186.2 288.8h0.6M182.6 255.0h0.6M187.0 270.6h0.6M184.9 256.0h0.6M186.9 276.3h0.6M188.4 261.9h0.6M194.2 273.7h0.6M194.7 273.5h0.6M184.2 263.0h0.6M191.2 257.8h0.6M182.5 266.4h0.6M186.4 270.8h0.6M178.8 259.3h0.6M192.4 271.2h0.6M185.2 267.0h0.6M186.4 263.3h0.6M189.9 278.4h0.6M185.1 279.0h0.6M184.5 266.4h0.6M189.4 269.5h0.6M181.7 285.3h0.6M184.4 274.6h0.6M191.6 258.4h0.6M183.8 279.5h0.6M183.9 266.2h0.6M184.5 267.5h0.6M183.8 274.2h0.6M185.6 286.6h0.6M186.6 286.1h0.6M185.8 286.8h0.6M184.6 281.9h0.6M185.9 285.7h0.6M181.9 266.1h0.6M186.9 261.4h0.6M191.4 268.8h0.6M187.5 280.1h0.6M187.8 263.6h0.6M179.6 254.8h0.6M181.4 263.4h0.6M181.8 274.7h0.6M179.4 255.2h0.6M185.9 287.2h0.6M181.3 269.3h0.6M185.0 280.6h0.6M188.9 266.2h0.6M189.1 271.0h0.6M188.6 287.4h0.6M179.4 258.7h0.6M185.6 271.5h0.6M192.5 283.7h0.6M186.4 269.1h0.6M188.0 274.3h0.6M183.1 276.8h0.6M183.0 269.4h0.6M184.5 264.7h0.6M182.4 270.9h0.6M184.6 258.7h0.6M192.2 286.2h0.6M192.1 281.2h0.6M184.7 261.4h0.6M180.8 253.9h0.6M183.7 254.1h0.6M185.5 272.7h0.6M182.8 265.1h0.6M184.8 275.4h0.6M183.6 286.0h0.6M181.3 264.4h0.6M183.0 268.2h0.6M185.9 275.2h0.6M183.7 284.9h0.6M185.2 257.3h0.6M179.0 271.0h0.6M189.8 273.7h0.6M184.6 267.0h0.6M182.9 266.2h0.6M187.6 279.8h0.6M187.2 263.5h0.6M187.3 279.4h0.6M182.7 270.9h0.6M179.6 260.0h0.6M184.4 264.7h0.6M182.8 261.6h0.6M186.7 279.7h0.6M180.9 272.2h0.6M183.0 272.1h0.6M189.5 272.1h0.6M184.4 260.0h0.6M189.6 284.9h0.6M184.1 258.0h0.6M192.1 274.6h0.6M193.6 262.4h0.6M182.9 255.9h0.6M185.2 254.2h0.6M183.5 280.3h0.6M187.1 278.6h0.6M185.4 276.7h0.6M184.4 258.0h0.6M186.9 269.1h0.6M181.5 259.5h0.6M189.9 254.5h0.6M181.4 273.0h0.6M187.4 271.8h0.6M178.5 279.7h0.6M184.4 256.1h0.6M189.4 268.8h0.6M184.2 263.8h0.6M186.0 271.0h0.6M181.6 273.6h0.6M185.8 259.9h0.6M188.1 271.5h0.6M184.1 272.9h0.6M181.5 262.3h0.6M184.4 261.0h0.6M191.2 271.9h0.6M187.9 286.2h0.6M190.9 289.1h0.6M181.3 285.0h0.6M183.2 267.9h0.6M185.8 270.6h0.6M184.9 272.7h0.6M178.9 257.9h0.6M186.2 271.0h0.6M186.6 287.5h0.6M185.1 256.8h0.6M186.8 286.7h0.6M193.3 269.4h0.6M185.6 273.1h0.6M187.5 268.7h0.6M183.0 284.4h0.6M191.4 270.2h0.6M182.6 264.3h0.6M180.2 258.6h0.6M183.9 263.3h0.6M186.2 265.3h0.6M181.2 266.4h0.6M184.0 282.7h0.6M183.1 268.6h0.6M181.2 289.2h0.6M186.1 281.3h0.6M183.6 275.4h0.6M181.0 264.3h0.6M183.7 261.7h0.6M188.0 277.7h0.6M189.9 261.5h0.6M182.5 269.5h0.6M187.7 258.2h0.6M183.8 279.4h0.6M185.3 268.8h0.6M180.2 266.7h0.6M187.8 279.2h0.6M177.9 273.4h0.6M183.4 261.1h0.6M192.6 275.9h0.6M180.4 260.3h0.6M185.6 256.0h0.6M184.0 274.2h0.6M179.3 271.2h0.6M186.6 263.5h0.6M186.4 275.6h0.6M186.6 263.4h0.6M188.3 266.5h0.6M185.6 270.1h0.6M189.1 273.9h0.6M185.3 275.1h0.6M183.0 268.1h0.6M181.7 264.0h0.6M183.5 264.5h0.6M181.5 271.7h0.6M188.0 273.6h0.6M189.0 274.2h0.6M190.9 284.1h0.6M182.8 262.0h0.6M182.3 266.3h0.6M187.8 274.3h0.6M185.7 263.3h0.6M183.0 267.7h0.6M185.8 274.0h0.6M181.8 282.6h0.6M188.0 275.9h0.6M178.1 276.8h0.6M185.4 271.3h0.6M183.5 257.1h0.6M190.2 259.1h0.6M187.9 272.8h0.6M196.6 270.0h0.6M191.0 265.5h0.6M180.0 272.8h0.6M190.1 264.6h0.6M189.2 275.0h0.6M184.9 271.5h0.6M185.4 264.0h0.6M185.4 273.5h0.6M187.5 263.3h0.6M187.2 261.7h0.6M186.5 267.5h0.6M183.5 269.2h0.6M186.3 253.4h0.6M190.0 279.0h0.6M186.2 254.5h0.6M188.4 269.7h0.6M191.7 265.4h0.6M184.0 278.8h0.6M180.9 271.8h0.6M186.3 285.0h0.6M188.8 257.2h0.6M188.2 273.2h0.6M185.3 259.1h0.6M192.7 286.0h0.6M186.1 262.1h0.6M180.1 259.3h0.6M188.6 253.9h0.6M189.7 268.1h0.6M186.4 276.8h0.6M194.9 276.6h0.6M184.2 273.2h0.6M185.5 270.1h0.6M185.3 260.5h0.6M186.2 257.2h0.6M189.7 266.3h0.6M180.0 275.9h0.6M187.8 270.8h0.6M178.5 257.7h0.6M187.2 290.8h0.6M186.0 272.5h0.6M187.4 261.8h0.6M189.6 264.0h0.6M185.1 262.3h0.6M179.8 262.7h0.6M181.0 266.1h0.6M191.4 272.6h0.6M182.6 273.7h0.6M182.5 280.4h0.6M188.3 266.6h0.6M184.8 270.6h0.6M180.7 259.2h0.6M184.4 261.5h0.6M184.9 277.8h0.6M184.0 275.4h0.6M192.4 265.9h0.6M191.0 262.3h0.6M180.2 271.6h0.6M184.3 256.3h0.6M190.4 277.9h0.6M180.9 268.1h0.6M184.7 258.5h0.6M186.4 257.4h0.6M182.3 262.9h0.6M184.1 263.3h0.6M194.0 274.3h0.6M188.5 278.3h0.6M188.3 271.6h0.6M185.3 280.9h0.6M187.6 253.9h0.6M186.1 268.5h0.6M187.7 271.4h0.6M187.8 273.7h0.6M184.9 262.7h0.6M189.0 269.6h0.6M192.0 280.0h0.6M180.3 277.3h0.6M185.0 269.7h0.6M184.4 279.5h0.6M181.6 274.1h0.6M178.5 273.0h0.6M179.7 258.1h0.6M184.8 259.5h0.6M189.6 259.8h0.6M191.8 277.6h0.6M185.4 275.9h0.6M185.9 292.0h0.6M187.1 264.5h0.6M186.6 266.9h0.6M184.7 264.5h0.6M182.8 277.9h0.6M184.8 277.2h0.6M183.7 269.2h0.6M183.0 282.0h0.6M191.9 269.2h0.6M188.8 256.6h0.6M179.7 276.9h0.6M189.3 286.3h0.6M184.7 257.5h0.6M181.3 262.0h0.6M188.6 260.4h0.6M181.6 284.8h0.6M179.9 264.2h0.6M190.9 293.6h0.6M182.1 272.1h0.6M184.9 264.9h0.6M179.6 278.1h0.6M182.9 264.0h0.6M185.3 283.9h0.6M185.8 294.6h0.6M183.7 276.0h0.6M185.0 263.6h0.6M181.8 265.0h0.6M180.9 265.1h0.6M185.4 273.8h0.6M180.5 268.3h0.6M181.7 278.9h0.6M192.6 272.1h0.6M186.9 267.8h0.6M187.2 268.3h0.6M179.7 282.1h0.6M194.8 276.3h0.6M185.1 274.9h0.6M192.4 266.0h0.6M188.3 272.1h0.6M187.6 273.8h0.6M184.7 258.6h0.6M186.3 272.1h0.6M187.5 287.5h0.6M185.4 280.9h0.6M187.3 296.8h0.6M187.4 295.7h0.6M181.0 259.0h0.6M187.3 269.3h0.6M190.9 278.3h0.6M188.9 263.3h0.6M185.2 278.8h0.6M182.9 270.9h0.6M190.6 270.4h0.6M186.4 282.5h0.6M187.3 257.0h0.6M185.9 271.1h0.6M186.9 292.7h0.6M190.3 272.3h0.6M182.6 279.0h0.6M186.2 283.4h0.6M186.8 280.5h0.6M182.0 269.2h0.6M185.6 263.1h0.6M187.1 267.3h0.6M183.8 264.3h0.6M185.0 255.3h0.6M189.3 274.8h0.6M187.9 282.8h0.6M186.6 268.0h0.6M191.1 267.2h0.6M183.0 270.5h0.6M188.1 275.7h0.6M189.5 265.4h0.6M182.9 272.7h0.6M181.9 266.8h0.6M185.5 251.6h0.6M178.4 274.4h0.6M182.1 277.6h0.6M183.1 260.6h0.6M187.8 267.9h0.6M186.7 263.9h0.6M181.7 267.2h0.6M181.7 268.5h0.6M180.8 273.5h0.6M188.4 274.6h0.6M179.6 281.9h0.6M185.5 277.4h0.6M182.2 265.4h0.6M190.0 280.9h0.6M180.7 267.5h0.6M189.9 263.9h0.6M185.3 272.5h0.6M179.5 278.7h0.6M182.2 256.3h0.6M186.5 271.7h0.6M182.7 269.6h0.6M192.3 276.7h0.6M185.1 266.7h0.6M193.0 266.0h0.6M179.0 257.2h0.6M182.5 285.6h0.6M184.7 264.6h0.6M184.3 271.9h0.6M189.3 282.5h0.6M185.0 288.3h0.6M182.9 280.4h0.6M182.6 264.8h0.6M183.9 283.3h0.6M183.0 270.8h0.6M186.5 278.8h0.6M185.3 278.6h0.6M192.4 277.7h0.6M183.5 268.9h0.6M186.3 267.7h0.6M180.3 261.3h0.6M182.7 251.5h0.6M197.6 278.4h0.6M182.7 263.1h0.6M190.4 256.8h0.6M180.7 280.1h0.6M184.8 277.6h0.6M185.6 270.2h0.6M182.3 274.8h0.6M186.1 272.4h0.6M183.3 281.7h0.6M185.4 276.0h0.6M180.1 254.5h0.6M188.3 264.0h0.6M181.5 273.7h0.6M190.9 267.6h0.6M183.8 274.5h0.6M187.5 270.9h0.6M181.8 290.1h0.6M182.1 272.4h0.6M184.9 272.2h0.6M195.9 267.9h0.6M189.5 270.4h0.6M183.6 277.6h0.6M186.6 268.6h0.6M181.0 274.3h0.6M199.8 269.0h0.6M187.9 264.8h0.6M200.1 256.7h0.6M182.6 252.4h0.6M188.1 271.8h0.6M187.0 270.2h0.6M191.9 283.4h0.6M181.2 271.4h0.6M192.0 273.6h0.6M192.1 259.2h0.6M181.8 260.4h0.6M182.5 262.9h0.6M187.5 262.5h0.6M179.6 263.2h0.6M187.1 278.4h0.6M186.4 259.1h0.6M190.7 281.6h0.6M188.5 292.9h0.6M180.5 262.9h0.6M181.7 264.2h0.6M187.9 272.1h0.6M183.3 281.2h0.6M184.7 264.8h0.6M182.3 257.6h0.6M184.0 261.8h0.6M184.5 273.6h0.6M187.0 265.7h0.6M193.2 259.0h0.6M188.1 270.3h0.6M186.2 263.5h0.6M181.6 276.1h0.6M178.7 252.4h0.6M185.3 264.5h0.6M193.4 253.2h0.6M185.6 271.0h0.6M185.7 265.5h0.6M178.0 277.0h0.6M188.2 273.7h0.6M186.2 281.4h0.6M189.2 276.6h0.6M182.3 279.6h0.6M181.2 273.7h0.6M180.7 268.4h0.6M188.4 267.0h0.6M189.1 265.4h0.6M192.2 268.5h0.6M196.2 276.8h0.6M184.8 259.3h0.6M183.2 288.8h0.6M179.6 255.1h0.6M186.3 282.0h0.6M183.4 261.8h0.6M184.0 267.9h0.6M189.9 287.9h0.6M184.4 262.1h0.6M179.8 253.4h0.6M184.7 255.1h0.6M188.1 267.7h0.6M181.9 283.7h0.6M185.4 272.4h0.6M184.9 259.1h0.6M187.6 281.3h0.6M184.4 267.1h0.6M186.7 268.0h0.6M183.2 281.3h0.6M180.8 266.0h0.6M183.1 262.2h0.6M182.7 283.2h0.6M181.3 293.7h0.6M181.9 257.6h0.6M190.3 274.1h0.6M180.2 267.8h0.6M183.5 294.9h0.6M185.5 272.3h0.6M187.2 271.9h0.6M184.9 261.5h0.6M185.3 271.7h0.6M179.1 270.5h0.6M179.4 253.6h0.6M184.5 274.7h0.6M188.9 264.3h0.6M178.5 261.1h0.6M183.7 268.6h0.6M186.9 267.9h0.6M189.4 263.5h0.6M186.9 275.8h0.6M186.5 274.8h0.6M180.1 278.1h0.6M182.6 267.9h0.6M180.5 273.2h0.6M182.9 263.1h0.6M187.8 262.4h0.6M186.4 271.5h0.6M187.2 270.2h0.6M179.6 271.2h0.6M186.5 287.7h0.6M193.0 278.2h0.6M182.6 259.4h0.6M187.5 275.0h0.6M187.3 275.5h0.6M186.5 268.8h0.6M182.4 276.7h0.6M185.0 280.1h0.6M183.0 267.3h0.6M181.5 276.2h0.6M181.4 263.2h0.6M184.9 266.5h0.6M190.5 273.0h0.6M189.2 283.3h0.6M189.5 278.8h0.6M182.9 274.2h0.6M184.6 277.4h0.6M182.5 276.4h0.6M182.8 277.2h0.6M190.3 281.8h0.6M183.3 282.8h0.6M178.9 270.3h0.6M179.9 269.7h0.6M182.0 282.3h0.6M194.4 278.4h0.6M189.5 274.7h0.6M184.7 268.1h0.6M180.0 262.7h0.6M188.6 266.3h0.6M186.8 261.7h0.6M195.1 283.3h0.6M184.7 288.3h0.6M187.4 280.8h0.6M184.5 266.0h0.6M191.3 277.5h0.6M188.8 280.0h0.6M185.7 266.0h0.6M186.8 253.6h0.6M185.6 281.2h0.6M184.2 288.3h0.6M183.7 260.5h0.6M187.7 268.8h0.6M187.9 264.3h0.6M187.6 271.5h0.6M186.3 279.5h0.6M181.9 268.8h0.6M190.0 282.1h0.6M188.3 259.8h0.6M186.1 266.6h0.6M183.8 255.7h0.6M188.7 256.6h0.6M183.6 270.9h0.6M182.7 275.1h0.6M183.5 257.1h0.6M183.3 274.6h0.6M181.2 277.5h0.6M189.7 276.1h0.6M187.6 269.4h0.6M187.5 263.3h0.6M191.4 280.1h0.6M180.5 268.1h0.6M182.0 258.9h0.6M183.7 277.7h0.6M185.3 267.8h0.6M180.1 270.3h0.6M188.6 271.8h0.6M181.2 263.6h0.6M179.2 255.0h0.6M188.8 257.9h0.6M189.7 278.5h0.6M183.5 256.8h0.6M182.5 263.2h0.6M182.2 262.6h0.6M185.2 267.2h0.6M184.7 269.7h0.6M190.2 289.0h0.6M185.1 269.2h0.6M184.3 279.1h0.6M188.0 271.0h0.6M184.4 275.4h0.6M189.5 265.9h0.6M186.8 252.8h0.6M182.1 274.5h0.6M178.2 255.7h0.6M186.1 251.3h0.6M183.6 289.7h0.6M186.5 286.6h0.6M191.7 262.8h0.6M184.1 273.5h0.6M189.7 283.6h0.6M188.3 273.2h0.6M180.5 280.0h0.6M182.5 279.4h0.6M190.7 256.3h0.6M193.7 268.2h0.6M189.7 279.0h0.6M193.0 281.3h0.6M192.1 278.1h0.6M181.7 268.3h0.6M188.0 279.2h0.6M185.7 263.3h0.6M179.7 271.0h0.6M198.0 269.0h0.6M183.0 275.9h0.6M188.2 271.4h0.6M182.4 276.1h0.6M182.4 267.9h0.6M180.3 264.9h0.6M194.6 278.0h0.6M186.9 262.2h0.6M179.8 279.9h0.6M185.0 275.8h0.6M186.4 271.4h0.6M192.7 270.9h0.6M184.4 272.3h0.6M184.0 252.8h0.6M183.6 270.1h0.6M189.7 260.9h0.6M183.8 270.4h0.6M187.1 288.7h0.6M187.9 276.5h0.6M180.0 285.5h0.6M188.9 271.3h0.6M180.6 275.4h0.6M183.1 283.2h0.6M183.8 278.3h0.6M180.2 260.9h0.6M185.8 267.9h0.6M180.9 268.1h0.6M187.5 273.1h0.6M187.7 273.2h0.6M180.6 275.2h0.6M186.1 265.6h0.6M186.4 268.1h0.6M182.1 280.0h0.6M178.3 288.3h0.6M186.2 266.2h0.6M186.9 261.2h0.6M183.3 289.2h0.6M187.1 268.6h0.6M184.4 279.0h0.6M189.1 267.1h0.6M190.2 270.0h0.6M184.9 277.4h0.6M181.9 255.3h0.6M184.4 278.6h0.6M183.8 278.6h0.6M190.3 266.9h0.6M185.1 268.9h0.6M187.9 274.9h0.6M185.9 283.3h0.6M186.8 273.0h0.6M182.0 271.0h0.6M190.9 277.1h0.6M185.7 269.5h0.6M181.2 263.5h0.6M189.6 270.6h0.6M185.6 282.5h0.6M183.4 265.9h0.6M191.3 276.4h0.6M178.4 270.3h0.6M181.8 265.6h0.6M184.2 254.9h0.6M182.1 287.7h0.6M184.3 265.9h0.6M189.3 257.5h0.6M184.2 282.7h0.6M185.2 273.7h0.6M184.3 273.8h0.6M188.2 268.9h0.6M185.7 272.9h0.6M193.0 278.3h0.6M186.3 267.1h0.6M186.8 289.1h0.6M191.6 264.0h0.6M191.8 264.0h0.6M182.5 269.3h0.6M188.0 268.5h0.6M189.6 273.6h0.6M192.0 257.6h0.6M185.8 277.0h0.6M191.9 251.0h0.6M184.3 252.1h0.6M187.2 265.5h0.6M186.7 280.3h0.6M189.1 268.8h0.6M188.0 300.0h0.6M183.3 276.2h0.6M183.3 278.8h0.6M182.0 276.5h0.6M179.1 272.7h0.6M196.1 260.1h0.6M182.9 279.6h0.6M178.3 272.8h0.6M190.1 271.8h0.6M185.7 281.1h0.6M185.3 283.6h0.6M191.8 267.9h0.6M190.9 277.6h0.6M184.9 270.8h0.6M190.0 259.3h0.6M178.6 281.9h0.6M193.8 273.6h0.6M189.8 255.5h0.6M179.7 265.7h0.6M183.9 272.4h0.6M183.3 270.2h0.6M184.5 276.6h0.6M190.0 279.2h0.6M191.4 269.0h0.6M183.4 253.0h0.6M178.1 278.4h0.6M187.4 271.1h0.6M184.0 259.0h0.6M191.0 264.2h0.6M187.1 283.0h0.6M191.7 267.7h0.6M189.4 279.3h0.6M185.5 273.7h0.6M181.5 273.1h0.6M182.4 268.5h0.6M185.7 279.6h0.6M184.2 268.0h0.6M183.4 296.7h0.6M183.4 275.1h0.6M178.8 271.0h0.6M180.1 265.2h0.6M188.5 287.0h0.6M186.0 276.4h0.6M186.0 266.3h0.6M185.6 279.9h0.6M186.1 266.9h0.6M183.2 275.2h0.6M183.8 279.4h0.6M179.2 277.9h0.6M181.7 269.8h0.6M194.4 280.5h0.6M183.0 266.9h0.6M189.1 279.6h0.6M185.1 277.8h0.6M190.0 265.9h0.6M187.9 268.9h0.6M184.0 262.1h0.6M188.6 278.6h0.6M190.7 277.3h0.6M187.2 265.6h0.6M185.5 274.7h0.6M184.5 278.4h0.6M191.4 287.0h0.6M182.0 271.2h0.6M183.0 262.8h0.6M183.7 271.7h0.6M188.8 256.3h0.6M184.7 261.0h0.6M191.3 286.9h0.6M183.2 263.7h0.6M187.9 279.7h0.6M180.9 266.4h0.6M186.4 260.4h0.6M191.7 270.9h0.6M185.5 259.3h0.6M190.5 257.5h0.6M182.0 264.7h0.6M184.6 256.6h0.6M181.8 276.0h0.6M185.0 271.5h0.6M189.4 274.7h0.6M189.5 270.6h0.6M181.3 286.3h0.6M180.2 293.0h0.6M185.5 280.7h0.6M178.4 259.8h0.6M186.5 265.9h0.6M185.7 276.2h0.6M185.6 271.2h0.6M186.1 268.4h0.6M186.5 279.7h0.6M181.2 273.1h0.6M189.0 268.6h0.6M184.8 288.1h0.6M190.1 292.4h0.6M193.3 267.3h0.6M182.2 267.7h0.6M185.4 282.0h0.6M185.4 273.6h0.6M184.2 254.5h0.6M189.3 267.8h0.6M187.3 270.7h0.6M193.7 275.0h0.6M187.1 269.6h0.6M181.7 274.4h0.6M189.9 270.6h0.6M193.6 265.2h0.6M186.0 252.4h0.6M182.8 262.3h0.6M188.7 276.5h0.6M187.6 280.2h0.6M183.2 286.8h0.6M184.2 279.3h0.6M194.4 265.6h0.6M186.9 269.4h0.6M185.8 273.5h0.6M184.9 270.7h0.6M188.3 257.9h0.6M182.1 265.8h0.6M179.3 273.8h0.6M183.3 262.4h0.6M179.4 262.1h0.6M187.1 258.4h0.6M189.2 276.5h0.6M186.5 254.5h0.6M181.9 280.4h0.6M183.6 263.2h0.6M182.1 274.1h0.6M186.2 260.6h0.6M179.9 273.4h0.6M191.6 259.1h0.6M179.1 269.8h0.6M185.6 263.1h0.6M181.8 285.2h0.6M181.2 254.9h0.6M183.4 282.8h0.6M188.1 270.0h0.6M179.6 269.5h0.6M197.5 276.1h0.6M189.7 255.2h0.6M183.4 265.0h0.6M192.6 267.5h0.6M184.9 265.7h0.6M178.3 264.5h0.6M183.1 265.4h0.6M191.4 258.8h0.6M183.8 275.4h0.6M183.3 265.2h0.6M193.5 277.6h0.6M181.5 272.7h0.6M181.2 274.6h0.6M178.9 277.9h0.6M186.7 273.5h0.6M185.1 272.3h0.6M181.3 270.8h0.6M187.7 274.3h0.6M181.0 275.6h0.6M179.9 263.2h0.6M181.4 264.4h0.6M184.5 276.6h0.6M189.7 274.4h0.6M181.9 277.3h0.6M189.3 262.9h0.6M179.9 268.6h0.6M193.4 267.2h0.6M184.3 276.8h0.6M180.0 259.8h0.6M184.5 278.1h0.6M183.7 263.9h0.6M177.8 285.2h0.6M179.6 282.6h0.6M181.9 281.0h0.6M192.4 261.7h0.6M187.5 277.1h0.6M190.5 267.1h0.6M190.4 271.1h0.6M180.7 279.7h0.6M190.5 269.9h0.6M184.5 277.5h0.6M192.3 258.2h0.6M189.6 289.4h0.6M181.2 275.6h0.6M185.3 273.5h0.6M190.4 254.8h0.6M182.8 256.9h0.6M183.7 287.9h0.6M180.5 265.6h0.6M182.4 273.9h0.6M183.6 262.6h0.6M181.7 268.5h0.6M190.1 271.3h0.6M182.4 268.5h0.6M188.2 261.8h0.6M185.1 264.9h0.6M178.9 283.5h0.6M179.8 262.4h0.6M184.6 276.5h0.6M186.3 258.1h0.6M182.7 285.7h0.6M184.2 261.0h0.6M188.8 267.1h0.6M188.9 268.3h0.6M184.5 276.0h0.6M181.6 255.6h0.6M184.9 263.9h0.6M184.9 262.9h0.6M181.7 256.4h0.6M186.2 288.5h0.6M179.6 281.0h0.6M187.9 263.7h0.6M180.6 275.1h0.6M183.4 267.2h0.6M183.0 288.2h0.6M178.0 274.1h0.6M193.2 271.6h0.6M194.3 270.0h0.6M185.7 277.5h0.6M181.9 270.4h0.6M187.5 263.7h0.6M187.1 280.5h0.6M180.0 268.9h0.6M186.8 263.2h0.6M189.4 281.9h0.6M182.6 272.5h0.6M182.3 269.0h0.6M187.1 268.7h0.6M185.8 265.9h0.6M190.3 279.1h0.6M182.4 275.6h0.6M196.5 265.8h0.6M191.1 295.8h0.6M184.3 278.0h0.6M188.0 278.4h0.6M186.0 279.7h0.6M190.0 277.2h0.6M184.0 268.9h0.6M185.4 268.4h0.6M181.6 258.3h0.6M184.8 261.6h0.6M183.6 258.2h0.6M179.3 266.4h0.6M184.2 291.2h0.6M184.8 280.4h0.6M187.3 273.3h0.6M183.9 276.6h0.6M187.5 257.1h0.6M188.1 268.5h0.6M178.3 263.0h0.6M188.2 279.4h0.6M184.7 282.1h0.6M188.6 255.6h0.6M180.5 273.7h0.6M181.3 264.4h0.6M186.5 267.6h0.6M182.2 257.0h0.6M194.1 257.0h0.6M183.3 280.8h0.6M184.7 261.2h0.6M180.2 281.4h0.6M188.5 251.6h0.6M179.1 276.4h0.6M192.2 265.1h0.6M189.3 255.0h0.6M177.9 258.3h0.6M187.3 272.2h0.6M188.3 253.3h0.6M192.4 266.3h0.6M196.7 272.8h0.6M181.4 285.1h0.6M186.1 282.3h0.6M181.6 262.8h0.6M185.7 271.0h0.6M181.0 275.3h0.6M190.2 266.8h0.6M182.9 265.4h0.6M187.4 269.0h0.6M187.0 280.9h0.6M183.8 267.5h0.6M183.8 284.5h0.6M184.6 270.8h0.6M183.7 278.8h0.6M186.8 259.0h0.6M189.2 274.0h0.6M190.3 275.2h0.6M184.8 260.4h0.6M189.4 282.1h0.6M181.2 269.4h0.6M187.1 268.8h0.6M186.7 266.4h0.6M182.2 281.8h0.6M181.6 270.4h0.6M182.1 271.5h0.6M182.3 272.7h0.6M178.8 259.7h0.6M184.4 276.1h0.6M181.3 288.8h0.6M183.3 277.6h0.6M180.6 258.7h0.6M178.1 265.7h0.6M181.2 285.6h0.6M184.7 272.6h0.6M191.7 259.2h0.6M180.3 262.5h0.6M191.2 257.0h0.6M180.5 254.5h0.6M186.2 278.1h0.6M180.7 281.0h0.6M185.6 261.8h0.6M187.4 282.3h0.6M190.6 275.0h0.6M190.8 270.0h0.6M186.4 287.3h0.6M184.5 262.2h0.6M179.7 265.0h0.6M180.0 268.3h0.6M179.0 268.9h0.6M185.0 277.7h0.6M189.6 285.3h0.6M183.9 256.7h0.6M188.4 274.0h0.6M183.1 278.1h0.6M193.7 273.8h0.6M183.2 272.2h0.6M181.1 289.4h0.6M179.8 260.3h0.6M189.6 268.3h0.6M179.7 279.3h0.6M190.2 254.4h0.6M187.9 279.8h0.6M193.2 274.8h0.6M188.4 271.3h0.6M188.2 287.0h0.6M188.3 264.3h0.6M184.8 289.3h0.6M179.6 264.5h0.6M182.2 283.0h0.6M181.3 266.2h0.6M184.9 275.7h0.6M187.8 259.2h0.6M180.1 256.4h0.6M190.1 267.8h0.6M185.9 270.2h0.6M178.6 254.3h0.6M180.2 289.0h0.6M183.4 275.0h0.6M180.7 295.3h0.6M185.5 255.0h0.6M183.0 273.3h0.6M189.5 266.8h0.6M188.0 273.0h0.6M186.0 266.2h0.6M186.8 280.9h0.6M185.0 266.9h0.6M197.2 276.8h0.6M187.9 256.1h0.6M189.8 254.7h0.6M190.3 273.4h0.6M183.0 263.5h0.6M185.8 266.4h0.6M178.4 268.5h0.6M183.0 285.1h0.6M178.4 279.7h0.6M178.9 263.4h0.6M180.4 272.1h0.6M187.5 280.1h0.6M181.8 275.1h0.6M184.0 275.0h0.6M184.7 269.8h0.6M183.6 275.0h0.6M185.5 260.7h0.6M188.4 269.3h0.6M190.1 269.6h0.6M184.5 266.0h0.6M190.6 287.5h0.6M184.2 264.1h0.6M189.7 278.8h0.6M187.9 256.4h0.6M186.4 272.0h0.6M183.8 274.5h0.6M184.4 274.0h0.6M185.0 267.5h0.6M192.5 269.8h0.6M187.8 279.3h0.6M181.0 268.5h0.6M181.3 268.7h0.6M180.0 278.6h0.6M185.1 258.5h0.6M187.2 260.7h0.6M178.9 274.3h0.6M185.3 263.3h0.6M188.2 274.6h0.6M185.9 280.0h0.6M186.4 282.2h0.6M186.6 273.5h0.6M193.4 264.9h0.6M184.6 266.1h0.6M193.3 286.2h0.6M184.2 261.8h0.6M182.8 275.2h0.6M183.4 277.8h0.6M186.4 258.5h0.6M180.2 278.4h0.6M188.8 270.4h0.6M191.5 269.7h0.6M183.9 269.9h0.6M185.7 271.7h0.6M181.5 262.2h0.6M190.5 265.8h0.6M183.8 279.1h0.6M179.8 293.8h0.6M181.9 264.2h0.6M178.9 264.4h0.6M181.0 265.8h0.6M190.2 277.4h0.6M187.9 275.4h0.6M187.7 263.5h0.6M197.5 264.5h0.6M179.9 289.7h0.6M183.4 270.7h0.6M180.7 267.7h0.6M187.1 273.3h0.6M179.8 277.4h0.6M181.7 255.3h0.6M189.0 273.3h0.6M184.1 262.7h0.6M188.4 267.6h0.6M182.1 275.5h0.6M186.3 258.6h0.6M190.5 254.2h0.6M181.6 273.6h0.6M184.7 277.7h0.6M190.8 265.4h0.6M185.1 262.9h0.6M180.4 276.3h0.6M187.1 272.6h0.6M182.3 285.2h0.6M186.7 275.8h0.6M185.5 273.1h0.6M190.1 280.2h0.6M189.9 271.3h0.6M185.7 259.2h0.6M184.3 264.9h0.6M181.5 270.3h0.6M185.4 263.5h0.6M177.8 267.8h0.6M185.1 273.2h0.6M181.3 257.8h0.6M182.5 275.7h0.6M178.9 282.7h0.6M184.2 268.1h0.6M185.7 276.8h0.6M188.5 252.5h0.6M182.6 274.3h0.6M187.5 272.2h0.6M181.2 274.1h0.6M184.2 270.1h0.6M190.3 269.1h0.6M187.0 283.9h0.6M189.3 258.2h0.6M180.5 251.1h0.6M189.6 268.4h0.6M182.7 269.3h0.6M180.0 275.4h0.6M181.2 278.6h0.6M186.2 269.5h0.6M187.4 267.7h0.6M184.9 281.5h0.6M192.2 275.4h0.6M191.1 255.2h0.6M185.7 270.0h0.6M183.1 275.2h0.6M193.3 275.1h0.6M189.9 283.3h0.6M190.8 271.0h0.6M182.5 281.2h0.6M188.9 266.1h0.6M192.1 262.6h0.6M180.0 269.9h0.6M179.6 269.0h0.6M184.9 265.0h0.6M185.5 258.6h0.6M189.1 278.5h0.6M183.4 274.7h0.6M183.8 281.6h0.6M180.2 273.1h0.6M183.2 277.1h0.6M185.5 253.7h0.6M183.8 261.2h0.6M187.1 278.5h0.6M180.1 274.4h0.6M180.9 265.7h0.6M185.9 281.8h0.6M187.2 276.5h0.6M183.1 269.1h0.6M187.8 272.0h0.6M185.9 274.2h0.6M192.2 283.3h0.6M191.3 274.1h0.6M182.0 259.6h0.6M185.9 261.3h0.6M194.7 270.7h0.6M185.9 270.0h0.6M186.0 258.2h0.6M186.4 278.1h0.6M186.4 273.4h0.6M185.4 277.4h0.6M180.5 252.1h0.6M183.2 270.4h0.6M187.9 263.7h0.6M186.0 270.2h0.6M188.3 266.3h0.6M187.9 277.6h0.6M184.1 269.2h0.6M183.3 264.0h0.6M182.6 260.5h0.6M188.3 274.4h0.6M184.7 271.6h0.6M185.4 284.5h0.6M189.0 267.5h0.6M188.2 255.2h0.6M183.2 263.3h0.6M186.6 265.4h0.6M181.9 263.7h0.6M179.2 258.2h0.6M181.1 273.8h0.6M186.3 277.4h0.6M192.2 278.8h0.6M191.5 271.9h0.6M186.8 272.4h0.6M179.4 274.2h0.6M184.5 261.1h0.6M186.7 286.2h0.6M184.4 258.4h0.6M184.6 261.9h0.6M186.7 261.4h0.6M184.7 268.9h0.6M183.2 266.4h0.6M183.7 267.6h0.6M184.5 274.9h0.6M183.0 262.4h0.6M187.1 263.9h0.6M194.0 267.8h0.6M193.4 272.5h0.6M186.3 278.4h0.6M186.8 268.9h0.6M183.6 261.6h0.6M181.0 278.0h0.6M188.9 267.2h0.6M192.3 287.4h0.6M180.0 273.7h0.6M183.2 273.5h0.6M183.6 269.9h0.6M177.8 269.4h0.6" stroke="#000" stroke-width="0.55" fill="none" opacity="0.7"/>
<path d="M182.3 291.9h0.6M183.8 283.7h0.6M193.0 275.4h0.6M182.6 279.3h0.6M187.7 288.0h0.6M181.8 261.3h0.6M193.7 280.6h0.6M197.3 295.8h0.6M189.7 278.2h0.6M195.4 303.7h0.6M187.2 275.3h0.6M193.3 287.4h0.6M187.6 288.9h0.6M198.5 269.8h0.6M197.7 266.4h0.6M197.9 264.7h0.6M182.2 258.2h0.6M186.1 276.2h0.6M187.3 271.7h0.6M186.5 269.9h0.6M185.4 278.5h0.6M184.1 278.7h0.6M180.3 258.2h0.6M193.8 265.6h0.6M188.9 262.7h0.6M181.7 294.1h0.6M182.9 279.5h0.6M185.2 277.8h0.6M179.2 291.1h0.6M189.6 270.0h0.6M194.0 255.2h0.6M182.8 281.0h0.6M199.6 269.4h0.6M201.4 292.5h0.6M181.6 283.4h0.6M196.5 263.2h0.6M199.1 255.2h0.6M198.3 292.2h0.6M200.5 288.2h0.6M190.3 254.9h0.6M201.3 285.6h0.6M194.5 268.8h0.6M181.8 276.3h0.6M192.5 258.9h0.6M191.7 266.3h0.6M184.1 287.2h0.6M186.5 290.6h0.6M187.7 285.8h0.6M180.2 256.0h0.6M187.1 298.1h0.6M192.1 270.6h0.6M183.6 295.1h0.6M192.9 256.9h0.6M189.4 276.8h0.6M190.9 275.4h0.6M187.2 275.7h0.6M184.8 291.3h0.6M195.5 271.4h0.6M187.3 277.7h0.6M202.8 291.3h0.6M183.3 296.5h0.6M181.4 292.2h0.6M189.0 260.5h0.6M185.0 274.0h0.6M196.2 294.7h0.6M196.2 283.6h0.6M192.1 285.6h0.6M193.9 294.6h0.6M191.8 267.8h0.6M182.7 275.7h0.6M187.8 279.1h0.6M182.8 265.3h0.6M195.2 285.2h0.6M186.3 259.9h0.6M191.9 269.6h0.6M194.4 266.8h0.6M189.5 281.3h0.6M184.1 283.8h0.6M178.1 294.4h0.6M185.1 270.6h0.6M186.8 271.5h0.6M183.0 279.0h0.6M183.6 272.3h0.6M189.4 273.6h0.6M182.3 287.2h0.6M202.5 268.2h0.6M194.5 266.7h0.6M186.2 261.6h0.6M183.9 266.1h0.6M187.4 271.9h0.6M204.0 264.5h0.6M192.7 287.7h0.6M194.5 260.5h0.6M180.4 273.2h0.6M196.5 304.4h0.6M183.8 296.6h0.6M188.3 273.6h0.6M186.8 273.6h0.6M180.1 281.6h0.6M208.3 259.1h0.6M200.5 261.6h0.6M186.0 291.0h0.6M192.2 293.3h0.6M198.3 273.2h0.6M184.6 285.6h0.6M192.2 300.3h0.6M192.2 273.0h0.6M182.6 266.3h0.6M182.8 299.1h0.6M188.7 273.5h0.6M188.9 284.8h0.6M194.1 277.0h0.6M187.1 266.6h0.6M188.2 275.3h0.6M184.0 273.0h0.6M197.7 288.0h0.6M190.6 293.6h0.6M189.5 293.1h0.6M188.5 297.0h0.6M192.6 273.1h0.6M179.9 279.1h0.6M189.7 262.4h0.6M187.0 269.1h0.6M190.6 259.8h0.6M188.5 303.4h0.6M195.7 277.0h0.6M199.8 272.2h0.6M194.7 281.5h0.6M185.5 284.1h0.6M206.0 265.6h0.6M182.2 300.6h0.6M183.9 275.8h0.6M185.3 267.1h0.6M192.2 263.6h0.6M181.1 273.9h0.6M192.7 297.0h0.6M188.4 290.0h0.6M198.7 283.8h0.6M194.9 274.6h0.6M180.3 285.1h0.6M182.6 261.2h0.6M187.8 260.0h0.6M189.2 274.7h0.6M187.0 298.2h0.6M194.6 274.1h0.6M194.7 282.8h0.6M186.2 258.9h0.6M183.3 304.2h0.6M189.0 285.1h0.6M201.2 267.4h0.6M188.6 277.6h0.6M183.2 268.4h0.6M210.2 283.0h0.6M192.6 265.1h0.6M182.8 280.1h0.6M186.3 275.0h0.6M186.5 253.5h0.6M191.4 280.4h0.6M192.7 287.0h0.6M202.1 271.9h0.6M190.2 296.1h0.6M185.9 293.3h0.6M185.1 271.2h0.6M180.7 275.5h0.6M204.0 302.7h0.6M189.4 284.6h0.6M197.2 262.8h0.6M185.7 274.9h0.6M184.1 272.8h0.6M191.9 270.4h0.6M192.0 285.4h0.6M187.3 301.8h0.6M189.1 296.9h0.6M187.8 284.6h0.6M189.9 305.3h0.6M186.0 264.7h0.6M184.8 282.8h0.6M178.9 296.6h0.6M185.3 266.8h0.6M185.1 264.8h0.6M180.5 278.2h0.6M182.8 300.8h0.6M183.2 300.3h0.6M181.1 284.0h0.6M200.6 284.8h0.6M183.8 274.5h0.6M189.9 297.4h0.6M189.5 285.7h0.6M180.2 277.9h0.6M197.8 273.1h0.6M184.9 271.8h0.6M197.1 284.2h0.6M191.5 266.9h0.6M185.2 288.8h0.6M192.3 268.9h0.6M180.3 289.9h0.6M200.1 265.4h0.6M189.8 291.8h0.6M204.0 262.9h0.6M187.1 289.5h0.6M188.3 265.8h0.6M195.5 253.2h0.6M195.7 276.2h0.6M188.4 267.2h0.6M186.5 291.4h0.6M190.2 292.4h0.6M192.7 271.5h0.6M186.3 277.5h0.6M185.0 296.2h0.6M179.7 300.6h0.6M183.1 264.4h0.6M188.1 258.8h0.6M200.7 299.5h0.6M199.0 301.3h0.6M197.7 251.3h0.6M193.3 266.8h0.6M194.8 272.9h0.6M185.0 264.0h0.6M192.7 292.1h0.6M180.2 282.0h0.6M191.7 275.2h0.6M186.9 293.3h0.6M198.2 287.0h0.6M193.6 287.4h0.6M184.0 275.9h0.6M188.7 264.0h0.6M194.3 303.0h0.6M203.5 273.7h0.6M184.9 265.7h0.6M193.5 275.8h0.6M197.0 261.6h0.6M189.6 268.5h0.6M190.3 273.8h0.6M188.8 279.2h0.6M187.8 263.7h0.6M188.6 287.7h0.6M200.8 279.9h0.6M184.4 293.2h0.6M186.9 273.6h0.6M188.3 285.4h0.6M179.4 278.5h0.6M188.0 270.9h0.6M200.9 255.1h0.6M188.2 279.7h0.6M190.0 297.4h0.6M182.0 257.4h0.6M184.0 282.5h0.6M186.3 303.7h0.6M190.7 278.7h0.6M193.2 273.7h0.6M192.3 273.8h0.6M185.0 264.6h0.6M185.5 287.2h0.6M185.0 287.3h0.6M187.3 277.4h0.6M198.3 261.4h0.6M188.1 289.9h0.6M193.0 282.9h0.6M199.1 271.6h0.6M189.8 302.0h0.6M180.4 285.5h0.6M193.4 282.5h0.6M192.2 266.6h0.6M190.2 276.5h0.6M191.8 280.4h0.6M202.7 292.0h0.6M204.7 292.2h0.6M192.4 288.6h0.6M198.9 267.5h0.6M178.4 259.0h0.6M194.8 273.8h0.6M187.1 280.1h0.6M195.1 273.1h0.6M183.3 271.7h0.6M194.8 275.9h0.6M193.6 292.3h0.6M187.3 267.3h0.6M180.2 271.1h0.6M181.6 280.9h0.6M179.6 280.5h0.6M186.0 288.8h0.6M181.1 279.3h0.6M194.2 256.3h0.6M191.5 270.4h0.6M182.2 257.3h0.6M189.3 269.6h0.6M186.1 287.7h0.6M205.4 276.6h0.6M185.9 276.1h0.6M190.9 276.4h0.6M187.5 274.4h0.6M183.4 281.4h0.6M185.1 265.1h0.6M188.1 282.2h0.6M200.0 284.3h0.6M197.1 289.5h0.6M180.5 256.5h0.6M191.5 275.0h0.6M199.2 259.3h0.6M188.1 286.1h0.6M191.9 260.4h0.6M178.2 271.0h0.6M204.3 266.3h0.6M185.3 289.2h0.6M192.0 296.1h0.6M183.6 268.2h0.6M194.7 274.2h0.6M188.5 263.3h0.6M183.0 266.6h0.6M184.0 267.6h0.6M186.3 272.5h0.6M196.5 301.4h0.6M186.2 298.6h0.6M190.6 257.6h0.6M196.6 270.2h0.6M200.1 296.7h0.6M185.0 264.0h0.6M196.5 265.4h0.6M188.0 290.8h0.6M187.7 287.2h0.6M202.8 282.1h0.6M193.8 269.5h0.6M188.9 284.9h0.6M189.0 269.2h0.6M184.4 278.6h0.6M182.2 258.8h0.6M190.6 277.1h0.6M192.9 270.1h0.6M187.7 264.9h0.6M185.8 288.9h0.6M201.3 273.7h0.6M192.0 267.5h0.6M178.1 269.8h0.6M187.0 273.3h0.6M182.9 279.9h0.6M197.0 270.2h0.6M191.7 285.4h0.6M196.0 286.5h0.6M196.0 278.6h0.6M179.5 262.9h0.6M185.5 264.4h0.6M183.3 274.9h0.6M188.6 272.0h0.6M191.3 303.8h0.6M181.7 270.2h0.6M180.4 292.9h0.6M195.2 259.7h0.6M192.3 258.8h0.6M191.6 278.0h0.6M189.3 253.8h0.6M190.3 280.3h0.6M198.4 279.5h0.6M188.6 268.4h0.6M192.8 288.9h0.6M194.4 290.1h0.6M187.8 258.9h0.6M189.5 297.6h0.6M198.0 268.8h0.6M204.0 296.7h0.6M195.1 264.8h0.6M194.0 290.9h0.6M205.1 272.3h0.6M187.1 294.4h0.6M197.5 290.3h0.6M185.5 269.6h0.6M191.0 284.7h0.6M195.8 268.5h0.6M188.5 276.4h0.6M196.1 258.8h0.6M189.0 273.5h0.6M192.5 277.7h0.6M194.0 260.9h0.6M186.0 266.5h0.6M197.0 295.5h0.6M189.8 287.8h0.6M187.6 269.7h0.6M199.1 277.1h0.6M180.7 286.4h0.6M186.9 283.9h0.6M183.0 282.5h0.6M192.5 289.8h0.6M189.4 282.8h0.6M187.2 258.0h0.6M184.8 271.8h0.6M186.9 280.6h0.6M191.0 293.0h0.6M203.7 264.5h0.6M190.4 284.5h0.6M187.5 287.8h0.6M187.8 253.0h0.6M187.4 304.8h0.6M188.5 306.6h0.6M205.5 282.7h0.6M187.2 288.1h0.6M200.0 303.3h0.6M191.9 267.0h0.6M200.6 254.0h0.6M187.8 279.8h0.6M193.2 270.7h0.6M190.6 291.3h0.6M189.8 267.5h0.6M195.2 281.2h0.6M182.3 269.1h0.6M203.2 276.5h0.6M193.4 272.4h0.6M188.4 278.3h0.6M185.8 289.4h0.6M197.3 290.1h0.6M186.6 270.3h0.6M187.2 262.3h0.6M181.1 289.8h0.6M187.4 289.3h0.6M190.9 291.8h0.6M199.5 261.3h0.6M200.6 280.9h0.6M183.8 271.8h0.6M183.4 284.0h0.6M193.3 260.7h0.6M192.3 260.7h0.6M196.9 295.2h0.6M193.0 286.0h0.6M194.8 267.9h0.6M204.2 273.2h0.6M193.7 268.3h0.6M178.7 271.6h0.6M205.0 279.1h0.6M198.2 267.5h0.6M190.2 278.7h0.6M183.7 280.0h0.6M196.8 266.8h0.6M194.3 289.4h0.6M193.6 298.8h0.6M189.4 268.1h0.6M195.2 285.9h0.6M183.7 273.3h0.6M190.0 299.9h0.6M192.4 269.1h0.6M185.1 281.4h0.6M182.2 270.6h0.6M196.5 273.6h0.6M190.6 255.9h0.6M181.7 289.2h0.6M185.7 282.9h0.6M198.2 267.4h0.6M183.4 294.5h0.6M189.4 276.4h0.6M195.9 264.8h0.6M189.0 260.9h0.6M179.3 287.6h0.6M198.3 281.1h0.6M178.3 276.6h0.6M191.6 278.0h0.6M197.9 266.9h0.6M191.5 273.5h0.6M188.6 273.6h0.6M192.8 261.5h0.6M186.9 283.1h0.6M195.6 293.3h0.6M190.6 294.2h0.6M198.7 276.6h0.6M203.9 299.7h0.6M187.0 276.7h0.6M185.7 276.7h0.6M191.8 282.1h0.6M186.2 285.1h0.6M198.2 290.9h0.6M194.1 273.7h0.6M186.9 301.4h0.6M189.5 267.9h0.6M195.9 301.2h0.6M178.0 301.2h0.6M181.9 290.3h0.6M189.8 269.9h0.6M182.1 264.2h0.6M179.9 273.2h0.6M196.7 274.8h0.6M203.5 274.9h0.6M184.0 278.2h0.6M201.4 268.1h0.6M189.1 292.2h0.6M185.5 285.4h0.6M187.9 275.5h0.6M188.2 274.8h0.6M194.7 256.5h0.6M179.6 271.6h0.6M180.1 276.3h0.6M184.1 292.0h0.6M182.0 285.7h0.6M182.6 274.4h0.6M187.6 284.8h0.6M178.2 265.8h0.6M188.3 295.8h0.6M183.5 266.8h0.6M193.9 278.2h0.6M188.5 302.1h0.6M183.1 287.5h0.6M202.6 271.0h0.6M205.4 287.3h0.6M191.1 297.5h0.6M190.7 275.3h0.6M178.1 287.4h0.6M184.8 265.6h0.6M205.0 293.6h0.6M200.2 302.3h0.6M179.4 303.5h0.6M181.3 263.6h0.6M191.5 273.2h0.6M201.6 273.0h0.6M193.8 277.7h0.6M183.5 274.3h0.6M185.8 280.3h0.6M187.9 289.7h0.6M186.9 281.9h0.6M201.1 284.8h0.6M209.5 279.8h0.6M191.4 286.5h0.6M197.7 288.9h0.6M188.9 275.5h0.6M186.2 278.3h0.6M177.9 261.4h0.6M180.6 297.7h0.6M191.0 292.3h0.6M187.4 282.7h0.6M183.0 251.4h0.6M187.2 271.2h0.6M184.5 259.0h0.6M193.3 288.8h0.6M193.0 292.9h0.6M183.0 286.2h0.6M188.5 271.4h0.6M189.1 265.0h0.6M186.6 277.7h0.6M196.2 288.9h0.6M201.6 287.2h0.6M193.4 300.6h0.6M185.5 259.8h0.6M195.9 274.8h0.6M196.6 287.1h0.6M183.9 277.2h0.6M181.0 278.7h0.6M187.8 289.2h0.6M202.9 281.8h0.6M187.0 279.8h0.6M188.4 271.9h0.6M190.8 262.8h0.6M182.9 281.5h0.6M196.0 285.2h0.6M187.1 293.5h0.6M191.4 301.9h0.6M192.8 278.1h0.6M180.3 295.6h0.6M196.3 297.0h0.6M185.1 263.4h0.6M199.2 278.2h0.6M179.8 297.4h0.6M197.1 251.1h0.6M191.6 278.0h0.6M193.6 261.5h0.6M178.6 290.5h0.6M192.3 288.2h0.6M191.6 309.6h0.6M197.9 276.0h0.6M188.0 268.1h0.6M190.5 307.2h0.6M194.3 276.8h0.6M188.5 267.6h0.6M191.8 262.7h0.6M194.5 274.9h0.6M184.5 282.3h0.6M185.5 277.5h0.6M183.6 284.5h0.6M193.2 290.0h0.6M193.0 295.9h0.6M188.8 254.4h0.6M178.1 287.4h0.6M195.3 294.0h0.6M190.6 258.6h0.6M181.6 297.6h0.6M200.6 271.9h0.6M195.3 288.2h0.6M186.3 292.3h0.6M182.3 285.9h0.6M193.4 275.8h0.6M184.7 299.3h0.6M183.0 265.5h0.6M178.5 274.7h0.6M187.5 266.6h0.6M197.2 279.6h0.6M193.3 258.7h0.6M186.6 299.7h0.6M196.9 284.5h0.6M197.6 288.4h0.6M191.4 283.9h0.6M192.7 272.8h0.6M190.5 278.2h0.6M206.8 285.0h0.6M193.8 285.3h0.6M190.2 274.2h0.6M195.4 258.6h0.6M197.4 299.9h0.6M187.9 273.8h0.6M204.2 276.7h0.6M185.5 292.1h0.6M189.6 271.9h0.6M183.8 268.8h0.6M185.0 274.9h0.6M187.0 273.8h0.6M187.2 290.4h0.6M191.8 309.8h0.6M193.7 277.2h0.6M188.4 278.6h0.6M192.4 273.4h0.6M184.0 292.2h0.6M189.4 290.4h0.6M209.3 259.7h0.6M182.6 268.7h0.6M188.6 302.0h0.6M192.7 293.9h0.6M186.7 269.0h0.6M192.5 264.1h0.6M201.5 271.5h0.6M183.5 263.8h0.6M179.4 277.8h0.6M184.8 282.8h0.6M185.6 284.8h0.6M190.8 293.7h0.6M194.7 270.9h0.6M198.5 270.4h0.6M182.4 290.6h0.6M179.8 268.8h0.6M191.3 265.3h0.6" stroke="#000" stroke-width="0.55" fill="none" opacity="0.5"/>
<path d="M201.3 287.3h0.6M194.0 265.1h0.6M191.9 269.4h0.6M198.2 252.2h0.6M191.1 272.9h0.6M194.2 279.3h0.6M189.9 278.5h0.6M185.5 283.8h0.6M194.1 270.7h0.6M198.1 264.5h0.6M182.7 277.3h0.6M192.5 268.4h0.6M188.3 276.8h0.6M196.8 262.4h0.6M184.3 279.1h0.6M186.1 285.3h0.6M199.8 266.0h0.6M204.7 269.3h0.6M191.5 270.9h0.6M194.5 280.8h0.6M193.9 264.7h0.6M190.3 255.9h0.6M186.4 273.8h0.6M192.0 266.1h0.6M193.3 264.2h0.6M191.8 272.6h0.6M197.4 282.7h0.6M186.5 267.9h0.6M182.4 292.8h0.6M180.4 271.2h0.6M183.5 272.4h0.6M193.1 278.3h0.6M188.6 279.3h0.6M188.1 262.0h0.6M187.5 263.8h0.6M201.1 281.2h0.6M191.4 278.5h0.6M182.3 282.0h0.6M186.0 271.7h0.6M193.3 270.7h0.6M191.8 276.8h0.6M198.3 287.8h0.6M199.4 273.3h0.6M181.0 260.3h0.6M189.3 278.5h0.6M198.4 267.9h0.6M188.3 272.9h0.6M193.1 279.2h0.6M196.2 269.7h0.6M178.4 267.5h0.6M206.7 284.9h0.6M194.0 295.3h0.6M186.2 276.2h0.6M194.9 264.7h0.6M188.8 279.3h0.6M193.4 266.0h0.6M191.3 279.0h0.6M190.9 264.3h0.6M194.1 270.7h0.6M192.7 259.7h0.6M191.7 268.1h0.6M184.1 288.2h0.6M192.8 274.6h0.6M196.8 286.7h0.6M197.6 264.9h0.6M193.3 265.8h0.6M190.8 276.1h0.6M198.6 260.9h0.6M196.3 276.1h0.6M186.4 302.6h0.6M191.5 284.7h0.6M191.8 276.1h0.6M197.0 272.7h0.6M192.2 285.4h0.6M198.2 298.1h0.6M193.8 253.6h0.6M184.2 277.8h0.6M186.6 257.1h0.6M198.5 255.1h0.6M183.1 274.0h0.6M198.7 280.7h0.6M185.8 280.2h0.6M186.5 275.4h0.6M194.1 270.5h0.6M199.7 281.3h0.6M203.6 266.3h0.6M197.2 278.6h0.6M191.0 277.6h0.6M192.6 279.4h0.6M191.1 273.1h0.6M187.9 267.8h0.6M193.3 275.6h0.6M194.3 281.7h0.6M188.0 264.2h0.6M182.9 285.9h0.6M202.9 276.2h0.6M195.7 264.2h0.6M192.9 287.3h0.6M193.9 257.3h0.6M193.8 272.4h0.6M197.0 289.9h0.6M192.5 277.7h0.6M197.7 263.3h0.6M191.0 254.9h0.6M193.7 280.1h0.6M194.2 277.3h0.6M188.1 263.7h0.6M199.4 279.5h0.6M190.3 278.9h0.6M188.1 262.1h0.6M194.2 271.6h0.6M193.9 297.6h0.6M194.6 274.4h0.6M203.7 264.2h0.6M191.5 267.5h0.6M191.8 296.7h0.6M181.5 286.0h0.6M184.9 255.7h0.6M191.4 271.5h0.6M190.6 260.7h0.6M196.0 258.9h0.6M195.8 302.6h0.6M185.0 275.4h0.6M193.0 256.3h0.6M192.4 283.1h0.6M197.6 280.0h0.6M189.1 271.5h0.6M187.5 285.2h0.6M188.3 261.3h0.6M189.1 290.8h0.6M183.5 282.2h0.6M196.7 267.0h0.6M193.6 256.9h0.6M194.6 277.8h0.6M188.2 274.7h0.6M192.6 279.0h0.6M196.4 284.3h0.6M191.9 279.1h0.6M197.4 290.7h0.6M193.1 268.0h0.6M188.8 271.9h0.6M182.9 261.5h0.6M196.3 294.5h0.6M200.2 266.4h0.6M199.3 276.8h0.6M189.7 287.2h0.6M197.7 282.7h0.6M195.8 283.6h0.6M191.0 270.0h0.6M189.3 282.7h0.6M195.3 283.6h0.6M190.8 270.3h0.6M192.6 273.4h0.6M191.3 288.4h0.6M189.2 275.9h0.6M193.5 273.9h0.6M191.5 289.4h0.6M188.2 281.4h0.6M197.9 283.7h0.6M204.9 264.0h0.6M189.2 277.5h0.6M195.7 279.5h0.6M189.0 269.4h0.6M201.5 280.7h0.6M196.5 282.5h0.6M202.8 272.0h0.6M194.6 256.8h0.6M190.9 276.9h0.6M196.4 265.9h0.6M185.3 264.6h0.6M181.1 262.1h0.6M192.0 278.4h0.6M200.8 275.1h0.6M188.4 275.5h0.6M190.6 284.4h0.6M198.6 255.7h0.6M191.1 295.2h0.6M199.4 271.1h0.6M194.8 271.6h0.6M197.1 276.1h0.6M195.8 270.5h0.6M191.6 277.2h0.6M190.7 260.4h0.6M185.6 275.9h0.6M187.8 263.6h0.6M188.7 280.0h0.6M193.4 270.4h0.6M200.6 269.3h0.6M184.1 275.4h0.6M194.0 276.1h0.6M194.2 295.4h0.6M190.3 276.6h0.6M191.9 254.1h0.6M185.5 262.6h0.6M190.4 259.4h0.6M199.9 271.1h0.6M186.7 264.3h0.6M192.3 265.4h0.6M186.1 259.0h0.6M191.8 290.3h0.6M192.1 263.1h0.6M204.2 273.6h0.6M182.5 274.5h0.6M185.3 280.1h0.6M191.9 284.2h0.6M186.5 275.7h0.6M200.9 269.0h0.6M186.2 267.9h0.6M193.0 267.7h0.6M194.3 283.7h0.6M187.2 255.2h0.6M186.8 254.6h0.6M187.5 268.7h0.6M182.3 271.8h0.6M191.3 254.3h0.6M189.1 253.7h0.6M194.7 267.7h0.6M193.9 285.3h0.6M194.9 270.4h0.6M192.9 265.5h0.6M191.0 288.7h0.6M188.0 269.2h0.6M192.4 274.1h0.6M195.2 258.2h0.6M188.3 269.3h0.6M192.6 276.8h0.6M193.3 270.9h0.6M186.1 258.3h0.6M184.6 278.8h0.6M199.6 261.4h0.6M183.5 266.3h0.6M192.2 264.5h0.6M189.7 277.0h0.6M193.0 265.3h0.6M184.0 268.5h0.6M196.8 252.6h0.6M199.3 271.9h0.6M199.2 263.3h0.6M186.7 256.2h0.6M192.3 271.4h0.6M189.9 271.0h0.6M193.4 261.9h0.6M196.0 253.7h0.6M188.4 273.7h0.6M189.6 271.8h0.6M182.5 266.8h0.6M190.7 255.4h0.6M194.0 257.1h0.6M186.4 256.5h0.6M191.9 261.8h0.6M194.1 278.5h0.6M189.0 275.5h0.6M200.4 252.7h0.6M181.6 288.2h0.6M186.1 299.6h0.6M195.7 268.7h0.6M191.5 278.8h0.6M187.7 266.8h0.6M191.8 252.4h0.6M189.5 272.9h0.6M191.2 271.7h0.6M192.8 280.3h0.6M189.1 278.7h0.6M193.8 278.3h0.6M195.7 259.4h0.6M192.5 273.8h0.6M185.8 264.6h0.6M190.6 290.8h0.6M197.0 270.9h0.6M191.6 254.2h0.6M191.6 281.2h0.6M189.2 276.4h0.6M198.9 267.7h0.6M183.0 269.8h0.6M190.6 298.9h0.6M190.9 269.7h0.6M196.9 263.1h0.6M189.6 269.2h0.6M190.4 274.7h0.6M197.5 266.1h0.6M195.2 271.7h0.6M194.7 284.6h0.6M190.4 266.3h0.6M193.5 269.9h0.6M201.1 268.6h0.6M188.3 291.6h0.6M187.8 279.2h0.6M188.3 278.0h0.6M200.2 285.5h0.6M189.4 277.1h0.6M198.1 272.6h0.6M201.8 287.7h0.6M201.0 271.8h0.6M193.9 258.9h0.6M186.9 277.6h0.6M187.8 272.0h0.6M185.9 264.3h0.6M185.1 274.8h0.6M187.8 273.0h0.6M195.0 267.9h0.6M191.9 295.6h0.6M194.8 288.3h0.6M200.0 280.8h0.6M194.7 254.8h0.6M194.5 261.3h0.6M184.5 271.0h0.6M198.1 277.9h0.6M195.8 279.9h0.6M196.1 260.7h0.6M185.9 272.6h0.6M197.6 271.3h0.6M187.8 266.1h0.6M189.2 264.9h0.6M185.9 288.5h0.6M192.9 254.5h0.6M192.9 277.2h0.6M196.5 261.0h0.6M181.6 295.7h0.6M184.7 256.9h0.6M192.8 283.3h0.6M197.3 263.0h0.6M192.0 263.9h0.6M191.8 264.5h0.6M205.6 284.1h0.6M190.8 270.2h0.6M199.4 264.4h0.6M190.4 266.8h0.6M192.0 289.5h0.6M188.3 258.6h0.6M185.6 265.1h0.6M184.1 258.5h0.6M187.1 276.8h0.6M193.2 267.8h0.6M193.8 272.0h0.6M191.2 262.3h0.6M196.2 271.2h0.6M190.6 267.7h0.6M192.6 270.6h0.6M185.0 265.2h0.6M184.6 298.5h0.6M182.0 270.4h0.6M195.9 269.7h0.6M191.1 260.8h0.6M187.7 264.0h0.6M185.3 269.9h0.6M195.2 281.1h0.6M201.2 277.8h0.6M209.9 273.6h0.6M185.8 256.5h0.6M193.3 280.7h0.6M197.1 272.2h0.6M199.3 272.6h0.6M189.8 270.3h0.6M192.5 278.5h0.6M185.2 260.8h0.6M198.5 268.2h0.6M198.5 278.9h0.6M193.7 284.8h0.6M191.2 279.1h0.6M196.6 283.3h0.6M186.8 271.8h0.6M200.5 279.8h0.6M199.7 288.6h0.6M188.9 272.0h0.6M200.2 278.0h0.6M187.3 277.1h0.6M194.4 266.7h0.6M190.0 282.0h0.6M196.1 260.6h0.6M187.1 269.0h0.6M192.2 271.4h0.6M187.5 275.6h0.6M180.8 263.1h0.6M192.2 272.0h0.6M191.4 275.8h0.6M193.0 268.7h0.6M200.9 271.0h0.6M206.5 254.4h0.6M197.0 258.7h0.6M182.6 261.7h0.6M191.5 261.2h0.6M189.4 276.7h0.6M188.4 281.8h0.6M187.9 291.7h0.6M191.8 257.8h0.6M195.9 274.5h0.6M183.7 292.7h0.6M189.5 278.0h0.6M207.0 264.7h0.6M188.0 276.9h0.6M178.8 283.6h0.6M187.2 287.3h0.6M198.9 260.1h0.6M184.7 285.5h0.6M185.2 272.4h0.6M194.7 281.4h0.6M192.3 263.6h0.6M196.8 277.2h0.6M198.2 261.1h0.6M200.8 277.8h0.6M190.3 278.7h0.6M191.6 252.5h0.6M188.4 275.8h0.6M193.6 274.6h0.6M187.8 261.0h0.6M189.6 274.0h0.6M191.4 275.7h0.6M188.2 265.7h0.6M188.6 268.9h0.6M188.6 271.3h0.6M189.4 286.2h0.6M188.0 261.9h0.6M194.3 289.6h0.6M191.1 259.1h0.6M196.2 260.7h0.6M191.6 269.0h0.6M185.4 280.6h0.6M193.8 270.2h0.6M193.5 259.3h0.6M190.2 275.3h0.6M195.8 252.2h0.6M194.5 260.6h0.6M180.1 280.4h0.6M198.0 260.8h0.6M196.4 272.5h0.6M196.3 292.0h0.6M198.8 273.7h0.6M185.5 264.2h0.6M190.2 265.3h0.6M194.0 278.4h0.6M202.3 284.3h0.6M184.8 298.5h0.6M191.9 267.5h0.6M182.1 273.4h0.6M204.9 272.0h0.6M195.1 276.7h0.6M197.9 264.3h0.6M187.5 279.1h0.6M197.5 265.1h0.6M194.4 283.0h0.6M194.2 267.7h0.6M204.0 288.0h0.6M195.7 270.7h0.6M185.0 267.5h0.6M192.4 261.8h0.6M198.0 258.9h0.6M201.4 267.9h0.6M187.7 269.2h0.6M195.0 283.5h0.6M185.9 279.2h0.6M189.5 257.7h0.6M185.6 285.1h0.6M184.4 265.3h0.6M192.2 288.2h0.6M180.0 273.6h0.6M192.9 254.0h0.6M189.4 268.4h0.6M195.1 268.5h0.6M188.9 274.1h0.6M198.0 257.7h0.6M192.2 269.4h0.6M191.6 281.8h0.6M188.5 255.7h0.6M190.7 257.9h0.6M201.1 286.7h0.6M185.8 271.8h0.6M182.7 269.8h0.6M189.2 292.3h0.6M194.6 274.3h0.6M198.2 267.5h0.6M195.8 264.4h0.6M188.5 292.8h0.6M187.7 282.0h0.6M187.6 273.6h0.6M184.3 283.7h0.6M187.7 256.1h0.6M195.9 257.9h0.6M184.3 271.9h0.6M190.9 273.0h0.6M190.1 291.6h0.6M185.2 264.2h0.6M190.3 277.6h0.6M200.3 272.0h0.6M196.4 276.2h0.6M208.8 264.6h0.6M199.8 271.4h0.6M193.3 279.3h0.6M199.1 264.5h0.6M191.1 261.5h0.6M192.8 271.1h0.6M187.2 269.1h0.6M194.0 285.1h0.6M193.5 273.3h0.6M185.7 265.0h0.6M191.9 251.3h0.6M188.9 272.1h0.6M201.0 252.8h0.6M184.1 280.3h0.6M177.9 296.0h0.6M193.0 281.6h0.6M195.2 253.4h0.6M195.2 261.3h0.6M190.6 271.8h0.6M193.1 280.3h0.6M192.1 284.0h0.6M193.6 265.7h0.6M194.4 267.0h0.6M196.5 267.6h0.6M189.9 282.4h0.6M181.5 276.8h0.6M189.0 279.3h0.6M195.4 261.5h0.6M194.5 289.3h0.6M189.6 280.0h0.6M205.6 251.0h0.6M190.6 291.9h0.6M191.0 270.2h0.6M196.2 278.7h0.6M199.2 278.0h0.6M193.3 287.5h0.6M194.2 277.5h0.6M201.8 266.2h0.6M190.8 282.0h0.6M189.4 263.6h0.6M189.4 278.9h0.6M187.5 267.9h0.6M193.5 262.2h0.6M188.7 273.8h0.6M193.2 263.2h0.6M188.6 281.5h0.6M189.1 271.3h0.6M191.0 264.4h0.6M195.8 268.5h0.6M181.9 289.2h0.6M190.4 273.1h0.6M193.5 266.8h0.6M185.6 261.3h0.6M188.3 278.8h0.6M189.9 276.6h0.6M178.5 260.6h0.6M192.3 259.3h0.6M195.8 269.1h0.6M190.0 260.5h0.6M190.6 255.3h0.6M196.8 274.6h0.6M189.9 259.6h0.6M194.1 262.2h0.6M197.4 278.6h0.6M187.6 269.0h0.6M201.6 278.0h0.6M197.1 265.6h0.6M195.9 257.4h0.6M195.3 281.6h0.6M190.4 276.1h0.6M189.5 268.3h0.6M193.0 276.0h0.6M192.5 276.3h0.6M186.0 255.6h0.6M182.4 256.9h0.6M195.8 278.3h0.6M208.8 268.1h0.6M189.7 269.9h0.6M183.9 282.0h0.6M186.5 262.8h0.6M192.7 265.8h0.6M194.4 279.1h0.6M196.0 271.0h0.6M186.8 271.1h0.6M185.5 255.0h0.6M182.8 281.9h0.6M183.8 283.5h0.6M191.2 267.4h0.6M191.9 288.4h0.6M183.6 276.0h0.6M188.9 259.9h0.6M179.9 260.8h0.6M186.1 271.4h0.6M196.4 275.5h0.6M190.1 289.6h0.6" stroke="#000" stroke-width="0.55" fill="none" opacity="0.5"/>
<line x1="192.5" y1="240.5" x2="192.5" y2="310.8" stroke="#222" stroke-width="0.9"/>
<line x1="177.6" y1="292.4" x2="249" y2="292.4" stroke="#222" stroke-width="0.9"/>
<text x="180.2" y="250.4" font-size="7.4" font-weight="normal" text-anchor="start" fill="#000"  stroke="#000" stroke-width="0.07" textLength="20.7" lengthAdjust="spacingAndGlyphs">70.5%</text>
<text x="226.9" y="250.4" font-size="7.4" font-weight="normal" text-anchor="start" fill="#000"  stroke="#000" stroke-width="0.07" textLength="21.3" lengthAdjust="spacingAndGlyphs">20.8%</text>
<text x="229" y="304.5" font-size="7.4" font-weight="normal" text-anchor="start" fill="#000"  stroke="#000" stroke-width="0.07" textLength="16.2" lengthAdjust="spacingAndGlyphs">2.9%</text>
<line x1="11.8" y1="306.3" x2="11.8" y2="249.4" stroke="#111" stroke-width="1.2"/>
<polygon points="11.8,245.4 9.2,251.4 14.4,251.4" fill="#000" stroke="#000" stroke-width="0"/>
<text transform="translate(8.9 272.7) rotate(-90)" font-size="10.2" text-anchor="middle" fill="#000" textLength="25.9" lengthAdjust="spacingAndGlyphs" stroke="#000" stroke-width="0.15">CD41</text>
<line x1="23.3" y1="316.2" x2="237.6" y2="316.2" stroke="#111" stroke-width="1.2"/>
<polygon points="241.6,316.2 235.6,313.6 235.6,318.8" fill="#000" stroke="#000" stroke-width="0"/>
<text x="121.8" y="329" font-size="11" font-weight="normal" text-anchor="start" fill="#000"  stroke="#000" stroke-width="0.15">GFP</text>
<text x="291.2" y="241.5" font-size="13" font-weight="bold" text-anchor="start" fill="#111"  stroke="#111" stroke-width="0.3">G</text>
<text x="322.9" y="241.5" font-size="8.8" font-weight="normal" text-anchor="start" fill="#000"  stroke="#000" stroke-width="0.15" textLength="72.1" lengthAdjust="spacingAndGlyphs">Definitive Colonies</text>
<text x="439.8" y="241.5" font-size="9" font-weight="normal" text-anchor="start" fill="#000"  stroke="#000" stroke-width="0.15" textLength="73.2" lengthAdjust="spacingAndGlyphs">Prim Erythrocytes</text>
<rect x="317.5" y="243.5" width="85.5" height="75.6" fill="#fff" stroke="#444" stroke-width="1"/>
<text x="307.25" y="322.1" font-size="8.9" font-weight="normal" text-anchor="start" fill="#000"  stroke="#000" stroke-width="0.15" textLength="4.25" lengthAdjust="spacingAndGlyphs">0</text>
<text x="303.0" y="296.90000000000003" font-size="8.9" font-weight="normal" text-anchor="start" fill="#000"  stroke="#000" stroke-width="0.15" textLength="8.5" lengthAdjust="spacingAndGlyphs">15</text>
<text x="303.0" y="271.70000000000005" font-size="8.9" font-weight="normal" text-anchor="start" fill="#000"  stroke="#000" stroke-width="0.15" textLength="8.5" lengthAdjust="spacingAndGlyphs">30</text>
<text x="303.0" y="246.50000000000003" font-size="8.9" font-weight="normal" text-anchor="start" fill="#000"  stroke="#000" stroke-width="0.15" textLength="8.5" lengthAdjust="spacingAndGlyphs">45</text>
<rect x="321" y="296" width="21.30000000000001" height="23.100000000000023" fill="#333" stroke="#222" stroke-width="0.9"/>
<line x1="331.65" y1="292.3" x2="331.65" y2="299.7" stroke="#222" stroke-width="0.9"/>
<line x1="328.54999999999995" y1="292.3" x2="334.75" y2="292.3" stroke="#222" stroke-width="0.9"/>
<line x1="328.54999999999995" y1="299.7" x2="334.75" y2="299.7" stroke="#222" stroke-width="0.9"/>
<rect x="350" y="309.2" width="21.19999999999999" height="9.900000000000034" fill="#333" stroke="#222" stroke-width="0.9"/>
<line x1="360.6" y1="309.0" x2="360.6" y2="309.2" stroke="#222" stroke-width="0.9"/>
<line x1="360.6" y1="309.0" x2="360.6" y2="309.0" stroke="#222" stroke-width="0.9"/>
<rect x="378.4" y="274.8" width="21.0" height="44.30000000000001" fill="#333" stroke="#222" stroke-width="0.9"/>
<line x1="388.9" y1="273.2" x2="388.9" y2="276.0" stroke="#222" stroke-width="0.9"/>
<line x1="386.15" y1="273.2" x2="391.65" y2="273.2" stroke="#222" stroke-width="0.9"/>
<line x1="386.15" y1="276.0" x2="391.65" y2="276.0" stroke="#222" stroke-width="0.9"/>
<text transform="translate(298.8 316.9) rotate(-90)" font-size="9" text-anchor="start" fill="#000" stroke="#000" stroke-width="0.15">Colonies /10<tspan font-size="6" dy="-3">3</tspan><tspan dy="3"> cells</tspan></text>
<text x="324.9" y="328.4" font-size="9" font-weight="normal" text-anchor="start" fill="#000"  stroke="#000" stroke-width="0.15" textLength="13.2" lengthAdjust="spacingAndGlyphs">WT</text>
<text x="350.6" y="328.4" font-size="9" font-weight="normal" text-anchor="start" fill="#000"  stroke="#000" stroke-width="0.15" textLength="17" lengthAdjust="spacingAndGlyphs">GFP</text>
<text x="367.9" y="325.2" font-size="6.5" font-weight="normal" text-anchor="start" fill="#000"  stroke="#000" stroke-width="0.07">-</text>
<text x="378.6" y="328.4" font-size="9" font-weight="normal" text-anchor="start" fill="#000"  stroke="#000" stroke-width="0.15" textLength="17" lengthAdjust="spacingAndGlyphs">GFP</text>
<text x="395.8" y="325.2" font-size="6" font-weight="normal" text-anchor="start" fill="#000"  stroke="#000" stroke-width="0.07">+</text>
<rect x="434.5" y="243.5" width="83.2" height="75.6" fill="#fff" stroke="#444" stroke-width="1"/>
<text x="425.95" y="322.1" font-size="8.9" font-weight="normal" text-anchor="start" fill="#000"  stroke="#000" stroke-width="0.15" textLength="4.25" lengthAdjust="spacingAndGlyphs">0</text>
<text x="421.7" y="296.90000000000003" font-size="8.9" font-weight="normal" text-anchor="start" fill="#000"  stroke="#000" stroke-width="0.15" textLength="8.5" lengthAdjust="spacingAndGlyphs">50</text>
<text x="417.45" y="271.70000000000005" font-size="8.9" font-weight="normal" text-anchor="start" fill="#000"  stroke="#000" stroke-width="0.15" textLength="12.75" lengthAdjust="spacingAndGlyphs">100</text>
<text x="417.45" y="246.50000000000003" font-size="8.9" font-weight="normal" text-anchor="start" fill="#000"  stroke="#000" stroke-width="0.15" textLength="12.75" lengthAdjust="spacingAndGlyphs">150</text>
<rect x="437" y="303.5" width="21.600000000000023" height="15.600000000000023" fill="#c6c6c6" stroke="#333" stroke-width="0.9"/>
<line x1="447.8" y1="300.5" x2="447.8" y2="306.4" stroke="#222" stroke-width="0.9"/>
<line x1="444.8" y1="300.5" x2="450.8" y2="300.5" stroke="#222" stroke-width="0.9"/>
<line x1="444.8" y1="306.4" x2="450.8" y2="306.4" stroke="#222" stroke-width="0.9"/>
<rect x="466.2" y="311.7" width="20.5" height="7.400000000000034" fill="#c6c6c6" stroke="#333" stroke-width="0.9"/>
<line x1="476.45" y1="310.0" x2="476.45" y2="313.2" stroke="#222" stroke-width="0.9"/>
<line x1="473.45" y1="310.0" x2="479.45" y2="310.0" stroke="#222" stroke-width="0.9"/>
<line x1="473.45" y1="313.2" x2="479.45" y2="313.2" stroke="#222" stroke-width="0.9"/>
<rect x="493.6" y="267.3" width="21.399999999999977" height="51.80000000000001" fill="#c6c6c6" stroke="#333" stroke-width="0.9"/>
<line x1="504.3" y1="252.8" x2="504.3" y2="282.3" stroke="#222" stroke-width="0.9"/>
<line x1="500.8" y1="252.8" x2="507.8" y2="252.8" stroke="#222" stroke-width="0.9"/>
<line x1="500.8" y1="282.3" x2="507.8" y2="282.3" stroke="#222" stroke-width="0.9"/>
<text x="441.3" y="328.4" font-size="9" font-weight="normal" text-anchor="start" fill="#000"  stroke="#000" stroke-width="0.15" textLength="13.2" lengthAdjust="spacingAndGlyphs">WT</text>
<text x="466.3" y="328.4" font-size="9" font-weight="normal" text-anchor="start" fill="#000"  stroke="#000" stroke-width="0.15" textLength="17" lengthAdjust="spacingAndGlyphs">GFP</text>
<text x="483.6" y="325.2" font-size="6.5" font-weight="normal" text-anchor="start" fill="#000"  stroke="#000" stroke-width="0.07">-</text>
<text x="494.1" y="328.4" font-size="9" font-weight="normal" text-anchor="start" fill="#000"  stroke="#000" stroke-width="0.15" textLength="17" lengthAdjust="spacingAndGlyphs">GFP</text>
<text x="511.4" y="325.2" font-size="6" font-weight="normal" text-anchor="start" fill="#000"  stroke="#000" stroke-width="0.07">+</text>
</g>
</svg>
</body></html>
